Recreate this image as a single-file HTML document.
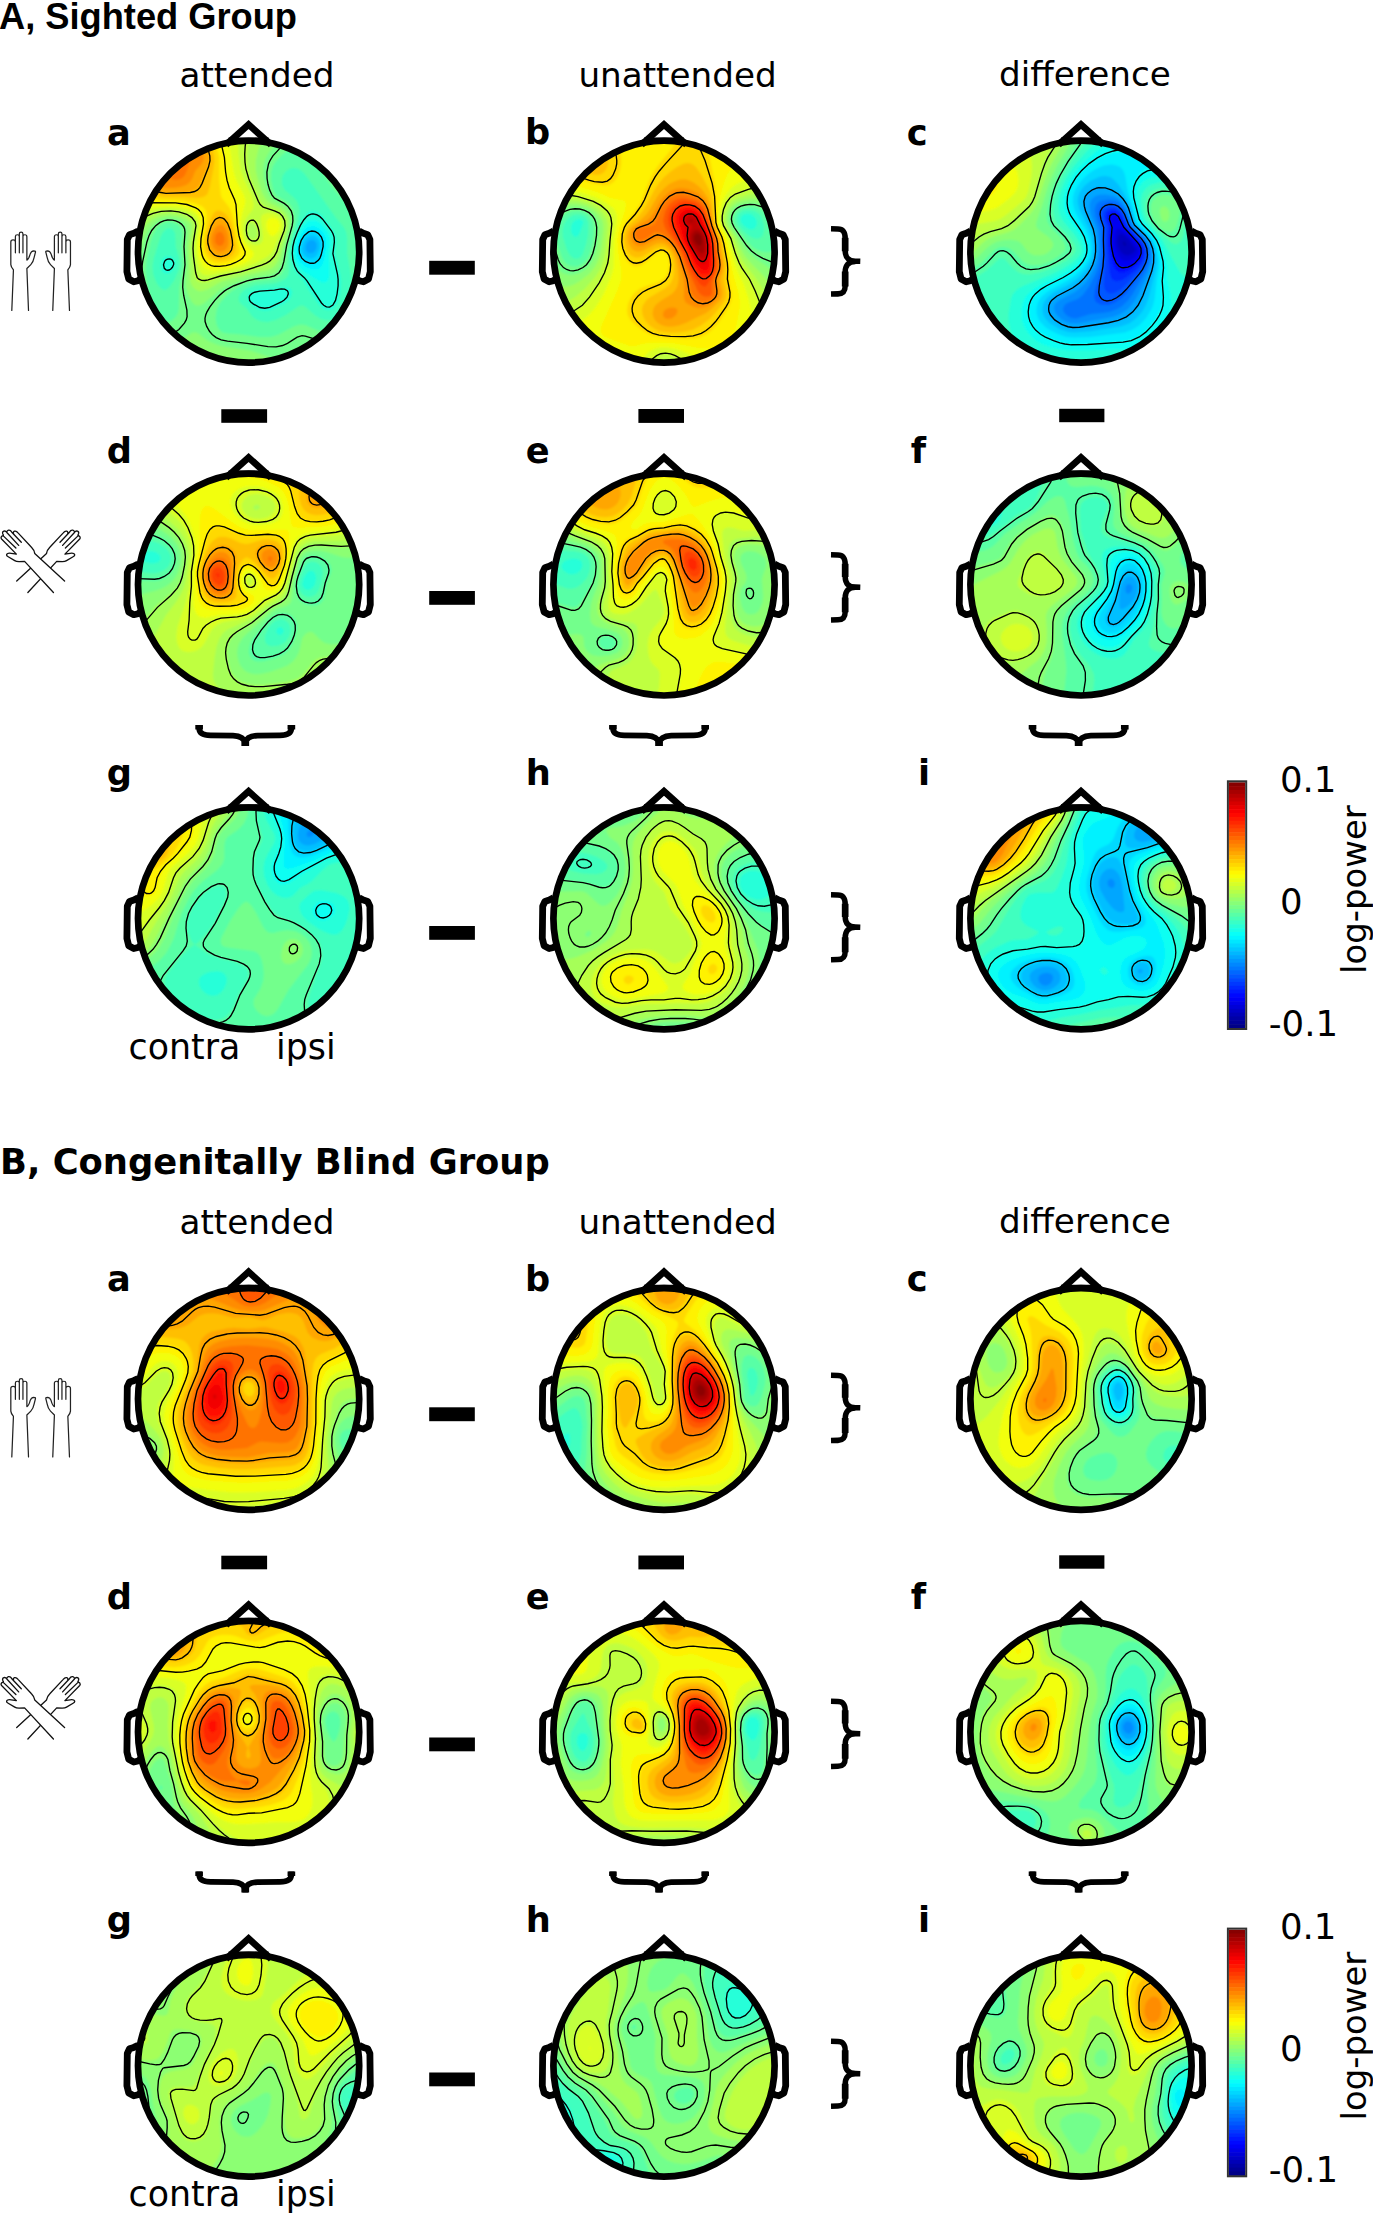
<!DOCTYPE html><html><head><meta charset="utf-8"><title>Topographic maps</title><style>html,body{margin:0;padding:0;background:#fff;overflow:hidden}svg{display:block}</style></head><body><svg width="1373" height="2213" viewBox="0 0 1373 2213"><defs><g id="hd" fill="none" stroke="#000" stroke-width="6.7" stroke-linejoin="round"><ellipse cx="0" cy="0" rx="110.6" ry="110.9"/><polyline points="-22.5,-106.8 0,-127.1 22.5,-106.8" stroke-linejoin="miter" stroke-miterlimit="10"/><path d="M-20,-111.2 H20" stroke-width="6"/><polyline points="-110.5,-20.5 -114.8,-18.3 -119.1,-16.9 -121.3,-12.2 -121.5,3.8 -121.7,20.0 -119.9,27.3 -114.8,30.1 -110.5,29.1 -107.6,26.9" stroke-width="6.8"/><polyline points="110.5,-20.5 114.8,-18.3 119.1,-16.9 121.3,-12.2 121.5,3.8 121.7,20.0 119.9,27.3 114.8,30.1 110.5,29.1 107.6,26.9" stroke-width="6.8"/></g><clipPath id="disc"><circle cx="0" cy="0" r="110.6"/></clipPath><filter id="sm" x="-10%" y="-10%" width="120%" height="120%"><feGaussianBlur stdDeviation="1.2"/></filter></defs><text x="-1" y="28.5" font-family="Liberation Sans, sans-serif" font-size="37.4" font-weight="bold" id="tA" textLength="298" lengthAdjust="spacingAndGlyphs">A, Sighted Group</text><text x="179.5" y="87.0" font-family="DejaVu Sans, sans-serif" font-size="34.2" font-weight="normal" >attended</text><text x="578.4" y="87.2" font-family="DejaVu Sans, sans-serif" font-size="34.2" font-weight="normal" >unattended</text><text x="999.1" y="86.0" font-family="DejaVu Sans, sans-serif" font-size="34.2" font-weight="normal" >difference</text><text x="107.10000000000001" y="144.7" font-family="DejaVu Sans, sans-serif" font-size="35.2" font-weight="bold" >a</text><text x="525.0" y="144.39999999999998" font-family="DejaVu Sans, sans-serif" font-size="35.2" font-weight="bold" >b</text><text x="906.7" y="144.7" font-family="DejaVu Sans, sans-serif" font-size="35.2" font-weight="bold" >c</text><text x="106.7" y="462.7" font-family="DejaVu Sans, sans-serif" font-size="35.2" font-weight="bold" >d</text><text x="525.7" y="462.5" font-family="DejaVu Sans, sans-serif" font-size="35.2" font-weight="bold" >e</text><text x="910.7" y="462.5" font-family="DejaVu Sans, sans-serif" font-size="35.2" font-weight="bold" >f</text><text x="106.7" y="785.1" font-family="DejaVu Sans, sans-serif" font-size="35.2" font-weight="bold" >g</text><text x="525.7" y="785.1" font-family="DejaVu Sans, sans-serif" font-size="35.2" font-weight="bold" >h</text><text x="917.9000000000001" y="785.0" font-family="DejaVu Sans, sans-serif" font-size="35.2" font-weight="bold" >i</text><g transform="translate(248.6,251.65)"><g transform="scale(1,1.0027)"><g clip-path="url(#disc)"><g filter="url(#sm)"><rect x="-112" y="-112" width="224" height="224" fill="#00a6ff"/><path fill="#00bfff" d="M-111.8 -113.4l225.2 0 0 226.8 -226.8 0 0 -226.8zM61.2 -11.3l-2.2 1.6 -1.1 1.6 -1 3.2 .3 3.3 1.1 1.8 1.7 1.2 3.2 .3 1.6 -.8 1.6 -1.5 1.4 -2.6 .4 -3.3 -.3 -1.6 -1.5 -2.3 -1.6 -1.1 -3.2 0z"/><path fill="#00d9ff" d="M-111.8 -113.4l225.2 0 0 226.8 -226.8 0 0 -226.8zM62.3 -16.2l-4 1.8 -2.5 3.1 -2.1 4.8 -.4 4.9 .8 3.2 2.6 3.3 3.3 1.8 3.2 .2 3.2 -1.4 2.2 -2.3 2.3 -4.8 .7 -4.9 -.4 -3.2 -1.6 -3.3 -3.2 -2.6 -3.2 -.7z"/><path fill="#00f2ff" d="M-111.8 -113.4l225.2 0 0 226.8 -226.8 0 0 -226.8zM59.2 -19.4l-4.1 3.7 -3.2 6 -1.5 6.5 .4 4.8 2.7 5.5 4.8 3.8 4.9 1 3.2 -.6 1.7 -.9 3.2 -3.7 2 -5.1 1.4 -8.1 -.4 -4.8 -2.5 -4.9 -3.7 -3.3 -4.9 -1.2 -3.2 .8z"/><path fill="#0dfff2" d="M-111.8 -113.4l225.2 0 0 226.8 -226.8 0 0 -226.8zM59.3 -24.3l-2.6 1.8 -2.6 3.1 -4.2 8.1 -1.9 8.1 .6 7.5 1.5 3.8 1.7 2.7 4.9 4.2 6.5 2.6 3.2 .2 3.3 -.7 3.2 -2.7 2.6 -6.3 2.4 -14.6 -.4 -6.5 -3 -6.1 -4.8 -4.6 -4.9 -1.8 -4.8 .8z"/><path fill="#26ffd9" d="M-111.8 -113.4l225.2 0 0 226.8 -226.8 0 0 -226.8zM60.8 -30.8l-2.5 1.3 -3.5 3.6 -3 4.5 -3.8 8.4 -1.9 6.5 -.6 4.9 .2 4.8 .9 4.9 3.6 7.1 4.9 4.5 16.2 10 3.2 1.1 3.3 -.6 2.1 -2.7 .9 -4.8 -.6 -21.1 1.7 -9.7 -.5 -6.5 -3.2 -6.5 -6.9 -7.6 -4.9 -2.5 -4.8 .1z"/><path fill="#40ffbf" d="M-111.8 -113.4l225.2 0 0 226.8 -226.8 0 0 -226.8zM62.7 -40.5l-2.7 1.1 -1.7 1.3 -3.2 4.2 -3.3 5.8 -4.8 11.4 -2.3 7 -1.3 6.5 -.3 6.4 .7 6.5 1.6 6 2.6 5.4 6.1 6.4 5.5 9.8 9.9 14.5 5 5 3.3 1.4 3.2 .1 3.3 -1.2 1.6 -1.3 2.8 -4 2.2 -6.4 1.2 -8.1 .3 -6.5 -.6 -6.5 -5.6 -22.7 1.3 -11.3 -.3 -4.9 -2.6 -6.5 -10.1 -13.6 -3.2 -3 -3.2 -2 -4.9 -.9zM-82.6 4.9l-1.7 .8 -2.1 2.4 -1.3 3.2 -.2 3.3 .7 3.2 1.3 2.3 1.6 1.4 3.3 .5 3.2 -1.5 1.6 -1.6 2.4 -4.3 .5 -3.3 -.9 -3.2 -2 -2.3 -1.6 -.9 -3.2 -.4zM30.9 35.6l-5 1 -12.9 1 -6.5 1.1 -4.2 1.8 -3.1 3.2 -.5 1.7 .7 3.2 2.2 2.7 4.9 4.1 3.2 2 3.3 1.1 3.2 .5 3.2 -.3 4.9 -1.6 11.2 -5.3 4.1 -3.2 2.5 -3.2 1.5 -4.9 -1.4 -3.2 -3.3 -1.9 -6.5 0z"/><path fill="#59ffa6" d="M-111.8 -113.4l225.2 0 0 226.8 -226.8 0 0 -226.8zM41.2 -82.6l-3.9 2.4 -3 4 -1.1 4.9 .4 4.9 2.6 4.8 9.2 7.9 2.8 3.5 2.1 4.8 .6 4.9 -1.7 9.7 -6.3 19.5 -1.6 6.4 -.8 8.1 .2 14.6 -.6 4.9 -2 3.2 -1.9 1.6 -7 3.2 -4.9 1.1 -17.8 1.8 -8.1 2.8 -3.8 2.5 -2.9 3.2 -1.4 3.3 -.1 3.2 1.8 3.2 6.2 4.9 4.3 6.5 2.4 2.5 3.2 2.3 4.9 1.7 6.4 .4 8.1 -2.1 9.8 -4.8 12.9 -8.7 3.3 -1 3.2 1.4 9.2 8.3 7 4.1 6.5 1.3 6.5 -1.2 4.8 -2.9 2.8 -2.9 2.1 -3.4 3.7 -9.6 2.6 -11.3 .6 -6.5 -.2 -8.1 -3.7 -21.1 0 -14.6 -.9 -6.4 -2.5 -4.9 -7.7 -9.3 -31.5 -44.2 -2.5 -2.5 -3.9 -2.3 -4.2 -.9 -3.3 .5zM-82.3 -22.7l-3.4 3.3 -2.4 4.8 -6.7 21.1 -1.3 8.1 .8 8.1 2.9 7.9 1.7 2.7 3.2 3.5 3.2 1.4 1.7 -.2 3.2 -2.4 4.9 -6.9 4.2 -9.3 1.4 -6.4 -.6 -6.5 -3.3 -11.4 -.6 -12.9 -1.1 -2.7 -1.7 -1.7 -1.6 -.9 -3.2 -.2z"/><path fill="#73ff8c" d="M-111.8 -113.4l225.2 0 0 74.8 -16.5 -11.6 -6.2 -6 -6.4 -7.5 -8.9 -12.5 -7.3 -17.7 -2.7 -4.9 -2.5 -3.3 -3.9 -3.2 -5.5 -1.7 -3.3 .4 -4.8 1.8 -9.8 6.3 -7.9 7.8 -3.4 5.4 -1.7 5.9 -.1 8.1 1.8 8.9 1.8 4.1 2.7 3.2 8.5 4.8 4.8 4.2 2.5 4 1.5 6.5 -1.1 9.7 -6 21 -2.3 17.9 -1.2 4.8 -2.9 4.9 -5.1 3.7 -4.8 1.2 -14.6 1.5 -7.7 1.7 -8.4 3.2 -8.5 4.9 -7.4 6.5 -5.1 6.4 -2.9 6.5 -1.2 8.1 1.1 6.5 2.6 4.9 3.5 2.8 4.8 1.1 11.4 .7 21 2.7 9.8 -.1 4.8 -.9 4.9 -1.7 14.6 -8 6.4 -1.8 4.9 .6 11.4 4.9 4.8 1.5 4.9 .7 6.5 -.5 4.8 -1.4 4.9 -2.7 3.3 -2.8 3.9 -4.8 3.8 -8.1 6.3 -17.9 2.1 -7.9 0 79.2 -226.8 0 0 -226.8zM-82.9 -29.2l-3.7 1.7 -4.1 3.2 -2.6 3.2 -2.6 4.9 -2.2 6.5 -4 17.8 -1 11.3 1 9.5 1.6 8.5 4.2 14.4 3.1 8.2 2.5 4.2 3.2 3.5 3.2 1.9 4.9 .4 3.2 -1.6 3.3 -3.2 2 -3.6 1.2 -4.9 .4 -21.1 3.2 -16.2 .8 -6.4 -1.6 -17.9 .7 -12.9 -1 -4.9 -2.3 -3.2 -1.8 -1.4 -4.9 -2 -3.2 -.4 -3.2 .5z"/><path fill="#8cff73" d="M-111.8 -113.4l143.4 0 -10.2 12.9 -3.8 6.5 -1.8 4.9 -.9 4.8 .1 9.8 2.6 11.3 3.7 8.1 3 3.3 9.7 5.3 4.9 4 3 5.2 .9 4.9 -.7 8.1 -5.2 17.8 -3.4 16.2 -2.7 6.5 -2.5 3.2 -2.4 1.9 -3.2 1.4 -22.7 4.1 -21.8 7.2 -7.8 4.9 -14.1 12 -3.3 2 -3.2 1.1 -3.3 -.5 -3.2 -3.2 -3.6 -6.6 -2.5 -8.1 -.4 -8.1 1.3 -14.5 -.9 -17.9 1.5 -16.2 -1.2 -4.8 -2.3 -2.7 -3.3 -2.2 -4.8 -1.8 -4.9 -.8 -4.8 .2 -3.3 .8 -4.8 2.1 -3.9 2.8 -5.6 6.4 -3.8 8.1 -5.4 22.7 -1.1 11.4 .9 17.8 4.6 27.5 1.9 6.5 2.1 4.9 5.4 7.3 3.2 2.7 4.9 2.5 4.9 1.1 4.8 0 8.1 -2.3 13 -8.1 3.2 -.7 3.3 1.4 9.9 7.4 9.5 4.1 8.1 1.7 25.1 3.9 25.1 8.4 8.1 .8 11.4 -.3 6.5 -.7 11.3 -3.8 16.2 -4.2 11.4 -4.4 6.4 -4.1 5.4 -4.6 5.3 -6.5 3.9 -6.8 0 40.8 -226.8 0 0 -226.8zM87.5 -113.4l25.9 0 0 45.1 -11.6 -9.5 -6.2 -7.8 -2.8 -6.8 -3.2 -12.9 -2.8 -8.1z"/><path fill="#a6ff59" d="M-111.8 -113.4l126.6 0 -5.1 11.7 -2.5 11 0 9.7 2.5 11.3 4.1 11.4 3.8 6.5 3.6 3.2 9.7 4.9 4.5 3.2 3.3 4.9 1.2 4.8 -.1 4.9 -.9 4.8 -4.2 13 -3.9 14.6 -3.6 6.5 -2.9 2.9 -3.2 1.9 -4.9 1.6 -14.6 3 -26.5 6.8 -4.3 1.8 -11.3 6.6 -6.5 2 -3.2 -.3 -3.3 -1.7 -3.2 -3.9 -1.7 -4.5 -1.1 -34.1 2.4 -19.4 -.8 -3.2 -1.1 -1.7 -3.6 -3.2 -7.9 -3.2 -8.9 -1.1 -8.2 1.1 -8 3.2 -6.2 4.9 -5.2 6.4 -3.4 6.5 -3 9.5 0 -108.3zM-113 87.5l4.9 8.1 6 6.2 6.5 4.3 8.1 2.9 6.5 1.1 6.5 0 24.3 -3.5 19.4 .1 11.4 1.9 17.2 4.8 -111.2 0 0 -26.9zM113.4 104.9l0 8.5 -9.3 0 8.9 -8.1z"/><path fill="#bfff40" d="M-111.8 -113.4l113 0 -2.1 12.9 -.4 9.8 1.1 9.7 3 9.7 7.4 17.8 2.8 4.9 3.9 3.2 13.9 5.8 4.1 4 1.6 3.2 .7 3.2 -.1 4.9 -1.2 4.9 -7.8 22.6 -3.2 4.9 -3.8 3.5 -4.9 2.5 -6.7 2.1 -22.5 6.2 -14.5 2.9 -13 4.9 -4.9 .9 -4.8 -1 -1.6 -1.1 -1.9 -3.1 -2.8 -29.1 .4 -6.5 2.7 -16.2 -1.7 -4.7 -3.2 -3.4 -6.1 -3.3 -6.9 -1.8 -8.1 -.7 -9.7 1 -6.5 1.9 -6.5 3.2 -5.8 4.5 -5.5 6.5 0 -90.7zM.8 -27.5l-1.1 1.6 -.6 3.2 .1 4.9 .8 2.6 1.6 2.2 1.6 .8 1.7 .1 2.2 -.9 1.8 -3.2 0 -3.2 -.8 -3.5 -1.6 -3.3 -1.6 -1.7 -1.7 -.6 -1.6 .3z"/><path fill="#d9ff26" d="M-111.8 -113.4l101.5 0 .3 16.2 2.3 16.2 3.4 9.7 7.5 15.4 1.7 7.3 0 3.2 -.7 3.3 -6.2 8.1 -2.6 6.5 -.1 8.1 2 6.4 2.7 3.5 4.9 2.6 4.8 .1 3.3 -2.4 1 -2.1 .4 -3.3 -2.3 -17.8 .8 -3.2 1.7 -1.8 4.8 -1.3 6.5 .8 4.3 2.3 2.9 3.2 1.2 3.2 .3 3.3 -1.6 6.5 -5.8 11.3 -2.9 7.4 -1.7 2.3 -3.6 3.3 -11.2 6.4 -15.9 6.1 -9.7 2.5 -22.7 4 -3.2 -.3 -3.3 -1.5 -2 -2.7 -2.2 -6.4 -1.9 -9.8 -.5 -8.1 .5 -6.4 2.4 -13 0 -3.2 -1.5 -4.9 -4.5 -4.8 -6.5 -3.1 -6.5 -1.6 -8.1 -.8 -8.1 .2 -8.1 1.1 -8.1 2.4 -6.5 3.2 -4.8 3.6 0 -81.2z"/><path fill="#f2ff0d" d="M-111.8 -113.4l91.9 0 .7 8.1 4.7 27.5 2.8 8.1 6.9 13 1.6 4.9 -.5 4.8 -2.8 9.6 -1.3 6.6 -.2 6.5 .8 6.5 1.3 4.8 1.6 3.3 2.7 3.5 6.1 6.2 .7 3.2 -1.8 3.3 -1.8 1.6 -5.3 3.2 -6 2.6 -11.4 3.2 -14.5 1.7 -4.9 -.7 -3.2 -1.6 -2.9 -3.5 -2.2 -4.9 -1.6 -6.5 -.5 -8.1 .6 -6.5 2.1 -11.3 .2 -4.9 -.7 -3.2 -1.5 -3.2 -3.3 -3.6 -4.8 -2.8 -6.5 -2.1 -6.5 -1.1 -8.1 -.4 -11.3 .3 -9.8 1.1 -6.4 1.7 -6.5 2.8 0 -73.7zM21.1 -33.2l3.2 -.6 3.2 .9 1.7 1.2 1.7 2.5 .6 3.3 -.7 3.4 -1.6 3 -3.3 3.1 -1.6 .7 -1.6 0 -1.6 -1 -2.5 -4.4 -.9 -3.2 -.1 -3.2 .9 -3.3 1.4 -1.6z"/><path fill="#fff200" d="M-111.8 -113.4l84.3 0 .8 6.5 2.9 12.9 1.3 14.6 1.4 7.9 2 6.7 5.2 11.3 1.6 4.9 .6 4.9 .7 17.8 1.5 9.7 1.9 6.5 4 8.1 .8 3.2 -1.3 3.3 -1.4 1.6 -7.5 4.6 -8.1 2.7 -9.7 1.2 -5 -.4 -4.7 -1.9 -3.2 -3.1 -3.1 -6.4 -1.1 -4.8 -.3 -6.5 2.7 -17.8 .1 -6.4 -1.6 -5.5 -3.7 -4.3 -4.4 -2.5 -4.9 -1.7 -11.3 -1.9 -29.2 -.4 -6.4 .6 -6.5 1.5 0 -66.9zM25.9 -27.2l.5 1.3 -.5 .7 -1.5 -.7z"/><path fill="#ffd900" d="M-111.8 -113.4l77.8 0 4.7 19.4 0 22.7 1.4 14.6 1.2 3.2 7.3 9.2 2.5 5.4 1.8 6.5 6.3 30.8 -.4 3.2 -.8 1.6 -4.6 4.3 -6.5 2.8 -8.1 1.2 -4.8 -.5 -4.9 -2.3 -3.2 -3.5 -2.4 -5.2 -1 -4.9 -.1 -6.4 3.3 -17.9 .5 -6.4 -.4 -3.3 -1.1 -3.2 -3.1 -3.3 -7.9 -3.2 -12.1 -2.5 -19.5 -.7 -19.4 -1.7 -8.1 .6 0 -60.5z"/><path fill="#ffbf00" d="M-111.8 -113.4l71.4 0 4.2 11.3 1.6 6.5 .3 6.5 -.9 6.5 -3.7 18.7 -2 5.6 -1.2 1.7 -3.3 2.1 -6.4 1 -13 -1.3 -19.6 -.3 -20.9 -3.9 -8.1 -.6 0 -53.8zM-32.4 -40.7l3.2 -.4 4.9 2.2 3.2 3.3 3.3 6.7 3.1 12.7 1.7 11.3 -.8 4.9 -2.1 3.2 -2 1.7 -6.4 2.7 -4.9 .4 -3.2 -.5 -3.2 -1.3 -3.3 -2.7 -1.6 -2.3 -1.6 -3.8 -1 -7.1 1.4 -9.7 4.4 -14.7 1.7 -3.4 2.9 -3z"/><path fill="#ffa600" d="M-111.8 -113.4l63.8 0 7.1 12.9 1.4 4.9 .2 3.2 -1.2 6.7 -8.5 19.3 -2.8 3.5 -4.9 2.4 -6.5 1 -16.2 .9 -4.9 -.3 -4.8 -.9 -16.2 -5.8 -8.1 -1.7 0 -46.1zM-30.8 -32.7l1.6 -.4 3.3 .5 3.2 2.7 3 5.6 1.9 6.5 1.2 8.1 -.2 4.8 -2 4.9 -3.9 3.1 -3.2 1 -3.3 .1 -4.8 -1.5 -4.2 -4.3 -1.8 -4.9 -.4 -6.5 1.5 -7.1 3.3 -7.6 1.6 -2.4 2.7 -2.3z"/><path fill="#ff8c00" d="M-111.8 -113.4l53.4 0 11.4 14 1.8 3.8 .4 1.6 -.5 3.3 -1.8 3.2 -6.4 7.3 -2.8 7.3 -2.1 3.2 -3.2 2.8 -4.8 2 -6.5 1.1 -8.1 .4 -3.3 -.3 -3.2 -1.1 -14.6 -8.8 -4.8 -2 -6.5 -1.9 0 -35.9zM-30.8 -26.2l3.3 -.7 1.6 .6 2.9 3.6 1.9 4.7 1 5 0 4.9 -1 3.5 -2.3 3 -4.1 1.7 -3.3 -.5 -3.9 -2.8 -2.5 -4.9 -.4 -4.9 1.1 -4.8 2.5 -5.1 2.8 -3z"/><path fill="#ff7300" d="M-111.8 -113.4l34.9 0 16.5 14.6 2.3 3.2 .6 3.2 -5.4 14.6 -1.9 2.9 -2.5 2 -2.4 1 -3.2 .4 -3.3 -.6 -1.6 -1 -1.9 -3.1 -1.3 -5.3 -3.3 -3.2 -3.2 -2 -6.5 -3 -6.5 -2.3 -12.9 -2.7 0 -18.7zM-29.2 -19.8l1.7 .2 1.6 1.4 1.1 2 .8 3.2 -.3 3.3 -.7 1.6 -.9 1.3 -1.6 1 -1.7 .1 -2 -.8 -1.6 -1.6 -1.2 -3.2 .8 -4.9 1 -1.6 2 -1.6z"/></g><path fill="none" stroke="#000" stroke-width="1.35" d="M60 -19.7l-4.3 3.5 -3.1 4.9 -1.9 6.4 -.2 3.3 .4 3.2 2.3 4.9 3.5 3.3 4.9 1.8 3.2 0 1.6 -.5 3.3 -2.4 1.6 -2.3 1.3 -3.2 1.9 -8.1 0 -4.8 -1.7 -4.9 -3.1 -3.6 -3.3 -1.9 -3.2 -.5 -1.6 .3zM63.2 -37.6l-3.2 1.2 -1.7 1.2 -3.2 3.6 -3.3 5.4 -3.2 7.1 -2.9 7.8 -1.5 6.4 -.5 6.5 .6 6.5 1.9 6.5 2.4 4.5 1.6 2 5.5 4.8 2.7 3.3 14.5 22 2.2 2.3 2.7 1.6 3.2 .2 3.3 -2 2.6 -4.7 1.6 -6.5 1 -8.1 0 -6.5 -.6 -4.8 -4.6 -20.6 1.5 -11.8 -.3 -4.9 -1.1 -3.2 -1.7 -3.3 -8.7 -11.3 -2.7 -2.5 -3.2 -1.9 -3.3 -.8 -1.6 0M-81 7.4l-1.6 .8 -1.4 1.5 -1.1 3.3 .8 3.6 1.7 1.5 1.6 .4 1.6 -.2 1.6 -1 1.6 -1.7 1.2 -2.6 .1 -1.7 -1.3 -2.7 -1.6 -1.1 -1.6 -.3zM32.4 37.1l-6.5 1.2 -14.6 1 -5.3 1.2 -2.8 1.4 -1.9 1.8 -.7 1.7 .4 3.2 1.2 1.6 2.7 2.1 6.4 3.4 4.9 .7 4.9 -.9 11.6 -5.3 2.9 -1.9 2.8 -2.9 1.3 -3.3 -.2 -1.6 -.8 -1.6 -2.7 -1.6 -3.6 -.2M42.2 -113.4l-6.6 5.7 -11.3 12.1 -3 4.9 -1.4 3.2 -1.6 8.1 .2 6.5 .9 5.7 1.6 5.6 2.3 4.9 2.6 3.3 9.7 5.3 3.5 2.7 3.6 4.9 1.4 4.9 .2 4.8 -.7 4.9 -5.5 19.4 -2.8 16.2 -1.9 6.5 -3.1 4.9 -4.4 3.1 -4.8 1.2 -14.6 1.9 -8.1 1.9 -13 4.8 -6.5 3.3 -3.2 2.1 -5 4.3 -4.5 4.9 -4.9 6.5 -2.9 4.9 -1.3 3.2 -.7 3.2 .1 3.3 1.6 4.8 2.8 4.9 2.7 3.2 4 3.1 4.9 2.2 6.4 1.4 19.5 2.1 21 3.3 8.1 .2 6.5 -1.3 4.9 -2.2 9.7 -6.1 4.9 -1.6 3.2 .5 13 4.1 4.8 .5 6.5 -.2 6.5 -1.5 4.9 -2 4.8 -3.1 4.6 -4.2 3.5 -4.6 2.8 -5.1 5.3 -14.5M113.4 -52.6l-8.5 -5.7 -7.7 -6.2 -8.1 -7.9 -4.8 -5.8 -1.8 -2.8 -1.2 -3.3 -3.1 -12.9 -2.1 -6.5 -2.3 -4.9 -3.9 -4.8M-84.3 -31l-4.2 1.8 -4.4 3.3 -4 4.8 -2.6 4.9 -2.2 6.5 -4.2 19.4 -.7 4.9 -.2 6.5 .9 11.3 1.2 8.1 4.4 19.5 2.6 8.1 3.6 6.4 3.4 3.8 4.8 3.2 4.9 1.1 3.2 -.3 3.3 -1.3 4.8 -3.4 5.5 -6.3 1.8 -3.2 .9 -3.3 -.2 -6.5 -3.2 -14.6 -1 -8.1 .3 -6.4 2 -16.2 -1 -17.9 1 -14.5 -.4 -3.3 -.8 -2 -2.3 -2.8 -2.4 -1.7 -3.4 -1.5 -3.3 -.8 -4.8 -.1 -3.3 .6M-2.3 -113.4l-1.1 8.1 -.5 8.1 .3 8.1 .9 6.5 2.8 9.7 9.6 22.6 1.9 3.3 3 2.7 11.3 3.6 4.9 2.3 3.2 3.2 2.1 4.4 .4 4.9 -.9 4.7 -5 13.1 -2.4 8.1 -2.7 4.9 -4.4 4.6 -3.3 2 -4.8 2 -21.1 6.6 -20 4.2 -12.4 3.9 -3.2 .6 -3.3 -.1 -2.8 -1.2 -1.6 -1.6 -1.5 -4.8 -2.2 -16.2 -.5 -8.1 .4 -6.5 2.6 -16.2 -.9 -3.9 -3.2 -4.2 -5.1 -3.3 -7.9 -2.4 -8.1 -.9 -9.7 .5 -8.1 1.9 -6 2.6 -5.3 3.5 -6.5 6.2M1.6 -31l-2.1 1.8 -1.5 3.3 -.3 4.8 .7 4.9 1.6 3.2 1.6 1.4 1.6 .8 3.3 .2 1.6 -.7 1.6 -1.8 .9 -3.1 -.1 -3.2 -.8 -3.9 -1.6 -4.5 -1.6 -2.4 -1.6 -1.1 -1.7 -.2zM-28 -113.4l.8 6.5 3 12.9 1.2 14.6 1.4 8.1 2.2 7.5 5.4 12 1.4 4.8 1.4 21.1 1.5 9.7 1.9 6.5 4.4 9.7 -.3 3.2 -2.4 3.3 -2 1.6 -4.9 2.7 -4.8 1.9 -4.9 1.2 -6.5 .8 -4.8 -.1 -3.3 -.7 -3.2 -1.6 -2.8 -2.6 -2 -3.2 -1.3 -3.3 -1.4 -8.1 .4 -8.1 2.5 -14.5 -.3 -6.5 -1.9 -4.9 -2.9 -3.2 -2.6 -1.6 -8.8 -3.3 -11.3 -1.6 -27.6 -.3 -6.4 .5 -6.5 1.5M-46.7 -113.4l6.6 12.9 1.3 4.9 .2 4.9 -1.5 6.4 -6.4 16.2 -2.1 4 -2.4 2.5 -3 1.6 -4.3 1 -24.3 .9 -6.5 -1.1 -16.2 -5.2 -8.1 -1.6M-29.2 -34.1l3.3 .6 1.6 1 3.2 3.9 2.9 7.5 1.9 9.8 .3 4.8 -1.1 4.9 -2.3 3.3 -2.3 1.5 -2.6 1.1 -3.2 .6 -3.3 -.3 -3.2 -1.2 -1.6 -1.2 -3.3 -4 -1.8 -6.3 -.2 -3.2 .6 -4.9 3 -9.5 3.3 -5.6 1.6 -1.5 2.7 -1.2z"/></g></g><use href="#hd"/></g><g transform="translate(664.0,251.65)"><g transform="scale(1,1.0027)"><g clip-path="url(#disc)"><g filter="url(#sm)"><rect x="-112" y="-112" width="224" height="224" fill="#26ffd9"/><path fill="#40ffbf" d="M-111.8 -113.4l225.2 0 0 226.8 -226.8 0 0 -226.8zM80.3 -37.3l-2.4 1.7 -1 1.6 -.3 3.2 1.2 2.7 3.2 3.3 3.3 1.9 3.2 .7 1.6 -.2 1.6 -.9 1.8 -2.6 .4 -3.3 -.8 -3.2 -2.5 -3.2 -2.1 -1.4 -3.2 -.9 -3.3 .3zM-89.5 -30.8l-1.6 1.6 -1.6 3.3 -.3 4.8 .6 2.4 1.7 2.8 1.6 1.2 1.6 -.1 1.6 -1.3 1.6 -2.6 3.8 -10.5 -.6 -1.6 -3.2 -1.6 -1.6 .1 -3.2 1.3z"/><path fill="#59ffa6" d="M-111.8 -113.4l225.2 0 0 226.8 -226.8 0 0 -226.8zM78.3 -40.5l-3.8 2.8 -1.7 3.7 .1 4.2 1.8 3.9 4.7 5.5 6.5 5.3 4.8 2.1 3.3 .1 1.6 -.4 3.1 -2.9 1.4 -4.9 -.2 -6.4 -2.1 -6.5 -2.3 -3.3 -4.8 -3.2 -6.4 -1.3 -4.9 .8zM-92.4 -35.6l-4.4 3.2 -3.2 4.9 -1.5 6.4 .3 6.5 4 12.4 3.2 6 1.6 1.6 3.3 1.6 3.2 -.1 1.6 -.7 1.7 -1.3 1.6 -2.8 3.3 -10.2 1.8 -9.7 .2 -11.4 -2.1 -4.5 -3.2 -2.4 -4.9 -1 -3.2 .4 -3.3 1z"/><path fill="#73ff8c" d="M-111.8 -113.4l225.2 0 0 226.8 -226.8 0 0 -226.8zM77.4 -43.7l-5 3.2 -2.8 4.9 -.4 4.8 1 3.3 1.8 3.2 10.6 13.8 6.5 6.3 4.9 2.7 4.8 1.6 4.9 .4 3.3 -.5 2.9 -1.6 1.4 -1.6 1.1 -3.3 .1 -3.2 -1.9 -8.1 -7 -17.8 -4.8 -5.4 -6.4 -3.4 -6.5 -.9 -8.1 1.4zM-91.3 -40.5l-4.3 1.3 -3.2 1.7 -5.3 5.1 -1.9 3.2 -1.8 4.9 -.9 8.1 1.7 8.1 4.9 13.5 2.4 4.3 2.5 2.6 3.2 1.8 3.3 .7 3.2 -.1 3.2 -1 3.9 -2.4 2.6 -2.7 2.3 -3.7 2.4 -6.5 1.8 -7.4 1.2 -8.8 .1 -6.5 -.8 -4.9 -1.2 -3.2 -4 -4.9 -3.4 -2 -3.2 -1 -3.3 -.5 -4.8 .2z"/><path fill="#8cff73" d="M-111.8 -113.4l225.2 0 0 79.4 -5.4 -6.5 -6.4 -4.9 -6 -2.5 -8.1 -.9 -9.7 1.5 -3.3 1.2 -3.2 2.1 -3.9 5.1 -1.1 3.3 -.3 3.2 .4 3.2 1.7 4 6.1 9 6.8 11.9 3.3 4.6 8.1 7.2 21 14.1 0 91.8 -226.8 0 0 -114.5 4.6 14.1 1.9 3.2 3.2 3.4 3.2 2.1 4.9 1.4 4.9 -.1 4.8 -1.3 4.9 -2.5 4 -3 2.9 -3.2 3 -4.9 2.5 -6.5 1.6 -6.5 2 -16.2 -.9 -8.1 -1.3 -3.2 -2.5 -3.8 -2.6 -2.7 -3.9 -2.5 -8.1 -2.6 -8.1 -.3 -8.1 2.3 -7 4.7 -2.9 3.3 -3 4.8 0 -84.2z"/><path fill="#a6ff59" d="M-111.8 -113.4l225.2 0 0 67.7 -9.7 -4.9 -8.1 -2.2 -8.1 .1 -9.7 2 -6.5 2.5 -4.7 4.5 -2.5 4.8 -1.1 6.5 .5 3.2 1.1 3.3 7.3 11.3 5.9 13.6 3.2 5.6 4.9 5.8 13.7 13.9 13.8 16.8 0 72.3 -226.8 0 0 -83 3.2 2.3 4.9 1.9 4.8 .5 4.9 -.6 4.9 -1.5 4.8 -2.4 11.4 -8.5 5.9 -7.5 3.8 -8.5 2.4 -11 1.9 -17.8 -.3 -4.8 -.8 -3.3 -3.2 -5.8 -5.8 -5.5 -7.2 -3.6 -9.7 -2.2 -4.9 -.2 -4.8 .4 -8.1 2.5 -8.1 5.1 0 -73.3z"/><path fill="#bfff40" d="M-111.8 -113.4l225.2 0 0 58.6 -11.3 -2.9 -8.1 -.5 -6.5 .8 -14.6 4.1 -4.8 2.9 -4.3 5 -2.6 6.5 -.9 6.5 1.5 6.5 7.1 11.3 5.6 15.8 2.5 5.3 4 6.3 9.3 11.5 5.4 8.1 5.6 9.7 12.1 23.8 0 47.5 -99.7 0 -7.2 -4.8 -4.9 -1.6 -1.6 0 -3.2 1.5 -4.6 4.9 -105.6 0 0 -59.5 4.8 -.2 4.9 -1.1 8.1 -3.4 6.5 -3.6 9.7 -8.3 11.3 -12.9 4.9 -8.2 3.3 -9.7 1.6 -9.2 2.2 -23.2 -1.2 -6.5 -3.8 -6.5 -5.3 -4.9 -8.1 -4.3 -11.4 -3.1 -9.7 -.9 -8.1 1.1 -9.7 3.5 0 -65.9z"/><path fill="#d9ff26" d="M-111.8 -113.4l225.2 0 0 48.4 -11.3 -.6 -8.1 .5 -9.7 2.3 -13 4.8 -4.9 3.4 -4.5 6 -2.6 6.5 -1.3 6.5 0 4.8 1.3 4.9 7.3 12.9 4.7 15.6 3.2 8.2 3.3 6.1 7.2 10.6 5.4 11.4 5.7 14.6 6.3 19.4 1.9 11.4 -.5 11.3 -3 9.7 -5.1 8.1 -68.1 0 -15.2 -9.7 -5.9 -2.2 -4.9 -.7 -4.8 .5 -4.9 2.2 -4 3.4 -5.2 6.5 -96.1 0 0 -38.6 24.3 -14.9 8.1 -5.7 6.5 -7.5 9.7 -14.4 5.9 -11.2 3.1 -9.8 1.2 -8.1 .9 -14.5 1.9 -16.2 -.8 -6.5 -1.3 -3.3 -2.3 -3.2 -5.4 -4.9 -8.1 -4.7 -16.2 -5 -8.1 -1.5 -9.7 .2 -9.7 2.1 0 -59.1z"/><path fill="#f2ff0d" d="M-111.8 -113.4l225.2 0 0 35.2 -12.9 1.6 -9.8 2.1 -11.3 4 -8.1 4.1 -4.9 3.8 -4.8 6.4 -3.3 7.3 -2 8.4 -.6 8.1 .7 4.9 8 16.2 6.9 24.7 2.9 7.7 6.2 12.9 3.7 11.4 2.5 9.7 2.9 17.8 .4 8.1 -.5 4.9 -1.3 4.8 -3.8 7.8 -4.9 5.6 -6.5 4.7 -8.1 3.3 -8.1 .9 -6.5 -.8 -6.5 -1.9 -24.3 -10.4 -7.7 -2.7 -8.5 -1.5 -6.4 0 -4.9 1 -4.9 2 -4.3 3.4 -5.7 6.5 -2.9 2.4 -3.3 1.5 -4.8 .9 -3.3 -.2 -4.8 -1.1 -9.7 -4.5 -3.3 -.9 -19.4 .1 -8.1 -1.2 -4.8 -1.9 -2.6 -1.6 -3.1 -3.3 -1.8 -3.2 -.7 -3.2 .2 -4.9 .9 -3.2 2.5 -4.9 5.4 -6.5 11.5 -9.7 5.8 -6.5 4.5 -6.7 5.3 -9.5 6.3 -14.6 2 -6.5 .8 -4.8 .3 -25.9 2.7 -17.9 .2 -6.4 -1.5 -4.9 -2.5 -3.2 -8.8 -6.3 -8.1 -4.2 -17.8 -5.5 -8.1 -1.9 -9.7 -.6 -9.7 .9 0 -52.1z"/><path fill="#fff200" d="M-111.8 -113.4l225.2 0 0 13.5 -24.3 5.3 -8.1 2.7 -6.5 3.1 -4.8 3.6 -3.3 3.5 -3.2 5.1 -3.2 8 -3.3 11.3 -2 10.3 -.9 9.7 .3 8.1 .8 3.3 5.7 11.3 1.7 4.9 7.4 34.3 5.1 17.5 1 8.1 -.2 6.5 -3.3 17.8 -1.8 4.9 -3 4.9 -4.5 4.8 -6.3 4.5 -6.5 2.3 -6.5 .7 -9.7 -.7 -22.7 -4.2 -12.9 -1.2 -13 .4 -6.5 1 -8.1 2.1 -4.8 0 -21.1 -7.3 -4.9 -2.4 -1.9 -1.7 -1.6 -3.2 .8 -4.9 16.7 -37.2 3.3 -9.8 .2 -8.1 -3.7 -21 -.4 -11.4 1.6 -9.7 6.4 -19.4 .4 -6.5 -1 -1.6 -1.3 -.9 -13 -2.4 -12.9 -5.8 -22.7 -7 -11.4 -2.3 -12.9 -.4 0 -44.4z"/><path fill="#ffd900" d="M-111.8 -113.4l65.3 0 .3 4.8 2.8 11.4 .6 4.8 -.1 4.9 -1.2 6.5 -2.5 6.5 -3.6 5.1 -4.8 3 -5 .5 -12.5 -2.2 -24.7 -7.8 -8.1 -1.5 -8.1 -.7 0 -35.3zM14.6 -113.4l26 0 5 19.4 5.4 27.6 .9 9.7 -.1 19.4 .6 8.1 1.1 4.1 5.6 12.1 1.3 4.9 3.8 19.4 .6 16.2 3 14.6 -.5 6.5 -2.5 6.5 -9.3 14.6 -6.9 7.9 -4.9 4 -6.4 3.2 -6.5 1.6 -8.1 .4 -22.7 -1.3 -13 -2.4 -4.8 -2.1 -3.3 -2.1 -7.7 -6 -4.8 -4.8 -2.6 -4.9 -.7 -4.9 1 -6.5 3.1 -6.4 3.6 -4.5 4.9 -3.8 4.9 -2.3 12.9 -4.1 3.3 -1.6 3.2 -2.4 3 -4 1.3 -3.3 .9 -4.8 0 -4.9 -1.1 -4.8 -1.9 -3.3 -2.2 -1.6 -3.2 -.3 -4.9 2.1 -9.7 8.6 -4.9 3.3 -4.8 1.2 -3.3 -.5 -4.8 -3.4 -3.3 -4.5 -3.1 -8.1 -1.3 -8.1 .6 -8.1 2.7 -8.1 2.7 -4.3 9.7 -11.9 4.9 -7.8 7.4 -19.8 5 -9.7 5.4 -7.7 12.2 -15 6.8 -11.3z"/><path fill="#ffbf00" d="M-111.8 -113.4l47.9 0 1.9 6.5 5.6 12.9 .6 6.5 -1.6 4.9 -2.6 3.4 -3.2 2 -4.9 .7 -6.4 -1.4 -22.7 -8.7 -8.1 -2.1 -8.1 -1.2 0 -23.5zM19.4 -87.7l3.3 -.7 3.2 .3 3.3 1.5 2.7 2.3 5.4 7.7 8.1 15 1.8 4.9 1.4 6.2 2.6 23 6.4 16.2 4.2 24.3 -.1 4.8 -1.5 9.7 2.4 14.6 -.5 3.3 -1.1 3.2 -2.1 3.2 -8.7 10.7 -4.8 4.9 -8.1 6.1 -8.1 4.2 -6.5 1.8 -8.1 1.1 -8.1 .2 -6.5 -.6 -4.9 -1.1 -4.8 -2.1 -4.9 -3.5 -3.4 -3.8 -2.1 -3.3 -1.7 -4.8 -.2 -4.9 .9 -3.2 3.2 -4.9 3.3 -2.9 16.2 -9.4 3.3 -2.7 2.1 -2.8 2.1 -4.9 .7 -4.8 -.1 -8.1 -1.3 -6.5 -2 -4.9 -2.5 -3.2 -3.9 -2.5 -3.2 -.4 -5 1.3 -11.2 7.1 -3.3 1.5 -4.8 .7 -3.3 -.9 -3.2 -2.2 -3.3 -4.5 -1.8 -5 -.8 -4.8 .5 -6.5 2.6 -6.5 2.8 -3.3 6.5 -5.4 6.1 -7.5 4.1 -6.5 7.6 -14.5 4.8 -7.2 4.9 -5.4 6.5 -5.8 6.5 -4.6 5.9 -3z"/><path fill="#ffa600" d="M-111.8 -113.4l19.1 0 -2.9 2.2 -3.2 1 -14.6 1.1 0 -4.3zM14.6 -71.6l4.8 -.7 3.3 .3 6.5 2.8 4.8 3.6 4.9 4.6 4.8 6.9 3.1 8.7 2.9 17.9 6.1 16.2 1.4 11.3 2 9.7 .2 4.9 -.6 4.8 -2.4 8.1 .2 3.3 1.8 8.1 .1 3.2 -.7 3.3 -1.8 3.2 -7.4 7.7 -6.5 4.8 -21.1 10.2 -6.4 2.4 -4.9 1 -4.8 .3 -4.9 -.8 -3.2 -1.2 -3.3 -2.1 -2.6 -2.8 -1.7 -3.3 -.6 -3.2 .8 -4.9 2.5 -3.8 4.9 -3.9 11.3 -6.9 3.2 -3.6 2.2 -4.5 1.2 -6.5 -.8 -9.7 -2.3 -11.3 -2.9 -6.5 -2.3 -3.2 -3.2 -2.9 -3.2 -1.7 -3.2 -.6 -3.3 .3 -3.2 1.2 -11.4 6 -3.2 .8 -3.2 0 -3.3 -1.5 -3.2 -3.6 -1.9 -4.5 -.6 -4.9 .8 -4.8 1.7 -3.3 3.2 -3.2 5.2 -3.3 8 -8.1 3.4 -4.8 7.7 -13.1 4.9 -6.3 6.5 -5.6 4.8 -2.7 4 -1.5z"/><path fill="#ff8c00" d="M16.2 -63.3l6.5 .5 6.5 2.3 6.4 3.5 4.9 4.6 2.4 3.8 1.9 4.9 3.5 16.2 5 12.9 1.2 4.9 .8 9.7 2 13 -.8 6.4 -3.1 8.1 .1 3.3 1.6 8.1 -.4 4.8 -2.9 4.8 -4.8 4.1 -4.9 2.4 -4.8 1 -3.3 0 -3.8 -.9 -7.1 -3.3 -2 -1.9 -1.2 -4.5 .4 -13 -1.1 -8.1 -3.8 -14.6 -2.2 -6.5 -3.5 -6.4 -3.2 -4 -3.3 -2.8 -3.2 -1.8 -4.9 -1 -4.8 1.2 -11.4 5.6 -4.8 .4 -2.2 -.9 -2.1 -1.6 -2.5 -4.9 -.1 -4.8 2 -4.3 2.5 -2.2 11.1 -6.5 3.6 -3.2 3.4 -4.9 6.5 -11.3 3.7 -4.8 6.5 -5.3 4.8 -2.1 3.6 -.8zM4.9 56.2l3.2 -.5 3.2 .5 1 .5 1.1 1.6 0 1.7 -1.4 3.2 -4 3.2 -4.8 .7 -2 -.7 -1.7 -1.6 -.6 -1.6 .6 -3.2 1.4 -1.7 2.6 -1.6z"/><path fill="#ff7300" d="M13 -57l6.4 -.6 8.1 1.9 6.5 2.4 4.9 3.9 2.7 4 1.5 3.3 4.3 16.2 4.8 12.9 3.1 26 -.9 6.4 -2.8 6.5 -.7 3.3 .9 12.9 -1.4 3.3 -1.5 1.6 -5.2 2.8 -4.8 .4 -3.3 -.8 -3.9 -2.4 -2.8 -3.3 -2 -4.8 -2.4 -11.4 -3.8 -9.7 -4.9 -14.6 -4.5 -8.3 -6.4 -7.8 -6.5 -4.9 -4.9 -1.8 -3.2 .6 -7.7 6 -5.3 2 -3.2 -.7 -1.6 -1.2 -1.5 -3.3 .3 -3.2 .7 -1.7 2.1 -1.8 4.8 -1.5 8.1 -1.2 3.3 -2.1 1.6 -2.5 6 -13.5 3 -4.9 5.6 -5.4 5.4 -2.7z"/><path fill="#ff5900" d="M13 -52.3l3.2 -.8 4.9 -.1 11.3 2.7 3.2 2 3.3 3.3 1.9 3.1 1.9 4.8 2.8 9.8 5.7 16.2 2.2 22.6 -.5 6.5 -4.8 13 -.1 11.3 -1 1.6 -1.6 .9 -3.3 .5 -3.2 -.8 -3.2 -2.2 -1.7 -2 -10.3 -22.3 -6.8 -17.8 -5.6 -9.3 -8.8 -11.8 -1.7 -3.2 -1.4 -4.9 -.1 -3.2 1.9 -8.1 4.1 -6.5 2.8 -2.6 3.7 -2.2z"/><path fill="#ff4000" d="M14.6 -48.8l4.8 -1.1 6.5 .4 4.9 1.3 4.8 3 2.7 3.1 2.2 4 8.4 23.5 1.5 8.1 1.2 16.2 -.3 6.5 -.7 3.2 -2 4.4 -4.9 8.3 -1.6 2.1 -1.6 .7 -1.6 -.3 -3.3 -2.6 -7.1 -10.9 -3.3 -6.5 -5 -13 -13 -22.7 -2.2 -4.8 -1.1 -6.5 1.2 -6.5 1.6 -3.2 2.6 -3.3 4.9 -3.2z"/><path fill="#ff2600" d="M22.7 -47l4.8 .5 3.3 1 3.2 2 2.9 3 3.4 6.5 7.6 21 1.1 8.1 .7 14.6 -.3 6.5 -.7 3.2 -1.7 3.3 -3.3 3.4 -3.2 1.5 -3.2 -.7 -1.7 -1.3 -3.2 -3.7 -3.2 -4.9 -6.5 -15.4 -11.8 -22.7 -2.5 -6.4 -.5 -6.5 .7 -3.3 1.5 -3.2 2.9 -3.2 2.5 -1.7 2.3 -.9 4.2 -.7z"/><path fill="#ff0d00" d="M21.1 -44.1l4.8 -.1 3.3 .7 3.2 1.6 3.2 3 2.8 4.9 7.7 19.4 1.5 9.7 -.1 19.5 -.6 3.2 -1.5 3.2 -3.3 2 -3.2 -.1 -1.6 -.8 -3.3 -3 -3.2 -4.6 -5.7 -12.9 -6.2 -11.3 -6.5 -16.2 -1.1 -6.5 1.1 -4.9 2.1 -3.2 1.7 -1.5 3.7 -1.7z"/><path fill="#f20000" d="M21.1 -41.1l3.2 -.6 3.2 .3 3.3 1.2 3.2 2.7 2.3 3.5 7.8 17.8 1.8 8.1 .3 11.3 -1.6 11.4 -.9 2.3 -1.6 1.5 -1.6 .2 -3.2 -1.3 -4.9 -5.4 -11.8 -23.2 -5.9 -19.5 .2 -3.2 1.3 -3.2 3.6 -3.3z"/><path fill="#d90000" d="M24.3 -39l4.9 .7 3.5 2.7 8.5 16.2 1.9 4.8 1.3 6.5 .2 9.7 -1.4 6.5 -1.1 2.5 -1.6 1.6 -1.6 .2 -1.6 -.5 -3.3 -2.8 -9 -15.6 -2.1 -4.8 -1 -4.9 -.3 -6.5 -3.2 -6.5 -.4 -3.2 1.4 -3.7 1.7 -1.6 2.9 -1.2z"/><path fill="#bf0000" d="M24.3 -35.8l3.2 -.2 3.4 2 1.5 2.3 2.2 5.8 4.3 5.6 2.6 5.7 1.2 6.5 .1 8.1 -1.5 4.9 -.8 1.1 -1.6 .9 -1.6 -.1 -3.3 -2.6 -6.6 -10.7 -2.3 -4.8 -.5 -3.3 .2 -3.2 3.1 -6.5 -.1 -1.6 -4.1 -1.6 -1.6 -1.7 -.6 -1.6 .7 -3.2 1.9 -1.6z"/><path fill="#a60000" d="M25.9 -31.7l1.6 -.3 1.3 1.2 -.5 1.6 -1.8 0 -1 -1.6zM30.8 -21.2l1.6 -.6 3.2 1.1 2.6 2.9 1.5 3.2 .9 4.9 0 6.5 -.4 3.2 -1.3 1.9 -1.6 0 -3.3 -2.8 -4.8 -6.8 -1.7 -3.4 -.2 -5.1 1.6 -3.2 1.7 -1.7z"/><path fill="#8c0000" d="M32.4 -18.1l1.6 0 1.6 .8 1.8 2.7 .6 3.3 -.4 3.2 -.3 1 -1.7 1.2 -3.2 -2 -2.2 -3.4 -.4 -3.3 .5 -1.6 1.7 -1.6z"/></g><path fill="none" stroke="#000" stroke-width="1.35" d="M113.4 -25.4l-5.7 -10.2 -3.9 -4.9 -3.3 -2.7 -3.3 -1.8 -6.5 -1.9 -4.8 -.2 -4.9 .6 -4.2 1.1 -3.2 1.7 -2.3 1.8 -2.2 3 -1.3 3.3 -.4 3.2 .7 3.8 2 4.3 12.5 18.2 4.9 5.5 4.9 3.7 6.4 3.5 8.1 3.4 6.5 1.9M-94 -42.1l-4.6 1.6 -2.9 1.6 -3.9 3.3 -2.6 3.2 -1.8 3.2 -1.9 4.9 -.8 3.2 -.3 4.9 1.4 8.1 3.2 8.1 2.4 8.1 2.1 4.2 3.2 3.6 3.1 1.9 3.4 1.1 3.3 .2 4.8 -1 4.9 -2.3 3.5 -2.8 3.6 -4.9 2.8 -6.5 2.1 -8.1 1.5 -9.7 .2 -8.1 -.9 -4.9 -1.2 -3.2 -2.1 -3.2 -3.5 -3.3 -4.4 -2.3 -4.9 -1.3 -4.8 -.3 -4.9 .7M113.4 -64l-11.3 -.9 -9.7 .7 -8.1 2 -13 4.7 -4.9 3.4 -4.2 5.5 -2.7 6.5 -1.3 6.5 0 4.8 1.3 4.9 7.4 12.9 4.4 14.7 3.9 9.6 2.6 4.8 7.8 11.4 5.5 11.4 5.8 14.6 6.6 19.4 2 11.4 .2 6.4 -.5 4.9 -1.1 4.9 -1.7 4.8 -4.8 8.1M-113.4 72.7l17.8 -10 14 -9.2 7.1 -8.2 9.7 -14.2 5.3 -10 3.3 -9.8 1.2 -8.1 1 -14.5 1.8 -16.2 -.9 -6.5 -1.3 -3.3 -2.3 -3.2 -6.5 -5.6 -7.5 -4.1 -15.2 -4.6 -8.1 -1.4 -9.7 .3 -9.7 2.1M26.3 113.4l-9.3 -6.5 -5.7 -3.1 -4.8 -1.8 -4.9 -.8 -4.8 .6 -4.2 1.9 -3.9 3.2 -5.3 6.5M-52.5 -113.4l.7 6.5 4 11.3 .6 4.9 -.1 3.2 -1 4.9 -2.7 6.4 -2.5 3.4 -3.2 2.4 -4.9 1.2 -8.1 -.6 -5.5 -1.5 -22 -7.3 -8.1 -1.7 -8.1 -.9M24.3 -110.4l3.2 -.4 3.3 1.3 2.6 2.6 2.2 3.6 5.5 12.6 7.1 22.6 2.4 13 1.3 25.9 1.4 4.9 4.6 9.7 1.9 6.5 3.6 19.4 .4 6.5 -.4 9.7 2.6 13 -.1 4.9 -1.2 4.8 -2.7 4.9 -6.9 9.9 -3.5 4.7 -4.6 4.9 -4.9 4 -4.8 2.9 -8.1 2.5 -8.1 .8 -14.6 -.3 -11.4 -1.3 -6.4 -1.7 -4.9 -2.4 -5.9 -4.6 -4.8 -4.8 -3.3 -4.9 -1.5 -4.8 -.2 -3.3 .5 -3.2 2 -4.9 3.5 -4.5 4.4 -3.6 5.3 -2.8 12.8 -5.3 5 -3.6 3.1 -4.5 1.5 -4.9 .5 -6.4 -.5 -4.9 -1.3 -4.4 -1.7 -2.6 -3.2 -2.4 -3.2 -.4 -4.9 1.8 -9.7 7.6 -4.9 2.9 -4.8 1 -3.3 -.5 -3.2 -1.9 -1.6 -1.5 -3.1 -4.5 -2.5 -6.4 -1 -6.5 .5 -8.1 2.1 -6.5 2.3 -3.8 8.5 -9.2 6.1 -8.7 3.2 -5.8 6.1 -14.6 4.5 -8.1 4 -5.7 6.5 -7.6 17.8 -19.3 4.4 -3.1zM13 -58.7l6.4 -.5 6.5 1.5 8.1 3 4.9 3.9 2.7 3.8 2.1 4.8 4.2 16.3 4.8 12.9 1 4.9 .4 8.1 1.5 8.1 .4 4.9 -.5 4.8 -3.2 8.1 -.7 3.3 1.3 9.7 -.1 3.2 -1 2.8 -1.6 2.2 -3.2 2.6 -3.3 1.5 -4.8 .8 -4.9 -1 -3.8 -2.4 -3 -3.2 -2 -4.9 -2.1 -13 -7.4 -22.6 -4.4 -8.6 -3.2 -4.4 -3.2 -3.4 -3.3 -2.5 -3.2 -1.8 -4.9 -1 -3.2 1 -9.7 5.8 -4.9 .8 -3.2 -1.3 -1.7 -1.8 -.9 -2.3 -.2 -3.2 .4 -1.6 2.2 -3.3 3.4 -1.8 8.8 -3 4.2 -2.7 2.7 -3.8 5.7 -11.4 3.2 -4.8 5 -4.9 6.3 -3.2zM16.2 -45.5l4.9 -1.3 4.8 .2 4.9 1.3 4.5 3.2 3.6 5.1 7.4 19.2 1.5 4.8 .9 4.9 .9 16.2 -.1 6.5 -1 4.8 -1.5 3.1 -1.6 1.9 -3.3 2.5 -3.2 .3 -1.6 -.7 -3.3 -2.8 -3.2 -4.4 -3.5 -6.3 -4.5 -11.4 -6.2 -11.3 -6.9 -14.6 -1.6 -6.5 0 -3.2 .7 -3.3 2.8 -4.8 4.3 -3.3zM24.3 -37.6l3.2 0 1.7 .5 3.2 2.7 4.1 8.5 4 6.6 1.9 4.7 1.3 7.6 0 8.8 -1.6 5.4 -1.6 2.1 -1.6 .6 -1.6 -.3 -1.7 -1.1 -1.9 -2 -7.8 -13.2 -2 -4.6 -.8 -4.9 .9 -8.1 -2.9 -3 -1.5 -3.5 .4 -3.2 1.1 -1.8 2.2 -1.5z"/></g></g><use href="#hd"/></g><g transform="translate(1081.0,251.65)"><g transform="scale(1,1.0027)"><g clip-path="url(#disc)"><g filter="url(#sm)"><rect x="-112" y="-112" width="224" height="224" fill="#0000a6"/><path fill="#0000bf" d="M-111.8 -113.4l225.2 0 0 226.8 -226.8 0 0 -226.8zM41.7 -9.7l.2 1.6 1 1.6 .8 .9 1.7 -.2 0 -1.3 -1.4 -2.6 -1.9 -1z"/><path fill="#0000d9" d="M-111.8 -113.4l225.2 0 0 226.8 -226.8 0 0 -226.8zM37.5 -16.2l-1.1 3.2 0 4.9 1.4 4.9 2.7 4.3 3.2 2.3 3.3 .4 3.2 -1.2 3.3 -2.6 1.3 -1.6 -.6 -1.6 -7.1 -9.8 -3.2 -3.2 -1.8 -1.1 -1.6 -.4 -1.6 .3z"/><path fill="#0000f2" d="M-111.8 -113.4l225.2 0 0 226.8 -226.8 0 0 -226.8zM32.3 -32.4l1.7 2.2 .4 -.6 -.4 -1.6 -1.6 -.2zM36.4 -22.7l-.8 .7 -1.6 4.6 -.8 7.7 1.1 6.5 3 7.4 3.2 3.7 3.2 1.4 4.9 -.4 4.9 -2.8 3.2 -3.6 .9 -2.5 .1 -1.6 -1.1 -3.3 -3.7 -4.8 -7.5 -8.2 -4.9 -3.9 -3.2 -1.6z"/><path fill="#000dff" d="M-111.8 -113.4l225.2 0 0 226.8 -226.8 0 0 -226.8zM29.9 -35.6l-.8 1.6 -.1 1.6 2.5 6.5 .4 3.2 -1.2 9.7 .2 6.5 2 9.7 2.7 6.6 3.3 3.6 1.6 .8 3.2 .5 3.3 -.5 3.2 -1.3 4.9 -3.6 3.2 -4.2 1.3 -3.5 .2 -3.2 -1.5 -4.2 -3.2 -4.4 -13 -14.1 -4.8 -9.8 -3.3 -2.6 -1.6 -.2 -1.6 .5z"/><path fill="#0026ff" d="M-111.8 -113.4l225.2 0 0 226.8 -226.8 0 0 -226.8zM28.8 -38.9l-1.5 1.6 -.8 3.3 2.8 9.7 -.9 11.3 .1 6.5 1.9 13 2 7.3 1.6 3.3 1.6 2 3.3 1.6 3.2 0 3.3 -.9 6.4 -3.4 4.9 -4.3 3.7 -5.6 1.1 -3.3 .3 -3.2 -1 -4.9 -3 -4.8 -13.2 -14.6 -4.7 -9.7 -2.2 -3.3 -3.7 -2.3 -3.2 -.2 -1.6 .7z"/><path fill="#0040ff" d="M-111.8 -113.4l225.2 0 0 226.8 -226.8 0 0 -226.8zM28.4 -42.1l-2.5 1.5 -1.2 1.7 -.8 3.3 .4 3.2 2.6 6.5 -.8 17.8 2.7 29.2 1.3 4.8 2.3 2.7 3.2 .9 3.3 -.6 4.8 -2.2 4.9 -3.3 6.5 -5.2 3.2 -3.6 3.2 -4.9 1.3 -3.2 .8 -4.9 -.2 -3.2 -1.5 -4.9 -2 -3.2 -13.3 -14.6 -5.4 -11.3 -2.1 -3.3 -1.8 -1.7 -3.3 -1.7 -4.8 -.1z"/><path fill="#0059ff" d="M-111.8 -113.4l225.2 0 0 226.8 -226.8 0 0 -226.8zM28.6 -45.4l-2.7 .8 -3.1 2.5 -1 1.6 -.8 3.2 .6 4.9 2.8 8.1 -.7 13 .6 21 -1.5 22.7 .9 4.9 2.2 3.2 3.3 1.3 3.2 -.3 4.9 -2.2 4.8 -3.5 16.2 -16.5 5 -8 1.6 -4.8 .6 -4.9 -.7 -4.8 -2 -4.9 -3.6 -4.9 -10.8 -11.3 -1.9 -3.2 -4 -9.8 -2 -3 -4.9 -4.1 -3.2 -1 -3.2 -.1z"/><path fill="#0073ff" d="M-111.8 -113.4l225.2 0 0 226.8 -226.8 0 0 -226.8zM22.6 -47l-3.5 3.3 -1.5 4.8 .5 4.9 2.9 8.1 .6 3.2 .1 24.3 -.4 8.1 -1.9 10.1 -5.5 19.1 -.7 6.5 .8 3.2 1.2 1.6 2.1 1.6 3.8 1.4 6.4 .1 6.5 -2.5 6.5 -4.5 4.9 -4.9 16.2 -21.4 2.9 -5.4 1.8 -4.9 .9 -4.8 -.1 -4.9 -1 -4.9 -2.4 -4.8 -3.7 -4.7 -9.9 -9.9 -2 -3.2 -4.4 -11.2 -3.2 -4.8 -3.2 -2.8 -4.9 -2 -4.9 -.1 -4.8 1.4z"/><path fill="#008cff" d="M-111.8 -113.4l225.2 0 0 226.8 -226.8 0 0 -226.8zM26 -51.8l-4.9 .7 -3.3 1.5 -2.6 2.6 -1.6 4.9 .6 6.5 4.3 12.9 .8 19.5 -1 12.9 -1.5 6.5 -2.2 6.1 -6.5 12.5 -6.5 8.8 -4.8 3.5 -8.1 3 -3.2 1.7 -2 1.7 -1.6 3.2 .7 3.3 2.8 3.4 4.9 2.7 4.8 .5 14.6 -4.4 13 -1.2 6.5 -1.1 6.4 -2.4 4.9 -2.9 6.5 -6 4.8 -6.5 12.5 -21 3.8 -9.3 .9 -5.3 -.1 -6.5 -1.1 -4.9 -2.3 -4.8 -3.7 -4.9 -8.3 -7.8 -2.9 -3.5 -5.7 -14.6 -4.4 -6.3 -3.2 -2.7 -3.3 -1.6 -6.5 -.8z"/><path fill="#00a6ff" d="M-111.8 -113.4l225.2 0 0 226.8 -226.8 0 0 -226.8zM18.6 -56.7l-4 1.3 -3.3 2.4 -1.8 2.8 -1 4.8 1.2 8.1 5.5 14.6 1.2 8.1 .5 9.7 -.4 8.1 -1.1 6.5 -2.1 6.5 -5.2 9.8 -3.2 4.4 -4.9 5.2 -6.5 4.8 -15.8 8.2 -3.5 3.2 -1.3 3.3 .3 3.2 1.5 3.3 2.6 3.2 4.2 3.3 3.9 1.9 4.9 1.4 4.8 .2 4.9 -.5 32.4 -6.2 8.1 -3.2 6.5 -4.6 6 -6.9 4.8 -8.1 10.3 -22.3 2.7 -10.1 -.1 -9.7 -2.4 -8.1 -4.4 -6.5 -11.6 -11.3 -1.6 -3.3 -4.5 -12.9 -4.1 -6.6 -4.8 -4.5 -4.9 -2.4 -8.1 -1.3 -4.9 .1z"/><path fill="#00bfff" d="M-111.8 -113.4l225.2 0 0 226.8 -226.8 0 0 -226.8zM17.6 -64.8l-6.3 2 -4.8 3.6 -3.1 4.1 -1.2 4.9 1.3 8.1 7.8 18.2 2.3 9.3 .8 8.1 -.1 6.5 -.9 6.5 -2.1 6.5 -4.8 8.6 -8.1 9 -6.5 4.8 -16 8.3 -5.1 4 -2 2.5 -1.2 2.5 -.6 5.6 1.7 4.9 4.1 4.9 7.5 4.8 6.7 2.5 4.9 .7 6.5 -.2 30.8 -4.7 9.7 -2.4 6.5 -3 6.4 -4.9 6.1 -7.4 4.8 -9.8 8.4 -24.3 1.8 -8.1 .1 -8.1 -1.1 -6.4 -2.5 -6.5 -4.8 -6.5 -11.1 -10.7 -5.8 -16.8 -5.6 -9.3 -4.8 -5.1 -6.5 -4.2 -6.5 -2.3 -6.5 -.2z"/><path fill="#00d9ff" d="M-111.8 -113.4l225.2 0 0 226.8 -226.8 0 0 -226.8zM18 -74.5l-8.3 3.8 -6.5 5.3 -4.1 5.4 -2.4 6.5 0 4.9 1.6 6.5 9.8 19.3 2.6 8.2 1 6.5 .2 6.5 -.9 6.5 -1.5 4.8 -4.6 8.3 -8.1 8.5 -8.1 5.7 -16.2 8.6 -5.9 4.6 -2.6 3.2 -1.7 3.2 -.8 3.3 .1 4.9 .8 3.2 1.7 3.2 4.4 4.9 10.4 6.1 8.1 2.7 6.5 .6 16.2 -1.2 30.8 -5 8.1 -3.2 6.5 -4.6 6 -6.7 3.8 -6.5 3.2 -8.8 6.5 -26.9 .9 -6.5 -.4 -8.1 -1.7 -8.1 -2.9 -6.4 -5.2 -6.5 -10.2 -9.8 -1.6 -3.7 -3 -10.8 -2.6 -6.5 -5.8 -10.9 -4.8 -7.4 -4.9 -5.4 -3.2 -2.1 -4.9 -1.1 -4.9 .6z"/><path fill="#00f2ff" d="M-111.8 -113.4l225.2 0 0 226.8 -226.8 0 0 -226.8zM23 -85.9l-5.2 2 -4.8 2.5 -4.9 3.3 -4.9 4.2 -3.8 4.2 -3.4 4.9 -2.5 4.8 -1.4 4.9 -.3 6.5 1.5 6.5 3 6.5 8.8 14.5 3.3 9.8 .9 6.4 -.1 4.9 -.9 4.9 -1.8 4.5 -4.9 7.3 -8.1 7.4 -8.1 5.3 -17.8 9.5 -6 4.8 -2.7 3.3 -2.4 4.8 -1 4.9 .2 4.9 1.5 4.8 1.7 3.3 5.5 5.6 4.8 3 8.1 4 8.1 2.7 8.1 .7 16.2 -.7 34 -4.4 8.1 -3 6.5 -4.3 6.6 -6.9 5.2 -8.1 2 -4.8 1.6 -6.5 1.9 -17.8 2.4 -13 .1 -8.1 -2.6 -13 -2.8 -6.4 -5 -6.5 -10 -9.7 -1.9 -3.3 -3.5 -12.9 -5.5 -16.3 -2.7 -16.2 -1.8 -4.8 -3.2 -3.3 -3.5 -1.6 -4.8 -.9 -6.5 .6z"/><path fill="#0dfff2" d="M-111.8 -113.4l188.4 0 -10.2 8.9 -6.4 3.7 -6.5 1.4 -13 .3 -8.1 .9 -8.1 2.4 -8.1 4 -8.1 5.6 -8.1 7.5 -5.6 7.4 -4.5 8.1 -1.7 4.9 -1 4.8 -.1 4.9 .7 4.9 3.2 8.1 9.9 14.5 3.9 8.1 1.3 4.9 .5 4.9 -.4 4.8 -.9 3.3 -2.1 4.2 -2.8 3.9 -6.9 6.4 -11.3 7.3 -19.5 10 -6.8 5.4 -2.7 3.3 -2.7 4.8 -1.4 4.9 -.4 4.9 .9 6.4 2 4.9 3.4 4.9 4.5 4.2 6.5 3.8 9.7 4.2 6.5 2 6.5 1 8.1 .2 14.5 -.6 29.2 -2.2 8.1 -1.5 6.5 -2.4 6.5 -4.1 6.6 -6.3 6.3 -8.1 4.3 -8.1 1.7 -6.5 .3 -6.4 -.6 -16.2 1.5 -14.6 -.6 -6.5 -3.2 -13 -2.8 -6.4 -4.8 -6.5 -9.7 -9.7 -3 -4.9 -5.8 -22.7 -.4 -6.5 .6 -4.8 1.7 -4.9 3 -4.7 3.3 -3.6 4.8 -3.5 4.9 -1.5 11.3 -1.4 13 -5.9 8.1 -2.7 4.8 -.8 6.5 -.2 0 209 -226.8 0 0 -226.8z"/><path fill="#26ffd9" d="M-111.8 -113.4l152.8 0 -10.2 4.4 -8.1 4.3 -8.1 5.3 -8.1 6.7 -8.1 8.1 -4.9 6.2 -5.4 8.7 -3.5 8.1 -2.2 9.8 0 4.8 .6 4.9 3.2 8.1 11 14.6 4.5 8.1 1.5 4.8 .4 4.9 -.4 3.2 -2.2 4.9 -5.9 6.7 -8.1 5.8 -12.1 6.9 -15.4 7 -7.1 4.4 -6.7 6.4 -2.1 3.3 -1.9 4.8 -1.4 8.2 .6 8.1 3 8.1 4.3 6.1 5.4 5.2 7.5 4.5 9.7 3.6 9.8 2.2 12.9 .9 45.4 -1.1 6.5 -.4 6.4 -1.2 8.2 -3.2 6.4 -4.3 6.5 -6 9.3 -11.2 5.6 -9.7 1.6 -4.9 .7 -4.9 -.5 -8.1 -2.8 -14.5 -.3 -13 -.7 -4.9 -5 -16.2 -3 -6.4 -4.7 -6.5 -10.6 -11.4 -2.5 -4.4 -4 -18.2 -.3 -3.3 .6 -4.9 2 -5 3.3 -4.1 3.2 -2.5 4.9 -2.2 29.1 -5.2 8.1 .1 6.5 1.3 0 191 -226.8 0 0 -226.8z"/><path fill="#40ffbf" d="M-111.8 -113.4l131.7 0 -15 13.9 -13 15.4 -4.9 7.4 -3.7 7 -3.3 8.1 -1.7 6.5 -.9 9.7 .5 4.9 1.3 4.9 3.7 6.4 10.6 12.3 4.5 7.2 1.7 4.8 .4 3.3 -.1 1.6 -1.3 3.2 -2.5 3.3 -4.3 4 -11.6 7.3 -9.5 4.8 -28.2 11.4 -5.9 3.3 -4.7 4.8 -2 4.9 -2.3 14.6 -.1 8.1 1.6 8.1 2.9 6.5 6 8.1 6.8 5.8 8.1 4.2 9.7 2.9 9.8 1.6 9.7 .6 35.6 -.7 25.9 1 9.8 -.8 9.5 -3.3 8.3 -5 7.6 -6.3 12.4 -13 8.8 -11.3 5.8 -11.4 2 -6.5 1.1 -6.5 .7 -8.1 -.4 -4.8 -1.5 -3.3 -5.7 -3.7 -3.3 -3.4 -17.4 -31.7 -3.7 -4.9 -11.7 -13 -2.2 -3.2 -2.6 -8.1 -1.1 -8.1 .1 -4.9 1.4 -5 3.3 -4.7 4.8 -3.3 8.1 -2.4 11.3 -1.2 9.7 .4 8.1 2.3 6.5 4.2 0 176.6 -226.8 0 0 -226.8z"/><path fill="#59ffa6" d="M-111.8 -113.4l120.3 0 -15 18.9 -10 15.1 -7 14.6 -2.5 8.1 -1.3 6.5 -.6 9.7 1.5 8.1 2.6 4.9 12.3 12.9 4.5 6.5 1.2 3.2 .3 3.3 -1 2.8 -1.4 2 -3.6 3.3 -4.7 3.1 -13 6.9 -11.3 4 -11.3 2.2 -6.5 -.4 -4.9 -2 -4.9 -4 -8.1 -8.9 -1.8 -.9 -3 .1 -3.3 2.4 -9.7 9.3 -12.9 8.5 -6.5 6.3 0 -146.5zM79.4 -63.2l9.7 -.3 4.9 .9 4.8 1.8 5.9 4.1 2.3 3.2 1.2 3.3 .5 3.2 -.3 4.9 -4.5 14.6 -2.1 12.9 -1.3 3.3 -1.7 2.2 -3.2 1.7 -3.2 -.5 -3.3 -2.1 -12.9 -12 -7.5 -8.8 -3.1 -6.5 -1 -4.8 -.2 -4.9 .7 -4.8 1.3 -3.3 2.4 -3.2 2.5 -2 3.2 -1.6 4.8 -1.3zM-113.2 82.6l6.3 5 25.9 17.7 14.5 8.1 -46.9 0 0 -30.9zM113.4 85.1l0 28.3 -40.4 0 13.5 -8.1 25.9 -19.4z"/><path fill="#73ff8c" d="M-111.8 -113.4l111.5 0 -16.8 25.9 -7.8 14.6 -5.4 14.6 -3.5 16.2 -.4 8.1 1 4.8 2.8 4.9 9.7 9.7 3.6 4.9 1.6 4.8 -.6 3.3 -1.1 1.6 -5.7 4.9 -9.5 5.7 -8.1 2.6 -8.1 .4 -4.9 -1.1 -4.7 -2.8 -9 -9.7 -4.1 -3.1 -4.9 -1.6 -4.8 .2 -3.3 1.3 -3.2 2.2 -13 12.9 -12.9 8.1 0 -133.4zM81 -56.9l6.5 .5 4.9 2.1 4.4 4.1 2 4.8 .4 3.3 -.4 4.8 -3 11.4 -3.1 4.8 -3.6 1.5 -4.8 -1.1 -3.3 -1.8 -3.2 -2.7 -5.3 -7.2 -2.5 -6.5 -.3 -6.5 1.6 -5.1 3.2 -3.8 5.6 -2.4z"/><path fill="#8cff73" d="M-111.8 -113.4l103.6 0 -5.1 9.7 -10.6 17.8 -5.5 11.4 -3.8 9.7 -5.7 19.1 -5.7 16.5 -.3 3.3 1.5 3.2 11.1 8.1 4 4.9 .6 3.2 -.4 1.6 -2.1 3.3 -3.8 3.2 -3.3 1.5 -4.8 .8 -4.9 -.4 -3.2 -1.3 -3.3 -2.2 -6 -8.1 -3.7 -2.4 -6.5 -1.3 -8.1 .4 -6.5 1.5 -4.8 2.4 -4.9 3.8 -9.7 9.6 -9.7 5.5 0 -124.8zM81 -44.7l1.6 -.6 1.7 .3 1.6 1 1.6 2 .9 3.1 .1 3.3 -.8 3.2 -1.2 1.6 -2.2 1.1 -1.7 -.4 -2.1 -2.3 -1.8 -6.5 .3 -3.2 .9 -1.6z"/><path fill="#a6ff59" d="M-111.8 -113.4l95.9 0 -4.2 9.7 -7.7 13 -4.1 8.1 -4.5 11.3 -6.7 21.1 -3.2 6.5 -3.9 5.5 -12 12.3 -4.2 3.5 -6.2 3 -13.3 3.7 -6.5 2.7 -6.4 4.7 -8.1 8.2 -6.5 3.3 0 -116.6z"/><path fill="#bfff40" d="M-111.8 -113.4l87 0 -2 6.5 -6.3 9.7 -4 8.1 -3.3 9.7 -6.6 23.8 -2.4 5.4 -2.4 3.5 -4.9 5.1 -11.4 10.1 -6.4 5 -4.9 2.4 -13 3.4 -6.4 2.5 -4.9 2.8 -9.7 7.4 0 -105.4z"/><path fill="#d9ff26" d="M-111.8 -113.4l61.4 0 -2.1 3.2 -1 3.3 3.7 11.3 1 11.3 -.9 9.8 -3 14.5 -2.4 5.9 -3.2 3.9 -16.2 13.4 -6.5 4.4 -6.5 2.1 -17.8 3.1 -8.1 3.6 0 -89.8z"/><path fill="#f2ff0d" d="M-111.8 -113.4l37.1 0 .3 8.1 1.4 6.5 2.6 6.4 6.7 13 1.3 8.1 -.8 6.5 -1.2 3.2 -2 3.3 -4.8 4.8 -10.6 8.1 -4.1 2.4 -4.8 1.8 -22.7 3.8 0 -76z"/><path fill="#fff200" d="M-111.8 -113.4l15.8 0 .9 11.3 2 9.7 3.2 9.8 5.7 11.3 1.1 4.9 -.6 3.2 -1.9 3.2 -1.9 1.9 -3.2 2 -6.5 1.8 -16.2 1.4 0 -60.5z"/></g><path fill="none" stroke="#000" stroke-width="1.35" d="M30.8 -37.4l-1.9 1.8 -.5 3.2 2.7 8.1 -1 11.3 0 4.9 .7 5.2 1.7 7.8 2.7 6.4 2.8 3.3 2.5 1.3 1.6 .2 4.9 -.6 3.2 -1.5 3.3 -2.1 4.8 -5.4 1.9 -4.9 -.2 -4.8 -1.5 -3.3 -1.8 -2.5 -13.9 -15.3 -5.5 -10.8 -3.3 -2.4 -3.2 .1M27.5 -47l-3.2 1 -3 2.3 -1.8 3.2 -.4 3.2 .8 4.9 2.8 8.1 -.3 13 .4 14.5 -.8 11.4 -3.7 19.4 -.5 6.5 .6 3.2 2.1 3.3 2.2 1.4 3.2 .8 4.9 -.9 4.8 -2.3 4.9 -3.6 4.9 -4.8 12.9 -15.4 3.3 -4.5 3.2 -6.5 1.3 -4.7 .4 -3.3 -.7 -6.4 -1.9 -4.9 -3.5 -4.9 -11.1 -11.3 -1.9 -3.2 -3.8 -9.8 -3.1 -4.8 -3.2 -3 -3.3 -1.6 -3.2 -.5 -3.3 .2M16.2 -63.5l-4.9 1.8 -4.5 3.4 -2.5 3.2 -1.4 4.9 .4 4.8 1.3 4.9 7.6 17.8 1.8 8.1 .6 8.1 0 6.6 -.9 6.4 -2 6.5 -2.3 4.8 -2.9 4.5 -3.3 4.1 -4.8 4.8 -6.5 4.8 -16.2 8.5 -4.9 3.9 -1.6 2.2 -1.2 2.9 -.4 3.8 .4 2.7 1.5 3.2 4.2 4.9 6.9 4.4 6.4 2.4 4.9 .7 6.5 -.2 29.1 -4.5 9.8 -2.3 8.1 -3.6 6.4 -5 5.3 -6.5 4.9 -9.8 8.8 -24.3 1.8 -8.1 .2 -8.1 -1.1 -6.4 -2.6 -6.5 -4.8 -6.5 -10.8 -10.4 -1.7 -3.4 -4.4 -13.7 -2 -4 -3.3 -4.8 -4.8 -5 -6.5 -3.9 -6.5 -2.2 -6.5 -.2zM69.1 -113.4l-7.5 6.4 -4.9 2.7 -4.9 1.4 -12.9 1.2 -6.5 1.3 -8.1 2.7 -8.1 4.2 -8.1 5.7 -7.4 6.8 -5.6 6.8 -4.7 7.8 -2.7 6.4 -1.2 4.9 -.4 6.5 .6 4.9 1.6 4.8 1.6 3.3 10.1 14.6 3.4 6.4 2.3 8.1 .3 4.9 -.4 3.2 -1 3.3 -2.6 4.8 -3.6 4.4 -3.3 3 -5.2 4 -7.7 4.7 -16.6 8.2 -5.5 3.3 -5.8 4.8 -2.7 3.3 -1.8 3.2 -1.8 4.9 -.8 6.5 .4 4.8 1.4 4.9 2.7 4.8 2.9 3.7 4.9 4.2 4.9 2.8 8.1 3.6 6.4 2.2 4.9 1.1 6.5 .8 16.2 -.3 35.6 -2.3 8.1 -1.6 8.1 -3.6 6.5 -4.8 6.5 -6.8 4.2 -5.4 3 -4.9 2.2 -4.9 1.3 -4.8 .4 -8.1 -1.2 -16.2 1.3 -13 -.4 -6.5 -3.6 -14.6 -2.9 -6.4 -4.8 -6.5 -9.5 -9.7 -3.1 -4.9 -5.4 -21.1 -.5 -6.5 .6 -4.8 2.2 -5.6 3.2 -4.5 3.3 -2.9 4.8 -2.7 4.9 -1.2 9.7 -1 13 -5.2 6.5 -2 6.4 -1 6.5 0M3.8 -113.4l-16.8 23.7 -7.9 13.5 -3.8 8.1 -2.3 6.5 -1.9 6.5 -1.5 8.1 -.6 9.7 1.2 6.5 2.6 4.9 11.3 11.3 4.6 6.5 1.4 4.9 -.9 3.2 -1.1 1.6 -6 4.9 -8.3 4.8 -6.2 3 -9.7 2.9 -8.1 .7 -4.9 -.8 -5.1 -2.5 -3.6 -3.3 -6.8 -8.1 -3.9 -3.1 -3.3 -1.1 -3.2 .2 -1.9 .8 -3 2.4 -8.1 8.8 -3.7 3.4 -15.7 10.5M-113.4 103.2l8.1 5 9.9 5.2M90.9 113.4l22.5 -12.9M81 -60.2l3.3 -.1 4.8 .5 6.5 2.4 4.9 3.9 2.5 4.9 .5 3.2 -.2 4.9 -4.5 17.8 -1.6 4 -1.6 2.3 -1.6 1.1 -1.6 .6 -3.3 -.4 -3.2 -1.5 -8.1 -6.1 -6.8 -8.1 -3.1 -6.5 -.7 -3.2 -.3 -4.9 .4 -3.2 1 -3.2 2.1 -3.3 2.5 -2.2 3.3 -1.7 3.3 -1zM-23.1 -113.4l-2.8 8 -7.3 11.4 -3 6.5 -3.4 9.7 -6.6 22.7 -2.4 5.5 -3.2 4.6 -14.6 13.8 -6.7 5.3 -6.3 3 -11.3 3 -6.5 2.5 -4.8 2.8 -8.2 6.8 -3.2 2.1"/></g></g><use href="#hd"/></g><g transform="translate(248.6,584.6)"><g transform="scale(1,1.0027)"><g clip-path="url(#disc)"><g filter="url(#sm)"><rect x="-112" y="-112" width="224" height="224" fill="#26ffd9"/><path fill="#40ffbf" d="M-111.8 -113.4l225.2 0 0 226.8 -226.8 0 0 -226.8zM-103.8 -32.4l-2.2 1.6 -1 1.6 .1 2.3 1.7 2.6 3.1 1.9 4.9 1.3 3.2 -.1 3.3 -1.2 2.1 -1.9 .7 -1.6 -.9 -3.3 -1.6 -1.6 -2.8 -1.6 -4 -1 -3.3 .1 -3.2 .9zM60.1 -13l-3.1 3.3 -1.9 3.2 -1.6 6.5 1.6 3.2 1.6 1.4 1.6 .5 3.3 -.2 2.4 -1.7 2.3 -3.2 1.4 -6.5 -1.3 -5.1 -1.6 -1.6 -1.6 -.6 -1.6 .1zM28.7 43.7l-1.2 2.5 .6 2.4 2.7 1.6 1.6 -.2 1.6 -1.1 1 -1.9 0 -1.6 -1 -1.9 -1.6 -.9 -1.6 -.1 -1.6 .8z"/><path fill="#59ffa6" d="M-111.8 -113.4l225.2 0 0 226.8 -226.8 0 0 -127.2 14.6 2.5 4.8 0 4.9 -.9 4.8 -2.3 3.3 -2.9 2.3 -3.7 1.2 -4.8 -.5 -3.3 -2.5 -4.8 -3.8 -3.8 -4.8 -3.1 -4.9 -1.9 -6.5 -1.4 -6.4 -.4 -6.5 .4 0 -69.2zM61.6 -22.7l-3.3 1.9 -3.2 4.8 -4 9.5 -1.2 6.5 .7 4.9 2.9 4.7 3.2 2.1 4.9 .7 4.8 -1.9 3.3 -4 2.9 -8.1 1.7 -9.7 -.7 -4.9 -2.3 -3.6 -3.2 -2.2 -4.9 -1zM27.3 35.6l-4.6 3.6 -4.2 6.2 -2.2 6.4 .1 4.9 2.3 3.3 4 1.5 6.5 -.4 4.8 -1.9 3.3 -2.6 3.2 -4.8 1.4 -4.8 -.2 -4.9 -1.2 -2.8 -1.5 -2 -3.4 -2.2 -3.2 -.7 -4.9 1.1z"/><path fill="#73ff8c" d="M-111.8 -113.4l225.2 0 0 226.8 -226.8 0 0 -116.8 6.5 -.4 12.9 .5 4.9 -.9 4.8 -1.9 4.9 -3.4 3.2 -3.7 3 -6.2 1 -6.5 -1.1 -6.5 -2.5 -4.9 -3.6 -4.2 -4.8 -3.9 -4.9 -2.7 -6.5 -2.7 -17.8 -3.9 0 -58.7zM64.1 -29.2l-5.8 1.5 -3.6 3.4 -2.9 6.8 -3.2 9.7 -1.4 6.2 -.2 4.8 1.4 8.1 1.6 3.3 1.8 2.1 3.3 2.2 3.2 1.2 6.5 .9 3.3 -.4 2.6 -1.2 2.2 -1.7 1.6 -2.3 1.8 -5.7 1.5 -10.5 3.9 -8.9 1.3 -4.9 -1 -4.8 -3.9 -4.9 -6.8 -3.8 -6.5 -1.1zM28.4 29.2l-4.1 2.2 -5 4.2 -12.5 14.6 -3.5 4.9 -1.6 3.2 -1.5 6.5 .2 3.3 1.2 3.9 1.9 2.5 3 1.7 3.2 .6 4.9 -.3 12.9 -3.4 8.1 -4 3.3 -2.7 3.2 -4 2.2 -4.1 2.4 -6.5 1.3 -4.8 .6 -4.9 -.3 -3.2 -1.3 -3.3 -2.3 -3.2 -2.6 -2.1 -3.2 -1.5 -3.3 -.6 -6.4 .7z"/><path fill="#8cff73" d="M-111.8 -113.4l225.2 0 0 87.6 -6.5 -.9 -8.1 -.1 -4.8 -.6 -16.2 -5 -8.1 -1.7 -8.1 .5 -3.3 1.1 -3.2 2 -3.5 4.6 -5.4 17.8 -1.7 8.1 -1.4 14.6 -1 3.2 -1.2 1.6 -2.5 1.7 -10.9 3.6 -4.8 2.7 -25.8 22.8 -3 3.3 -3.1 4.8 -1.7 4.9 -.5 4.9 .5 4.8 1.3 4.9 1.5 3.2 3.2 4 3.3 2.2 4.8 1.6 4.9 .5 4.9 -.4 8.1 -1.8 12.9 -4.3 4.9 -2.2 4.8 -3.5 3.6 -4.2 2.6 -4.8 1.6 -4.9 2 -9.7 3.2 -4.2 3.3 -2.1 2.4 -.2 2.4 .9 6.8 7.2 4.6 3.2 6.4 1.5 4.9 -.3 5.7 -1.2 20.2 -6.7 0 61.8 -226.8 0 0 -99.9 8.1 -4.4 11.3 -2.6 6.5 -2.3 4.9 -2.6 4.8 -3.5 4.2 -4.6 2.6 -4.8 2.5 -8.1 .7 -6.5 -.7 -6.5 -2.6 -6.5 -3.4 -5 -4.8 -4.7 -6.6 -4.6 -6.5 -3.4 -21 -8.1 0 -48.7z"/><path fill="#a6ff59" d="M-111.8 -113.4l225.2 0 0 75.6 -21 .8 -24.3 -1.9 -6.5 .9 -6.5 3 -4 4.2 -2.4 4.9 -5.3 19.4 -3.2 14.6 -2.9 6.2 -4.2 3.5 -12 6.4 -16.2 13.5 -14.8 9.3 -4.2 3.2 -3 3.3 -2.7 4.8 -1.3 4.9 -.3 4.9 .6 6.4 1.9 8.1 1.9 4.9 3.3 4.9 4 3.3 4.8 2.3 6.5 1.6 6.5 .6 8.1 -.3 21.1 -2.8 9.7 -2.5 3.9 -2.2 4.2 -3.6 10.4 -12.6 2.6 -1.9 3.2 -1.4 9.7 -1.1 32.4 1 0 40.6 -226.8 0 0 -71.3 9.7 -8.6 11.2 -12.4 16.3 -13.6 4.9 -5.8 2.6 -4.9 2.3 -6.9 1.9 -9.3 .7 -8.1 -.7 -6.5 -2.3 -6.5 -2.9 -5.1 -4.8 -5.8 -4.9 -4.3 -6.5 -4.5 -27.5 -15.4 0 -37.8z"/><path fill="#bfff40" d="M-111.8 -113.4l225.2 0 0 66.6 -22.7 3.1 -24.3 .5 -6.4 1.3 -4.9 2.2 -4.4 4.1 -2.8 4.8 -9.3 34 -1.9 4.9 -2.7 3.8 -3.2 2.7 -11.5 6.5 -11.2 9.3 -6.5 4.5 -23.4 10.5 -3.9 3.2 -3.4 4.9 -2.9 8.1 -2 11.3 -1.6 16.2 .4 4.9 .9 3.2 4 6.5 2.8 2.7 3.2 2.1 8.1 3.1 11.3 1.8 -108.5 0 0 -28 9.4 -17.3 11.6 -19.6 9.5 -17.7 11.6 -15.3 4.9 -8.5 2 -5.4 1.1 -4.8 3.3 -26 -.7 -6.4 -2.5 -7.9 -3.2 -6.1 -4.9 -6.4 -8.1 -7.3 -17.9 -12.9 -16.1 -12.8 0 -24.4zM6.7 -79.4l-1.8 1.4 -.4 1.8 2 1.6 1.6 .1 3.1 -1.7 .3 -1.6 -1.7 -1.6 -1.7 -.2zM85.9 90.5l8.1 .6 19.4 4.4 0 17.9 -52.4 0 7.1 -5.8 11.3 -14 3.2 -2.2 2.1 -.7z"/><path fill="#d9ff26" d="M-111.8 -113.4l225.2 0 0 58.6 -25.9 5.6 -24.3 2 -4.9 1.2 -4.8 2.3 -4.8 4.8 -2.5 4.9 -9.2 34 -3 6.5 -2.8 3.2 -3.7 2.7 -9.7 5.1 -11.3 9.5 -6.5 4.2 -9.7 3.4 -15.5 2.7 -5.6 2.4 -3.3 2.4 -3 3.3 -6.6 12.4 -3.3 4.4 -3.2 2.6 -3.3 1.5 -6.5 1.1 -5.2 -1 -2.7 -1.6 -1.5 -1.6 -2.1 -4.9 -.8 -6.5 1.2 -9.7 7.9 -23.3 3.6 -15.6 .9 -16.2 2.2 -16.2 -.3 -6.4 -1.5 -7.7 -4.2 -10.2 -5.4 -8.1 -5 -5.3 -13 -10.9 -7.7 -8.1 -19.8 -22.6 0 -4.9zM.4 -89.1l-4.5 3.2 -2.6 4.9 0 4.8 2.4 4.9 4.3 3.7 4.9 1.8 6.4 .4 6.5 -1.3 4.9 -2.5 3.1 -3.7 1.2 -4.9 -.6 -3.2 -.9 -1.6 -4.4 -4.1 -6.5 -2.9 -6.5 -1 -6.5 1zM-1.6 -6.5l-.2 3.3 1.8 3.2 2.1 0 1.6 -1.6 0 -3.3 -.9 -1.6 -1.2 -1 -1.6 -.4 -1.6 1.4z"/><path fill="#f2ff0d" d="M-92.4 -113.4l205.8 0 0 50.8 -25.9 7.8 -8.1 1.4 -17.8 1.7 -4.9 1.1 -5 2 -3.9 3.2 -2.4 4.2 -2.2 7.2 -3.4 16.2 -4.2 14.2 -3 6.8 -3.4 3.9 -3.3 2 -11.3 4.6 -9.7 9.8 -3.4 2.4 -4.7 2.2 -9.8 2 -14.5 .1 -16.2 3.1 -4.9 -.9 -3.2 -2.7 -2 -3.8 -1.5 -6.5 -.7 -30.7 2.6 -16.2 .4 -8.1 -1 -9.8 -3.2 -11.3 -2.8 -6.7 -3.6 -6.3 -14.2 -16.6 -8.9 -17.4 -6 -9.7zM-4.8 -97.2l-4.9 1.8 -4.3 3 -2.5 3.3 -1.2 3.2 -.4 3.3 .7 4.8 2 4.9 2.2 3.2 3.1 3.3 3.6 2.7 4.1 2.1 4 1.3 9.7 .8 11.4 -1.4 6.5 -2.7 2.6 -2.8 1.6 -3.3 .8 -4.8 -.3 -4.9 -1.5 -4.9 -1.6 -2.8 -3.3 -3.4 -2.4 -1.9 -8.9 -4 -9.7 -1.9 -9.7 .7zM-2.6 -11.3l-2.3 3.1 -.5 3.3 .3 3.3 1.4 3.2 2.1 2 3.2 1.2 3.3 .1 1.6 -.6 1.6 -1.4 .9 -2.9 -.2 -3.2 -1.1 -3.3 -2.2 -3.2 -2.3 -1.8 -3.2 -.8 -1.6 .3z"/><path fill="#fff200" d="M-38.9 -113.4l152.3 0 0 42.7 -19.4 7.8 -11.4 3.5 -9.7 1.5 -21.1 1.3 -6.4 -.6 -1.9 -1.1 -1.1 -3.3 -2.1 -16.2 -2 -8.1 -3.4 -6.5 -2.5 -2.7 -3.2 -2.4 -11.4 -5.5 -8.1 -2.6 -6.5 -1.1 -11.3 -.9 -17.8 .6 -3.3 -.3 -4.8 -1.7 -6.1 -4.4zM-43.7 -78l3.2 -.5 4.9 1.8 19.8 15.1 5.4 3.3 5.5 2.4 4.9 1.2 4.9 .5 30.7 -.7 3.3 .7 1.6 2.4 .4 4.8 -.4 9.7 -2.1 16.2 -5.7 17.9 -1.9 3.9 -2.2 2.5 -2.7 1.7 -3.2 .9 -3.3 -.1 -2.1 -.8 -2.6 -3.3 -2.5 -6.5 -2.8 -4.8 -2.9 -3.4 -3.3 -2.2 -3.2 -.8 -1.6 .2 -3.3 2 -1.6 2.4 -1.1 3.4 -.4 3.2 .2 3.3 1.3 4.3 3.1 3.8 6.6 3.5 1.7 1.3 .8 1.7 0 1.6 -1.4 3.2 -4.3 4 -4.9 2.1 -6.4 1.3 -26 .2 -4.8 -1.1 -3.3 -1.8 -2.8 -3.1 -1.7 -3.2 -1.9 -8.1 -1.4 -14.6 -.1 -6.5 4.2 -24.3 .2 -22.7 .7 -9.7 1.3 -4.8 2.7 -3.3z"/><path fill="#ffd900" d="M16.2 -113.4l97.2 0 0 33.5 -16.7 8.6 -11.2 4.9 -9.3 2.5 -9.8 .9 -4.8 -.3 -4.9 -1 -3.2 -1.6 -3.3 -3.3 -3.2 -7 -4.9 -19.1 -3.2 -5.4 -4 -3 -7.9 -3.2 -12.4 -6.5zM-34 -57.2l3.2 -.6 4.9 .5 16.2 6.6 6.5 1.8 6.4 .3 14.6 -1.2 8.1 .6 3.3 .9 3.2 1.6 1.6 1.6 1.8 3 1.2 4.8 .4 4.9 -1.3 11.3 -2.1 7 -3.2 7.9 -2.6 4.6 -2.3 2 -3.2 .3 -3.3 -1.8 -9.7 -12.8 -3.2 -3.2 -3.3 -2.2 -3.2 -1.1 -1.6 0 -3.3 1.5 -1.6 1.7 -2.8 5.9 -.9 8.1 .5 4.8 1.6 4.9 1.6 2.7 3.7 3.8 .7 1.6 -.9 1.6 -2.3 1.6 -6 2.1 -6.5 1.1 -11.4 .3 -6.4 -.5 -3.3 -.9 -3.6 -2.1 -2.9 -3.1 -1.8 -3.4 -1.5 -4.8 -1.9 -11.4 -.4 -6.4 .5 -4.9 8.4 -31 3.2 -6.2 3.9 -3.3z"/><path fill="#ffbf00" d="M51.8 -113.4l61.6 0 0 21.9 -17.9 12.1 -9.6 5.5 -9.7 3.7 -8.1 1 -4.9 -.6 -4.9 -2 -3.2 -3 -2.6 -4.6 -1.6 -6.5 -.2 -6.5 .5 -4.8 2.3 -9.7 -.8 -3.3 -2.4 -3.2zM-30.8 -47l3.3 -.8 4.8 .4 4.9 1.5 9.7 4.3 4.9 1.1 3.2 -.3 14.6 -4.1 4.8 -.3 4.9 .6 3.2 1.1 3.3 2.4 1.6 2.2 1.8 4.9 .4 8.1 -1.9 8.1 -3.5 7.2 -3.3 3.8 -1.6 .7 -1.6 0 -3.3 -1.8 -12.9 -13.7 -4.9 -4.3 -3.2 -1.3 -1.6 .3 -3.3 2.4 -3.2 5.8 -2 7.4 -.7 8.1 .4 14.5 -1 2 -3.2 2.5 -4.9 1.5 -6.4 .6 -4.9 -.4 -4.9 -1.4 -3.2 -2 -3.2 -3.7 -1.9 -3.9 -1.5 -4.9 -1.2 -6.5 -.4 -6.4 .6 -4.9 1.7 -6.5 4.3 -11 3.2 -6 3.3 -4.1 4.7 -3.2z"/><path fill="#ffa600" d="M68.1 -113.4l45.3 0 0 4.2 -8.1 6.9 -19.3 18 -4.5 3.3 -5.3 2.8 -4.9 1.5 -3.2 .2 -4.9 -1.2 -2.4 -1.7 -2.2 -3.2 -.8 -4.9 1.4 -6.5 6.4 -12.9 1.3 -6.5zM19.4 -40.6l4.9 .8 3.2 1.8 3.2 4 1.3 4.8 -.5 6.5 -2.3 5.7 -3.3 3.8 -3.2 1 -1.6 -.3 -3.3 -1.8 -4.8 -4.8 -4.6 -6.8 -1.5 -4.9 .4 -3.2 2.5 -3.3 3.2 -1.9 5.3 -1.3zM-29.2 -39.2l4.9 -.3 6 2.2 3.7 3.4 2 4.7 .1 4.9 -2.8 30.8 -.9 2.4 -1.6 2.3 -4.9 2.6 -4.8 .7 -4.9 -.4 -3.2 -1.1 -3.3 -2.1 -2.5 -2.8 -1.9 -3.2 -2.8 -9.8 -.4 -4.8 .4 -4.9 3.1 -9.7 2.5 -4.8 3.2 -4.6 3.3 -3.1 4 -2.1z"/><path fill="#ff8c00" d="M16.2 -34.3l3.2 -1.2 3.3 .2 3.2 1.7 2.2 2.8 .9 3.3 -.2 3.2 -1.3 3.3 -3 3.2 -1.8 .6 -3.3 -.7 -2.1 -1.5 -2.7 -3.3 -1.4 -3.2 -.3 -3.3 1.2 -3.2 1.6 -1.6zM-29.2 -32.5l4.9 .3 3.2 1.8 3.3 4.5 1.2 4.8 .1 13 -1.2 11.3 -2.5 4.9 -4.1 2.5 -3.2 .6 -3.3 -.1 -3.2 -1 -3.3 -2 -2.9 -3.2 -1.7 -3.3 -2.2 -8.1 .3 -8.1 1.5 -4.8 1.8 -3.8 4.9 -6 3.2 -2.2 2.8 -1z"/><path fill="#ff7300" d="M21.1 -28.3l1.6 .3 1.2 2.1 -1.2 2.3 -1.6 .3 -1.5 -1 -.4 -1.6 .7 -1.6zM-32.4 -26.2l4.9 -.7 3.2 1.2 2.9 3 1.9 4.9 .8 8.1 -.7 9 -1.7 4.4 -3.2 3.2 -4.9 1.1 -4.8 -1.4 -3.8 -3.4 -3.2 -6.4 -1 -6.5 1.1 -6.5 3.6 -6.4 4.3 -3.3z"/><path fill="#ff5900" d="M-32.4 -21.7l3.2 -.5 3.3 1.2 2.7 3.2 1.2 3.2 .8 4.9 -.4 6.5 -1.8 4.8 -2.5 2.3 -3.3 .7 -3.2 -.9 -1.6 -.9 -3.3 -3.8 -1.6 -3.9 -.7 -4.8 .9 -4.9 1.6 -3.2 3.5 -3.3z"/><path fill="#ff4000" d="M-32.4 -17.2l3.2 -.2 1.7 .8 2.5 3.6 .8 3.3 -.2 4.8 -1.1 3.3 -1.4 1.6 -2.3 .6 -2.2 -.6 -2.6 -2 -1.8 -2.9 -.9 -3.2 .1 -3.2 1 -2.9 1.6 -2z"/><path fill="#ff2600" d="M-30.8 -11.6l1.7 1.9 -.1 1.6 -1.6 .9 -1.7 -2.5 .9 -1.6z"/></g><path fill="none" stroke="#000" stroke-width="1.35" d="M-113.4 -6l19.4 .7 4.9 -.8 4.8 -2 4.9 -3.5 3.2 -4.3 2.1 -5.2 .7 -4.8 -.7 -4.9 -2.2 -4.8 -3.1 -4 -4.9 -4.1 -4.8 -2.7 -6.5 -2.6 -6.5 -1.6 -11.3 -1.7M63.2 -27.8l-4.9 1.5 -1.6 1.3 -1.7 2.3 -5.6 14.6 -1.3 4.9 -.4 4.8 .9 6.9 1.6 3.7 1.6 2.1 1.7 1.4 3.2 1.7 3.3 .9 3.2 .2 3.2 -.5 3.3 -1.6 3.2 -3.7 1.7 -4.6 2 -9.7 3.4 -9.7 .4 -3.3 -1.1 -4.8 -3.1 -4 -4.9 -3 -3.2 -1.1 -3.3 -.3zM29.2 30.2l-4.9 2.6 -5 4.5 -6.7 8.1 -6.4 9.7 -1.9 4.9 -.4 4.8 1 3.6 1.6 2.3 1.6 1.1 3.2 1 4.9 .1 8.1 -1.6 6.5 -2.3 4.8 -2.8 3.3 -2.9 4.3 -6.6 2.5 -6.5 1 -4.8 -.1 -4.9 -1.2 -3.6 -3.3 -4.2 -3.2 -2 -4.9 -1 -4.8 .5M113.4 -39.2l-21 1.1 -19.5 -1.4 -6.5 .1 -6.4 1.2 -4.9 2.5 -3.4 3.3 -3.1 5.7 -5.1 18.6 -3.3 14.6 -1.3 3.8 -1.6 3 -1.7 1.8 -3.2 2.4 -8.1 4 -4.3 2.8 -16.8 13.8 -14.9 8.9 -4.2 3.2 -2.9 3.3 -2.6 4.8 -1.2 4.9 -.4 4.9 .7 6.4 2.2 9.8 2.3 5.7 2.9 4 3.6 3 4.8 2.4 6.5 1.7 6.5 .7 8.1 0 24.3 -2.4 4.8 -.7 4.9 -1.5 3.2 -1.8 3.7 -3 9.3 -11.6 3 -3 3.5 -2.3 3.2 -1.1 4.9 -.7 4.9 -.1 29.1 2.1M-113.4 46.1l11.3 -10.7 10.9 -12.7 13.4 -11.8 6.5 -7.4 2.8 -5.1 2.1 -5.9 2.4 -11.9 .8 -8.1 -.7 -6.5 -2.2 -6.5 -3.6 -6.3 -4.8 -5.7 -4.9 -4.3 -6.5 -4.5 -27.5 -16M113.4 -59l-25.9 6.8 -25.9 2.8 -4.9 1.3 -4.9 2.4 -3.2 3.1 -2.9 5.3 -9.5 35.7 -2.2 5.1 -3.2 4.2 -3.3 2.5 -11.3 5.5 -11.3 10.1 -6.5 3.8 -4.9 1.6 -4.8 1 -16.2 1.2 -4.9 1.5 -5.2 2.4 -5 3.2 -3.1 3.2 -4.3 8.1 -1.8 2.6 -1.7 1 -3.2 0 -1.6 -.9 -1.7 -2 -.7 -2.3 -.2 -3.2 1.4 -11.4 .7 -17.8 1.6 -16.2 0 -14.6 2.5 -16.2 -.3 -9.7 -1.7 -7.8 -3.9 -10 -4.2 -7.3 -4.9 -5.9 -10.7 -9.5 -2.9 -3.2 -13.9 -20.5 -7.9 -10.3M0 -94.1l-4.7 1.7 -2.6 1.7 -2.4 2.3 -1.7 2.5 -1 3.3 -.1 3.2 .6 3.2 1.3 3.3 2.2 3.2 3.4 3.3 6.4 3.2 3.5 .8 4.8 .4 8.1 -.9 6.5 -2.2 3.2 -2.4 1.7 -2.2 1.4 -3.2 .5 -3.3 -.2 -3.2 -1 -3.2 -2 -3.3 -2 -2 -3.2 -2.3 -4.3 -2.2 -8.7 -2.2 -8.1 .2zM-1.6 -10l-1.6 1.7 -.7 1.8 .3 4.9 2 3.2 1.6 .9 3.2 .3 2.3 -1.2 1 -1.6 .4 -1.6 -.4 -3.3 -1.6 -3 -1.7 -1.6 -1.6 -.8 -1.6 -.2zM113.4 -79.1l-21 10.4 -11.4 4.2 -6.5 1.3 -6.4 .6 -6.5 -.2 -4.9 -.9 -4.9 -2.7 -3.2 -4.3 -2.6 -7.1 -3.9 -15.6 -1.6 -3.8 -1.6 -2.3 -4.9 -3.8 -8.1 -3.4 -13.3 -6.7M-32.4 -58.6l3.2 0 4.9 1.1 14.6 6.3 6.5 1.8 6.4 .3 16.2 -1.1 8.1 .9 3.3 1.1 3.2 2.4 1.6 2.4 1.1 2.9 .8 4.9 .1 4.8 -.4 4.9 -1.3 6.5 -5.1 13.7 -2.2 4.1 -1.1 1.3 -1.6 1.1 -3.2 .3 -3.3 -1.6 -9.1 -12.5 -3.8 -3.8 -3.3 -2.2 -3.2 -1.1 -1.6 .1 -3.3 1.5 -1.6 1.7 -1.6 2.8 -1.4 4.3 -.6 4.8 .4 5.2 1.2 4.6 1.7 3.2 1.9 2.3 3.3 2.6 .5 1.6 -.8 1.6 -2.2 1.6 -7.2 2.6 -6.5 .9 -11.4 .3 -4.8 -.2 -4.9 -1.1 -3.2 -1.8 -3.3 -3.2 -1.6 -2.7 -1.6 -4.5 -2.5 -16.2 0 -4.9 1.1 -6.4 6.3 -24.2 2.2 -6.6 2.9 -4.9 3 -2.4 2.1 -.8zM108.4 -113.4l-9.6 8.8 -11.8 13.9 -4.9 4.8 -7 4.9 -3.8 1.3 -3.2 .4 -3.3 -.7 -1.6 -.9 -1.6 -1.7 -.8 -1.7 -.4 -3.2 .7 -3.2 1.5 -3.3 8.1 -12.9 2.1 -6.5M17.8 -38.9l4.9 .1 3.2 1.3 3.3 3.2 1.5 3.5 .5 4.9 -1.1 4.8 -2.6 4.6 -3.2 2.4 -3.2 .1 -4.9 -3.1 -4.6 -5.6 -2.2 -4.8 -.5 -3.3 1 -3.2 3.1 -3.1 4.7 -1.8zM-30.8 -36.4l4.9 -.8 3.2 .5 2.4 1.1 3.8 3.2 2.1 4.9 .4 6.4 -1.7 24.3 -1.4 4.9 -1.1 1.6 -2.9 2.2 -3.2 1.2 -3.2 .4 -4.9 -.5 -3.2 -1.2 -3.3 -2.2 -2.5 -3.1 -1.7 -3.3 -1.6 -4.8 -.9 -4.9 -.1 -4.8 .6 -4.9 1.4 -4.4 1.6 -3.7 3.2 -5.3 3.3 -3.7 3.2 -2.3zM-32.4 -23l3.2 -.6 3.3 1 3.1 3.2 1.7 4.6 .7 6.7 -.7 6.5 -1.6 3.9 -1.6 1.7 -1.6 1 -1.6 .5 -3.3 -.1 -3.2 -1.5 -3.3 -3.3 -2.4 -5.5 -.5 -6.4 1.2 -4.9 3.4 -4.7 2.6 -1.8z"/></g></g><use href="#hd"/></g><g transform="translate(664.0,584.6)"><g transform="scale(1,1.0027)"><g clip-path="url(#disc)"><g filter="url(#sm)"><rect x="-112" y="-112" width="224" height="224" fill="#26ffd9"/><path fill="#40ffbf" d="M-111.8 -113.4l225.2 0 0 226.8 -226.8 0 0 -226.8zM-97.8 -24.3l-2.7 1.6 -2 3.3 .4 2.8 1.2 2 3.7 3 3.2 1.2 3.3 .2 3.2 -.9 3.2 -2.3 1.9 -2.8 .8 -3.2 -1 -4.1 -3.3 -1.9 -3.2 -.5 -3.3 .2 -4.8 1.2z"/><path fill="#59ffa6" d="M-111.8 -113.4l225.2 0 0 226.8 -226.8 0 0 -115.7 16.2 6.2 4.8 .3 4.9 -1.3 4.9 -3.3 5.4 -6.1 2.8 -6.5 .7 -6.4 -.9 -4.9 -1.8 -3.2 -3 -2.7 -3.2 -1.5 -6.5 -1.5 -9.7 -.8 -8.1 .4 -6.5 1.4 0 -81.2z"/><path fill="#73ff8c" d="M-111.8 -113.4l225.2 0 0 226.8 -226.8 0 0 -96.1 6.5 1.1 14.5 4.3 3.3 -.1 3.2 -1.5 3.3 -3.9 10.9 -18.8 2.5 -8.1 .7 -8.1 -.5 -4.9 -1.7 -4.8 -2.3 -3.3 -4.8 -3.6 -6.5 -2.5 -8.1 -1.9 -11.3 -2 -9.7 -.8 0 -71.8zM85.7 6.5l-1.5 1.6 1.7 1.7 .7 -1.7 -.7 -1.6zM-60.8 51.8l-2.4 1.4 -1.5 1.9 -.6 3.2 .5 1.8 1.6 2.3 3.2 1.8 3.3 .6 3.2 -.5 3.3 -1.7 1.6 -2.2 .5 -2.1 -.8 -3.2 -1.6 -1.6 -3 -1.5 -3.2 -.6 -3.3 .2z"/><path fill="#8cff73" d="M-111.8 -113.4l225.2 0 0 226.8 -226.8 0 0 -57.1 9.7 -4.2 6.5 -1.9 8.1 -1 4.8 .4 1.7 .7 1.6 1.5 .6 1.7 .6 8.1 2.5 4.8 4.5 3.3 3.1 1 4.9 .7 9.7 -.7 7.6 -2.6 2.2 -1.7 2.5 -3.2 1.4 -4.9 -.9 -4.8 -1.4 -2.4 -2.8 -2.5 -5.3 -2.6 -14.6 -3.8 -3.3 -1.3 -2.4 -2 -1.4 -3.3 -.5 -6.4 1 -9.8 1.9 -6.4 5 -13 1.4 -8.1 .4 -8.1 -.4 -6.5 -1.2 -4.8 -1.7 -3.3 -4.8 -4.8 -7 -3.7 -22.7 -6.9 -11.3 -2.7 0 -64.5zM80.8 -32.4l-2.4 1.6 -1.3 1.6 -.6 1.7 -.1 3.2 1.4 4.8 4 8.2 1 4.8 -1.4 4.9 -2.9 3.2 -1.7 3.3 -.8 4.8 .5 6.5 1.6 6.5 2.9 4.9 1.6 1.1 3.3 1.2 4.8 -.7 2.6 -1.7 2.3 -2.6 2.9 -7.1 .7 -6.5 -1.3 -16.2 .6 -3.2 3.4 -9.7 .4 -4.9 -1.1 -3.2 -1.2 -1.6 -4.4 -3.3 -4 -1.6 -4.1 -.8 -3.2 0 -3.3 .7z"/><path fill="#a6ff59" d="M-111.8 -113.4l225.2 0 0 84.9 -3.2 -4.5 -6.5 -4.3 -8.1 -2.5 -9.7 -.7 -6.5 .7 -5.5 2.5 -2.7 3.3 -1 3.2 -.3 3.3 .6 4.8 3.5 11.4 .9 4.8 -.1 3.3 -2.4 8.1 -.8 4.8 -.2 8.1 .9 8.1 1.3 4.9 2.6 4.6 3.2 3.1 4.9 2.4 6.4 1 6.5 -1 4.9 -3.2 2.5 -3.7 3 -9.7 1 -6.5 -.2 -6.5 -1.4 -11.3 1.6 -4.7 4.8 -10 0 128.1 -208.9 0 2.8 -6.5 3.8 -6.4 5.3 -6.5 5.3 -4.9 6.7 -4.8 5.7 -3.3 7.6 -3.4 12.9 -3.9 3.3 -1.8 2.6 -2.2 2.5 -3.3 1.4 -3.2 .8 -3.2 0 -4.9 -1.2 -4.9 -1.3 -2.3 -2.4 -2.5 -4 -2.4 -11.8 -4.1 -4.5 -2.2 -3.2 -2.7 -2.8 -4.8 -.8 -4.9 .3 -4.9 4.9 -17.1 .9 -7.2 -.3 -19.4 -1.2 -4.9 -2.6 -4.8 -4.9 -4.5 -4.8 -2.8 -38.9 -14.3 0 -57.8z"/><path fill="#bfff40" d="M-111.8 -113.4l225.2 0 0 71.4 -8.1 -3.3 -8.1 -1.5 -8.1 -.3 -16.2 1.4 -3.2 1.1 -3.3 3.3 -1.5 4 -.5 4.9 .6 6.5 3.9 14.6 .7 4.8 -.1 4.9 -2.1 14.6 -.4 11.3 1 11.3 2.3 6.5 2.6 3.3 4.9 3.1 6.5 2.4 8.1 2.1 6.4 .9 6.5 -.1 4.9 -1.6 3.2 -2.3 0 63.5 -165.7 0 -1.2 -6.3 -3.2 -8.6 -.2 -4.5 .7 -3.3 3.2 -4.8 2.6 -1.6 6.7 -2.1 4.8 -2.3 4.9 -3.8 3.7 -4.8 2.1 -4.9 1.1 -4.8 .6 -14.6 -.5 -4.9 -.7 -1.6 -3.1 -2.1 -16.2 -2.7 -6.5 -1.9 -4.4 -3 -2.1 -3.3 -.9 -3.2 -.1 -4.9 4.1 -19.4 -.5 -24.3 -1.1 -6.5 -3.6 -6.5 -3.4 -3.2 -5.5 -3.2 -17 -6.5 -25.4 -11.9 0 -51.3z"/><path fill="#d9ff26" d="M-111.8 -113.4l225.2 0 0 61.4 -9.7 -2.1 -6.5 -.7 -17.8 1.2 -9.7 -2.8 -4.9 -.7 -3.2 .6 -1.6 1 -1.4 2 -.4 3.3 1.8 21 4.4 16.2 1.2 8.1 -4.3 43.8 -.2 6.5 .5 3.5 1.5 2.9 1.7 1.7 3.3 2 6.4 2.3 24.3 6.8 8.1 1 6.5 -.5 0 48.3 -121.4 0 3.1 -10.7 .8 -13.6 -.8 -3.2 -.9 -1.6 -5.5 -5.2 -2.9 -4.6 -1.6 -6.4 -.6 -8.1 .8 -6.5 1.8 -4.9 3.1 -4.9 7.5 -9 2.1 -3.9 1 -3.3 -.2 -3.2 -1.3 -4.9 -4.9 -12.3 -1.6 -2.1 -1.6 .3 -1.6 1.2 -13 14.3 -6.5 4.9 -4.8 2.5 -4.9 1.3 -4.9 .1 -4.8 -.9 -3.3 -2 -1.3 -2.4 -.7 -4.9 2 -19.4 -1.2 -13 .5 -14.5 -1.8 -8.1 -3 -4.9 -5.8 -4.7 -21 -8.3 -27.6 -15.4 0 -44.5z"/><path fill="#f2ff0d" d="M-111.8 -113.4l225.2 0 0 50 -11.3 -2 -16.2 -1.8 -16.2 -5.2 -8.1 -.8 -6.5 1.4 -3.7 2.1 -2.8 3.4 -1.1 4.7 1 6.5 4.9 13 3.1 14.6 4 12.9 1.2 6.5 .3 4.9 -1 11.3 -3.6 21.1 -2.8 9.7 -5.6 12.9 -.7 3.3 .5 3.2 2.4 3.3 5.5 2.6 24.3 5.3 22.7 7.2 9.7 1.6 0 35.1 -100.5 0 4.5 -24.3 .2 -4.8 -.7 -4.9 -1.5 -3.2 -2.8 -3.3 -13.9 -9.7 -2.3 -3.2 -1.1 -3.3 .4 -4.9 6.9 -12.9 1.5 -4.9 .8 -4.3 -.4 -7 -2.7 -14.6 -.1 -4.9 1.4 -8.1 -1.5 -4.3 -1.6 -1.9 -3.2 -1.4 -1.7 .3 -3.2 1.9 -9.7 12.1 -7.3 11.2 -3 3.2 -4.3 3.1 -4.9 2.2 -3.2 .6 -3.2 -.1 -3.3 -1.5 -2 -2.7 -1.4 -6.5 -.4 -11.3 -1.2 -13 .9 -17.8 -.9 -6.5 -1.5 -4.2 -2.9 -3.9 -3.6 -2.6 -6.4 -2.9 -13 -4.1 -3.7 -1.7 -10.7 -6.5 -19.6 -13.5 0 -36.7zM-1.9 -94l-4.6 3.4 -3.1 4.7 -1.9 6.5 .1 4.9 1.9 3.2 3 1.7 4.9 .6 6.5 -1.6 4 -2.3 2.9 -3.3 1.1 -3.2 -.3 -4.9 -2.4 -4.8 -3.7 -3.6 -4.9 -1.8 -3.2 .4z"/><path fill="#fff200" d="M-111.8 -113.4l225.2 0 0 35.6 -30.8 -8.2 -12.9 -1.4 -8.1 .3 -8.1 1.4 -8.1 2.5 -13 5.3 -3.2 0 -1.7 -1.3 -6.5 -11.5 -6.4 -7.7 -6.5 -5.7 -3.2 -1.8 -3.3 -1 -3.2 .2 -4.9 2.6 -3.2 3.3 -3.6 5.2 -2.9 6.2 -6.2 16.5 -3.3 4.8 -6 6.5 -1.5 3.3 .2 1.6 2.1 1.6 3.4 .1 6.4 -4.8 3.3 -1.4 4.8 -.9 13 -.5 24.3 -7.6 3.2 -.3 1.7 .6 3.2 2.9 6.5 8.2 8.6 13.4 3.4 8.1 6.4 22.7 1.4 9.7 -.6 9.8 -3.9 19.4 -4.2 11.3 -3 5.2 -3.3 4.1 -6.4 5.6 -6.5 2.6 -9.7 .8 -4.9 -.7 -2.8 -1.4 -2.1 -2.1 -1.1 -2.7 -1.2 -21.1 -2.6 -17.8 -.1 -13 -1.4 -5.4 -3.3 -5.4 -1.6 -1.6 -3.2 -1 -1.7 .4 -3.2 1.9 -3.2 3.1 -11.4 13.6 -5.6 9 -4.1 3.7 -3.2 1.5 -3.3 .5 -3.2 -.7 -1.6 -1.1 -1.8 -2.3 -1.5 -3.8 -2.4 -17.2 0 -6.5 2.1 -24.3 -.3 -4.9 -1 -2.7 -2.1 -2.1 -4.4 -2.2 -19.7 -5.9 -7.8 -3.5 -13.6 -9.5 -17.2 -15 0 -27.1zM50.2 77.5l3.3 -.5 4.8 .1 21.1 2.9 4.9 1.9 16.2 8 12.9 4.4 0 19.1 -82.7 0 .3 -4.8 1.1 -4.9 3.5 -9.7 3.1 -6.5 2 -3.2 2.9 -3.3 5.7 -3.2z"/><path fill="#ffd900" d="M-111.8 -113.4l100.9 0 -3.7 4.1 -3.3 5.6 -3.6 8.1 -4.9 14.6 -2.8 4.1 -6.4 6.6 -8.1 6.7 -4.9 2.5 -6.5 1 -9.7 -1.1 -9.7 -2.7 -8.1 -4.2 -8.3 -6.4 -9.5 -9.8 -13 -15.6 0 -13.5zM13 -113.4l100.4 0 0 19.2 -21 -5 -16.2 -1.8 -14.6 .9 -21.1 3.8 -6.5 -.2 -4.8 -1.7 -4.9 -3.1 -12.9 -12.1zM8.1 -60l8.1 -1.3 6.5 .6 8.1 3.7 6.5 4.8 4.8 5.5 4.7 7.8 2.4 6.5 5.1 17.8 1.2 8.1 -.2 8.1 -2.1 11.4 -3.3 11.3 -2.9 6.6 -4.4 6.4 -5.3 4.5 -4.9 2.1 -4.9 .7 -4.8 -.8 -3.3 -1.8 -3.6 -4.7 -1.6 -4.9 -1.2 -6.2 -4.6 -34.3 -3.5 -9.2 -3.3 -4.9 -1.6 -1.4 -1.6 -.5 -3.3 .8 -4.8 3.5 -16.2 18.8 -4.9 7.7 -3.2 2.6 -3.3 .8 -3.2 -.7 -1.6 -1.3 -1.6 -2.3 -1.7 -4.8 -1.6 -12.3 .7 -9.8 3 -14.5 2 -4.9 2.3 -3.2 3.4 -2.5 9.7 -3.8 6.5 -4 4.8 -2.2 4.9 -1.1 9.7 -.6 8 -2.1z"/><path fill="#ffbf00" d="M-105.3 -113.4l80.3 0 -7.7 25.9 -3.2 6.5 -5.8 6.5 -5.3 4 -4.8 2.3 -6.5 1.1 -8.1 -.8 -6.5 -2.1 -6.5 -3.5 -5.2 -4.3 -4.3 -4.8 -4.5 -6.5 -13.2 -24.3zM29.2 -113.4l27 0 -12.5 2.3 -6.4 .6 -4.9 -.7 -4.4 -2.2zM102.1 -113.4l11.3 0 0 2.2 -11.5 -2.2zM13 -56.8l6.4 .5 4.9 1.6 8.1 4.1 6.5 5.5 3.5 4.6 3.4 6.5 4.1 12.9 1.9 8.1 .6 8.1 -.7 8.1 -2.8 11.4 -3.5 9.4 -3.3 5.7 -3.8 4.3 -4.3 2.7 -4.8 1.2 -3.3 -.4 -3.2 -1.6 -2 -1.9 -2 -3.2 -2.4 -8.1 -4.2 -25.9 -1.5 -6.5 -4.3 -11.4 -1.8 -3.2 -2.9 -3.2 -1.6 -.7 -3.2 0 -3.3 1.3 -3.6 2.6 -4.5 4.7 -7.3 9.9 -12.1 14.4 -3.3 .9 -3.2 -1.7 -1.6 -2.6 -1.6 -6.2 -.7 -9.7 1.5 -9.7 3.4 -9.7 2.2 -3.7 2.6 -2.8 4.7 -3.2 15.4 -8.5 6.5 -1.5 8.1 -.5 12 -2.5z"/><path fill="#ffa600" d="M-79.4 -113.4l11.9 0 9.1 8.1 9.8 4.7 3.6 3.4 1.4 3.2 .4 3.3 -.9 4.8 -1.5 3.3 -2.5 3.2 -3.7 2.8 -3.3 1.2 -3.2 .4 -6.5 -.7 -5.3 -2.1 -4.8 -3.2 -4.1 -4.9 -2.7 -6.5 -1.1 -6.4 .5 -8.1 2.1 -6.5zM3.2 -51.9l8.1 -1.2 6.5 .3 4.9 1.5 8.1 4 4.8 3.6 4.3 4.8 2.9 4.9 2.7 6.5 2.3 8.1 1.4 8.1 0 8.1 -1.1 6.4 -3 9.8 -4.6 9.9 -4.9 6 -4.8 2.5 -3.3 0 -1.6 -.5 -2.2 -1.7 -1.9 -3.3 -6.8 -29.1 -4 -13 -4.5 -10.4 -2.1 -2.6 -2.8 -1.8 -3.2 -.7 -3.3 .4 -3.2 1.2 -3.9 2.6 -4.6 4.8 -9.2 13 -9.8 10.5 -1.7 -.1 -.7 -.7 -1.8 -3.2 -1.6 -8.1 .4 -8.1 2.6 -8.1 4.4 -7.2 6.5 -5.8 11.3 -7.4 6.5 -2.1 12.5 -1.8z"/><path fill="#ff8c00" d="M0 -48.7l14.6 -.9 4.8 .9 4.9 1.8 6.5 3.5 4.8 4.1 3.3 3.9 3.2 5.9 2.4 6.8 1.6 8.1 .2 6.5 -.9 6.5 -2.6 8.1 -3.9 7.6 -4.9 6.3 -3.2 2 -1.6 .1 -1.7 -1.2 -1.6 -2.9 -15.9 -44.3 -2.9 -4.9 -3.9 -3.1 -3.2 -1.2 -4.9 -.2 -3.2 .8 -4.5 2.1 -3.6 2.4 -2.4 2.5 -7.8 12.9 -2.8 3.5 -3.2 2.3 -1.6 .6 -1.6 -.4 -1.7 -2.1 -.7 -3.9 .7 -5.5 3.3 -6.7 3.2 -4.1 14.4 -12.8 3.9 -1.7 11.7 -3.2z"/><path fill="#ff7300" d="M9.7 -45.4l8.1 .1 4.9 1.5 4.8 2.4 4.9 3.3 3.2 3.1 4.7 7.5 1.7 4.8 1.1 6.5 .2 4.9 -.6 4.8 -1.5 4.9 -2.3 4.5 -3.3 3.7 -3.2 1.5 -3.2 -.8 -1.7 -1.3 -4.8 -6.8 -4.9 -10.4 -5.3 -16.3 -2.8 -5.7 -3.2 -3.8 -5.8 -3.5 -1.8 -1.6 .4 -1.6 2.3 -1.3 7.5 -.4z"/><path fill="#ff5900" d="M16.2 -39.3l1.6 -.5 3.3 .3 6.4 2.3 6.4 4.8 3.4 4.9 2.4 6.4 .5 8.1 -1.8 6.5 -2.2 3.3 -1.9 1.6 -3.5 .7 -3.3 -1.4 -3.2 -3.3 -3.2 -5.1 -3 -7.1 -2 -8.1 -1.6 -9.7 .1 -1.7 1 -1.6z"/><path fill="#ff4000" d="M22.7 -32.7l3.2 -.2 3.3 1.2 3.2 2.5 3.3 4.9 1.3 4.9 -.2 4.8 -1.2 3.3 -1.6 2.1 -1.6 1 -1.6 .4 -3.3 -.9 -3.2 -3 -2.6 -4.5 -1.5 -4.9 -.5 -4.8 1 -4.9 1.5 -1.6z"/><path fill="#ff2600" d="M25.9 -26.5l1.6 -.2 1.7 .5 1.6 1.2 1.7 2.3 .6 4.9 -.7 1.8 -1.5 1.4 -1.7 .3 -1.7 -.5 -2.7 -3 -.9 -4.9 .4 -1.9 1 -1.3z"/></g><path fill="none" stroke="#000" stroke-width="1.35" d="M-113.4 19.9l7.3 1.2 13.7 4.5 3.3 .1 3.7 -1.4 2.8 -3.3 11.7 -22.6 2.3 -8.1 .7 -8.1 -.5 -4.9 -1.7 -4.8 -2.8 -3.9 -4.9 -3.5 -5.8 -2.4 -8.8 -2.1 -11.3 -2.2 -9.7 -.9M82.6 4.6l-.6 3.5 .6 2.9 1.7 2.4 1.6 .8 1.6 -.4 1.8 -2.5 .3 -3.2 -.5 -2.1 -1.6 -1.9 -1.6 -.5 -1.6 .1 -1.7 .9M-63.2 51.5l-2.4 2 -1.3 3.2 .4 3.3 1.7 2.6 3.2 2.2 3.3 .7 3.2 0 3.3 -.9 2.1 -1.4 2.2 -3.2 .2 -3.3 -1.3 -2.5 -3.1 -2.4 -3.4 -1.1 -3.2 -.3 -3.3 .5zM113.4 -36.8l-6.5 -3.9 -4.8 -1.7 -4.9 -1 -9.7 -.6 -9.7 .9 -4.9 1.5 -3.4 2.7 -2.1 4.9 -.5 4.8 1 6.5 3.2 11.4 .8 4.8 -.1 3.3 -2.3 12.9 -.4 11.4 .9 9.7 1.3 4.4 1.9 3.7 1.3 1.8 3.3 2.7 6.5 2.9 8.1 1.7 8.1 -.2 4.8 -1.6 3.3 -2.6 3 -4.7 1.8 -5.6M-72.3 113.4l1.4 -9.7 1.7 -6.5 2.2 -4.8 3.4 -4.9 5 -4.9 3.5 -2.2 9.7 -2.6 4.9 -2.2 3.5 -2.7 3 -3.7 2.1 -4.4 1 -4.8 .1 -6.5 -.8 -4.9 -1.4 -3.2 -3.5 -3.3 -4 -1.7 -13 -3.8 -4.8 -2.6 -3.1 -3.2 -1.5 -3.3 -.7 -3.2 .1 -4.9 .9 -4.8 3.2 -11.4 .7 -6.4 -.5 -22.7 -1.3 -4.9 -2.7 -4.7 -3.4 -3.4 -6.3 -3.8 -15.8 -5.9 -24.7 -10.4M113.4 -62.7l-11.3 -1.9 -17.8 -1.8 -14.6 -5 -8.1 -.9 -4.9 .9 -4.9 2.5 -1.6 1.7 -1.3 2.4 -.7 4.8 1.2 6.5 4.7 13 2.7 13 3.9 12.9 1.2 6.5 .3 4.9 -.8 9.7 -3.4 21 -2.9 11.2 -5.4 13.1 -.6 3.3 .7 3.2 1.1 1.7 1.9 1.6 5.5 2.3 22.7 5 22.7 7 9.7 1.5M11.9 113.4l4.4 -24.3 .2 -4.8 -1 -4.9 -1.6 -3.2 -3 -3.3 -12.5 -8.8 -2.9 -4.1 -.9 -3.3 .5 -4.9 1.4 -3.2 5.6 -9.7 1.7 -4.9 .8 -4.8 -.3 -6.5 -3 -16.2 .3 -4.9 1.3 -6.5 -1.3 -3.9 -1.6 -1.9 -1.6 -1 -1.6 -.4 -2.8 .8 -2.1 1.4 -9.7 12.3 -6.9 10.6 -3 3.2 -4.7 3.5 -4.9 2.2 -3.2 .7 -3.2 -.1 -3.3 -1.3 -1.6 -1.7 -.8 -1.7 -1.1 -4.8 -.5 -13 -1.2 -13 .9 -17.8 -1 -6.5 -1.9 -4.8 -2.7 -3.3 -4.9 -3.2 -6.3 -2.6 -11.3 -3.5 -7.2 -3.6 -26.8 -17.9M-3.2 -92.5l-3.3 2.8 -2.5 3.8 -1.7 4.9 -.3 4.8 1.1 3.3 1.8 1.8 3.2 1.3 4.9 .1 5.3 -1.6 4.5 -3.2 2 -3.3 .5 -4.8 -1.8 -4.9 -4 -4.4 -1.6 -.9 -3.3 -1 -3.2 .5 -1.6 .8M-16 -113.4l-2.9 4.8 -2.9 6.5 -6.1 17.8 -2.6 4.9 -6.1 6.5 -7.1 6 -4.9 2.7 -6.5 1.6 -8.1 -.5 -8.1 -1.8 -6.5 -2.7 -6.5 -4.1 -6.8 -6.1 -5.7 -6.5 -16.6 -22.4M113.4 -100l-19.4 -4.3 -16.2 -1.6 -14.6 .8 -22.7 4.1 -6.5 -.1 -4.8 -1.4 -3.3 -1.8 -9.2 -9.1M8.1 -58.6l8.1 -1 6.5 1 8.1 3.8 6.5 4.6 4.8 5.6 4.3 7.3 1.8 4.9 4.7 16.2 1.4 8.1 0 8.1 -2 11.3 -3.4 11.4 -2.8 6.5 -4 5.9 -4.8 4.2 -4.9 2.2 -4.9 .6 -4.8 -1.2 -3.3 -2.3 -2.9 -4.6 -2.5 -9.7 -4.6 -32.4 -1.6 -4.9 -2.9 -6.6 -3.2 -4.7 -1.7 -1.2 -1.6 -.3 -3.3 .9 -5.3 3.8 -10.6 13 -5.9 6.5 -4.1 6.5 -3.2 2.7 -3.3 .9 -3.2 -1 -2.3 -2.6 -1.8 -4.9 -1.5 -11.3 .7 -9.8 3.3 -13.5 1.9 -4.3 2.5 -3.2 3.7 -2.8 8.1 -3.7 8.1 -4.7 3.2 -1.4 4.9 -1.2 9.7 -.6 7.2 -1.8zM8.1 -50.3l6.5 -.2 4.8 .9 6.5 2.5 6.5 3.9 4.7 4.3 3.4 4.8 2.4 4.9 2.2 6.5 1.4 6.5 .5 6.5 -.4 6.5 -1.5 6.4 -3 7.7 -4.8 8.7 -4.4 4.7 -3.7 1.5 -1.7 -.4 -1 -1.1 -1.6 -3.2 -8.2 -26 -7 -20 -3.2 -5.4 -3.3 -2.6 -3.2 -1.2 -4.9 -.1 -3.2 .8 -4.9 2.6 -5.2 4.9 -9.3 14.4 -3.3 3.1 -3.2 2 -1.6 .1 -1.7 -1.4 -1.4 -3.6 -.3 -3.3 .2 -3.2 1.4 -4.9 1.8 -3.7 4.8 -6.5 10.4 -9.2 4.2 -2.8 4.9 -1.9 9.7 -2.3 8.5 -1.1zM17.8 -38.3l1.6 -.3 3.3 .4 6.5 2.6 4.8 4.1 3.3 4.8 1.5 4 .7 3.3 .1 6.4 -.7 3.3 -1.4 3.2 -2.8 3.3 -2.3 1 -1.6 .1 -3.3 -1.3 -3.2 -3.2 -3.2 -5.1 -2.6 -6.1 -1.5 -6.5 -1.3 -9.7 .8 -3.3z"/></g></g><use href="#hd"/></g><g transform="translate(1081.0,584.6)"><g transform="scale(1,1.0027)"><g clip-path="url(#disc)"><g filter="url(#sm)"><rect x="-112" y="-112" width="224" height="224" fill="#008cff"/><path fill="#00a6ff" d="M-111.8 -113.4l225.2 0 0 226.8 -226.8 0 0 -226.8zM46.4 0l-1 .9 -1 2.3 .2 3.3 .8 1.8 1.6 .9 1.6 -.5 1.6 -1.6 .9 -2.2 0 -3.3 -1.1 -1.6 -1.4 -.6 -1.6 .2z"/><path fill="#00bfff" d="M-111.8 -113.4l225.2 0 0 226.8 -226.8 0 0 -226.8zM48.1 -8.1l-2.7 1.1 -2.2 2.1 -1.9 3.3 -1.6 4.8 -1 8.1 -.3 9.8 .5 2.8 1.6 .9 4.9 -2.2 4.8 -4.3 3.3 -4.5 2.4 -5.7 .7 -6.5 -1.2 -4.8 -1.9 -2.8 -1.7 -1.3 -3.2 -.9z"/><path fill="#00d9ff" d="M-111.8 -113.4l225.2 0 0 226.8 -226.8 0 0 -226.8zM46.4 -14.6l-2.8 1.6 -3.6 4.9 -1.9 4.9 -5.1 17.8 -7.4 14.6 -1.2 3.2 .2 4.9 2 3.2 4.2 1.9 4.8 -.8 3.3 -1.9 3.2 -2.8 9.7 -11.2 4.9 -8.3 3.1 -9.3 .3 -8.1 -1 -4.9 -1.3 -3.2 -2.2 -3.2 -2.1 -2.1 -3.3 -1.5 -3.2 .1z"/><path fill="#00f2ff" d="M-111.8 -113.4l225.2 0 0 226.8 -226.8 0 0 -226.8zM44.6 -21.1l-4.1 3 -2.4 3.5 -1.8 4.9 -2.6 11.3 -2.2 6.5 -4 7.7 -7.8 11.7 -2.4 6.5 -.2 3.3 .8 3.2 1.8 3.2 3 2.7 3.2 1.6 3.3 .6 3.2 -.1 3.2 -.8 4.4 -2.3 4.1 -3.3 4.8 -4.8 5.2 -6.5 3 -4.9 2.9 -6 1.7 -5.3 1.4 -6.5 .4 -6.5 -.7 -6.5 -1.4 -4.8 -2.4 -4.9 -3.9 -4.7 -2.8 -1.8 -3.7 -.8 -3.2 .5z"/><path fill="#0dfff2" d="M-111.8 -113.4l225.2 0 0 226.8 -226.8 0 0 -226.8zM44.8 -27.5l-5.9 2.4 -3.6 4 -1.9 4.9 -1.9 14.6 -2 6.5 -4.8 8.1 -11.4 14.5 -2.3 4.9 -.7 3.2 .3 4.9 1 3.2 1.8 3.3 2.8 3.2 3.2 2.4 4.9 1.9 4.9 .5 3.2 -.3 4.9 -1.7 4.8 -3.1 6.9 -6.2 6.1 -6.6 3.2 -4.7 3.3 -6.5 2.8 -8.1 1.4 -6.5 .7 -8.1 -.4 -8.1 -1.3 -6.3 -2 -5 -3 -4.9 -4.7 -4.7 -4.9 -1.9 -4.8 0z"/><path fill="#26ffd9" d="M-111.8 -113.4l225.2 0 0 226.8 -226.8 0 0 -226.8zM40.1 -32.4l-6.1 2.3 -3.9 4.2 -1.7 6.5 .1 16.2 -1 5 -5 7.9 -15.9 17.8 -2.5 4.9 -.8 4.9 .3 4.8 1.6 4.9 2.9 5 4.4 4.7 5.3 3.5 4.9 1.8 4.8 .7 4.9 -.5 4.9 -1.7 4.8 -3.4 13.4 -13.4 4.1 -4.8 3.6 -6.2 2.6 -6.8 2.2 -8.1 1.2 -8.1 .3 -11.3 -.7 -8.1 -1.8 -6.5 -3.3 -6.5 -5.4 -6 -4.8 -2.8 -6.5 -1.3 -6.5 .3z"/><path fill="#40ffbf" d="M-68.1 -113.4l181.5 0 0 226.8 -226.8 0 0 -173.6 11.3 2.1 6.5 .6 6.5 -1 3.2 -1.2 2.7 -1.9 2.3 -3.2 1.7 -4.9 .2 -4.8 -1.1 -6.5 .7 -2.4 3.2 -3.8 6.7 -5.2 1.8 -3.2 .3 -6.5 -1.4 -11.3zM30.4 -37.3l-4.4 1.7 -2.2 1.6 -1.3 1.6 -1.2 3.2 .1 6.5 3.1 16.2 -.4 6.5 -1.6 3.2 -4.7 5.9 -14.1 13.6 -4.2 4.8 -2.7 6.5 -.6 6.5 1.1 6.5 2.7 6.5 4.2 6.5 5.5 5.5 6.5 4.3 6.5 2.6 6.5 1.2 6.4 -.2 4.9 -1.8 3.2 -2.7 3.3 -4.4 6.5 -11 8.2 -8.1 4.7 -7.7 2.9 -8.5 2.7 -13 .6 -8.1 .1 -16.2 -1 -6.5 -2.5 -6.5 -4.2 -6.4 -5 -4.9 -6.5 -3.5 -6.5 -1.6 -8.1 -.7 -8.1 .8z"/><path fill="#59ffa6" d="M-35.6 -113.4l149 0 0 176 -9.7 3.7 -11.3 1.8 -11.4 -.5 -8.1 -2.1 -3.2 -2.2 -1.2 -1.7 -.5 -1.6 .1 -3.3 4.3 -14.6 3.4 -24.3 .3 -17.8 .8 -9.7 -.2 -3.3 -1.2 -4.8 -5.2 -9.7 -5.8 -6.5 -7.8 -4.9 -9.7 -3.4 -19.1 -4.7 -3.5 -1.6 -2 -1.6 -1.9 -3.3 -.2 -4.8 1.3 -4.9 4.3 -10.9 .9 -5.3 -1.2 -3.2 -2.9 -2.8 -3.3 -1.4 -3.2 -.6 -6.5 .6 -6.5 3 -1.6 1.4 -1.9 3 -1 6.5 1.3 19.4 6.5 21.1 8.1 13.3 2.8 6.1 1.5 4.9 .4 4.9 -1.6 4.8 -3.5 4.9 -4.7 4.8 -11.3 9.8 -5.3 6.4 -3.3 8.1 -.7 8.1 1.7 9.8 4.1 9.7 3.7 5.6 10.2 12.2 3.5 6.5 .9 3.2 .3 4.9 -1.9 17.8 -124.8 0 0 -158.6 14.6 -1.2 8.1 -2.7 13.1 -9.2 11.2 -9.7 12.9 -7.5 3 -2.3 2.8 -3.2 2.9 -4.9 6.4 -14.6 1.8 -6.4 -.2 -6.5z"/><path fill="#73ff8c" d="M-16.2 -113.4l129.6 0 0 69.2 -6.5 5.4 -4.4 4.8 -2.7 4.8 -.8 4.9 .9 3.2 2.7 3.3 10.8 6.4 0 43.8 -10 8.1 -4.6 2.2 -4.8 1.1 -4.9 -.7 -3.2 -2 -3.3 -4.5 -1.6 -4.7 -.7 -4.4 .6 -12.9 -.6 -14.6 3.1 -9.7 .3 -4.9 -1.8 -4.8 -6.7 -9.8 -4 -4.8 -6.4 -5.3 -6.5 -3.5 -17.3 -7.4 -3.7 -2.4 -2.8 -2.5 -1.8 -3.2 -.6 -3.3 1 -14.6 -.3 -6.4 -2 -5.9 -3.3 -4.4 -4.8 -3.4 -6.5 -1.9 -6.5 -.3 -14.6 1.1 -4.8 -.7 -1.6 -.9 -2.3 -3.1 -2.9 -11.3zM-25.9 -87.7l3.2 -.7 3.3 .6 1.6 1.3 1.6 2.8 4.6 17.3 4.4 24.3 2.7 9.7 3.2 6.5 7.8 8.2 3.2 4.3 1.9 3.7 1 4.8 -.8 4.9 -2.9 4.9 -4.6 4.8 -9.9 8.1 -5 4.9 -4.7 6.5 -2.6 6.4 -.9 6.5 .1 8.1 3.6 27.6 .5 8.1 -2.7 27.5 -96.1 0 0 -144.5 16.2 -3 4.8 -1.7 3.3 -1.8 3.2 -2.7 9.7 -10.4 14.6 -10.6 15.7 -10 13.5 -12.5 6.1 -3.7z"/><path fill="#8cff73" d="M14.6 -113.4l98.8 0 0 50.1 -6.4 9.8 -13 14 -4.9 4.3 -3.2 1.4 -1.6 .1 -3.3 -1.1 -14.6 -9.3 -16.6 -7.7 -6.4 -4.9 -2.3 -3.3 -1.9 -4.8 -1.5 -22.7 -1.2 -6.5 -1.8 -4.8 -2.3 -3.6 -3.2 -3 -8.1 -5 -7.3 -3zM-34 -68.3l3.2 -.9 3.3 .1 3.2 1.6 3.2 3.7 2.1 3.8 1.6 4.9 2.8 16.2 2.4 8.1 4.7 8.1 10.7 12.7 1.7 3.5 .4 3.3 -1.3 4.8 -2.3 3.3 -19.2 16.2 -4.5 4.8 -2.7 4.9 -1.7 8.1 -.4 19.4 -.9 8.1 -1.8 6.5 -5.7 13 -2.1 6.5 -3.2 21 -72.9 0 0 -129.3 24.3 -6.6 7.8 -3.4 3 -3.3 7.5 -12.9 5.8 -6.5 10.3 -8.1 20 -11.4zM97.2 -3.4l4.9 .6 4.8 2.7 1.8 3.3 .3 3.3 -1.4 4.8 -2.4 3.3 -4.7 3.7 -4.9 1.7 -1.6 -.3 -1.6 -1 -1.7 -2.3 -1.5 -5.1 -.6 -4.8 .3 -3.3 1.6 -3.2 1.9 -1.8 3.4 -1.4z"/><path fill="#a6ff59" d="M58.3 -111.8l1.8 -1.6 28.9 0 3.4 3.6 3.2 5 2.6 6 2 8.1 .8 8.1 -.2 8.1 -1.1 6.4 -2.1 6.5 -2.6 4.9 -4.3 5.4 -3.2 2.8 -3.2 1.5 -3.3 .6 -4.8 -.8 -21.1 -8.3 -4.9 -3.7 -3.2 -4.1 -2.5 -6.4 -1 -6.5 0 -8.1 1.1 -8.1 1.4 -4.8 2.6 -4.9 9.7 -9.7zM-37.3 -55.3l3.3 -.7 3.2 .1 2.2 .8 1.8 1.6 1.3 3.3 2.1 12.9 2 6.5 4.7 8.1 11.4 14.6 1.4 3.2 .1 3.3 -1.5 3.2 -2.9 3.3 -21.1 16.2 -4.1 4.8 -1.3 3.3 -.4 3.2 1.1 16.2 -.5 9.7 -1.7 6.5 -3.5 6.5 -4 4.7 -8.7 6.6 -9.2 8.6 -4.8 3.5 -3.3 1.4 -4.8 1 -4.9 .1 -13 -2.3 -11.3 -4.4 -4.9 -3 -4.8 -3.8 0 -78.8 6.4 -4.9 5.4 -3.2 20.6 -10.2 4.8 -3 3.3 -2.8 2.8 -3.5 7.5 -12.9 5.9 -7.4 8.1 -6.6 10.8 -5.5z"/><path fill="#bfff40" d="M63.2 -95.7l4.9 .2 4.8 2 3.3 3.1 2.4 4.5 3.6 11.4 .5 6.4 -1.7 5.4 -1.6 1.9 -3.2 1.7 -3.3 .4 -4.8 -.5 -8.1 -2.5 -3.3 -2.1 -2.8 -2.6 -3.7 -6.3 -1.1 -5.1 -.1 -3.2 .7 -3.3 1.3 -3.2 4.2 -4.9 3.1 -1.9 4.6 -1.3zM-45.4 -32.8l4.9 -.2 3.2 1.8 16.2 17.5 2.9 4 1.5 3.2 .2 4.9 -1.5 3.2 -4.7 4.6 -6.5 3.4 -4.8 1.5 -4.9 .8 -8.1 -.7 -4.8 -1.7 -5.8 -3 -4 -3.1 -1.3 -1.8 -.5 -3.2 .5 -3.3 6.2 -16.2 2.7 -4.8 2.2 -2.7 5.4 -3.8zM-66.4 25.8l3.2 .4 4.9 1.8 8.1 4.3 3.2 2.8 2.7 3.8 1.5 3.2 1.4 4.9 .4 4.8 -.4 4.9 -1.6 4.9 -1.9 3.2 -2.8 3.3 -4.1 3.1 -4.9 2.5 -4.9 1.8 -4.8 1.1 -4.9 0 -6.5 -1.5 -6.5 -2.7 -4.8 -3.2 -3.3 -3.4 -2.6 -4.2 -1.8 -4.9 -.8 -6.5 .5 -4.8 1 -3.3 3.7 -5.1 4.9 -3.1 16.2 -7.1 3.8 -.9z"/><path fill="#d9ff26" d="M-69.7 40.1l4.9 -1.1 6.5 .8 4.8 2.5 3.9 4.7 1.3 4.8 -.6 4.9 -2.9 4.8 -4.9 3.5 -6.5 1.7 -5.1 -.3 -3 -.9 -3.2 -1.8 -3.7 -3.7 -1.9 -4.9 -.1 -3.3 1 -3.2 3.6 -4.9 5 -3.2z"/></g><path fill="none" stroke="#000" stroke-width="1.35" d="M45.4 -11.6l-3.3 3.1 -2.7 5.3 -5.1 19.4 -7 16.2 0 3.2 .6 1.7 1.3 1.6 3.2 1 3.2 -.9 2.6 -1.7 3.9 -3.7 9.7 -11.2 4.5 -7.8 2.2 -6.5 .5 -4.9 -.1 -3.2 -.7 -3.2 -1.5 -3.7 -2.1 -2.8 -2.8 -2.1 -1.6 -.6 -3.2 .1zM43.7 -24.4l-3.1 1.7 -1.7 1.5 -2.3 3.4 -1.7 4.8 -2.4 13 -2.1 6.5 -4.5 7.9 -9.6 13.1 -1.6 3.3 -1 3.2 -.2 3.3 .4 3.2 2.4 4.9 1.5 1.8 3.3 2.5 4.8 1.9 4.9 .3 4.8 -1.1 4.9 -2.6 7.1 -6.1 5.9 -6.5 4.4 -6.4 3.7 -8 2 -6.6 1.3 -8.1 .1 -8.1 -1.1 -6.5 -2.3 -6.5 -3.3 -5 -4.8 -4.4 -4.9 -1.2 -4.9 .8M-113.4 -73.6l17.8 6.9 3.8 .3 1.1 -.4 1 -1.3 -.2 -3.2 -4.3 -9.7 -1.4 -6.5 -.3 -6.5 .8 -19.4M35.6 -34.1l-3.2 1.2 -3.2 2.1 -1.7 2 -1.2 2.9 -.5 6.5 1.2 16.2 -1.1 5 -2.9 4.7 -3.6 4.3 -11.7 11.9 -4.2 4.8 -2.3 4.9 -.9 4.9 .2 4.8 1.3 4.9 2.4 4.8 3.5 4.9 3.6 3.5 4.9 3.3 4.9 2 4.8 1 4.9 .1 3.2 -.6 3.3 -1.3 3.2 -2 3.2 -3 6.7 -7.9 9.5 -9.7 3.3 -4.9 3.2 -7.5 2.8 -10.3 1.3 -8.1 .3 -14.5 -.7 -8.1 -2.7 -8.1 -4 -6.5 -5.1 -4.9 -6.5 -3.1 -8.1 -1.2 -8.1 1M-113.4 -40.7l12.9 -1.5 8.1 -2.7 4.9 -3 6.5 -5.6 16.2 -12.2 12.2 -7.2 4 -3 5.7 -6.7 12.6 -19.5 1.7 -4.8 -.5 -6.5M113.4 -32.1l-3.2 2.8 -1 1.8 .1 1.6 .9 1.1 3.2 2.2M113.4 52.6l-11.3 5.1 -8.1 1.8 -4.9 .1 -4.8 -.9 -3.3 -1.5 -2.5 -2.1 -1.2 -1.6 -1.2 -3.3 -.5 -8.1 .3 -12.9 1.5 -14.6 -.1 -14.6 1.3 -11.3 -.7 -4.9 -2.9 -6.5 -3 -4.8 -3.8 -4.9 -6.6 -5.4 -8.1 -3.9 -21.1 -6.9 -3.4 -1.6 -3.1 -2.7 -1 -2.2 0 -4.9 3.8 -14.5 .5 -4.9 -1.5 -4.9 -2.8 -3.2 -3.8 -2.4 -6.5 -1.3 -6.5 .7 -6.5 2.2 -3.2 2.2 -1.6 1.8 -1.9 4.9 -.2 8.1 2.1 19.5 3.2 12.4 2.3 7 1.6 3.2 6.5 8.1 3.2 4.9 2.8 6.5 .9 4.8 -.9 4.9 -1.7 3.2 -2.5 3.3 -4.9 4.8 -11.3 9.8 -4.2 4.8 -3.5 6.5 -1.6 6.5 -.2 4.8 .3 4.9 2.7 11.4 4 8.8 8.6 12.2 2.2 6.5 .1 8.1 -2.8 17.8M113.4 -71l-3.4 7.8 -3.7 6.5 -5.1 6.5 -7.2 7.6 -4.9 4.1 -3.2 1.4 -3.3 .1 -3.2 -1.2 -12.9 -7.2 -14.7 -6.6 -4.6 -3.1 -3.5 -3.5 -2.5 -4.6 -1.2 -4.9 -1.3 -22.6 -2 -9.8 -1.4 -3.2 -2.9 -3.8 -7.2 -5.9M-113.4 -12.3l8.1 -2.9 17.8 -5.2 6.5 -2.9 1.6 -1.1 2.8 -3.1 7.3 -13 5.4 -6.5 9.9 -8.1 13.5 -7.9 6.5 -2.8 4.8 -.5 3.3 1.1 1.6 1.2 3.2 4.3 2.4 6.2 2.7 16.2 2.1 6.5 4.6 8.1 10.8 13 2 4.8 .1 3.3 -1.2 3.2 -2.5 3.3 -19.5 16.2 -4.5 4.8 -2 3.3 -1.1 3.2 -.9 4.9 -.4 21 -1.2 8.1 -2.7 7.5 -7.3 13.6 -1.9 4.9 -3.8 21M95.6 2.4l1.6 -.6 3.3 .4 1.7 1 .9 1.7 -.2 3.2 -.8 1.6 -1.6 1.7 -3.3 1.4 -1.6 -.4 -1.6 -1.6 -1 -4.3 .4 -1.6 1 -1.7zM63.2 -94.1l4.9 .4 3 1.3 2.1 1.7 3.4 4.8 3.2 9.7 1 6.5 -1.1 4.9 -2.8 3.2 -4 1.3 -3.2 0 -4.9 -.8 -6.5 -2.7 -4.8 -4.6 -3.1 -6.1 -.7 -3.3 0 -3.2 .7 -3.3 1.4 -2.9 1.7 -2.2 3.2 -2.6 5.4 -2zM-47 -29.6l3.3 -.9 1.6 0 1.6 .4 3.2 1.8 13 12.6 4.7 6 1.9 4.8 -.2 3.3 -1.5 3.2 -1.4 1.6 -5.1 3.8 -4.9 2 -4.8 1 -4.9 .2 -3.2 -.5 -3.3 -1 -4.1 -2.2 -3.8 -3.3 -2.7 -3.2 -1.3 -3.2 -.2 -3.3 1.8 -8.1 2.2 -5.7 2.2 -4 2.7 -3.1 2.5 -1.8zM-71.3 28.9l3.2 -.8 4.9 .1 4.9 1.5 6.5 3.1 3.2 2.4 2 2.1 2.1 3.2 1.9 4.9 .8 4.8 -.1 4.9 -1.2 4.9 -1.6 3.2 -2.5 3.2 -3 2.7 -3.3 2.1 -4.8 2.2 -4.9 1.5 -4.9 .6 -4.8 -.4 -6.5 -1.9 -4.9 -2.5 -4.8 -3.9 -2.9 -3.6 -2.2 -4.9 -1 -4.8 0 -4.9 1.3 -4.9 1.9 -3.2 2.9 -2.9 2.9 -2 14.3 -6.4z"/></g></g><use href="#hd"/></g><g transform="translate(248.6,918.4)"><g transform="scale(1,1.0027)"><g clip-path="url(#disc)"><g filter="url(#sm)"><rect x="-112" y="-112" width="224" height="224" fill="#008cff"/><path fill="#00a6ff" d="M-111.8 -113.4l225.2 0 0 226.8 -226.8 0 0 -226.8zM60.1 -87.5l-1.8 2.2 -.3 2.7 2 1.6 3.2 -1.1 2.1 -2.2 .7 -1.6 -.2 -1.6 -1 -1 -1.6 -.2 -1.6 .4z"/><path fill="#00bfff" d="M-111.8 -113.4l225.2 0 0 226.8 -226.8 0 0 -226.8zM70 -106.9l-6.8 3.7 -8.1 6.4 -4.1 6.1 -1.6 6.4 .1 3.3 .7 2.7 1.3 2.1 2 2 3.2 1.3 3.3 .2 6.4 -1.7 6.1 -3.4 5.9 -4.8 4.5 -6.5 2.1 -6.5 .3 -3.2 -.4 -3.3 -2.3 -4 -1.6 -1.2 -3.2 -1 -3.3 0 -3.2 .9z"/><path fill="#00d9ff" d="M-111.8 -113.4l169.9 0 -8.9 11.3 -2 3.3 -1.8 5.2 -1 7.7 .7 8.1 1.9 5.3 1.6 2.2 3 2.2 5.1 1.2 4.9 -.4 7.1 -2.4 9.4 -4.8 7 -4.9 8.1 -8.1 6 -8.1 5.5 -9.7 3.1 -8.1 5.6 0 0 226.8 -226.8 0 0 -226.8z"/><path fill="#00f2ff" d="M-111.8 -113.4l155.1 0 -2.7 6.5 -1 6.4 .2 13 1.4 14.6 1.9 6.5 2.3 3.1 3.2 1.9 3.2 .6 4.9 -.2 6.5 -1.5 8.1 -3.2 11.3 -5.6 13.1 -8.1 17.7 -14.3 0 207.1 -226.8 0 0 -226.8z"/><path fill="#0dfff2" d="M-111.8 -113.4l142.8 0 -.7 4.8 .2 3.3 4 14.6 1.5 9.7 .1 8.1 -1.1 19.4 .6 2.1 1.1 1.2 2.2 .7 4.8 -.8 19.5 -6.6 31.5 -14.4 18.7 -9.4 0 194.1 -226.8 0 0 -226.8z"/><path fill="#26ffd9" d="M-111.8 -113.4l134.3 0 -.2 4.8 .9 4.9 7.1 16.2 1.5 8.1 -.5 4.9 -1.3 4.8 -6.3 14.6 -.7 3.3 .1 4.8 1.2 4.8 1.7 3.3 3.2 3.4 3.2 1.5 3.2 .3 4.9 -1.6 15 -10.1 18.6 -11.3 5.3 -2.7 34 -10.8 0 183.6 -226.8 0 0 -226.8zM69.6 -16.2l-3.8 3.2 -1.6 3.3 -.2 3.2 1.1 3.3 2.9 3.2 3.3 1.7 4.9 .3 3.2 -1.4 3.5 -2.2 2.8 -3.3 .6 -1.6 .2 -3.2 -1.3 -3.3 -2.6 -2.5 -4.8 -1.9 -4.9 0 -3.2 1.1z"/><path fill="#40ffbf" d="M-111.8 -113.4l127.2 0 .1 6.5 1.4 6.4 2.2 4.9 6.5 11.3 1.1 4.9 -1.5 4.9 -6.6 11.3 -2.7 6.5 -1 6.5 .7 8.1 3 8.1 4.1 6.2 4.8 4.5 6.5 2.7 4.9 .3 4.8 -1.9 8.1 -8.3 8.2 -4.3 3.2 -2.3 11 -11.5 6.1 -4.9 5.6 -1.7 16.2 -2.8 11.3 -1.1 0 172.5 -226.8 0 0 -226.8zM66.1 -27.5l-4.5 2.6 -9.4 8.7 -.8 1.6 -.6 3.3 .5 3.2 1.3 3.2 2.1 3.3 4.7 4.8 10.3 7.2 6.5 3.1 6.4 2.4 3.3 .3 3.2 -.7 3.3 -2.5 1.6 -2 2.5 -4.5 2.5 -6.5 2 -9.7 -.5 -4.9 -1.3 -3.2 -2 -2.5 -3.2 -2.4 -6.5 -2.6 -14.6 -2.8 -6.5 .4zM-38.8 53.5l-5 1.6 -4.3 3.2 -1.5 3.3 .2 4.8 2.6 4.9 4.7 4 4.8 1.8 4.9 -.1 4.4 -2.5 3.7 -4.8 2 -4.9 .5 -4.8 -1.3 -3.3 -1.3 -1.6 -2.6 -1.6 -3.8 -.7 -6.5 .4z"/><path fill="#59ffa6" d="M-111.8 -113.4l120.1 0 -.1 8.1 .7 8.1 5 16.2 -.9 4.5 -5.2 10.1 -1.7 8.1 -.6 9.7 .3 4.9 1 4.8 2.5 6.5 7.5 14.6 5.9 8.8 3.2 3.9 4.9 3.2 9.7 3.2 6.5 2.9 13 8.4 4.1 3.6 4.4 4.9 2.8 4.8 1.5 4.9 .7 6.5 -1.1 6.4 -11.2 30.8 -2 8.1 .6 9.8 4.2 21 -177.4 0 0 -226.8zM-31.5 -32.4l-7.4 3.3 -8.1 6.4 -8.1 10.3 -4.7 9.2 -1.6 8.1 .6 8.1 2.5 7.2 3.2 5 1.6 .6 1.7 -.8 4.8 -4.5 9.7 -11.8 4.1 -7.1 9.5 -19.4 1.6 -6.5 -.9 -4.9 -1.3 -1.7 -1.6 -1.1 -4.9 -.6zM-56 27.5l-4 3 -6.4 6.4 -13.8 16.6 -2.8 4.8 -1 3.3 -.1 3.2 1.1 3.3 13.3 15.8 4.9 4.8 7.5 5.3 8.7 4.2 8.1 2.7 8.1 .8 6.5 -1.6 3.2 -1.9 3.3 -3.1 3.2 -5 6.2 -13.9 8.9 -16.2 1.2 -4.9 -.8 -3.3 -2.7 -3.2 -4.7 -2.9 -6.5 -2.4 -14.6 -3.6 -7.1 -2.4 -6.4 -3.3 -10.8 -7.8 -1.6 .3z"/><path fill="#73ff8c" d="M-111.8 -113.4l112.6 0 -2 11.3 -3.7 7.8 -4.8 5.1 -11.4 8 -2.3 3.4 -.8 4.9 -.2 12.9 -.8 3.3 -1.5 3.2 -4.4 4.9 -14.3 11.4 -5.2 4.8 -4.5 5.3 -4.9 7.8 -7.1 14.4 -8.2 26 -5.9 11.3 -3.5 4.9 -4.5 4.8 -6.4 4.9 -11.4 6.5 -3.2 3.2 -3.2 4.7 0 -174.8zM-3.2 -16.5l1.6 0 1.6 .8 3.2 3.4 4.7 7.4 6.7 13.4 2 2.8 2.8 2.5 1.7 .6 3.2 .1 9.7 -2.3 4.9 -.5 8.1 1.2 4.8 2.2 5.6 4.3 3.6 4.9 1.8 4.9 .5 3.2 -.3 4.9 -1.4 4.6 -1.8 3.5 -20 25.9 -10.6 19.3 -3.3 3.7 -3.2 2.2 -4.9 1 -4.8 -1.4 -4.9 -4 -2 -3 -1.2 -3.2 .2 -4.9 7 -11.3 2.6 -8.1 .4 -6.5 -.5 -6.5 -1.4 -6.5 -1.9 -4.8 -3 -3.3 -3.7 -1.6 -24 -3.1 -4.9 -1.1 -1.6 -.8 -1.4 -1.5 -.5 -1.6 .1 -3.2 1.1 -3.3 8.8 -16.5 8.1 -12 3.2 -3.7 2.6 -1.8zM-112.7 105.3l6.2 8.1 -6.9 0 0 -9.3z"/><path fill="#8cff73" d="M-111.8 -113.4l104.5 0 -2.1 6.5 -3.6 6.2 -3.2 3.7 -9.7 9.2 -3.7 5.2 -1.7 4.8 -3.1 14.6 -3.1 6.5 -5 6.5 -13.2 12.9 -5.9 8.2 -12.3 24.2 -9.5 22.7 -5.7 10.7 -4.4 5.5 -3.7 3.5 -4.9 3.3 -11.3 6.3 0 -160.5zM42.1 20.7l4.9 .2 3.4 1.8 2.7 3.2 1.4 4.9 -.8 4.8 -1.9 3.3 -4.8 4.4 -4.9 2.1 -3.2 .4 -3.3 -1.1 -2.1 -2.6 -1 -4.8 .9 -6.5 1.9 -4.9 2.7 -3.2 2.9 -1.6z"/><path fill="#a6ff59" d="M-111.8 -113.4l96.1 0 -1.9 4.8 -2.8 4.9 -8.8 10.7 -3.6 5.5 -2.8 6.5 -3.8 12.9 -4.1 8.1 -5.1 6.5 -11.4 11.4 -4.8 6.6 -9.3 19.3 -21.2 40.5 -3.5 4.8 -3.6 3.3 -4.5 3 -6.5 3.1 0 -151.9z"/><path fill="#bfff40" d="M-111.8 -113.4l87.7 0 -2.7 6.5 -7.2 10.9 -2.8 5.3 -6.2 17.8 -4 8 -5 6.6 -12 11.3 -4 4.9 -2.7 4.8 -8.2 19.5 -13.2 21 -10 17.6 -4.8 5.9 -6.5 3.3 0 -143.4z"/><path fill="#d9ff26" d="M-111.8 -113.4l78.8 0 -7.7 17.8 -6 19.4 -3.3 6.5 -6.7 8.3 -15.7 14.4 -3.4 6.5 -4.8 14.6 -4.2 8.1 -23.8 30.5 -4.8 5 0 -131.1z"/><path fill="#f2ff0d" d="M-111.8 -113.4l69.2 0 -3.8 14.6 -3.5 17.8 -3 6.5 -3.8 5.1 -4.9 5.2 -16.2 14 -3.3 6.5 -4.6 16.2 -2.5 4.8 -2.5 3.6 -6.5 6 -16.2 11.5 0 -111.8z"/><path fill="#fff200" d="M-111.8 -113.4l59.2 0 -2.4 27.5 -2 6.5 -3.3 4.9 -8.4 9.7 -4.8 4.8 -7.8 6.5 -3.7 4.9 -3.4 6.5 -2.7 11.3 -2.9 5.6 -3.2 2.6 -4.9 1.3 -3.2 -.5 -8.1 -2.6 0 -89z"/><path fill="#ffd900" d="M-111.8 -113.4l48 0 -.3 19.4 -.6 6.5 -2 6.5 -3.9 8.1 -4.7 8.1 -5.8 6.5 -9.6 7.6 -3.3 1.8 -3.2 .9 -1.6 -.1 -3.3 -1.3 -4.9 -4.1 -6.4 -1.6 0 -58.3z"/><path fill="#ffbf00" d="M-111.8 -113.4l34 0 -.5 14.6 -2 16.2 1.2 9.7 -.6 4.8 -2.1 4.9 -2.7 3.2 -3 2 -4.9 1.3 -3.2 -.3 -3.2 -1.3 -8.1 -5.6 -6.5 -3.5 0 -46z"/><path fill="#ffa600" d="M-111.8 -113.4l12.5 0 -2.8 23.9 -1.2 2 -2 .4 -8.1 -2.3 0 -24zM-97.2 -77.1l1.6 0 1.6 .8 3.3 3 2 3.6 .2 3.3 -.6 1 -1.6 .4 -3.3 -1.9 -2.7 -4.4 -.9 -4.9z"/></g><path fill="none" stroke="#000" stroke-width="1.35" d="M53.6 -113.4l-6.6 9.6 -2.3 5 -1.4 6.4 -.3 8.1 .9 8.1 1 3.3 1.7 3.2 3.6 3.3 4.9 1.3 6.5 -.6 6.5 -2.1 10.4 -5.1 7.6 -4.9 7.5 -6.5 7.6 -8.1 6.2 -8.1 6 -9.2M24.7 -113.4l-.4 4.8 .5 3.3 6.5 16.2 1.3 4.8 .5 4.9 -.9 8.1 -2 6.5 -4 9.7 -.6 3.3 0 3.2 .6 3.2 1.3 3.4 2.5 3.1 2.4 1.5 3.2 .4 4.9 -1.7 12.8 -8.3 24.5 -13.2 35.6 -13M74.5 -14.8l-3.2 1 -1.6 1.1 -1.6 2 -1 2.6 .5 3.2 1 1.7 2.7 2.1 3.2 .7 3.3 -.8 3 -2 1.4 -1.7 1 -3.2 -.9 -3.2 -1.4 -1.7 -3.1 -1.5 -3.3 -.3M7.6 -113.4l-.2 8.1 .4 8.1 3.6 16.2 -.6 3.2 -5 11.4 -1.1 6.4 -.4 11.4 .2 4.9 1.1 4.8 1.8 4.9 8.8 17.5 4.9 7.8 4.3 5.5 3.8 2.5 11.3 3.2 4.9 1.9 6.4 3.5 5.3 3.4 5.9 4.9 4.4 4.9 2.8 4.8 1.5 4.9 .5 6.5 -1.6 8.1 -12.9 30.8 -1.6 4.8 -.5 4.9 .3 4.8 2.6 22.7M-30.8 -34.4l-6.5 2.7 -8.1 5.8 -4.8 5.1 -6.5 9.3 -3.4 6.6 -2.2 8.1 -.3 6.5 1.3 13 -1.1 4.8 -3.2 4.9 -19.7 24.3 -2.6 4.9 -.6 3.2 .6 3.3 2.2 3.2 7.9 7.3 8.1 9.2 6.5 5.4 8.1 4.7 11.4 4.7 6.4 1.7 6.5 .2 4.9 -1.2 3.2 -1.5 3.3 -2.7 1.6 -2 3.2 -5.9 6 -15 8.5 -14.6 1.3 -3.3 .6 -3.2 -.5 -3.3 -1.3 -2.2 -1.6 -1.8 -3.3 -2.2 -6.4 -2.7 -16.4 -4 -6.3 -2.2 -7.4 -4.3 -3 -3.2 -.8 -1.7 -.2 -3.2 1.3 -3.2 10.7 -16.2 9.2 -17.9 3.3 -8.1 .6 -4.8 -1.2 -4.9 -2.8 -2.9 -1.6 -.6 -3.3 -.3zM-11.5 -113.4l-1.7 4.8 -2.7 4.9 -3.8 4.9 -7.8 8.4 -4.2 6.1 -1.9 4.9 -3.3 13 -3.8 8.1 -5 6.5 -12.6 12.6 -4.9 6.9 -16.4 32.3 -8.7 19.4 -3.7 6.5 -3.6 4.9 -4.9 4.6 -4.8 3.1 -8.1 4.2M43.7 25.9l1.7 -.3 1.6 .4 1.5 1.5 .5 1.7 -.5 3.2 -1.5 1.8 -1.6 .9 -1.7 .2 -1.6 -.6 -1.4 -2.3 .1 -3.2 .9 -1.7 2 -1.6zM-32.1 -113.4l-7.9 17.8 -5.5 17.8 -3.9 8.1 -6.4 8.1 -12.7 11.4 -4.2 4.8 -2.4 4.9 -4.9 14.6 -4.3 8.2 -4.8 6.8 -10.1 12.5 -9.4 13.1 -4.8 4.7M-55.7 -113.4l-1.5 25.9 -1.6 6.5 -3 4.8 -9 11.4 -4.6 4.8 -7.4 6.5 -5.3 6.5 -3.4 6.5 -2 9.7 -1.5 3.3 -2.2 2.1 -1.6 .7 -3.3 -.1 -11.3 -8"/></g></g><use href="#hd"/></g><g transform="translate(664.0,918.4)"><g transform="scale(1,1.0027)"><g clip-path="url(#disc)"><g filter="url(#sm)"><rect x="-112" y="-112" width="224" height="224" fill="#26ffd9"/><path fill="#40ffbf" d="M-111.8 -113.4l225.2 0 0 208.9 -16.3 17.9 -210.5 0 0 -226.8zM84.4 -47l-5 2.5 -3.1 4 -.8 4.9 .5 3.2 1.3 3.2 3.7 5 4.9 3.4 6.5 2.2 4.8 -.1 4.9 -2 3.6 -3.6 1.6 -3.2 .7 -3.3 -.6 -4.8 -2.9 -4.9 -6.2 -4.9 -5.9 -2 -6.5 0z"/><path fill="#59ffa6" d="M-111.8 -113.4l225.2 0 0 62.2 -14.6 -4.7 -6.4 -.5 -6.5 .9 -6.5 2.4 -4.9 3 -3.7 4.7 -1.4 4.9 .4 6.5 3.5 8.1 4.5 6 8.1 7.5 6.5 4 4.8 1.6 6.5 .6 9.7 -.4 0 77.9 -24.2 32.4 -9.2 9.7 -193.4 0 0 -226.8zM-107 -64.8l-2.4 1.6 -.8 1.2 -.3 3.7 1.9 3.4 1.7 1.4 3.3 1.7 13.1 4.8 9.5 2.3 12.9 .7 6.5 -1.3 3.8 -3.3 1.1 -2.9 -.2 -2 -3.1 -3.8 -7.3 -4.3 -8.9 -2.8 -8.1 -1.2 -14.5 -.5 -4.9 .4 -3.2 .9z"/><path fill="#73ff8c" d="M-108.6 -113.3l66.8 -.1 4.5 .7 5 -.7 145.7 0 0 46.2 -12.9 .4 -8.1 1 -8.1 2 -8.1 3.4 -5.8 3.7 -4 4.3 -2.4 5.4 -.7 4.9 .8 6.5 3.3 8.1 5.5 8.3 11.4 14.3 4.8 5.3 4.9 4.3 14.6 9.3 4.8 4.7 0 21.3 -13.8 28.1 -19.1 29.1 -3.7 4.9 -4.7 4.8 -4.1 3.3 -5.9 3.2 -22.9 0 -13.3 -3.6 -11.3 -.5 -14.6 .7 -11.9 3.4 -101.5 0 0 -153 32.4 3.6 16.2 4.5 6.5 .3 4.8 -2.5 3.3 -3.7 3.1 -6.3 1.2 -6.5 -.4 -4.9 -1.7 -4.9 -2.2 -3.2 -3.6 -3.2 -4.5 -2.7 -6.5 -2.8 -19.5 -4.8 -7.4 -4.3 -5.7 -4.9 -5.5 -6.5 -3.7 -6.4 -2 -6.5 -.2 -6.5z"/><path fill="#8cff73" d="M-13 -113.1l126.4 -.3 0 26.5 -34 15 -8.1 4.1 -4.9 3.4 -4.5 4.4 -2.2 3.3 -1.9 4.9 -.6 8.1 .8 4.8 1.4 4.9 4.3 8.1 13.1 19.4 6.8 13 9.9 24.3 1.8 8.1 .1 4.8 -.8 6.5 -1.6 6.5 -2.4 6.5 -5.3 9.7 -10.8 16.7 -4.8 6.5 -4.3 4.4 -4.2 3.2 -4.5 2.3 -4.9 1.2 -8.1 -.6 -17.8 -3.5 -22.7 -.1 -8.1 .8 -11.3 2.8 -8.1 2.9 -7.6 3.9 -81.5 0 0 -138.8 8.1 -1.4 22.7 -.3 3.2 .7 3.3 2.1 9.7 9.3 3.2 2.1 1.6 .4 3.3 -.4 4.8 -3.1 6.5 -7.4 4.9 -9.2 3.2 -11.1 .5 -9.8 -1.7 -9.7 -3.5 -8.1 -3.4 -4.4 -6.5 -4.6 -2.2 -2.3 -1.7 -3.3 -.2 -1.6 .9 -1.6 1.6 -.9 14.6 -2.5 9.7 -4 8.1 -5.6 8.6 -9.7zM-76.6 13l-1.7 1.6 -.5 1.6 .6 1.6 2 .7 1.6 -.7 1.2 -1.6 .5 -2.3 -.5 -.9 -1.1 -.6 -1.7 .3z"/><path fill="#a6ff59" d="M66.4 -112.2l8.5 -1.2 2.9 .3 3.6 1.3 1.9 1.6 1.7 3.3 .3 3.2 -.6 3.2 -1.9 4.9 -4.4 6.5 -16.8 15.1 -6.5 7.7 -2.5 4.7 -1.5 4.9 -.6 4.9 .3 4.8 1.7 8.1 2.5 6.5 2.9 4.9 11.5 16.2 3.5 6.4 2.6 6.5 3.2 11.4 1.8 14.5 4.1 13 .6 4.9 -.1 4.8 -1.5 8.1 -2.5 6.5 -3.5 6.5 -6.3 9.4 -4.9 6.3 -4.8 5 -4.9 3.6 -4.9 2.2 -8.1 1 -19.4 -1.6 -13 -.2 -19.4 1 -11.3 1.9 -8.1 2.3 -24.8 11.2 -30.4 0 -8 -3 -6.5 -3.8 -5.6 -4.5 -5.4 -6.5 -3.5 -6.5 -1.7 -5.5 0 -15.2 2.2 -6.8 4.2 -8.1 2.1 -8.1 1.2 -2.7 1.6 -1 9.7 -1.8 6.5 -1.8 14.6 -6.6 13.7 -8.8 5.1 -4.9 3.5 -4.8 2.7 -6.5 3.9 -14.6 7.6 -19.4 2.7 -9.8 1 -9.7 -.6 -22.7 .9 -6.5 1.2 -3.2 2.7 -4.9 10 -11.3 12 -11.2 3.3 -2 3.2 -.9 3.3 -.2 4.8 .9 16.2 7.9 4.9 1.3 3.2 .2 3.3 -.3 4.8 -1.3 14.6 -7.4 8.4 -3.2zM-111.8 24.4l3.9 1.5 1.3 1.6 .4 1.7 .1 6.4 -.8 2.2 -1.7 .8 -4.8 -1.2 0 -12.9z"/><path fill="#bfff40" d="M1.6 -97.3l3.3 -.2 3.2 .5 6.5 2.6 6 3.7 8.6 6.4 8.3 4.9 3.5 3.2 1.5 3.3 .6 3.2 1 21.1 2.7 9.7 5 9.7 9.1 11.4 4.4 6.5 3.4 6.4 2.6 8.1 1.4 8.1 1 14.6 4.2 19.5 -.1 6.4 -1.3 6.5 -1.9 4.9 -3.3 6.2 -8.1 10.3 -4.9 4.5 -4.8 3.3 -8.1 3.2 -8.1 1 -26 -.6 -29.1 1.4 -11.4 2.1 -22.6 6.7 -8.2 .6 -9.7 -2.1 -8.2 -4.2 -3.8 -3.2 -2.7 -3.3 -1.9 -3.2 -1.6 -4.9 -.3 -8.1 2.1 -8.1 3.9 -8.1 6.5 -9.7 4.7 -4.9 4.6 -3.7 28.2 -17.3 2.6 -2.3 1.8 -2.6 1.1 -4.9 -.2 -8.1 .5 -5 6.6 -17.6 2.5 -11.4 .5 -8.1 -.9 -22.7 .7 -6.5 1.2 -4.8 3.7 -8.1 5.1 -6.8 8.1 -6.9 6 -2.5z"/><path fill="#d9ff26" d="M0 -86.4l3.2 -.6 3.3 .1 6.5 2.2 6.4 4.5 10.6 10.5 2.1 3.3 1.9 4.5 3.8 16.5 3.2 8.1 5.4 8.1 13.9 16.2 3.7 6.5 2.3 6.5 1.2 8.1 .2 17.8 4 19.5 0 4.8 -.7 4.9 -3 8.1 -3.1 4.9 -3.3 3.9 -6.5 5.5 -9.7 5.1 -6.5 1.7 -6.5 .7 -19.4 -.7 -13 .8 -19.4 .3 -6.5 .7 -13 2.5 -8.1 .3 -8.1 -1.7 -8.1 -3.4 -5.4 -4.4 -2.2 -3.2 -1.2 -3.3 -.8 -4.8 .6 -6.5 2.1 -6.5 2.7 -4.9 3.9 -4.8 3.7 -3.3 6.3 -4.1 6.5 -3.1 6.5 -2.3 6.5 -1.2 14.6 -.6 4.8 .4 4.5 1.2 3.6 1.8 11.4 8.9 3.2 1.4 3.2 .4 4.9 -1.4 3.2 -2.4 4.9 -5.4 3.2 -5 1.1 -3.2 0 -3.2 -2.7 -7 -6.5 -11.3 -9.3 -10.9 -3.5 -4.8 -2.4 -4.9 -3.8 -11.3 -10.1 -11.7 -2.4 -4.5 -2.1 -6.5 -1.2 -6.5 -.2 -4.9 .6 -6.4 1.3 -4.9 2.2 -4.9 3.4 -4.6 3.2 -3 3.6 -2.1z"/><path fill="#f2ff0d" d="M1.6 -76.4l4.9 -.7 4.1 .9 4 2.3 4.8 4.6 3.2 4.5 2.3 4.8 1.5 4.9 2.1 11.4 3 6.4 5.7 6.5 16.3 14.7 4.8 6.4 3.1 6.5 1.1 4.8 .2 4.9 -2.2 17.8 .8 4.9 4.1 12.9 .6 4.9 -.3 4.8 -1.9 6.5 -3.8 6.3 -4.9 4.7 -4.9 3.1 -4.8 2 -4.9 1.2 -9.7 .4 -6.5 -1.8 -4.4 -2.9 -1.1 -1.6 .1 -3.3 7 -11.1 4.1 -11.6 5.7 -11.3 1.5 -4.9 .1 -3.2 -1.3 -4.9 -9.3 -19.4 -7.6 -13 -6.1 -18.1 -3.2 -4.5 -11.4 -11.3 -3.6 -6.6 -1.3 -6.5 .6 -6.4 2.7 -5.8 2 -2.3 2.4 -1.7zM-42.1 40.3l8.1 -1.3 8.1 .4 6.5 1.8 6.4 4 4.5 5 12.5 17.9 .1 1.6 -.7 1.6 -1.7 1.6 -3.3 1.7 -32.4 6 -4.9 .4 -4.8 -.5 -3.3 -1 -4.8 -2.3 -4.9 -3.3 -3.7 -4.2 -1.8 -4.9 -.2 -4.8 1.1 -4.9 2.8 -4.9 3.4 -3.5 4.9 -3.2 7.3 -3z"/><path fill="#fff200" d="M32.4 -21.4l3.2 -.4 3.3 .7 6.5 3.1 5.8 5 4.5 6.5 2.1 6.5 -.5 6.5 -2.2 5.1 -1.6 2.1 -3.3 2.3 -3.2 .1 -4.9 -3 -4.8 -5.7 -3.3 -5.4 -3.8 -8.5 -1.6 -6.5 .4 -4.8 .9 -1.6 1.7 -1.7zM47 33.7l3.2 -.3 3.3 1.5 1.6 1.4 3 4.2 1.7 4.9 .2 4.8 -1.4 4.9 -3 4.9 -3.8 3.2 -3.2 1.6 -3.2 .8 -4.9 -.6 -3.2 -2.3 -1.8 -4.4 0 -6.5 1.8 -6.7 1.6 -3.2 3.2 -4.4 4.4 -3.5zM-38.9 46.8l8.1 -.4 6.5 1.9 4.9 4 1.7 2.8 1.2 3.2 -.1 4.9 -1.2 2.7 -2 2.2 -5.4 3.2 -7.2 2.4 -6.5 .3 -6.5 -2.1 -4.7 -3.8 -2.7 -4.9 -.4 -4.9 2 -4.8 4.2 -3.6 7.2 -2.9z"/><path fill="#ffd900" d="M40.5 -13.2l3.2 .5 2.3 1.4 2.6 2.8 2.1 3.6 1.1 4.9 -1.6 3 -1.6 1 -1.6 .2 -3.3 -1.1 -3.2 -2.9 -2.2 -3.4 -1.2 -3.3 -.1 -3.2 .6 -1.6 2.1 -1.7zM48.6 45.3l1.6 .1 1.6 1 1.3 2.2 .2 1.6 -1.5 3.5 -3.2 1.9 -1.6 -.1 -1.6 -.9 -1.3 -2.8 0 -1.6 1.3 -2.9 2.9 -1.9zM-38.9 58.2l1.6 -.9 3.3 -.4 2.8 1.4 .8 1.7 -.1 1.6 -1.9 2.7 -3.2 1.5 -3 -1 -1.3 -1.6 -.5 -1.6 .3 -1.6 1.1 -1.7z"/></g><path fill="none" stroke="#000" stroke-width="1.35" d="M113.4 -42.9l-5.6 -4.1 -7.3 -3.6 -6.5 -1.6 -6.5 .1 -6.5 1.9 -4.9 3.2 -1.6 1.7 -1.6 2.9 -.9 5.1 1.3 6.5 3.6 6.5 5.7 5.7 6.5 4.2 4.9 1.8 6.5 .5 6.4 -1.4 6.5 -3M113.4 82.5l-18.3 22.8 -7.5 8.1M-84.3 -58.5l-2.6 1.8 -.4 1.6 .7 1.6 1.6 1.7 2.4 1.1 3.2 .6 3.2 -.6 2.6 -1.1 1.1 -1.7 -.4 -1.6 -1.4 -1.6 -2.9 -1.6 -3.8 -.7 -3.3 .5M-44.6 -113.4l4.1 1.1 4.9 .5 3.2 -.6 1.9 -1M113.4 -67.7l-12.9 .5 -8.1 1.1 -8.1 2.1 -8.1 3.3 -6.2 4 -3.6 3.9 -2.1 4.2 -1.2 6.5 .8 6.5 3.4 8.1 5.6 8.5 11.4 14.4 8.1 8.4 4.8 3.8 11.1 7 3.5 3.2 1.6 2.2M-113.4 -39.2l32.4 3.5 6.5 1.5 9.7 3.1 3.2 .5 3.3 -.1 3.2 -1.3 1.6 -1.1 3.3 -3.8 2.7 -5.2 1.7 -6.5 0 -4.9 -1.2 -4.9 -2.9 -4.8 -3.6 -3.3 -4.8 -3 -6.5 -2.7 -16.2 -3.7 -4.7 -1.9 -7.3 -4.8 -5.1 -4.9 -4.9 -6.5 -3.1 -6.5 -1.3 -6.4 .6 -6.5M113.4 38.5l-13.3 27.9 -19.9 30.8 -4 5.2 -4.9 4.9 -4.9 3.6 -5 2.5M40.1 113.4l-14.2 -3.8 -11.3 -.5 -14.6 .6 -6.5 1.6 -6.1 2.1M17.2 -113.4l8.7 4.4 3.3 .6 3.2 -.4 3.2 -1.1 6.1 -3.5M113.4 -106.6l-8.9 9.4 -11.7 9.7 -9.1 6.5 -14 8 -6.5 4.9 -5.7 6.5 -2.4 4.8 -1 3.3 -.2 8.1 .8 4.9 1.5 4.9 4 8.1 12.2 17.8 4.9 9.7 4.3 11.3 2.7 13.6 3.7 10.7 1.4 6.5 .2 4.9 -.5 4.8 -2.6 9.8 -4.9 9.7 -10.3 15.6 -4.9 6.1 -4.4 4.2 -4.8 3.3 -3.9 1.6 -3.1 .5 -4.8 .1 -16.2 -2.3 -8.1 -.6 -14.6 0 -10.2 .7 -10.9 1.8 -9.7 2.8 -6.5 2.7 -10.4 5.6M-113.4 -8.1l8.6 -4.9 6 -2.3 8.1 -1.4 4.8 .8 1.8 1.3 1.5 2.4 .5 2.5 -.5 3.7 -1.7 2.8 -8.5 6.4 -1.2 1.7 -1.3 3.2 -.3 3.2 .3 3.3 1.4 4.8 1.6 3.3 2.6 3.2 2.5 1.6 2.9 1 4.9 0 3.2 -.7 4.9 -2 4.9 -3.1 3.8 -3.3 4.2 -4.8 3.8 -6.5 2.7 -6.5 3.1 -9.7 8.3 -16.7 4 -10.8 1.3 -6.5 .6 -8.1 -.6 -9.8 -2 -14.5 0 -3.3 .7 -3.2 1.8 -3.3 2.9 -3.2 12.4 -11.3 9.7 -10.2 5.7 -4.4M-106.8 113.4l-6.6 -4.3M1.6 -97.3l3.3 -.2 3.2 .5 6.5 2.6 5.9 3.7 8.7 6.5 8.2 4.8 3.5 3.2 1.5 3.3 .6 3.2 .4 14.6 .7 6.5 2.7 9.7 5 9.7 9.1 11.4 4.4 6.5 3.4 6.4 2.6 8.1 1.4 8.1 1 14.6 3.5 14.6 .7 4.9 -.1 6.4 -1.4 6.5 -1.8 4.9 -3.3 6.1 -3.6 5.2 -4.5 5.2 -4.9 4.4 -4.8 3.4 -3.3 1.6 -4.8 1.6 -8.1 1 -26 -.6 -29.1 1.4 -11.4 2.1 -22.6 6.7 -8.2 .6 -4.8 -.8 -4.9 -1.3 -8.1 -4.2 -3.8 -3.2 -2.7 -3.3 -1.9 -3.2 -1.6 -4.9 -.5 -3.2 .2 -4.9 2 -8.1 3.9 -8.1 6.5 -9.7 4.7 -4.9 4.6 -3.7 6.4 -4.3 21.9 -13 2.5 -2.2 1.9 -2.7 1 -4.9 -.1 -8.1 .4 -4.8 1.4 -4.9 5.3 -12.9 2.5 -11.4 .5 -8.1 -.9 -22.7 .6 -6.5 1.2 -4.8 3.7 -8.1 5.1 -6.8 3.3 -3.1 4.8 -3.7 3.3 -1.7 2.8 -.9zM0 -81.4l4.9 -.9 3.2 .4 3.2 1.1 6.5 4.3 6.8 6.8 2.3 3.3 2.5 4.8 1.6 4.9 3.2 13 2.9 6.4 6.2 8.1 13.8 14.6 4.2 6.5 2.6 6.5 1.2 8.1 -.7 17.8 .7 4.9 3.6 14.5 .3 4.9 -.6 4.9 -2.1 6.5 -4.7 7.5 -5.7 5.4 -7.3 4.4 -6.5 2.4 -8.1 1.3 -6.5 .3 -11.3 -1.5 -4.9 -.1 -11.3 1.6 -13 0 -9.7 .7 -12.9 2.4 -6.5 .4 -6.5 -1.2 -9.7 -4.5 -4.9 -3.8 -1.8 -2.4 -1.5 -3.2 -.9 -4.9 .4 -4.8 1.4 -4.9 2.6 -4.9 2.6 -3.2 3.7 -3.3 4.9 -3 6.4 -2.9 6.5 -1.9 6.5 -.7 8.1 .3 6.5 1.1 4.8 1.9 3.3 2.1 3.5 3.1 6.2 7.3 3.1 2.5 3.4 1.3 4.8 .5 4.9 -1.4 3.1 -2.1 1.8 -1.7 10.3 -17.7 1.4 -4.9 -.2 -4.8 -1.7 -4.9 -6.6 -13.7 -10.5 -15.4 -7.6 -17.9 -2.4 -3.2 -9.3 -9.7 -2.6 -4.3 -2.1 -5.4 -1 -4.9 -.1 -4.9 1.5 -8.1 3.4 -6.5 3.1 -3.2 2.5 -1.6zM32.4 -21.8l3.2 -.2 3.3 .7 6.5 3.2 3.2 2.4 3.2 3.3 3.1 4.3 1.7 3.2 1.3 4.9 .1 3.2 -.5 3.3 -2.4 5.5 -1.6 2.1 -3.3 2.3 -3.2 .1 -4.9 -3.1 -4.8 -5.7 -3.3 -5.4 -3.9 -8.8 -1.7 -6.5 .4 -4.8 .7 -1.6 1.4 -1.7zM47 33.4l3.2 -.4 3.3 1.6 1.6 1.4 3.2 4.5 1.7 4.9 .1 4.8 -1.3 4.9 -3 4.9 -4 3.4 -3.2 1.6 -3.2 .8 -4.9 -.5 -3.2 -2.1 -1.1 -1.6 -1 -3.3 .1 -6.5 2 -7.1 3.4 -5.8 3 -3.3 2.2 -1.6zM-40.5 47l8.1 -.9 6.5 1.3 4.8 2.9 2.8 3.2 1.6 3.2 .7 4.9 -.8 3.2 -1 1.6 -1.6 1.7 -3.3 2.2 -8.1 3.1 -6.5 .9 -3.2 -.4 -3.2 -1 -3.3 -1.8 -3.2 -2.9 -2.8 -5 -.5 -4.9 1 -3.2 1 -1.6 4.5 -3.8 6.5 -2.7z"/></g></g><use href="#hd"/></g><g transform="translate(1081.0,918.4)"><g transform="scale(1,1.0027)"><g clip-path="url(#disc)"><g filter="url(#sm)"><rect x="-112" y="-112" width="224" height="224" fill="#008cff"/><path fill="#00a6ff" d="M-111.8 -113.4l225.2 0 0 226.8 -226.8 0 0 -226.8zM28.3 -38.9l-1.5 1.6 -.4 1.7 .9 3.2 1.9 1.7 1.6 .4 1.6 -.5 1.1 -1.6 .3 -3.2 -1.4 -2.6 -1.6 -1 -1.6 -.1zM-38.9 55.1l-2.3 1.6 -1.1 1.6 -.4 1.7 .7 3.2 3.2 3.2 3.2 .8 1.6 -.3 3.2 -1.8 1.7 -1.9 1.2 -3.2 -.1 -1.7 -.6 -1.6 -2.2 -1.8 -3.2 -.7 -3.3 .4z"/><path fill="#00bfff" d="M-111.8 -113.4l225.2 0 0 226.8 -226.8 0 0 -226.8zM80.3 -103.7l-5.8 1.3 -8.1 3.8 -6.7 4.6 -4.7 4.9 -1.9 4.8 .1 3.3 .8 1.6 2.7 2.3 4.9 1 6.5 -1.4 8.1 -3.5 4.9 -3.3 4.2 -4.8 2.4 -4.9 .6 -4.8 -.8 -2.1 -1.6 -1.6 -1.6 -.8 -3.3 -.4zM25.1 -48.6l-3.6 3.2 -2.6 4.9 -.8 6.5 1.3 5.7 4.9 8.9 6.5 8.3 3.2 2.8 3.3 1.6 3.2 .5 1.6 -.4 1.2 -1.5 .1 -3.2 -2.1 -21.1 -1.9 -8.1 -2.1 -4.2 -3.3 -3.5 -3.2 -1.5 -4.9 .6zM-40.2 48.6l-5.2 1.9 -4.1 3 -1.8 3.2 .4 4.9 3.3 4.8 4 3.3 4.7 1.9 3.3 .3 3.2 -.5 4.9 -1.9 4.8 -4 2.1 -3.9 .1 -4.9 -2.2 -4.3 -3.2 -2.6 -6.5 -1.8 -6.5 .3zM58.7 50.2l-2 1.6 .2 1.7 1.4 1.1 1.7 .1 1.5 -1.2 .2 -1.7 -1.7 -1.7z"/><path fill="#00d9ff" d="M-111.8 -113.4l183.6 0 -21.1 17.8 -2.8 3.2 -2.8 4.9 -1.6 6.5 .4 6.5 2.2 3.2 2.5 1.1 3.2 .4 6.5 -.4 8.1 -1.8 11.9 -4.2 6.7 -3.2 9.4 -6.5 7.5 -6.5 6.1 -6.4 5.4 -7.8 0 220 -226.8 0 0 -226.8zM26.2 -60l-3.5 1.9 -3.4 3 -3.3 4.9 -2.8 6.5 -1.2 4.8 -.4 4.9 .5 4.8 1.9 6.5 8.7 17.1 3.2 4.7 3.3 3 4.8 2.5 4.9 1.1 8.1 .1 5.4 -.9 2.7 -1.4 1.5 -1.9 .5 -1.6 -.2 -3.2 -8 -17.9 -4.7 -21 -3.7 -11.6 -2.4 -4.6 -2.5 -2.2 -3.2 -.7 -4.9 .8zM-41.2 43.7l-9 2.7 -6.2 3.8 -1.5 1.6 -1.8 3.3 0 4.9 1.4 3.2 2.6 3.2 8.7 6.5 6.5 2.7 3.2 .4 4.9 -.4 9.7 -3.3 3.3 -1.9 2.7 -2.3 2.6 -4.9 .4 -3.2 -.4 -3.3 -1.1 -3.2 -1.9 -3.3 -2.3 -2.3 -3.3 -2.1 -3.2 -1.3 -4.9 -1.1 -9.7 .2zM59.3 43.7l-2.6 .9 -2.9 2.4 -.9 1.6 -.6 3.2 1 4.9 1.8 2.7 3.2 1.7 3.3 .1 3.2 -1.3 2.9 -3.2 1.2 -3.2 .1 -3.3 -.9 -3.2 -1.7 -1.9 -3.2 -1.5 -3.2 0z"/><path fill="#00f2ff" d="M-111.8 -113.4l171 0 -5.7 6.4 -8.8 6.5 -4.9 4.9 -3.2 4.9 -4.2 11.2 -2.2 3.3 -2.7 2.2 -8.8 4.3 -3.5 3.3 -2.2 4 -1.7 4.3 -5.3 17.6 -.8 6.5 .4 6.5 1.8 6.4 3.6 8.1 7.3 14.6 4.4 6.4 4.8 4 4.9 1.4 6.5 -.1 17.8 -2.7 3.3 -1 2.5 -1.5 2.1 -3.2 .1 -3.3 -.8 -3.2 -9.5 -17.8 -3.9 -13 -2.4 -13 -.5 -6.4 .8 -4.9 1.8 -3.1 3.3 -2.7 3.2 -1.7 32.3 -12 24.4 -12.2 0 201.8 -226.8 0 0 -226.8zM65.3 37.3l-7 1.5 -6.5 3.3 -3.1 3.3 -1.7 4.8 .4 6.5 1.1 3.3 1.7 2.5 4.9 3.3 3.2 .8 3.3 0 4.8 -1.3 4.6 -3.7 2.6 -4.9 1.2 -4.9 .2 -6.4 -1.6 -4.9 -2.1 -2.1 -1.6 -.8 -3.3 -.4zM-39.1 38.9l-11.1 2.1 -6.5 2.2 -4.9 2.4 -4.3 3 -2.9 3.2 -1.5 3.3 -.2 3.2 1 3.3 2.1 3.2 3.3 3.3 4.7 3.2 14 7.3 4.9 1.5 4.9 .2 16.2 -3.6 6.4 -2.7 3.3 -2.5 1.6 -2.2 1.2 -2.9 .4 -4.8 -1.2 -6.5 -2 -4.8 -2.3 -3.3 -3.7 -3.3 -5.4 -2.7 -4.8 -1.3 -6.5 -.9 -6.5 .1z"/><path fill="#0dfff2" d="M-111.8 -113.4l157.5 0 -18.2 12.3 -14.5 5.8 -4.9 4.6 -4.3 6.4 -1.5 3.3 -.7 3.2 1.6 16.2 -.1 6.5 -4.2 16.2 -.7 9.7 .7 4.9 1.6 4.9 8 16.2 7 17.8 3.6 6.5 3.6 3.7 3.2 1.7 3.3 .1 3.2 -1.2 11.4 -6 8 -2 4.9 0 3.3 .6 3 1.4 1.8 1.7 1.1 3.2 -.3 1.6 -1.9 3.3 -4 3.2 -12.7 5.7 -3.3 2.3 -2.5 3.3 -1.4 4.9 -.4 4.9 .4 4.8 .8 3.3 1.7 3.2 3.1 3 3.2 1.8 8.1 2.2 6.5 .1 4.9 -1.2 4.5 -2.6 3.6 -3.9 2.8 -5.9 3.7 -12.9 1 -6.5 .2 -6.5 -1.3 -8 -6.6 -17.9 -2.9 -4.9 -11.5 -15.9 -5 -10 -2.3 -8.1 -1.4 -8.1 -.3 -8.1 .9 -4.9 2.1 -3.2 2.7 -2.5 10.6 -5.6 10.5 -3.9 34 -10.5 0 192.6 -226.8 0 0 -226.8zM-48.9 35.6l-11.1 2.6 -8.1 2.7 -6.4 3.3 -5.3 4.4 -2.7 4.9 -.2 4.8 1.5 4.9 3.3 4.9 5 4.3 4.8 2.8 13 4.5 8.1 3.9 4.9 1.5 8.1 .2 8.1 -1.7 16.2 -2.3 6.3 -1.9 3.4 -1.9 2.6 -3 1.7 -4.8 -.3 -4.9 -1.4 -4.8 -4.4 -11.4 -2.9 -4.9 -3.4 -3.1 -3.2 -2 -4.9 -1.9 -4.7 -1.1 -14.7 -1.5 -6.5 .3 -6.5 1.2z"/><path fill="#26ffd9" d="M-111.8 -113.4l133.9 0 -10.8 4.5 -3.2 2.1 -3.2 3.1 -1.9 3.2 -6.2 14.3 -2.5 8.4 -.5 6.5 .9 16.2 -4.7 19.5 -.6 9.7 .8 4.8 1.8 4.9 8.3 13 2.6 6.4 .8 6.5 .1 6.5 -.7 4.9 -1.5 3.8 -3.2 2.9 -4.9 1.2 -17.8 .5 -16.2 -.9 -29.2 4.7 -8.1 2.9 -6.5 3.8 -4.8 4.9 -2.7 5.3 -1.2 6.5 .9 8.1 2.9 6.5 4.9 5.9 4.9 3.6 6.5 3.3 27.5 8.2 8.1 .4 34.1 -4.4 6.4 -1.5 14.6 -5 8.1 -1.4 11.4 -3.1 11.3 -.1 13 .9 4.8 -.4 4.9 -1.5 3.2 -1.7 5.9 -4.8 2.6 -3.3 2.7 -4.8 6.5 -16.2 1.8 -9.8 -.6 -9.7 -3 -9.7 -6.2 -11.3 -4 -4.9 -7.3 -6.3 -4.8 -5 -6.4 -9.8 -2.6 -6.4 -1.9 -8.1 -.6 -6.5 .6 -6.5 2.2 -4.9 3 -3.2 4.7 -3.3 6.6 -3.2 15.4 -4.6 24.3 -4.1 0 185.3 -226.8 0 0 -226.8zM21.1 49l1.6 -.3 1.6 .6 1.6 1.6 .7 2.6 -.7 1.7 -1.6 1 -1.6 0 -1.6 -1 -1.6 -3.4 .3 -1.6z"/><path fill="#40ffbf" d="M-111.8 -113.4l117.7 0 -5.9 6.5 -9.7 24.3 -2.2 8.1 -2.1 16.2 -1.4 6.5 -4 11.2 -4.9 10.7 -1.6 2.4 -3.3 1.8 -14.5 0 -6.9 1.4 -2.4 1.6 -2.1 2.4 -3.7 7.3 -1.4 4.9 -.4 4.9 .5 3.2 1.4 3.2 3.6 3.6 12.3 6.2 .1 1.6 -4.5 3.2 -6.3 2.9 -14.6 1 -4.8 1.6 -11.4 5.3 -4.8 2.7 -4.9 3.7 -3.2 3.6 -2.2 3.5 -2 4.9 -1.4 6.5 -.6 6.5 .3 6.4 1.5 6.5 2 4.9 2.9 4.8 4.3 5.2 6.5 5.4 9.7 5.8 14.6 6.3 8.1 1.7 6.5 -1.2 24.3 -6.4 22.7 -3.9 17.8 -3.8 32.4 -5.2 13 -.2 4.9 -.7 6.4 -2.1 8.1 -4.9 4.9 -4.1 5.6 -6.4 5.1 -8.1 3.2 -6.5 1.6 -4.9 1.1 -6.5 .1 -6.5 -.8 -6.4 -3.4 -11.4 -3.5 -6.5 -3.4 -4.8 -7.6 -8.1 -9.3 -7 -4.9 -4.4 -6 -8.1 -2.3 -4.8 -1.8 -6.5 -.8 -6.5 .5 -6.5 1.8 -4.8 3.7 -4.6 4.9 -3.5 6.5 -3 6.5 -1.9 8.1 -1.3 21 -.7 0 178.6 -226.8 0 0 -226.8zM-22.7 8.1l3.3 .2 1.3 1.4 .1 1.6 -2.1 3.3 -4.2 2.2 -3.2 .2 -3.8 -.8 -2.9 -1.6 -.1 -1.6 6.4 -3.3 5.1 -1.6z"/><path fill="#59ffa6" d="M-111.8 -113.4l111.4 0 -3.8 6.5 -10.7 25.9 -6.8 22.7 -3.5 8.1 -2.8 4.8 -4.2 4.9 -3.4 2.5 -17.9 7.4 -4.3 3.1 -3.3 3.2 -5.1 6.5 -6.6 9.7 -12.1 21.1 -4.7 4.8 -12.5 9.9 -4.2 4.7 -4.3 8.1 -2.8 9.7 0 -163.6zM85.9 -60l11.3 -.5 16.2 2 0 82.9 -5 -9.8 -6.3 -8.1 -8.8 -8.1 -18.9 -13 -5.5 -6.5 -3.1 -6.4 -1.3 -4.9 -.5 -6.5 .6 -4.8 1.9 -4.9 3.2 -4 4.8 -3.6 4.9 -2.2 6.3 -1.6zM113.4 60.4l0 53 -143.9 0 11.1 -4.3 12.1 -3.8 28.4 -6.2 12.9 -.7 21.1 2.2 8.1 -1.1 8.1 -2.4 6.5 -2.7 6.5 -3.5 11.5 -8.3 9.6 -9.7 3.6 -4.8 3.9 -6.5zM-113.1 81l4 9.7 5.4 8.1 8 8.1 9.1 6.5 -26.8 0 0 -33.4z"/><path fill="#73ff8c" d="M-111.8 -113.4l107.2 0 -7.5 17.8 -8.7 17.8 -6.8 17.8 -3.2 6.2 -3.2 4.7 -6.5 6.1 -16.2 9.2 -8 6.3 -8 8.1 -8.4 9.7 -14.2 19.4 -18.1 16.2 0 -139.3zM81 -55.3l6.5 -1.1 8.1 .2 6.5 1.3 11.3 3.5 0 55.8 -12.9 -8.4 -21.1 -10.9 -4.9 -4 -3.9 -5.4 -2 -4.9 -.9 -4.8 0 -4.9 1 -4.8 1.6 -3.3 2.6 -3.3 3.3 -2.7 4.1 -2.1zM113.4 88.2l0 25.2 -43.6 0 9.6 -3.3 11.3 -5.6 11.6 -7.3 10.2 -8.1zM17.8 108.4l6.5 -1.2 4.9 0 6.4 1.7 12.3 4.5 -48.5 0 17.7 -4.8z"/><path fill="#8cff73" d="M-111.8 -113.4l103.7 0 -6.6 16.2 -9.9 17.8 -7 16.2 -3.6 6.5 -3.6 4.9 -6.6 6.2 -17.6 11.6 -13.6 11.3 -11.7 11.4 -13.1 16.2 -12 9.8 0 -128.1zM84.3 -52l6.4 -.2 8.1 1.8 7.7 3.4 6.9 4.4 0 32.4 -12.9 -1.5 -13 -3.4 -8.1 -4 -4.9 -4.9 -1.8 -3.5 -1.2 -4.9 -.1 -4.9 .6 -3.2 1.3 -3.2 2.9 -4 3.2 -2.5 4.4 -1.6z"/><path fill="#a6ff59" d="M-111.8 -113.4l100.4 0 -6.6 16.2 -10 16.2 -9.3 18.8 -6.2 8.7 -7.1 6.5 -16.3 11.4 -23.3 17.8 -6.8 6.5 -9.9 11.2 -6.5 4.9 0 -118.2zM85.9 -47.1l4.8 .2 6.5 2.2 5.8 4.2 3.5 4.9 1 3.2 .1 3.2 -1.8 4.9 -3.7 3.2 -4.9 1.5 -6.5 .1 -6.4 -1.5 -4.9 -2.8 -2.7 -3.7 -1 -3.3 -.3 -3.2 .4 -3.3 1.1 -3.2 2.3 -3.2 1.8 -1.5 4.5 -1.8z"/><path fill="#bfff40" d="M-111.8 -113.4l97.3 0 -2.8 8.1 -3 6.5 -10.8 16.2 -10.5 19.4 -6 8.1 -5 4.9 -6.5 4.8 -17.1 12 -23.8 15.6 -13.4 11.6 0 -107.2zM85.9 -39.5l1.6 -.2 3.2 .7 2.5 1.7 1.2 1.7 .8 3.2 -.3 1.6 -.9 1.6 -2 1.7 -2.9 .8 -3.2 -.1 -2 -.7 -1.8 -1.7 -.6 -1.6 -.1 -3.2 1.2 -3.2 1.8 -1.7z"/><path fill="#d9ff26" d="M-111.8 -113.4l94.2 0 -2 6.5 -3.1 6.5 -11.5 16.1 -11.2 19.5 -7.6 9.7 -9.8 8.1 -15 10.5 -9.7 5.3 -17.8 8.4 -8.1 5.1 0 -95.7z"/><path fill="#f2ff0d" d="M-111.8 -113.4l91 0 -1.8 6.5 -2.5 4.8 -12.3 16.2 -12.8 21.2 -8.3 9.6 -12.8 10.2 -11.3 7.1 -8.1 3.4 -16.2 4.7 -6.5 2.4 0 -86.1z"/><path fill="#fff200" d="M-111.8 -113.4l87.6 0 -1.7 6.2 -1.6 2.9 -12.4 15.2 -15.3 24.3 -5.5 6.5 -5.2 4.8 -10.5 8.1 -9.5 5.1 -8.1 2.3 -19.4 2.7 0 -78.1z"/><path fill="#ffd900" d="M-111.8 -113.4l83.4 0 -.8 3.2 -1.6 3.4 -12.1 14.4 -13.8 22.3 -9.5 11.8 -8.3 7.5 -8.1 5.3 -6.5 2.3 -8.1 1 -16.2 -.7 0 -70.5z"/><path fill="#ffbf00" d="M-111.8 -113.4l77.8 0 -3.3 6.1 -10.8 13.3 -11.3 19.5 -5.5 8.1 -5.2 6.4 -6.1 5.9 -6.4 4.7 -4.9 2 -6.5 .8 -4.8 -.6 -9.8 -2.7 -4.8 -.4 0 -63.1z"/><path fill="#ffa600" d="M-111.8 -113.4l69.6 0 -9.6 13.1 -13 24.1 -9.5 14.6 -4.4 4.9 -3.9 3.3 -3.3 1.7 -4.8 1 -6.5 -1 -9.7 -4.2 -6.5 -1.3 0 -56.2z"/><path fill="#ff8c00" d="M-111.8 -113.4l58.7 0 -5.2 8.1 -19.7 40.5 -3.5 4.8 -2.8 2.9 -1.6 1.2 -3.2 .9 -4.9 -.9 -12.9 -6.3 -6.5 -1.8 0 -49.4z"/><path fill="#ff7300" d="M-111.8 -113.4l48.1 0 -16.2 32.4 -4.7 12.9 -2.9 4.1 -1.6 .9 -1.6 .2 -3.3 -.9 -11.3 -5.6 -8.1 -2.6 0 -41.4z"/></g><path fill="none" stroke="#000" stroke-width="1.35" d="M67.2 -113.4l-8.3 8.1 -9.8 8.1 -4.3 4.8 -3.2 6.5 -2.7 13.4 -1.6 3.5 -3.3 2.2 -9.7 3.8 -4.9 3.5 -2.2 2.8 -2.6 4.3 -3.5 8.7 -1.3 6.4 -.2 4.9 1.1 6.5 2.3 6.4 6.4 13 4 6.5 4.1 4.4 4.9 2.6 3.2 .8 4.9 .4 6.5 -.2 4.8 -.7 4.9 -2 1.9 -2.1 .7 -1.6 .1 -3.2 -1 -3.3 -6.6 -12.9 -3.1 -9.7 -5.8 -27.6 -.3 -4.9 1.1 -3.7 1.2 -1.1 2.1 -1 19.4 -4.8 11.3 -3.9 7.5 -3.3 8.4 -4.8 7.1 -4.9 12.7 -10.5M-38.9 42l-6.5 1.1 -6.4 2.2 -3.6 1.7 -4.3 3.2 -2.4 3.3 -.9 3.2 .3 3.3 2.7 4.8 3.2 3.3 7 4.8 6.1 3.1 4.8 1.2 4.9 0 4.8 -1.1 6.5 -2.1 5.4 -2.7 2.7 -2.5 1.6 -2.3 1.4 -4.9 -.1 -3.3 -.7 -3.2 -2.4 -4.9 -4.6 -4.4 -4.9 -2.4 -6.5 -1.4 -8.1 0M60 41.9l-3.3 1 -3.5 2.5 -2 3.2 -.4 3.2 .8 4.9 1.9 3.4 3.2 2.3 4.9 .6 3.9 -1.4 3.3 -3.3 1.5 -3.2 .7 -4.9 -.6 -3.2 -2 -3.3 -2.8 -1.6 -4 -.4zM20 -113.4l-10.3 4.7 -3.2 2.5 -2.2 2.5 -2.7 5 -6 14.4 -2 8.1 -.2 6.5 .7 14.6 -.9 4.9 -3.9 14.6 -.7 9.7 .7 4.8 1.7 4.9 2.8 4.9 6.2 8.7 1.8 4.2 .9 4.9 .3 6.5 -.4 4.8 -1.5 4.9 -2.7 3.3 -3.3 1.5 -3.2 .6 -16.2 1 -11.3 -1.1 -4.9 .1 -13 2.5 -14.6 1.7 -9.7 3.2 -4.8 2.6 -3.3 2.3 -4.4 5 -2.7 6.4 -.8 6.5 .9 6.5 2.7 6.5 3.7 4.9 5.5 4.6 6.5 3.6 4.8 1.8 21.1 6.2 4.9 .9 6.4 0 14.6 -2.3 21.1 -2.5 6.5 -1.6 11.3 -3.7 11.3 -2.2 9.8 -2.8 9.7 -.5 14.6 .9 4.8 -.4 6.5 -2.2 4.9 -3.1 3.3 -3.2 3.6 -4.9 7.2 -16.2 2.5 -9.7 .4 -4.9 -.5 -6.5 -2.6 -9.7 -2.2 -4.8 -3.7 -6.5 -5 -6.5 -7.9 -6.7 -4.5 -4.6 -3.6 -4.9 -2.9 -4.9 -2.6 -6.4 -1.8 -8.1 -.6 -6.5 .7 -6.5 2.2 -4.9 3.1 -3.2 4.7 -3.3 6.8 -3.2 6.6 -2.3 9.7 -2.4 22.7 -3.5M-3.9 -113.4l-2.6 5.1 -5.8 14.3 -7.7 16.2 -6.5 17.8 -3.3 6.5 -3.2 4.9 -3 3.2 -3.9 3.3 -15.2 8.1 -4.7 3.2 -3.7 3.3 -7.9 8.1 -8.2 9.7 -4.8 6.5 -6.3 9.7 -3.3 4 -4.8 4.7 -9.8 7.8 -4.8 5.3M113.4 7l-12.9 -9.6 -19.5 -10.6 -6.2 -4.6 -2.8 -3.3 -2.8 -4.8 -1.6 -4.9 -.7 -6.5 1.1 -6.4 2.5 -4.9 2.4 -2.7 2.8 -2.2 5.3 -2.5 6.5 -1.1 8.1 .1 6.5 1.1 11.3 3.2M-113.4 109.7l3 3.7M-6 113.4l16.1 -4.8 9.3 -2.2 6.5 -1 8.1 1 14.6 5 4.9 1.2 6.5 .1 6.4 -1.1 11.4 -3.8 12.9 -6.6 13 -8.8 9.7 -8.5M-13.2 -113.4l-3.5 9.7 -2.7 5.7 -10.9 17 -9.2 17.8 -5.9 8.2 -4.8 4.8 -4.1 3.2 -41.3 29.2 -5.6 4.8 -7.9 8.1 -4.3 3.6M84.3 -42.7l3.2 -.7 4.9 1 3.4 1.9 3.1 3.2 .9 1.7 .8 3.2 -.5 3.2 -2.2 3.3 -2.3 1.5 -4.9 1.2 -4.8 -.5 -3.3 -1.2 -1.6 -1 -1.4 -1.6 -1.1 -3.3 .2 -4.8 1.2 -3.3 1.1 -1.6 2 -1.6zM-21.9 -113.4l-1.8 6.5 -2.2 4.1 -12 15.3 -14 22.7 -3.8 4.8 -4.7 4.9 -12.5 10 -6.5 4.2 -4.9 2.5 -8.1 3 -21 5.3M-34.6 -113.4l-2.7 5.1 -8 9.5 -3.3 4.7 -8.3 14.7 -8.5 13 -5.2 6.4 -6.8 6.5 -6.9 4.6 -3.2 1.2 -4.9 .7 -4.8 -.3 -11.4 -3.2 -4.8 -.5"/></g></g><use href="#hd"/></g><rect x="429.2" y="260.8" width="45.6" height="13.9"/><rect x="429.2" y="591.0" width="45.7" height="13.8"/><rect x="429.2" y="926.0" width="45.7" height="13.8"/><rect x="221.3" y="409.2" width="45.8" height="13.6"/><rect x="638.4" y="409.0" width="45.6" height="13.9"/><rect x="1059.2" y="408.8" width="45.2" height="13.4"/><g transform="translate(831,226.0) scale(0.07270,0.07284) translate(-425,-220)"><path d="M425,258 L520,260 C590,262 620,300 620,390 L620,560 C622,650 660,700 760,703 L828,705 M760,706 C660,710 622,760 620,850 L620,1040 C620,1120 590,1150 520,1152 L425,1154" fill="none" stroke="#000" stroke-width="76"/><path d="M620,380 L620,565 M620,845 L620,1050" fill="none" stroke="#000" stroke-width="92"/></g><g transform="translate(831,552.0) scale(0.07270,0.07274) translate(-425,-220)"><path d="M425,258 L520,260 C590,262 620,300 620,390 L620,560 C622,650 660,700 760,703 L828,705 M760,706 C660,710 622,760 620,850 L620,1040 C620,1120 590,1150 520,1152 L425,1154" fill="none" stroke="#000" stroke-width="76"/><path d="M620,380 L620,565 M620,845 L620,1050" fill="none" stroke="#000" stroke-width="92"/></g><g transform="translate(831,892.1) scale(0.07270,0.07233) translate(-425,-220)"><path d="M425,258 L520,260 C590,262 620,300 620,390 L620,560 C622,650 660,700 760,703 L828,705 M760,706 C660,710 622,760 620,850 L620,1040 C620,1120 590,1150 520,1152 L425,1154" fill="none" stroke="#000" stroke-width="76"/><path d="M620,380 L620,565 M620,845 L620,1050" fill="none" stroke="#000" stroke-width="92"/></g><g transform="translate(195.3,725.0) scale(0.10194,0.10195) translate(-150,-245)"><path d="M188,245 L188,280 C190,330 230,345 300,346 L520,349 C590,352 630,375 640,420 L640,450 M640,420 C650,375 690,352 760,349 L980,346 C1050,345 1090,330 1092,280 L1092,245" fill="none" stroke="#000" stroke-width="56" stroke-linejoin="miter"/><path d="M150,245 h75 v45 h-75z M1055,245 h75 v45 h-75z M602,405 h76 v45 h-76z"/></g><g transform="translate(609.1,725.0) scale(0.10194,0.10195) translate(-150,-245)"><path d="M188,245 L188,280 C190,330 230,345 300,346 L520,349 C590,352 630,375 640,420 L640,450 M640,420 C650,375 690,352 760,349 L980,346 C1050,345 1090,330 1092,280 L1092,245" fill="none" stroke="#000" stroke-width="56" stroke-linejoin="miter"/><path d="M150,245 h75 v45 h-75z M1055,245 h75 v45 h-75z M602,405 h76 v45 h-76z"/></g><g transform="translate(1028.7,725.0) scale(0.10194,0.10195) translate(-150,-245)"><path d="M188,245 L188,280 C190,330 230,345 300,346 L520,349 C590,352 630,375 640,420 L640,450 M640,420 C650,375 690,352 760,349 L980,346 C1050,345 1090,330 1092,280 L1092,245" fill="none" stroke="#000" stroke-width="56" stroke-linejoin="miter"/><path d="M150,245 h75 v45 h-75z M1055,245 h75 v45 h-75z M602,405 h76 v45 h-76z"/></g><text x="128.6" y="1059.4" font-family="DejaVu Sans, sans-serif" font-size="34.8" font-weight="normal" >contra</text><text x="276" y="1059.4" font-family="DejaVu Sans, sans-serif" font-size="34.8" font-weight="normal" >ipsi</text><g><rect x="1228.90" y="782.30" width="16.30" height="4.44" fill="#870000"/><rect x="1228.90" y="786.14" width="16.30" height="4.44" fill="#970000"/><rect x="1228.90" y="789.98" width="16.30" height="4.44" fill="#a70000"/><rect x="1228.90" y="793.82" width="16.30" height="4.44" fill="#b70000"/><rect x="1228.90" y="797.66" width="16.30" height="4.44" fill="#c70000"/><rect x="1228.90" y="801.50" width="16.30" height="4.44" fill="#d70000"/><rect x="1228.90" y="805.33" width="16.30" height="4.44" fill="#e70000"/><rect x="1228.90" y="809.17" width="16.30" height="4.44" fill="#f70000"/><rect x="1228.90" y="813.01" width="16.30" height="4.44" fill="#ff0800"/><rect x="1228.90" y="816.85" width="16.30" height="4.44" fill="#ff1800"/><rect x="1228.90" y="820.69" width="16.30" height="4.44" fill="#ff2800"/><rect x="1228.90" y="824.53" width="16.30" height="4.44" fill="#ff3800"/><rect x="1228.90" y="828.37" width="16.30" height="4.44" fill="#ff4800"/><rect x="1228.90" y="832.21" width="16.30" height="4.44" fill="#ff5800"/><rect x="1228.90" y="836.05" width="16.30" height="4.44" fill="#ff6800"/><rect x="1228.90" y="839.89" width="16.30" height="4.44" fill="#ff7800"/><rect x="1228.90" y="843.72" width="16.30" height="4.44" fill="#ff8700"/><rect x="1228.90" y="847.56" width="16.30" height="4.44" fill="#ff9700"/><rect x="1228.90" y="851.40" width="16.30" height="4.44" fill="#ffa700"/><rect x="1228.90" y="855.24" width="16.30" height="4.44" fill="#ffb700"/><rect x="1228.90" y="859.08" width="16.30" height="4.44" fill="#ffc700"/><rect x="1228.90" y="862.92" width="16.30" height="4.44" fill="#ffd700"/><rect x="1228.90" y="866.76" width="16.30" height="4.44" fill="#ffe700"/><rect x="1228.90" y="870.60" width="16.30" height="4.44" fill="#fff700"/><rect x="1228.90" y="874.44" width="16.30" height="4.44" fill="#f7ff08"/><rect x="1228.90" y="878.28" width="16.30" height="4.44" fill="#e7ff18"/><rect x="1228.90" y="882.12" width="16.30" height="4.44" fill="#d7ff28"/><rect x="1228.90" y="885.95" width="16.30" height="4.44" fill="#c7ff38"/><rect x="1228.90" y="889.79" width="16.30" height="4.44" fill="#b7ff48"/><rect x="1228.90" y="893.63" width="16.30" height="4.44" fill="#a7ff58"/><rect x="1228.90" y="897.47" width="16.30" height="4.44" fill="#97ff68"/><rect x="1228.90" y="901.31" width="16.30" height="4.44" fill="#87ff78"/><rect x="1228.90" y="905.15" width="16.30" height="4.44" fill="#78ff87"/><rect x="1228.90" y="908.99" width="16.30" height="4.44" fill="#68ff97"/><rect x="1228.90" y="912.83" width="16.30" height="4.44" fill="#58ffa7"/><rect x="1228.90" y="916.67" width="16.30" height="4.44" fill="#48ffb7"/><rect x="1228.90" y="920.51" width="16.30" height="4.44" fill="#38ffc7"/><rect x="1228.90" y="924.35" width="16.30" height="4.44" fill="#28ffd7"/><rect x="1228.90" y="928.18" width="16.30" height="4.44" fill="#18ffe7"/><rect x="1228.90" y="932.02" width="16.30" height="4.44" fill="#08fff7"/><rect x="1228.90" y="935.86" width="16.30" height="4.44" fill="#00f7ff"/><rect x="1228.90" y="939.70" width="16.30" height="4.44" fill="#00e7ff"/><rect x="1228.90" y="943.54" width="16.30" height="4.44" fill="#00d7ff"/><rect x="1228.90" y="947.38" width="16.30" height="4.44" fill="#00c7ff"/><rect x="1228.90" y="951.22" width="16.30" height="4.44" fill="#00b7ff"/><rect x="1228.90" y="955.06" width="16.30" height="4.44" fill="#00a7ff"/><rect x="1228.90" y="958.90" width="16.30" height="4.44" fill="#0097ff"/><rect x="1228.90" y="962.74" width="16.30" height="4.44" fill="#0087ff"/><rect x="1228.90" y="966.58" width="16.30" height="4.44" fill="#0078ff"/><rect x="1228.90" y="970.41" width="16.30" height="4.44" fill="#0068ff"/><rect x="1228.90" y="974.25" width="16.30" height="4.44" fill="#0058ff"/><rect x="1228.90" y="978.09" width="16.30" height="4.44" fill="#0048ff"/><rect x="1228.90" y="981.93" width="16.30" height="4.44" fill="#0038ff"/><rect x="1228.90" y="985.77" width="16.30" height="4.44" fill="#0028ff"/><rect x="1228.90" y="989.61" width="16.30" height="4.44" fill="#0018ff"/><rect x="1228.90" y="993.45" width="16.30" height="4.44" fill="#0008ff"/><rect x="1228.90" y="997.29" width="16.30" height="4.44" fill="#0000f7"/><rect x="1228.90" y="1001.13" width="16.30" height="4.44" fill="#0000e7"/><rect x="1228.90" y="1004.97" width="16.30" height="4.44" fill="#0000d7"/><rect x="1228.90" y="1008.80" width="16.30" height="4.44" fill="#0000c7"/><rect x="1228.90" y="1012.64" width="16.30" height="4.44" fill="#0000b7"/><rect x="1228.90" y="1016.48" width="16.30" height="4.44" fill="#0000a7"/><rect x="1228.90" y="1020.32" width="16.30" height="4.44" fill="#000097"/><rect x="1228.90" y="1024.16" width="16.30" height="4.44" fill="#000087"/><rect x="1227.90" y="781.30" width="18.30" height="247.70" fill="none" stroke="#333" stroke-width="2"/></g><text x="1279.9" y="792.1" font-family="DejaVu Sans, sans-serif" font-size="35.5" font-weight="normal" >0.1</text><text x="1279.9" y="914.4" font-family="DejaVu Sans, sans-serif" font-size="35.5" font-weight="normal" >0</text><text x="1268.8" y="1035.9" font-family="DejaVu Sans, sans-serif" font-size="35.5" font-weight="normal" >-0.1</text><text transform="translate(1365.9,973.9) rotate(-90)" font-family="DejaVu Sans, sans-serif" font-size="33.9">log-power</text><g transform="translate(0,220.0) scale(0.065550)" fill="none" stroke="#222" stroke-width="19" stroke-linejoin="round" stroke-linecap="round"><path d="M180,1380 L205,760 C190,740 168,715 165,680 L165,335 C165,315 180,305 200,305 C220,305 235,318 235,335 L235,500 M235,335 L235,250 C235,235 248,225 265,225 C283,225 295,238 295,255 L295,500 M295,255 L295,210 C295,195 308,185 322,185 C338,185 350,197 350,212 L350,500 M350,250 C350,235 365,225 380,225 C398,225 410,238 410,255 L410,612 C430,600 450,560 460,520 C470,490 490,472 515,470 C540,470 545,480 540,495 L520,575 C510,630 500,650 470,680 L410,740 L435,1380"/><path d="M180,1380 L205,760 C190,740 168,715 165,680 L165,335 C165,315 180,305 200,305 C220,305 235,318 235,335 L235,500 M235,335 L235,250 C235,235 248,225 265,225 C283,225 295,238 295,255 L295,500 M295,255 L295,210 C295,195 308,185 322,185 C338,185 350,197 350,212 L350,500 M350,250 C350,235 365,225 380,225 C398,225 410,238 410,255 L410,612 C430,600 450,560 460,520 C470,490 490,472 515,470 C540,470 545,480 540,495 L520,575 C510,630 500,650 470,680 L410,740 L435,1380" transform="translate(1240,0) scale(-1,1)"/></g><g transform="translate(0,520.0) scale(0.065550)" fill="none" stroke="#111" stroke-width="20" stroke-linejoin="round" stroke-linecap="round"><path d="M985,930 L530,510 C525,470 505,440 480,415 L275,196 C262,178 240,165 222,170 C206,175 200,190 207,203 M324.7,338.7 L180,186 C168,165 148,152 130,156 C112,160 100,175 104,190 M284.7,387.7 L104,190 C92,172 72,165 58,170 C42,176 36,192 42,210 L52,232 M242.4,427.7 L57.8,249.8 C48,240 30,240 22,252 C14,264 16,280 24,290 L250,520 C230,525 180,505 150,505 C120,505 100,520 100,535 C100,545 110,552 125,560 L225,620 C240,630 260,635 290,636 L375,632 L815,1105" transform="translate(1240,0) scale(-1,1)"/><path d="M530,510 L985,930 L815,1105 L375,632 Z" fill="#fff" stroke="none"/><path d="M985,930 L530,510 C525,470 505,440 480,415 L275,196 C262,178 240,165 222,170 C206,175 200,190 207,203 M324.7,338.7 L180,186 C168,165 148,152 130,156 C112,160 100,175 104,190 M284.7,387.7 L104,190 C92,172 72,165 58,170 C42,176 36,192 42,210 L52,232 M242.4,427.7 L57.8,249.8 C48,240 30,240 22,252 C14,264 16,280 24,290 L250,520 C230,525 180,505 150,505 C120,505 100,520 100,535 C100,545 110,552 125,560 L225,620 C240,630 260,635 290,636 L375,632 L815,1105"/></g><text x="0" y="1174.4" font-family="DejaVu Sans, sans-serif" font-size="35.35" font-weight="bold" id="tB">B, Congenitally Blind Group</text><text x="179.5" y="1233.5" font-family="DejaVu Sans, sans-serif" font-size="34.2" font-weight="normal" >attended</text><text x="578.4" y="1233.7" font-family="DejaVu Sans, sans-serif" font-size="34.2" font-weight="normal" >unattended</text><text x="999.1" y="1232.5" font-family="DejaVu Sans, sans-serif" font-size="34.2" font-weight="normal" >difference</text><text x="107.10000000000001" y="1291.2" font-family="DejaVu Sans, sans-serif" font-size="35.2" font-weight="bold" >a</text><text x="525.0" y="1290.9" font-family="DejaVu Sans, sans-serif" font-size="35.2" font-weight="bold" >b</text><text x="906.7" y="1291.2" font-family="DejaVu Sans, sans-serif" font-size="35.2" font-weight="bold" >c</text><text x="106.7" y="1609.2" font-family="DejaVu Sans, sans-serif" font-size="35.2" font-weight="bold" >d</text><text x="525.7" y="1609.0" font-family="DejaVu Sans, sans-serif" font-size="35.2" font-weight="bold" >e</text><text x="910.7" y="1609.0" font-family="DejaVu Sans, sans-serif" font-size="35.2" font-weight="bold" >f</text><text x="106.7" y="1931.6" font-family="DejaVu Sans, sans-serif" font-size="35.2" font-weight="bold" >g</text><text x="525.7" y="1931.6" font-family="DejaVu Sans, sans-serif" font-size="35.2" font-weight="bold" >h</text><text x="917.9000000000001" y="1931.5" font-family="DejaVu Sans, sans-serif" font-size="35.2" font-weight="bold" >i</text><g transform="translate(248.6,1398.95)"><g transform="scale(1,1.0027)"><g clip-path="url(#disc)"><g filter="url(#sm)"><rect x="-112" y="-112" width="224" height="224" fill="#59ffa6"/><path fill="#73ff8c" d="M-111.8 -113.4l225.2 0 0 144.9 -11.3 -1.6 -4.9 .5 -3.2 2.1 -1.6 2.3 -1 2.5 -.4 3.2 .3 3.2 1.6 4.9 12 19.5 2.6 6.4 1.6 6.5 .8 8.1 -.5 8.1 -1.7 8.1 -2.9 8.1 -218.2 0 0 -226.8z"/><path fill="#8cff73" d="M-111.8 -113.4l225.2 0 0 129.6 -11.3 1.1 -4.9 1.9 -3.2 2.6 -3.3 4 -3.6 8.2 -.9 6.5 .7 8.1 2.2 7.8 6.9 18.1 1.8 11.4 -.3 6.5 -1.7 8.1 -2.4 6.4 -3.4 6.5 -203.4 0 0 -50.5 5.6 -7.8 1.2 -3.3 -1 -1.6 -1 -.4 -4.8 -.9 0 -162.3z"/><path fill="#a6ff59" d="M-111.8 -113.4l225.2 0 0 113.2 -9.7 .5 -6.5 1.6 -3.2 2.2 -1.6 1.8 -3.3 6.6 -5.2 16.7 -1.3 6.4 -.5 6.5 .8 11.4 5 22.7 .4 6.4 -.4 4.9 -1.5 6.5 -2.7 6.5 -4.3 7 -5 5.9 -172.1 0 -1.1 -1.3 -4.5 -6.8 -2.5 -6.5 -1 -6.4 .3 -6.5 1.6 -6.5 2 -4.9 10.6 -17.8 1.6 -4.7 .2 -3.4 -.7 -3.2 -1.2 -2.4 -4.8 -5 -6.5 -3.2 -9.7 -2.7 0 -145.5z"/><path fill="#bfff40" d="M-111.8 -113.4l225.2 0 0 101.3 -12.9 1.1 -6.5 1.6 -4.9 2.9 -4 4.9 -1.6 4.8 -4.8 35.7 -.2 12.9 2 22.7 -.2 4.9 -.9 4.9 -3.3 8.1 -6.4 8.7 -8.1 7.1 -4.9 2.9 -5 2.3 -121 0 -6.9 -2.1 -5.5 -2.7 -4.5 -3.3 -4.5 -4.8 -1.9 -3.3 -1.9 -4.8 -.7 -8.1 1.7 -8.1 6 -13.7 1.6 -5.1 .8 -5.6 -.7 -6.4 -3.3 -7.7 -4.9 -6.7 -14.6 -15.2 -4.8 -2.9 0 -126.3z"/><path fill="#d9ff26" d="M-111.8 -113.4l225.2 0 0 91.2 -16.2 2.2 -6.9 2.2 -2.8 1.7 -3.2 3 -2.4 3.4 -2.3 4.8 -1.5 6.5 -.6 16.2 -2.2 21.1 -1.2 30.8 -1.6 8.1 -2.8 6.3 -4.9 6.2 -4.8 4.3 -6.5 3.9 -8.1 3 -9.8 1.7 -34 3.7 -17.8 .5 -11.3 -.5 -21.1 -4.6 -21.1 -3.1 -4.8 -1.7 -4.9 -3 -3.2 -3.4 -2.1 -3.6 -.9 -3.2 -.2 -4.9 4.9 -17.8 .6 -6.5 -.2 -4.9 -2.2 -9.7 -8.3 -19.4 -1 -8.1 .7 -4.9 1.7 -4.9 10.3 -16.2 1.3 -4.8 -.1 -4.9 -1.3 -3.1 -1.6 -1.4 -3.3 -.7 -3.2 .7 -4.9 3.3 -11.3 11.5 -9.7 5.4 0 -106.4z"/><path fill="#f2ff0d" d="M-111.8 -113.4l225.2 0 0 80.3 -7.4 2.3 -12 2.5 -6.5 2.3 -4.9 3.4 -2.4 3.2 -2.4 4.5 -2.3 6.8 -1.4 8.1 -.5 21.1 -3.4 38.9 -1.6 8.1 -2.7 6.4 -3.5 4.9 -4.1 3.8 -6.5 3.9 -6.4 2.4 -9.8 1.5 -27.5 1.9 -16.2 .5 -9.7 -.4 -21.1 -2 -21.1 -3 -4.8 -1.1 -4.9 -2 -3 -2.3 -1.8 -2.5 -.9 -3.9 .4 -16.2 -1 -9.8 -1.9 -8.1 -5.5 -16.2 -1.4 -9.7 .9 -6.5 1.5 -4.8 7.4 -14.6 2.6 -6.5 1.5 -6.5 0 -4.8 -2 -4.9 -3.3 -3.2 -4.8 -1.9 -6.5 .2 -3.2 1.1 -3.4 2.2 -11.2 12.2 -3.3 2 -4.8 2.1 0 -95.7z"/><path fill="#fff200" d="M-111.8 -113.4l225.2 0 0 68.3 -30.8 12.8 -4.8 4 -3.3 5.6 -2.3 8.1 -1.4 9.7 -.8 29.2 -2.7 27.5 -2 9.8 -2.9 6.5 -3.8 4.8 -3.5 2.9 -4.9 2.7 -6.5 2.2 -6.4 .9 -11.4 .3 -14.6 1.3 -19.4 .4 -30.8 -2.3 -9.7 -1.6 -6.6 -1.9 -4.8 -2.1 -3.2 -2.5 -2.7 -3.5 -2.2 -5.3 -4.7 -19 -5.4 -17.9 -1.2 -9.7 .7 -6.5 1.8 -6.4 7.3 -16.2 3.5 -9.8 1.3 -6.4 -.4 -4.9 -2.9 -6.1 -4.8 -4.5 -6.5 -2.5 -8.1 -.6 -6.5 1 -6.3 3 -3.5 3.2 -6.4 7.9 -3.2 1.8 0 -84.2z"/><path fill="#ffd900" d="M-111.8 -113.4l225.2 0 0 57.3 -6.5 2.6 -12.9 7.5 -16.2 7.9 -4.9 4.4 -3.2 6.4 -1.3 6.2 -1.1 13 -.4 29.2 -1 12.9 -2.4 17.8 -1.3 4.9 -2.2 5.2 -3.3 4.3 -3.2 2.8 -4.9 2.7 -4.9 1.6 -8.1 1.1 -42.1 2 -29.1 -2.1 -11.4 -2.2 -4.8 -1.8 -4.9 -2.9 -3.3 -3.1 -2.9 -4.3 -3.5 -8.5 -6.3 -19.1 -1.8 -8.1 -.3 -6.5 .7 -6.5 1.8 -6.4 12.2 -30.8 .6 -4.9 -.9 -6.5 -2.8 -6.4 -3.2 -4 -4.9 -3.3 -4.9 -1.7 -11.3 -1.5 -13 -.1 -6.4 .8 -6.5 2.8 0 -62.7zM-.7 -11.3l.7 1.1 .6 -1.1 -.6 -.7z"/><path fill="#ffbf00" d="M-111.8 -113.4l225.2 0 0 47.6 -9.7 4.8 -17.8 10.6 -14.6 6.1 -4 3.8 -2.3 4.9 -1.5 9.7 .1 43.7 -.4 10.6 -3 20.2 -1.4 4.9 -2.1 4.4 -3.2 3.7 -3.3 2.4 -3.2 1.5 -4.9 1.4 -35.6 3 -11.4 .5 -9.7 -.3 -16.2 -1.5 -12.9 -2.4 -4.9 -1.8 -4.9 -3 -3.2 -3 -3.3 -4.5 -4 -8.5 -4.2 -11.4 -1.9 -8.1 -.6 -8.1 .8 -6.5 2.2 -8.1 12.2 -30.7 .4 -9.8 -1.9 -9.7 -2.1 -4.8 -2.5 -3.6 -3.2 -2.6 -4.9 -1.8 -6.5 -1.1 -24.3 -2.3 -6.4 -.2 -6.5 .6 0 -50.6zM-2.9 -16.2l-1.6 1.6 -1 3.3 .9 4.8 3 3.5 3.2 .6 1.6 -.8 1.7 -1.9 1 -3 -.4 -4.9 -2.4 -3.2 -3.1 -1 -1.6 .3z"/><path fill="#ffa600" d="M-111.8 -113.4l225.2 0 0 37.2 -25.9 15.2 -6.5 2.7 -4.8 .7 -6.5 -.9 -6.6 -3.1 -4.2 -4.8 -4.2 -11.4 -1.8 -3.2 -4.3 -3.4 -6.5 -1.6 -4.8 .2 -8.1 1.5 -13 5.5 -3.2 .3 -13 -3.5 -14.6 1.3 -14.6 -4.1 -6.4 -.7 -6.5 .3 -3.9 .9 -4.2 1.9 -9.8 7.8 -3.2 1.9 -6.5 2.2 -6.5 1 -9.7 0 -17.8 -2.6 -9.7 -.8 0 -40.5zM11.3 -71.5l4.9 -.2 4.9 1 14.5 3.9 8.9 3.6 4.1 2.7 2.1 2.2 3.7 6.5 1.7 4.8 4 35.7 .1 30.7 -.6 9.8 -2.9 15.3 -1.6 5.6 -1.6 3.4 -1.7 1.9 -3.2 2.4 -6.5 2.4 -19.4 1.4 -17.8 2.4 -9.8 .6 -22.6 -1.4 -13 -2.4 -8.1 -3.4 -3.2 -2.4 -3.3 -3.3 -3.2 -4.9 -3.2 -6.3 -4 -11.3 -1.3 -9.8 1 -9.7 5 -16.2 8.8 -21 2.8 -26 1.6 -4.8 2.1 -3.3 3.4 -3 4.8 -2.3 16.2 -3.5 6.5 -.6 14.6 1.1 10.3 -1.4zM-3.9 -19.4l-2.6 2.5 -1.6 3.9 -.3 3.3 1 4.8 2.5 4.9 3.3 2.9 3.2 .8 3.3 -1.2 2.1 -2.5 1.9 -4.9 .5 -4.8 -1 -4.9 -1.9 -3.2 -3.3 -2.4 -3.2 -.5 -3.2 .9z"/><path fill="#ff8c00" d="M-111.8 -113.4l225.2 0 0 24.4 -22.7 15.1 -4.8 2.1 -4.9 .7 -4.8 -1.2 -4.6 -3.9 -2.2 -3.2 -5.6 -11.3 -3.8 -5.3 -4.9 -3.7 -4.9 -1.3 -4.8 .4 -4.9 1.3 -24.3 10.6 -4.9 1.1 -4.8 .3 -9.7 -.6 -6.5 -1.1 -5.5 -1.7 -22.1 -9 -6.4 -1.5 -4.9 -.1 -4.1 .8 -4 2.2 -4.9 4.2 -10 11.5 -4.6 3.2 -3.2 1.2 -6.5 0 -27.5 -5.4 0 -29.8zM-17.8 -60l11.3 -1 11.4 0 12.9 1 9.7 1.7 6.5 2.4 6.5 3.9 4.9 4.8 3.4 5.1 3 8.1 3.6 14.6 1.1 6.4 .5 11.4 -.8 27.5 -2.7 12 -3.8 9.1 -2.7 3.1 -1.6 1.1 -6.5 2 -17.8 .7 -22.7 4.4 -19.5 -.6 -9.7 -.8 -9.7 -2.4 -6.5 -3.2 -3.2 -2.6 -3.1 -3.3 -5 -8.1 -2.7 -6.5 -1.5 -6.5 -.5 -6.5 .8 -8.1 4.5 -16.2 8.2 -19.4 5.5 -19.5 3.5 -5.5 4.9 -3.9 6.4 -2.7 10.9 -2.5zM-4.9 -22.7l-3.3 3.3 -2.2 4.8 -.4 6.5 1.5 6.5 2.8 6 4.9 5.4 1.6 .9 3.2 .4 3.3 -1.6 3.2 -4.7 2 -6.4 .5 -8.1 -1.3 -6.5 -2.8 -4.9 -3.2 -2.4 -4.9 -.8 -4.9 1.6z"/><path fill="#ff7300" d="M-111.8 -113.4l50.9 0 -7.6 4.8 -10.9 10.6 -3.1 2.4 -3.4 1.4 -4.8 .6 -22.7 -3.1 0 -16.7zM-37.3 -113.4l81.5 0 -6.9 3.6 -21.1 14.2 -6.5 2.7 -6.5 .8 -6.4 -.7 -4.9 -1.8 -16.2 -10.9 -8.1 -5 -6.2 -2.9zM64.8 -113.4l48.6 0 0 6.9 -19.4 11.2 -6.5 2.3 -3.2 -.6 -1.7 -1.1 -10 -12.2 -4.5 -3.8 -4.8 -2.7zM-1.6 -53.5l22.7 2.2 8.1 1.7 8.1 4.2 3.2 2.7 3.2 3.8 2.9 4.9 2.5 6.5 2.7 8.5 1.4 7.7 .2 12.9 -1.9 24.3 -1.4 4.9 -3.4 6.5 -3 3.5 -4.8 2.6 -6.5 .7 -19.4 -1.7 -3.3 .7 -11.3 5.7 -19.5 1.9 -9.7 -.4 -8.1 -2 -6.5 -3.3 -4.8 -4.3 -4.9 -6.8 -3.1 -8 -1 -8.1 .8 -9.7 2.7 -11.3 2.6 -8.1 5.8 -13 5.2 -13.8 3.5 -5.6 4.6 -4.1 3.2 -1.7 4.9 -1.6 8.1 -1.5 15 -.9zM-4.4 -27.5l-4 3.2 -3.6 6.5 -1.2 6.5 .7 8.1 4.4 13.7 6.5 13.6 1.6 2.6 1.6 1.4 3.3 .8 1.6 -.7 1.6 -1.6 1.6 -2.9 3.7 -12.4 1.7 -12.9 -.5 -11.4 -2.4 -8.1 -1.8 -3.2 -2.3 -2.5 -4.9 -2.2 -3.2 0 -3.2 .9z"/><path fill="#ff5900" d="M-9.7 -113.4l33.1 0 -11.8 12.9 -5.1 3 -4.9 .7 -3.2 -.8 -3.9 -2.9 -1.8 -3.2 -1.8 -6.5 -2.1 -3.2zM-22.7 -45.5l6.5 .2 5.8 1.6 2.7 1.6 1.4 1.6 .6 1.6 -.7 3.3 -6.8 12.9 -1.6 4.9 -.7 4.8 .3 8.1 3.7 22.7 .2 6.5 -.7 6.5 -1.8 4.8 -2.8 3.3 -4.5 2.4 -4.8 1.2 -6.5 .1 -4.9 -1 -4.8 -2.1 -5.3 -3.9 -4 -4.8 -2.4 -4.9 -1.4 -6.5 -.2 -6.4 .9 -8.1 3 -13 11 -24.9 3.2 -5.1 3.3 -3.2 4.8 -2.8 5.3 -1.3zM19.4 -42.5l4.9 -.3 4.9 .8 4.8 2 3.9 2.7 3.1 3.3 3.1 4.8 2.9 6.5 2 6.5 .9 6.5 0 8.1 -1.1 9.7 -1.8 9.2 -1.6 5.2 -1.9 3.4 -3 3.1 -3.2 1.4 -4.9 -.2 -4.9 -2.7 -4.1 -4.8 -2.8 -6.5 -1.5 -8.1 -2.2 -24.3 -5.2 -19.4 .1 -1.7 1.2 -2.1 1.6 -1.3 3.3 -1.4z"/><path fill="#ff4000" d="M-27.5 -39l4.8 -.3 4.9 2 2.2 3.3 .4 3.2 -2.8 17.8 1.6 22.7 -.9 9.7 -2.1 6.2 -2.5 3.6 -3.9 3.2 -3.4 1.4 -3.2 .5 -4.9 -.5 -4.8 -2.1 -3.3 -2.5 -3.2 -4.2 -1.6 -3.8 -1.1 -5 -.4 -6.5 2 -14.6 4.3 -11.2 6.5 -12.8 3.3 -4.8 3.2 -3 4.5 -2.2zM24.3 -34.3l3.2 -.6 3.3 .4 3.2 1.3 3.3 2.4 4.8 6.4 3.3 8.2 1 8.1 -1.1 9.7 -3.2 8.9 -1.6 2.5 -3.2 2.6 -3.3 .5 -3.2 -1.1 -1.6 -1.1 -3.5 -4.2 -3 -7.1 -2.1 -12.3 -1.1 -14.6 .2 -3.2 1 -3.3 1 -1.6 2.1 -1.6z"/><path fill="#ff2600" d="M-29.2 -33l3.3 -.5 1.6 .3 1.6 .9 2.2 3.1 .5 3.3 -.7 12.9 1 16.2 -.5 6.5 -1.8 6.5 -2.9 4.9 -4.3 3.4 -3.2 1.2 -3.2 .2 -3.3 -.8 -3.2 -2 -3 -3.7 -1.5 -3.2 -1.1 -4.9 -.4 -4.8 .9 -9.7 2.6 -8.1 9 -16 2.9 -3.5 2.3 -1.6zM29.2 -27.6l1.6 0 3.2 1.2 3.3 2.7 3.2 5.2 1.5 5.5 0 6.5 -1.5 5.5 -2.9 4.2 -3 1.7 -2.2 0 -1.6 -.6 -3.3 -3 -1.6 -3.2 -2 -7.8 -.6 -6.5 .9 -6.5 1.7 -3.3 2.9 -1.5z"/><path fill="#ff0d00" d="M-29.2 -26.5l1.7 -.3 1.6 .8 .7 1.7 2.6 24.3 -.4 4.9 -1.3 4.5 -1.9 3.6 -3 3.1 -3.2 1.5 -3.2 .2 -3.3 -1.3 -1.6 -1.3 -1.6 -2.2 -1.6 -3.8 -1 -7.6 .7 -6.5 2.6 -6.4 5.8 -8.6 5.6 -6zM30.8 -19.5l1.6 .1 1.6 .8 1.6 1.9 .9 2.1 .1 4.9 -1 2.3 -1.6 1.4 -1.6 .2 -1.6 -.7 -1.6 -1.9 -1.2 -2.9 -.1 -4.9 1.3 -2.3 1.5 -.9z"/><path fill="#f20000" d="M-34 -13.7l1.6 -.6 1.6 .2 1.6 1.3 1.7 3.1 1.5 6.5 .1 3.2 -.8 3.2 -1.6 3.3 -2.5 2.5 -3.2 1 -3.3 -1.1 -2 -2.4 -1.4 -3.3 -.4 -4.8 .6 -3.5 1.6 -3.6 3.9 -4.3z"/><path fill="#d90000" d="M-34 -4.9l1.9 1.7 -.3 2.6 -1.1 .6 -.7 0 -1.5 -1.6 .1 -1.9 1.5 -1.4z"/></g><path fill="none" stroke="#000" stroke-width="1.35" d="M113.4 3.2l-11.3 .9 -3.3 1 -3.2 2.1 -2.3 2.5 -2.6 4.4 -4.8 12.1 -1.6 5.7 -1 5.4 -.1 9.7 1.2 8.1 5.1 19.4 .9 6.5 -.1 4.9 -1.2 7.6 -2.4 7 -3.5 6.4 -4.8 6.5M-102.5 113.4l-4 -6.5 -2.5 -6.4 -1.1 -6.5 .3 -8.1 1.7 -6.5 2.1 -4.9 2.8 -4.8 7.6 -10.9 2 -3.7 1.5 -4.9 -.1 -3.2 -1.8 -3.4 -4.8 -4.2 -4.9 -2 -9.7 -2.1M113.4 -25.4l-6.5 1.4 -11.3 1.5 -6.5 2.2 -3.2 2.2 -2 1.9 -2.9 4.1 -1.6 3.2 -1.9 5.7 -.8 4.8 -.4 16.2 -2.2 22.7 -1.6 27.6 -.9 4.8 -1.6 4.9 -1.9 3.7 -3.3 4.3 -3.2 3.2 -4.9 3.6 -4.9 2.6 -6.4 2.2 -9.8 1.7 -35.6 3.3 -13 .2 -11.3 -.3 -22.7 -3.9 -17.8 -2.3 -8.1 -2.3 -3.3 -1.8 -3.2 -2.7 -3 -5 -.7 -4.9 4 -17.8 .4 -6.5 -.4 -4.9 -2.3 -9.7 -6.9 -17.8 -1.1 -8.1 .9 -6.5 1.8 -4.9 7.3 -12 2.7 -5.8 1.3 -6.5 -.6 -4.8 -1.8 -3 -2.8 -1.9 -3.7 -.5 -3.2 .7 -4.9 3 -11.3 11.5 -4.9 3.2 -4.8 2.3M113.4 -54.7l-6.5 2.6 -11.8 6.7 -15.7 7.6 -4.9 3.8 -3.2 4.8 -1.9 6.5 -1.2 9.7 -.8 13 -.2 24.3 -2.3 22.7 -1.2 6.5 -1.4 4.8 -1.4 3.3 -2.6 3.9 -3.2 3.3 -3.3 2.2 -3.2 1.6 -4.9 1.6 -6.4 1 -30.8 1.8 -19.5 .1 -27.5 -2.5 -6.5 -1.4 -4.8 -1.8 -4.9 -2.7 -2.7 -2.3 -3.8 -5.3 -3.8 -9.3 -6.7 -21 -1.4 -6.5 -.3 -4.9 .4 -6.4 1.6 -6.5 10.5 -25.9 2.1 -6.5 .5 -6.5 -.9 -4.9 -1.3 -3.2 -3.1 -4.9 -4.1 -3.5 -4.8 -2.2 -6.5 -1.5 -9.7 -.7 -11.4 .6 -4.8 1 -6.5 3.4M113.4 -81.1l-22.7 14 -6.4 2.8 -4.9 1 -4.9 -.6 -4.9 -2.5 -4.4 -4.9 -5.7 -11.3 -3.4 -4.9 -4.3 -3.3 -3.2 -1.2 -3.2 -.5 -4.9 .4 -4.9 1.1 -17.8 6.4 -6.5 1.1 -24.3 -1.8 -21 -6.2 -6.5 -1 -4.9 .1 -4.8 1.3 -3.3 1.8 -3.2 2.5 -9.7 9.2 -4.9 2.8 -4.9 1.5 -4.8 .6 -4.9 -.2 -17.8 -3.1 -9.7 -1.2M-21.1 -64.9l9.8 -.9 22.6 -.2 8.1 .6 8.1 1.6 8.1 2.6 6.5 3.6 4.9 4.4 4.3 6.2 2.9 8.1 4.3 25.9 .4 13 -.6 27.5 -3.2 15.3 -1.6 5.1 -1.7 3.3 -1.8 2.3 -3 2 -6.5 2 -19.4 1.2 -16.2 2.7 -6.5 .6 -16.2 -.4 -14.6 -1.5 -9.7 -2.4 -4.9 -2.3 -2.9 -1.9 -5.2 -5.5 -4.4 -7.5 -3.4 -8.1 -1.7 -6.5 -.6 -6.5 .4 -6.4 1.7 -8.1 3.6 -11.4 8.8 -21 2.8 -16.2 1.7 -6.5 2.6 -4.9 4.7 -4.3 6.5 -2.9 10.9 -2.5zM-3.2 -21.3l-3.3 2.4 -1.7 2.7 -1.2 4.9 .3 4.8 2.6 6.8 3.3 4.1 3.2 1.9 3.2 0 3.3 -2.1 2.5 -4.2 1.3 -4.9 .1 -6.4 -1.4 -4.9 -2.5 -3.6 -3.3 -1.9 -4.8 -.2zM-98.5 -113.4l-6.8 .7 -8.1 0M23.9 -113.4l-12 12.9 -5.4 3.2 -4.9 .6 -3.2 -.7 -2.6 -1.4 -1.6 -1.7 -1.9 -3.2 -2.1 -6.5 -2.3 -3.2M-24.3 -45.5l6.5 -.2 6.5 1.3 4.4 2.3 1.3 1.6 .4 1.6 -.8 3.3 -7 12.5 -1.7 5.3 -.7 4.8 .3 8.1 3.9 24.3 0 6.5 -.9 6.5 -1.3 3.2 -2.6 3.3 -3.4 2.1 -4.9 1.5 -6.5 .4 -6.5 -1.1 -4.8 -2 -4.9 -3.5 -3.4 -3.9 -3.1 -5.2 -1.6 -6.1 -.4 -6.5 .9 -9.7 3 -13 11.1 -25.1 3.2 -5.1 3.3 -3.2 4.8 -2.7 4.2 -1.2zM17.8 -42.4l4.9 -.7 4.8 .5 4.9 1.5 4.9 3.1 3.2 3.2 3.2 4.7 2.8 5.8 2.2 6.5 1.2 6.5 .2 8.1 -.9 9.7 -2.2 11.6 -1.6 5 -1.7 3 -3.2 3.3 -3.2 1.5 -4.9 -.2 -4.9 -2.7 -4.5 -5.3 -2.6 -6.5 -1.5 -8.1 -2.1 -24.3 -1.9 -8.1 -3.6 -11.3 .5 -3.3 1.6 -1.6 3.4 -1.6zM-29.2 -29.9l3.3 -.3 1.6 .9 1.8 3.4 .1 11.3 1.2 16.2 -.7 6.5 -1.5 4.9 -2.5 4.2 -3.3 2.9 -3.2 1.3 -3.2 .3 -3.3 -1 -1.6 -1.1 -2.9 -3.4 -1.5 -3.2 -.9 -3.3 -.5 -4.8 .6 -8.1 2 -6.6 3.2 -6.2 4.9 -7.6 3.1 -3.9 1.9 -1.7zM29.2 -23.3l1.6 -.3 3.2 1 3.2 3.2 1.7 3.3 .8 4.8 -.2 3.2 -1.9 4.9 -2 2.1 -1.6 .7 -1.6 0 -1.6 -.6 -2.1 -2.2 -2.3 -4.9 -1 -4.9 0 -3.2 .7 -3.2 2.2 -3.3z"/></g></g><use href="#hd"/></g><g transform="translate(664.0,1398.95)"><g transform="scale(1,1.0027)"><g clip-path="url(#disc)"><g filter="url(#sm)"><rect x="-112" y="-112" width="224" height="224" fill="#26ffd9"/><path fill="#40ffbf" d="M-111.8 -113.4l225.2 0 0 226.8 -196.8 0 -.9 -.8 -7.6 -8.9 -5 -8.1 -4.1 -9.7 -1.8 -8.1 -.5 -9.7 .7 -8.1 1.3 -3.3 4.1 -4.9 1.8 -3.2 1.6 -6.5 -.5 -6.5 -1.3 -1.5 -1.6 .2 -3.3 2.5 -2.7 3.7 -1.6 3.2 -2.2 9.8 -6.4 1.8 0 -168.7z"/><path fill="#59ffa6" d="M-111.8 -113.4l225.2 0 0 226.8 -180.5 0 -5.8 -5 -5.7 -6.3 -4.4 -6.5 -3.1 -6.5 -1.7 -6.5 -.3 -4.8 .4 -4.9 4.8 -19.4 .4 -13 1 -13 -1.1 -7.8 -2.3 -6.7 -2.6 -3.4 -1.6 -.5 -3.3 .5 -6.4 3.9 -14.6 12 0 -138.9zM85.7 -30.8l-1.4 1.2 -1 2.1 -.3 4.8 2.7 17.8 1.8 1.8 1.6 -.5 1.6 -2 1.7 -4.1 1.4 -6.5 0 -4.9 -1.1 -4.8 -2 -3.4 -2 -1.5 -2.8 -.1z"/><path fill="#73ff8c" d="M-111.8 -113.4l225.2 0 0 226.8 -162.2 0 -8.8 -4.8 -7.8 -6.5 -4.4 -4.9 -4.4 -6.5 -3.1 -6.4 -1.3 -4.9 -.4 -8.1 1.6 -16.2 0 -14.6 .7 -14.6 -1.5 -17.8 -1.3 -6.5 -1.5 -2.4 -3.3 -1.8 -3.2 -.3 -3.2 .7 -4.9 2.5 -9.7 7.4 -8.1 5.3 0 -126.4zM83.8 -43.7l-2.8 1.1 -1.6 1.9 -1.8 6.7 0 8.1 1.8 12.9 .6 11.4 1 3.3 3.3 3.8 3.2 1.7 3.2 .2 1.7 -.5 2.2 -2 3.1 -6.5 3.3 -13 .4 -4.8 -.4 -4.9 -2.2 -8.1 -3.2 -5.3 -4.9 -4.3 -3.2 -1.4 -3.2 -.4z"/><path fill="#8cff73" d="M-111.8 -113.4l225.2 0 0 226.8 -136.3 0 -17.6 -5.9 -6.5 -2.8 -6.5 -4 -5.8 -5.1 -4.3 -4.9 -4.4 -6.4 -2.3 -4.9 -1.8 -6.5 -1 -11.3 -.4 -51.9 -.8 -8.1 -1.9 -5.1 -3.2 -3.9 -3.2 -1.9 -3.3 -.8 -4.8 .3 -6.5 2.5 -9.7 7.3 -6.5 3.5 0 -116.9zM80.3 -53.5l-2.5 .4 -3.3 1.7 -1.6 2.6 -.6 3.4 .5 9.8 3.4 21 1.2 14.6 2 5.5 4.9 6.5 4.8 3.6 4.9 1.4 3.2 -.6 1.6 -1.1 1.7 -2.3 1.1 -3.3 1.6 -9.7 3.4 -11.3 .9 -4.9 0 -6.5 -.9 -6.5 -2.9 -8.4 -2.9 -4.5 -3 -3.3 -3.8 -3.1 -4.9 -2.8 -4.8 -1.7 -3.3 -.5z"/><path fill="#a6ff59" d="M-111.8 -113.4l225.2 0 0 83.4 -3.1 -8.9 -4.1 -6.5 -6.5 -6.4 -7.3 -4.8 -9.8 -3.5 -9.7 -1 -4.8 1.4 -1.7 1.4 -1.3 3.2 .6 6.5 7.5 30.8 2 17.8 1.7 6.5 2.5 5.6 4.9 7.5 13.5 14.4 4.7 6.5 2.8 6.5 6 21.1 .7 6.4 -.4 6.5 -1 4.9 -2.2 6.5 -3.5 6.4 -3.5 4.9 -4.6 4.9 -5.9 4.8 -64.3 0 -5.5 -.8 -14.6 -.2 -8.1 -.8 -11.4 -2.8 -25.9 -8.8 -9.7 -5.5 -7.5 -7 -5.2 -6.5 -3 -4.8 -2.1 -5.1 -1.7 -6.3 -1.7 -19.4 -.2 -40.5 -1.4 -8.1 -3 -6.5 -3.4 -3.7 -3.2 -2 -3.3 -1.1 -4.8 -.3 -4.9 .9 -4.8 1.6 -14.6 8.1 0 -107.2zM113.4 -10l0 23.6 -2.2 -7.1 -.7 -4.9 .5 -3.2 2.4 -8.1z"/><path fill="#bfff40" d="M-111.8 -113.4l225.2 0 0 66.7 -6.4 -6.8 -6.2 -4.8 -6.8 -3.8 -8.1 -2.9 -14.6 -3.7 -6.5 -.8 -3.2 .5 -1.6 1 -1.7 2.2 -.8 2.6 -.4 3.2 .7 4.9 7.5 17.8 4.9 16.2 1.6 8.1 1.6 14.6 1.4 6.5 4.6 12.3 8.8 16.9 3.6 8.1 2.9 11.3 .9 11.4 -.5 8.1 -2 8.1 -3.8 8.1 -4.9 6.4 -6.6 5.9 -6.5 3.7 -8.1 2.7 -6.5 .6 -8.1 -1.3 -13.8 -5.1 -5.9 -1.6 -6.2 -.5 -16.2 .7 -8.1 -.3 -11.4 -2.2 -14.5 -4.3 -9.8 -3.8 -6.4 -3.9 -6.5 -5.6 -8.1 -9.3 -3 -4.8 -1.9 -4.5 -2.3 -10.1 -1.1 -16.2 0 -35.7 -1.5 -9.7 -3.3 -8.1 -3.1 -4.1 -3.3 -2.5 -3.2 -1.4 -4.9 -.7 -4.8 .2 -6.5 1.1 -16.2 6 0 -97.4z"/><path fill="#d9ff26" d="M-111.8 -113.4l225.2 0 0 56.8 -6.5 -5 -8.1 -4.5 -6.4 -2.5 -16.2 -4.8 -14.6 -6.8 -3.3 -.8 -3.2 .1 -2.5 1.5 -1.8 3.2 -.6 3.3 0 4.8 1.7 9.8 1.6 4.8 8.7 16.2 5.3 14.6 2.4 9.7 3.3 24.3 3 11.8 7.6 23.9 1.3 6.5 .4 4.8 -.7 8.1 -1.5 6.5 -2.6 6.5 -4.5 7.2 -4.9 5.1 -5.6 3.9 -5.7 2.4 -6.5 1 -4.9 -.5 -14.6 -2.9 -6.5 -.7 -22.6 1.1 -8.1 -.2 -9.8 -1.4 -9.7 -2.2 -8.8 -3.1 -7.4 -4 -8.1 -6.6 -8.1 -8.7 -4.7 -8.2 -2.5 -9.8 -1.2 -21 .5 -21.1 -.3 -9.7 -2 -13 -1.3 -4.8 -2.1 -4.9 -2.6 -3.2 -3.2 -2.2 -3.3 -1.1 -4.8 -.6 -6.5 .1 -8.1 .9 -16.2 3.7 0 -88.3zM-46.9 -84.3l-3.3 1.3 -2.6 2 -2.6 4.8 -1.5 6.5 -1 9.7 .1 4.9 1.1 4.4 1.6 2.4 1.6 1.3 3.3 1.3 19.4 .9 4.9 1.7 3.2 2.6 2.4 3.2 2.5 5.7 5.7 17 3.9 14.6 1.7 2.1 1.6 .8 1.7 .1 1.6 -.8 1.6 -2.2 0 -3.2 -1.5 -9.8 1.4 -14.5 -3.1 -7.4 -8.7 -13.7 -5.9 -17.8 -5.5 -8.1 -5.9 -5.2 -8.1 -3.9 -4.8 -1 -3.3 .1z"/><path fill="#f2ff0d" d="M-111.8 -113.4l225.2 0 0 48.1 -6.5 -3.7 -6.4 -2.9 -21.1 -6.1 -4.9 -2.9 -9.7 -7.1 -6.5 -2.7 -4.8 -.4 -4.9 1.6 -4 3.6 -2.2 4.9 -.3 3.2 .6 4.9 3.8 11.3 3.4 8.1 6.9 11.4 4.1 8.1 4.5 11.3 2.6 9.7 4.4 35.7 4.4 29.1 -.6 8.2 -1.4 4.8 -2.1 4.9 -3.1 4.8 -4.8 5.1 -4.8 3.3 -6.5 2.5 -6.5 1 -19.5 .3 -25.9 1.9 -14.6 -.9 -12.9 -3 -8.1 -3.9 -11.4 -8.8 -8.1 -8.6 -3.7 -6.7 -1.5 -6.5 -1.4 -17.8 .6 -25.9 -.9 -30.8 .4 -3.4 1.2 -3.1 1.4 -1.6 2.7 -1.6 6.1 -1.7 8.1 -.7 6.5 .8 4.8 2 4.9 4.4 3.8 6.5 3.7 9.7 3.8 15.2 2.2 4.3 2.7 2.3 3.2 .6 3.3 -1.1 3.3 -3.4 1.3 -3.3 .4 -3.2 -1.2 -13 .6 -12.9 -1.2 -6.3 -4.4 -14.8 -2.8 -16.2 -1.8 -4.9 -2.1 -3.2 -5.1 -4.9 -9.7 -7.7 -6.5 -4.1 -4.8 -2.3 -4.9 -1.5 -4.9 -.5 -4.8 .9 -3.3 1.4 -3.2 2.5 -2.6 3.2 -2.4 4.9 -2.1 9.7 -1.9 24.3 -.7 3.4 -1.7 3.1 -3.2 2 -4.9 1.2 -25.9 1.9 -11.3 1.4 0 -79.4z"/><path fill="#fff200" d="M-111.8 -113.4l225.2 0 0 39.7 -11.3 -4.8 -19.5 -5.7 -3.2 -2 -13 -10.6 -4.8 -2.5 -4.9 -1.4 -6.5 .1 -4.8 1.8 -4.9 3.5 -4.7 6.2 -2 4.8 -.5 3.3 .4 3.2 1.2 3.3 11.7 21 11 17.9 5.2 11.3 3.1 9.7 1.7 9.7 1.2 19.5 .4 29.1 -.8 9.8 -2.2 6.5 -3 5 -4.9 4.9 -6.5 3.8 -4.8 1.6 -6.5 1.4 -27.5 4.2 -11.4 .7 -14.6 -.8 -11.3 -2.7 -9.2 -5.2 -13.5 -10.7 -3.6 -3.9 -2.9 -4.8 -1.2 -6.5 -2.1 -21.1 .9 -14.6 0 -19.4 1 -8.1 1.4 -4.6 2.3 -3.5 2.6 -2.3 4.9 -2 4.8 -.6 4.9 .8 4.8 2.6 3.3 3.4 4.9 9.4 2 6.5 2.8 13.7 1.6 4 1.6 2.1 3.3 2 4.8 .1 4.9 -2.7 3.2 -4 1.7 -3.8 .8 -4.9 -.9 -14.6 .4 -12.9 -2.9 -22.7 .3 -17.9 -.5 -3.2 -1.3 -3.2 -2.7 -3.3 -11.1 -6.7 -14.5 -10.9 -6.5 -3.9 -4.9 -2 -4.8 -1 -4.9 -.1 -3.2 .6 -4.9 2.2 -3.3 2.4 -3.2 3.7 -3.2 5.8 -1.7 5.1 -1.3 6.4 -2.2 21.1 -1.6 4.9 -2.4 3.2 -3.8 2.4 -6.5 1.5 -27.5 -.3 0 -70z"/><path fill="#ffd900" d="M-111.8 -113.4l225.2 0 0 30.9 -21 -7.6 -4.9 -2.2 -16.2 -12.2 -6.5 -3.7 -6.5 -2.2 -4.8 -.5 -4.9 .4 -3.2 .9 -4.9 2.4 -3.2 2.4 -5.4 6 -8.4 12.9 -3.3 6.5 -.1 1.6 .8 1.6 11.5 9.1 6.5 7.4 15.3 22.4 5.1 9.8 3.4 8.1 2.6 9.7 1.1 9.7 .1 14.6 -1.3 12.9 -2.2 14.6 -2.1 8.1 -3.3 6.5 -4.9 4.9 -4.1 2.5 -4.9 2 -22.6 6.3 -9.8 2 -9.7 .6 -12.9 -1.2 -9.8 -3.3 -4.8 -2.8 -14.6 -10.4 -5.7 -5.5 -2.4 -5.6 -3.7 -18.7 .8 -14.5 0 -17.9 1.5 -8.1 1.4 -3.2 2.6 -3.2 2.3 -1.7 3.2 -1.2 3.2 -.2 3.3 .8 3.2 1.8 2.2 2.1 2.7 3.8 1.9 4.3 2.5 9.7 .9 14.6 1.2 3.9 1.6 2.2 1.6 1.1 3.1 .9 5 -.2 4.9 -1.6 4.8 -3.7 3.8 -5.9 2.2 -8.1 -.9 -53.4 1.4 -8.1 5.8 -14.6 .1 -3.3 -1.4 -1.6 -5.3 -3.2 -12.2 -5.1 -5.6 -3 -4.3 -3.3 -12.7 -11.3 -6.5 -4.3 -8.1 -3 -4.9 -.5 -4.8 .3 -6.5 2.1 -4.9 3.2 -4.9 5 -3.2 5.3 -3.2 9.7 -3.8 27.6 -1 3.2 -1.1 1.6 -3.9 2.1 -4.8 .4 -17.8 -2.5 -6.5 -.2 0 -59.7z"/><path fill="#ffbf00" d="M-111.8 -113.4l42.6 0 -6.1 6.5 -4.5 8.1 -2.2 6.4 -3.1 14.6 -3.1 8.1 -2.5 3.3 -1.7 1 -3.2 .8 -3.2 .1 -14.6 -.8 0 -48.1zM-25.9 -113.4l58.1 0 -4.7 5.2 -6.4 11 -4 4.8 -4.1 2.8 -3.3 1 -3.2 .1 -8.1 -1.6 -7.2 -3.9 -4.8 -4.8 -7.5 -9.6 -5.1 -5zM76.2 -113.4l37.2 0 0 21.1 -19.4 -8.6 -18.4 -12.5zM19.4 -63.4l4.9 -.8 4.9 1.4 4.8 3.3 4.9 5.1 9.7 12.5 5.1 7.9 6.6 12.9 3.1 9.8 1.2 8.1 .2 9.7 -.8 9.7 -1.8 8.1 -3.9 12.7 -3.5 8.4 -4.6 6.4 -4.8 3.5 -30.8 11.9 -8.1 1.3 -9.7 -.5 -8.1 -2.4 -6.5 -4.3 -4.9 -6.2 -5.6 -11.4 .2 -3.2 1.4 -1.6 8.6 -4.9 16.5 -7.5 4.8 -4.2 3.3 -5.2 2 -5.8 1.2 -8.1 -.9 -21 .6 -21.1 .7 -8.1 1.2 -5.2 1.9 -4.5 3 -4.3 2.9 -2.2zM-40.5 -14.9l1.6 -.6 3.3 -.1 2.6 1 2 1.6 3.5 5.9 1.8 7.1 -.9 6.5 -2.6 7.2 -8.1 14.3 -1.6 .8 -1.6 -.8 -2.2 -3.7 -1 -3.8 -2.6 -17.3 0 -6.4 .8 -4.9 1.8 -3.7 2.8 -2.8z"/><path fill="#ffa600" d="M-111.8 -113.4l27.5 0 -4.4 6.5 -7.7 14.5 -3.3 4.9 -2.4 2.3 -3.2 2 -8.1 2.4 0 -32.6zM-9.7 -113.4l28 0 -3 9.7 -2.7 4.9 -4.5 3.5 -4.9 1 -4.8 -1.1 -4.5 -3.4 -2.6 -4.9 -2.5 -9.7zM95.6 -113.4l17.8 0 0 9.7 -18.1 -9.7zM24.3 -58.4l4.9 .8 3.2 1.8 3.2 2.6 9.8 10.7 7.9 11.7 5.8 11.4 2.7 8.1 1.4 9.7 -.5 11.3 -1.6 8.1 -2.8 7.6 -6.5 12.4 -4.8 5.9 -6.5 4.5 -13 5 -11.3 6.2 -6.5 2.2 -8.1 .2 -4.8 -1.2 -3.3 -1.7 -2.8 -2.2 -2.4 -3.2 -1.3 -3.3 -.2 -3.2 .7 -3.3 1.9 -3.2 3.1 -3.2 11.3 -8.1 2.8 -3.3 2.4 -4.8 1.7 -6.5 .8 -6.5 -.9 -27.5 .9 -14.6 1 -8.1 1.8 -6.5 2.6 -4.9 3.2 -3.2 4 -1.6z"/><path fill="#ff8c00" d="M-111.8 -113.4l9.2 0 -6 5.9 -4.8 3.9 0 -9.8zM25.9 -53.5l4.9 1.3 8.1 6.2 7.9 8.7 5.3 8.1 5.3 9.8 2.8 8.1 1.5 9.7 -.6 9.7 -1.5 6.5 -2.9 6.9 -6.5 9.9 -4.8 5.2 -3.3 2.4 -4.8 2.5 -14.6 5.1 -9.7 6.2 -4.9 1.9 -4.9 .1 -3.3 -1.3 -3.3 -3.3 -.7 -3.2 .9 -3.1 1.1 -1.8 10.2 -8.2 2.4 -3.1 1.5 -3.3 1.1 -4.8 .6 -8.1 -.1 -9.7 -1.3 -21.1 1.3 -17.8 2 -8.1 2.2 -5.1 3.3 -4 1.6 -1.2 3.2 -1.1z"/><path fill="#ff7300" d="M24.3 -47.7l3.2 -.8 4.9 1.4 4.9 3.2 6.4 6.2 4.9 6.3 5.3 8.7 3.1 6.5 2 6.5 1 6.5 0 6.4 -1.2 6.5 -1.7 4.9 -2.5 4.8 -4.4 5.9 -3.2 3.3 -4.9 3.6 -3.2 1.6 -4.9 1.4 -4.8 .4 -3.3 -.3 -3.2 -1.3 -1.6 -1.4 -2.3 -5.1 -1.7 -9.7 -2.5 -22.7 -.5 -16.2 1 -9.7 1.7 -6.5 2.6 -5.7 3.8 -4z"/><path fill="#ff5900" d="M27.5 -44l3.3 .2 4.8 2.1 4.9 3.8 4.9 5.3 4.8 7 4.4 7.8 2.4 6.5 1.3 6.4 .2 6.5 -.8 4.9 -1.6 4.8 -2.6 5.1 -3.3 4.2 -4.8 4.3 -3.3 2 -4.8 1.7 -4.9 .3 -3.2 -.8 -3.3 -2 -1.8 -1.8 -2 -3.2 -2 -4.9 -3 -14.6 -1.5 -16.2 .3 -8.1 .9 -6.5 2 -6.4 2.3 -4.1 3.2 -3.1 2.2 -.9z"/><path fill="#ff4000" d="M25.9 -39.5l3.3 -.8 3.2 .4 3.2 1.4 4.9 3.6 4.9 5.3 4.7 6.9 3.4 6.2 1.9 5.2 1.6 9.7 -.4 4.8 -1.4 4.9 -1.7 3.7 -3.3 4.6 -6.5 5.3 -4.8 1.9 -3.3 .3 -3.2 -.4 -3.2 -1.4 -3.2 -2.7 -1.7 -2.2 -3.3 -7.5 -1.7 -6.5 -1.5 -9.3 -.4 -15 1 -6.4 1.5 -4.9 2.8 -4.5 2.3 -2z"/><path fill="#ff2600" d="M25.9 -35.7l3.3 -1.2 3.2 .2 3.2 1.3 3.3 2.1 4.3 4.1 3.8 4.8 3.2 5.1 3 6.3 1.9 8.1 .2 4.9 -.6 3.2 -1.2 3.7 -2.5 4.4 -2.4 2.9 -3.2 2.6 -3.3 1.8 -3.2 .9 -3.3 .2 -3.2 -.8 -3.2 -1.8 -2.6 -2.5 -3.9 -7.1 -1.8 -5.9 -1.2 -6.5 -.7 -8.1 .1 -6.4 .5 -4.9 1.5 -5.2 1.6 -3 3.1 -3.1z"/><path fill="#ff0d00" d="M27.5 -33.1l3.3 -.7 3.2 .6 3.3 1.7 3.2 2.5 6.6 7.9 2.9 4.9 2 4.9 1.6 8.1 -.1 3.2 -.8 3.2 -3.6 6.5 -5.4 4.5 -3.2 1.3 -3.2 .4 -4.9 -1.1 -4.9 -3.9 -4.1 -7.7 -2.4 -11.3 -.1 -11.3 1.7 -8.1 1.7 -3 2.1 -1.9z"/><path fill="#f20000" d="M27.5 -29.7l1.7 -.7 3.2 -.1 4.9 2 6.4 6 5.2 7.9 2.5 8.1 0 6.5 -1.9 4.9 -4.1 4.8 -4.9 2.4 -3.2 .3 -3.3 -.7 -4.8 -3.3 -3.3 -4.8 -2.6 -8.5 -.8 -9.7 1.3 -9.7 1.5 -3.2 1.5 -1.7z"/><path fill="#d90000" d="M29.2 -26.8l1.6 -.4 3.2 .3 4.9 2.6 4.8 5 3.9 6.3 1.8 6.5 0 4.9 -1.8 4.8 -3.9 4 -3.2 1.4 -4.9 .1 -4.8 -2.8 -3.3 -4.3 -2.2 -6.5 -.9 -8.1 1.1 -8.1 2.4 -4.8z"/><path fill="#bf0000" d="M30.8 -23l3.2 -.3 4.9 2.3 3.3 3.2 3.2 4.9 1.6 4.8 .1 4.9 -1.7 4.6 -3.3 3 -3.2 1 -4.9 -1 -3.2 -2.6 -2.2 -3.4 -1.5 -4.9 -.4 -6.5 1.3 -6.4 2.3 -3.3z"/><path fill="#a60000" d="M32.4 -18.6l1.6 -.5 3.3 .8 3.2 2.4 2.2 2.9 1.4 3.3 .5 3.2 -.5 3.3 -2 3.2 -3.2 1.6 -3.3 -.4 -3.2 -2.2 -1.6 -2.2 -1.2 -3.3 -.5 -4.8 .6 -3.3 1.8 -3.2z"/><path fill="#8c0000" d="M34 -13.4l1.6 -.7 1.7 .3 2.8 2.5 1.1 3.2 -.7 3.3 -1.6 1.5 -1.6 .3 -1.7 -.5 -1.6 -1.3 -.9 -1.7 -.6 -3.2 1.1 -3.3z"/></g><path fill="none" stroke="#000" stroke-width="1.35" d="M-18.9 113.4l-21.6 -7.4 -9.7 -4.8 -5.3 -4 -4.9 -4.8 -4.4 -5.7 -3.4 -5.7 -2.8 -8.1 -1.1 -8.1 -.7 -22.7 .3 -21 -.6 -16.2 -1.4 -6.7 -1.5 -3.1 -1.8 -2.3 -3.2 -2.5 -3.3 -1.3 -3.2 -.4 -4.9 .7 -6.4 3 -9.8 7 -4.8 2.6M74.5 -53.6l-1.6 1.3 -1.1 2.1 -.7 3.2 .1 3.3 1.7 12.9 2.8 16.2 1.1 13 1 4.6 3.2 6.3 3.3 3.9 3.2 2.8 3.2 1.9 3.3 1.1 3.2 .1 1.6 -.5 2.6 -2.4 1.3 -3.2 1.6 -13 4.1 -14.6 .3 -8.1 -1.7 -9.7 -1.9 -4.9 -2.9 -4.8 -2.8 -3.3 -3.8 -3.3 -4.9 -3.1 -4.8 -2 -4.9 -1 -4.8 .4zM113.4 -60.2l-6.5 -4.5 -6.4 -3.3 -6.5 -2.5 -16.2 -4.7 -13 -7.3 -4.8 -2.2 -4.9 -.7 -3.3 .9 -2.3 1.9 -2 3.2 -.6 3.2 .1 4.9 3.1 13 1.9 4.8 6.3 10.8 3.5 7.1 3.8 9.7 2.4 8.1 1.4 6.5 1.8 16.2 1.7 10.2 3.3 14.7 4.5 17.2 1.2 8.1 -.4 6.5 -1.4 6.5 -2.3 6 -3.3 5.7 -3.6 4.5 -4.5 3.9 -4.8 2.9 -6.5 2 -6.5 .3 -21.1 -1.9 -22.6 1.4 -13 -.6 -9.7 -1.6 -8.1 -2.1 -6.5 -2.7 -6.5 -3.9 -8.1 -6.8 -6.5 -6.8 -4.3 -6.8 -2.2 -5.8 -1.1 -7.2 -1 -16.2 .5 -24.3 -.5 -11.3 -2.3 -16.2 -1.4 -4.9 -1.5 -3.2 -1.3 -1.7 -2.7 -1.7 -4.9 -1.3 -4.8 -.3 -16.2 .9 -16.2 2.9M-48.6 -88l-3.2 1.4 -3.3 2.7 -2 2.9 -1.8 4.8 -1.3 8.1 -.8 9.8 .3 6.5 1.1 4.8 2.2 3.3 2.6 1.6 4.6 .8 11.3 0 4.9 .6 4.8 1.5 4.8 3.6 3.3 4.5 3.8 8.4 3.3 9.7 2.7 11.3 1.2 3.3 2 2.8 1.6 1.1 3.3 .2 1.6 -.8 1.6 -1.4 1.6 -3.5 0 -3.2 -1.3 -11.4 .9 -12.9 -1.2 -4.8 -7.1 -16.3 -5.4 -17.8 -2.1 -3.8 -3.5 -4.3 -5 -4.9 -4.4 -3.4 -4.9 -2.7 -4.9 -2 -4.8 -1 -4.9 .1zM-63.3 -113.4l-4.3 3.2 -3.7 3.8 -3 4.3 -2.5 4.9 -2.1 6.5 -4.5 22.6 -.9 3.3 -1.6 3.3 -1.6 1.5 -1.6 .7 -3.3 .4 -21 -2.1M38.3 -113.4l-4.3 3.1 -3.2 3.4 -8.1 12.3 -3.3 4 -4.8 3.7 -4.9 .9 -4.8 -.5 -4.9 -1.2 -4.9 -1.9 -3.2 -1.8 -5.2 -4.2 -11 -11.9 -7.8 -5.9M113.4 -88.6l-14.6 -5.8 -6.4 -3 -5 -3.1 -12.9 -9.4 -6.1 -3.5M21.1 -66.8l3.2 0 3.2 1 3.3 1.8 3.2 2.6 6.5 7.4 13 18.1 6.5 12.6 3.1 8.7 1.9 9.7 .4 13 -1.3 13 -3.4 14.5 -3.1 9.8 -2.3 4.8 -1.8 2.7 -4.3 3.8 -5.5 2.9 -27.5 9.5 -6.5 1.4 -8.1 .4 -8.1 -.9 -6.5 -1.9 -3.4 -1.7 -4.7 -3.2 -8.1 -8.6 -9.9 -7.6 -2.5 -3.3 -1.6 -3.2 -3.9 -11.3 -.6 -4.9 0 -9.7 -.8 -16.2 1.3 -8.1 2.5 -4.9 2.6 -2.2 2.3 -1 2.5 -.4 3.3 .7 3.2 2.1 3.1 4.1 2.1 4.8 1.3 4.9 .2 3.2 -.4 4.9 -3.5 17.8 .5 3.2 1.6 1.6 3.2 .8 8.1 -1 9.7 -3 3.3 -1.7 3.2 -2.7 2.9 -3.7 2 -3.7 1.4 -4.4 .9 -4.8 .2 -6.5 -.8 -16.2 .3 -24.3 .9 -8.1 1.2 -4.9 2.4 -5.2 3.2 -4.1 3.3 -2zM25.9 -48.9l3.3 .1 4.8 2.2 6.5 5.1 5.3 5.9 4.4 6.3 5.6 9.9 2.5 6.4 1.8 8.1 .2 6.5 -.9 6.5 -2 6.5 -2.3 4.7 -3.3 4.7 -4.8 5.3 -4.9 3.7 -4.8 2.2 -8.1 1.4 -3.3 -.1 -3.3 -.9 -1.5 -.8 -1.7 -2 -1.7 -6.9 -3.7 -35.6 -.2 -8.1 .4 -8.1 1.4 -8.1 2.2 -6.8 3.3 -5 1.6 -1.5 2.4 -1.3zM27.5 -36.1l3.3 -.4 3.2 .7 3.3 1.7 3.2 2.5 3.8 4.1 4.3 5.9 3 5.4 1.9 4.9 1.2 4.8 .5 4.9 -1.2 6.5 -1.4 3.2 -2.4 3.7 -3.2 3.4 -3.3 2.2 -3.2 1.3 -3.2 .5 -3.3 -.3 -3.2 -1.3 -3.3 -2.6 -1.6 -2 -1.9 -3.3 -2 -4.8 -1.6 -6.5 -.9 -6.5 -.4 -6.5 .3 -6.8 .8 -4.5 1.8 -4.9 2.3 -3.2 2.4 -1.6zM32.4 -26l4.9 1.8 4.8 4.1 3.9 5.5 2.4 6.5 .2 6 -1.6 4.4 -3.3 3.5 -1.6 1 -3.2 .9 -3.3 -.3 -1.6 -.6 -3.2 -2.3 -3.1 -4.5 -1.7 -4.9 -.8 -6.4 .8 -8.1 2.2 -4.9 1 -.9 2.3 -.7z"/></g></g><use href="#hd"/></g><g transform="translate(1081.0,1398.95)"><g transform="scale(1,1.0027)"><g clip-path="url(#disc)"><g filter="url(#sm)"><rect x="-112" y="-112" width="224" height="224" fill="#00bfff"/><path fill="#00d9ff" d="M-111.8 -113.4l225.2 0 0 226.8 -226.8 0 0 -226.8zM35.9 -16.2l-1.9 1.6 -.8 1.6 -1 4.9 1.8 6.4 1.6 2.7 1.7 1.3 1.6 -.7 1.6 -2.4 1.4 -4.1 .4 -3.2 -.5 -3.2 -1.3 -3 -1.6 -1.9 -1.6 -.4z"/><path fill="#00f2ff" d="M-111.8 -113.4l225.2 0 0 226.8 -226.8 0 0 -226.8zM34 -19.4l-1.8 1.6 -2.1 3.2 -.9 3.3 0 4.8 3 11.4 1.6 3.2 1.8 1.8 3.3 .5 2.7 -2.3 1.3 -3.2 1.9 -9.8 .2 -4.8 -1.2 -4.9 -1.8 -3.2 -3.1 -2.5 -3.3 .1z"/><path fill="#0dfff2" d="M-111.8 -113.4l225.2 0 0 226.8 -226.8 0 0 -226.8zM34.5 -22.7l-3.7 2.5 -3 4 -1.5 4.9 .1 4.8 2.8 13 1.6 3.7 1.6 2 3.2 1.9 3.3 .3 1.6 -.5 3.2 -2.6 1.7 -3.6 1.8 -12.6 -.1 -6.4 -1.7 -5.5 -3.1 -4.3 -3.4 -1.9 -3.3 -.1z"/><path fill="#26ffd9" d="M-111.8 -113.4l225.2 0 0 226.8 -226.8 0 0 -226.8zM32.1 -24.3l-5.3 4.9 -1.9 3.2 -1 3.2 -.3 6.5 2.4 13 .9 3.2 1.8 3.3 3.7 3.6 4.9 1.6 4.8 -.9 3.3 -2.7 2.5 -4.9 1.6 -16.2 -.4 -6.5 -2.8 -6.4 -4.2 -4.6 -4.8 -1.7 -4.9 1.2z"/><path fill="#40ffbf" d="M-111.8 -113.4l225.2 0 0 226.8 -226.8 0 0 -226.8zM32.8 -27.5l-3.6 2.2 -4.4 4.2 -2 3.3 -1.3 3.2 -.7 8.1 1.9 13 2.1 6.5 2 3.2 2.4 2.4 3.2 2.2 3.2 1.2 3.3 .3 3.2 -.6 4.9 -3.3 1.7 -2.2 1.5 -3.2 .9 -4.9 .5 -19.4 -2.1 -6.5 -4.6 -6.5 -2.8 -2.3 -3.2 -1.4 -4.9 0z"/><path fill="#59ffa6" d="M-111.8 -113.4l225.2 0 0 226.8 -226.8 0 0 -226.8zM33 -30.8l-3.8 2 -4.9 4.2 -2.9 3.5 -2 4 -1.1 4.1 -.4 4.9 1.5 14.6 2.2 8.1 1.8 3.2 2.7 3.3 4.7 3.6 3.2 1.8 3.3 .9 4.8 -.4 3.3 -1.5 3.5 -2.8 2.9 -3.7 2 -4.4 .5 -4.9 -.8 -9.7 .7 -6.5 -.2 -4.8 -1.4 -4.9 -1.7 -3.2 -5.5 -7.4 -4.9 -3.4 -3.2 -1 -3.3 .1zM88.7 47l-4.1 3.2 -2 4.3 -.3 3.8 2 4.4 4.7 3.7 5 1.9 6.5 .7 5.1 -.9 2.8 -1.7 1.4 -1.6 .9 -3.2 -.7 -3.3 -3 -4.8 -3.3 -3.5 -4.9 -2.9 -4.8 -1 -4.9 .7z"/><path fill="#73ff8c" d="M-111.8 -113.4l225.2 0 0 149.1 -19.4 -3.6 -8.1 -.1 -4.9 1.1 -4.8 2.7 -6.1 6.3 -3.8 6.5 -1.5 6.5 .9 4.9 1.7 3.2 2.6 3.2 3.6 3.3 9.7 6.5 6.2 4.8 23.9 22.4 0 10 -226.8 0 0 -226.8zM31.2 -34l-3.7 2 -6.3 6.1 -2.4 3.2 -2.2 4.9 -1.2 4.8 -.4 4.9 1.4 17.8 1.6 6.5 2.2 4.9 10.6 12.4 3.2 2.8 3.3 1.4 4.8 -.3 3.3 -1.5 3.2 -2.7 6.9 -8.9 2.6 -4.9 .8 -6.4 -2.1 -13 0 -9.7 -1.1 -4.9 -2.3 -4.8 -8 -10.5 -3.3 -2.6 -3.2 -1.5 -3.3 -.7 -3.2 .3zM17.4 55.1l-7.7 3.1 -4 3.4 -2 3.2 -1.1 3.3 -.4 3.2 .5 3.2 2.2 3.5 4.8 2.5 8.1 1 8.1 -1 4.9 -3.1 2.4 -2.9 1.8 -3.2 1.5 -6.5 -.8 -4.8 -2.1 -3.3 -1.9 -1.6 -2.5 -1.2 -4.9 -.3 -6.5 1.4z"/><path fill="#8cff73" d="M-111.8 -113.4l225.2 0 0 135.6 -9.7 -.4 -27.5 -2.9 -3.3 -.7 -3.2 -1.8 -3.3 -4.1 -3.4 -7.4 -1.5 -4.9 -1.8 -11.3 -1.8 -4.9 -2.9 -4.9 -6.4 -8.7 -4.9 -5.1 -4.8 -3.1 -4.9 -1.2 -4.8 .8 -4.9 3.2 -5.4 6 -3.9 6.5 -2.1 6.5 -.8 8.1 .3 11.3 .8 11.4 2.7 14.6 -.5 4.8 -1.7 3.3 -2.4 2.6 -11.6 8.7 -4.8 4.9 -3.2 4.8 -2.4 4.9 -3 9.7 -.5 6.5 1.5 6.5 3.2 4.8 3 2.6 3.3 1.9 4.8 1.6 6.5 1 21.1 -.5 9.7 1.2 6.5 2.3 9.7 7 9.7 2.8 5.5 2.8 -183.7 0 0 -226.8z"/><path fill="#a6ff59" d="M-111.8 -113.4l225.2 0 0 122.9 -8.1 1.1 -9.7 -.5 -13 -2.1 -8.1 -3 -3.2 -2.4 -2.3 -2.6 -8.7 -17.8 -11.7 -16.1 -4.9 -5.5 -4.8 -3.8 -4.9 -2.1 -4.8 -.2 -4.9 2.2 -3.2 3.1 -4.9 6.8 -3.8 7.5 -2.1 6.5 -1.3 9.7 -.4 30.8 -.8 4.8 -1.1 3.3 -3.5 5.2 -12.9 12.3 -5.4 6.8 -6.7 12.9 -5.1 14.6 -.6 9.7 .8 4.9 1.7 4.9 2.3 3.8 3.3 3.8 3.2 2.7 4.6 2.6 -101.8 0 0 -226.8zM-89.4 -55.1l-3.3 3.3 -1.6 4.8 0 6.5 1.7 6.5 1.9 3.6 3.2 3.3 3.2 1 4.9 -1 3.2 -2.5 2.1 -4.4 .2 -4.9 -1.6 -6.5 -2.3 -4.9 -3.2 -3.8 -4.9 -1.7 -3.2 .5z"/><path fill="#bfff40" d="M-111.8 -113.4l225.2 0 0 104 -4.9 4.5 -3.2 1.7 -3.2 .7 -6.5 .3 -6.5 -.5 -6.5 -1.1 -4.8 -1.7 -4.9 -3 -3.2 -3.2 -13.4 -15.8 -9.3 -14 -8.1 -9.3 -4.9 -3.4 -3.2 -1.4 -4.9 -.1 -3.2 1.5 -3.3 3.3 -3.2 5.2 -4.9 10.8 -3.2 9.2 -2 11.1 -1.4 25.9 -1.5 7.9 -1.8 5.1 -4.5 6.5 -13.1 12.7 -6.3 8.3 -22.9 42.3 -12.4 19.3 -55.6 0 0 -226.8zM-100 -71.3l-3.7 3.3 -1.8 3.2 -.9 3.2 -.6 11.4 1.2 8.1 7.9 22.7 2.3 4.4 1.8 2 3.1 1.6 3.2 0 3.2 -1.2 4.9 -3.2 4.9 -4.4 3.2 -3.9 2 -3.4 1.3 -3.3 .8 -4.8 -.2 -4.9 -.9 -4.9 -2.2 -6.4 -2.4 -4.8 -3.3 -4.6 -4.8 -5.1 -4.9 -3.6 -4.8 -2.2 -4.9 -.5 -3.2 .7z"/><path fill="#d9ff26" d="M-111.8 -113.4l225.2 0 0 81.6 -6.5 5.2 -7 7.2 -5.9 3.5 -3.3 1.1 -4.8 .6 -4.9 -.3 -4.8 -1.4 -8.1 -4.8 -4.9 -4.2 -4.9 -5.1 -4.6 -7.3 -10 -18.7 -4.8 -6.8 -3.3 -3.3 -4.8 -3 -4.9 -1.4 -4.8 .2 -3.3 1.5 -3.2 3.7 -2.2 5.1 -7.7 30.8 -1.6 9.8 -1.7 25.9 -2 8.1 -2.6 6.1 -4.9 6.4 -11.1 10.2 -4.4 4.8 -5.6 7.9 -9.7 15.7 -6.5 8 -4.8 4.3 -4.9 3.1 -4.9 1.9 -6.4 1 -4.9 -.5 -6.5 -2.1 -9.7 -4.9 -7 -5.2 -5.9 -6.5 -4.2 -6.5 -4.6 -9.7 -2.2 -6.5 -1 -6.5 1.5 -4.8 2.8 -3.3 9.3 -5.9 4.8 -4.4 13 -16.1 16.4 -25.4 2.2 -6.5 .5 -6.5 -1.4 -9.7 -3.1 -9.6 -3.4 -6.6 -11.2 -18.2 -8.1 -9.8 -8.1 -7.2 -8.1 -4.5 -4.9 -1.2 -3.2 -.1 0 -9.2z"/><path fill="#f2ff0d" d="M-71.3 -113.4l40.8 0 4.6 8.1 5.1 11.3 2.8 4.9 11.5 11.6 4.9 6.4 2.7 6.3 1.6 9.7 -.1 11.4 -2.7 17.8 -1.4 25.9 -1.7 8.1 -2.5 6.5 -2.4 4 -3.2 3.9 -11.7 9.9 -4.7 4.9 -5.1 6.4 -9.3 13.9 -3.4 4 -3.1 2.8 -4.9 2.9 -3.2 1 -4.9 .5 -4.2 -.7 -3.9 -1.7 -5.9 -4.8 -2.3 -3.3 -2.4 -4.8 -1.5 -4.9 -.7 -4.9 .7 -9.7 3.2 -16.2 1.8 -6.5 6.7 -16.2 10.9 -19.4 1.2 -3.2 .7 -4.9 -.4 -9.7 -2.1 -11.4 -2.9 -8.1 -7.4 -16.2 -3.6 -12.9 -.9 -6.5 0 -6.5 .8 -4.9 1.6 -4.8zM56.7 -113.4l56.7 0 0 67.8 -8.8 10 -9 8.2 -6.5 3.4 -8.1 1.2 -6.5 -.7 -4.8 -1.9 -4.9 -3.2 -4.8 -5.1 -5.5 -10 -6.6 -21.1 -2.4 -13 -.1 -6.5 .6 -4.8 2.6 -8.1 7.7 -16.2z"/><path fill="#fff200" d="M82.6 -112.4l2.3 -1 20.3 0 4.6 3.2 3.6 4.4 0 38.1 -7.2 15.9 -4.4 8.1 -4.9 6.4 -6.2 5.2 -6.4 2.6 -6.5 .6 -6.5 -1.1 -4.9 -2.8 -4.3 -4.5 -3.4 -6.4 -1.9 -6.5 -1.5 -9.8 -.3 -6.4 .7 -6.5 2.6 -9.5 3.3 -7.8 4.3 -7 5.4 -6.4 4.9 -4.5 5.4 -3.7zM-53.5 -99.1l3.3 -.2 3.2 .6 4.9 2.7 3.8 3.6 6.8 9.8 3 3.2 12.3 7.2 5 4.1 3.7 4.9 2.6 5.9 1.6 7.1 .6 8.1 -2.4 38.9 -1.5 8.1 -2.6 6.4 -5.4 7.4 -15.2 12.1 -9.2 9.7 -9.6 12 -4.9 3.6 -3.2 .5 -3.3 -.6 -3.2 -2 -3.2 -3.9 -2.1 -4.7 -1.2 -4.9 -.9 -14.6 .6 -11.3 2.5 -11.4 3.7 -9.7 8.8 -16.2 1.9 -6.5 .1 -9.7 -1.6 -14.6 -2.1 -8.5 -5.5 -14.2 -1.3 -8.1 .6 -4.8 2.1 -4.9 2.5 -2.8 4 -2z"/><path fill="#ffd900" d="M81 -91.2l6.5 -.8 3.2 .7 3.3 1.7 2.2 2.1 2.1 3.2 1.1 3.3 .8 4.8 -.1 6.5 -.8 6.5 -1.9 9.7 -1.9 6.5 -2.6 4.9 -2.2 2.5 -3.2 2.8 -3.2 1.6 -3.3 .9 -4.8 .3 -4.9 -1.2 -3.2 -2 -3.2 -3.3 -1.9 -3.2 -1.6 -4.9 -.7 -4.9 0 -6.5 .7 -4.8 3.4 -9.5 3.3 -5.7 3.2 -4.3 4.9 -4.4 3.7 -2zM-50.2 -82.7l3.2 .9 11.4 8.1 14.5 7 6.2 5.1 3.4 4.9 2 4.9 1.4 6.4 .5 8.1 -1.4 32.4 -1.7 8.1 -2.8 6.5 -3.5 4.9 -5.7 5 -19.4 13.1 -4.9 2.6 -3.2 1.1 -3.3 0 -1.6 -.6 -2.1 -1.8 -2.3 -3.2 -2.9 -8.1 -1 -9.7 .9 -8.1 1.7 -6.5 2.7 -6.5 6.8 -13 2.3 -8.1 .3 -8.1 -.9 -24.3 -1.2 -8.1 -2.8 -9.7 .5 -1.6 1.3 -1.2 1.4 -.4z"/><path fill="#ffbf00" d="M76.2 -70.3l3.2 -.6 1.6 .4 2.8 2.4 2.1 4.2 2.3 8.8 .6 4.9 -.5 3.2 -2.4 4.2 -3.3 2.5 -4.8 1.3 -4.9 -.8 -3.2 -2.2 -1.6 -1.7 -2.2 -4.9 -.6 -4.9 1.3 -6.5 3.1 -5.4 5.1 -4.3zM-37.3 -62.2l4.9 -.8 4.9 .9 4.8 2.3 3.3 2.7 2.7 3.6 2.1 4.5 2 10.1 -.2 27.6 -.6 6.4 -1.5 6.5 -2 4.9 -3.3 4.8 -4.1 4.1 -6.5 4.3 -9.7 4.4 -4.9 .8 -3.2 -.4 -3.2 -1.7 -2.9 -3.4 -1.5 -3.2 -1.1 -4.9 0 -6.4 1.3 -6.5 2.6 -6.5 5.8 -11.3 2.3 -6.5 .8 -6.5 .6 -14.6 1 -6.5 1.7 -4.8 2.8 -3.3z"/><path fill="#ffa600" d="M74.5 -57.2l1.7 0 1.6 .8 3.8 4.6 .5 3.2 -1.1 2.1 -1.6 1.3 -1.6 .4 -3.3 -.5 -1.6 -1.2 -1.5 -2.1 -.4 -1.6 .1 -3.3 .8 -1.6 1.7 -1.6zM-30.8 -53.8l3.3 .1 3.2 1.8 2.6 3.3 2.3 5 1.6 11.2 0 22.7 -1.7 9.7 -3.2 7 -2.1 2.7 -3.6 3.3 -7.2 3.8 -6.5 .9 -4.9 -1.7 -1.7 -1.4 -2.1 -3.3 -.9 -3.2 -.3 -4.9 2 -8.1 6.7 -12.9 2.5 -6.5 1.2 -6.5 .7 -10.9 1.3 -5.3 2 -3.6 3.6 -2.9z"/><path fill="#ff8c00" d="M-29.2 -30.9l1.7 1.7 .4 1.7 2.7 16.2 -.3 8.1 -1.9 6.4 -2.6 4 -3 2.5 -3.4 1.5 -3.3 .3 -3.2 -1 -1.6 -1.2 -1.9 -2.8 -.7 -3.3 .6 -4.8 2 -4.7 8.9 -13.1 5.6 -11.4z"/><path fill="#ff7300" d="M-37.3 -.2l1.7 -.8 .9 1 0 1.6 -.9 1.6 -1.7 -.4 -.4 -1.2 .3 -1.6z"/></g><path fill="none" stroke="#000" stroke-width="1.35" d="M34 -21.7l-3 2.3 -2.4 3.2 -1.5 4.9 0 4.8 2.5 11.4 2 4.8 1.3 1.6 2.4 1.7 3.6 .4 3.2 -1.7 2.3 -3.6 2.2 -13 -.1 -6.4 -1.5 -4.9 -2 -3.2 -1.7 -1.7 -2.4 -1.2 -1.6 -.2 -3.3 .8M32.4 -28.3l-3.2 2 -4 3.6 -2.4 3.3 -1.6 3.2 -.9 3.2 -.3 4.9 1.5 13 2.2 8.1 1.8 3.2 2 2.3 3.3 2.6 3.2 1.7 3.3 .8 3.2 -.1 3.2 -1.2 3.3 -2.2 3 -3.9 1.3 -3.2 .7 -4.9 -.2 -8.1 .7 -6.5 -.2 -4.8 -1.4 -4.9 -1.6 -3.2 -2.3 -3.4 -3.3 -3.4 -4.8 -2.6 -3.3 -.3 -3.2 .8M113.4 24.3l-27.5 -2.8 -11.4 -.5 -3.2 -.6 -1.8 -1 -3.1 -3.5 -4.5 -11 -1.3 -4.9 -1.5 -11.3 -2.6 -6.5 -9.5 -13.3 -3.3 -3.2 -4.8 -3 -3.3 -.9 -3.2 -.1 -3.2 .9 -3.3 1.9 -3.2 3 -4.2 5 -2.3 3.7 -1.9 4.4 -1.2 4.8 -.5 4.9 .5 16.2 1.4 11.3 3.1 11.4 .2 4.8 -1.3 3.3 -1.9 2.4 -2.8 2.4 -13.4 9.6 -2.8 3.4 -3 4.9 -3.2 8.1 -1.3 6.4 .3 6.5 1.8 4.9 2.5 3.2 4.1 3 4.8 2 6.5 1.2 6.5 .1 19.4 -.8 17.8 .2 3.3 -.4 8.1 -2.3 3.2 -.2 2.8 .5 2.8 1.6 2.5 2.9 9.1 16.5M-113.4 -53l2.6 10.9 5.5 12.8 1 3.4 2.4 17.8 1.4 3.4 1.7 1.8 1.6 1 1.6 .4 3.2 -.1 4.9 -2 4.9 -3.9 6.4 -6.8 4.9 -5.7 3.8 -5.9 1.8 -4.9 .6 -6.5 -.4 -4.8 -1.5 -6.5 -4.2 -9.7 -3.3 -5.2 -4.9 -6 -4.9 -5.1 -3.2 -2.6 -3.2 -1.9 -4.9 -1.9 -4.9 -.5 -3.2 .6 -3.4 1.5 -3.1 2.8 -1.6 2.5 -1.6 4.1M113.4 -20.9l-8.1 8.6 -3.2 2.3 -3.3 1.4 -4.8 1 -6.5 .1 -4.9 -.6 -4.8 -1.5 -6.5 -4 -13 -13.3 -3.2 -4.3 -11.4 -17.9 -6.4 -7.2 -4.9 -3.2 -3.2 -1.1 -3.3 -.1 -3.2 .9 -3.3 2.4 -3.6 5.6 -4.5 11.1 -4.3 13.2 -2 11.3 -1.4 24.3 -1.6 8.1 -2 5.6 -2.4 4.1 -2.5 3.1 -12 11.5 -5.4 6.5 -4.3 6.5 -10.7 18.6 -9.7 13.6 -4.8 5 -4.9 3.9 -6.5 3.7 -6.5 2.3 -9.7 1.6 -24.3 .2 -9.7 1.5M109 -113.4l4.4 4.4M113.4 -65.5l-7.4 15.3 -4.8 8.1 -5.4 6.5 -5.1 3.9 -6.4 2.5 -4.9 .6 -4.9 -.2 -3.2 -.9 -3.2 -1.6 -3.3 -2.5 -3.2 -3.8 -3.8 -7.8 -2.6 -12.9 -.6 -9.8 1.3 -8.1 3.6 -11.3 5.3 -9.6 3.3 -4.3 4.8 -5.3 4.9 -4.1 3.9 -2.6M-56.7 -99.1l3.2 -1.1 3.3 -.2 3.2 .6 3.3 1.5 5.1 4.3 7.9 11.4 3 3.2 11.5 6.5 4.9 4 3.3 4.1 3.1 6.2 1.8 6.8 .6 6.4 -2.3 42.2 -1.6 8.1 -2.5 6.4 -2.4 4 -3.6 4.1 -4.5 3.9 -6.5 4.5 -6.6 6.2 -7.3 8.1 -8.8 11.3 -3.2 2.7 -3.3 1.2 -3.2 0 -3.3 -1.1 -3.5 -2.7 -2.3 -3.3 -2 -4.8 -1.2 -6.5 -.5 -6.5 .3 -14.6 .9 -6.5 1.5 -6.4 4.3 -11.4 9 -16.7 1.8 -6 0 -11.3 -1.8 -14 -2.4 -8.7 -5.2 -13 -1.3 -6.4 .1 -4.9 1.3 -4.9 2.6 -4.2 2.9 -2.2zM72.9 -61.9l3.3 -.8 1.6 .4 1.6 1 1.6 2.1 3.3 5.8 1.1 3.2 0 1.6 -1.1 3.1 -1.7 1.9 -3.2 1.7 -3.2 .2 -3.3 -1 -3.2 -3.1 -1.7 -4.4 .1 -4.3 1.6 -4.3 2.7 -2.8zM-32.4 -58.6l4.9 .4 4.8 2.5 3.3 3.9 2.4 4.8 1.3 4.9 .7 6.5 -.2 25.9 -.8 6.5 -1.3 4.8 -2.1 4.8 -2.3 3.3 -3.1 3.3 -4.4 3.3 -4.8 2.5 -4.9 1.8 -3.2 .5 -3.3 -.1 -3.2 -1.2 -1.6 -1.2 -2 -2.4 -1.6 -3.2 -.8 -3.3 -.2 -4.8 .8 -4.9 1.5 -4.9 6.5 -12.9 2.5 -6.5 1.2 -6.5 .7 -12.9 1.3 -6.5 1.4 -3.5 1.6 -2.3 1.7 -1.3 2.3 -1z"/></g></g><use href="#hd"/></g><g transform="translate(248.6,1731.9)"><g transform="scale(1,1.0027)"><g clip-path="url(#disc)"><g filter="url(#sm)"><rect x="-112" y="-112" width="224" height="224" fill="#59ffa6"/><path fill="#73ff8c" d="M-111.8 -113.4l225.2 0 0 226.8 -226.8 0 0 -226.8zM81.4 -19.4l-2 1.5 -2 3.3 -.8 3.3 .1 3.2 1.1 4.9 3.2 8 3.3 4.7 1.6 -.1 1.6 -2 1.6 -3.6 1.6 -5.1 1 -5.2 .2 -4.8 -1.2 -4.7 -1.6 -2.4 -3.2 -1.9 -3.3 .2zM-88.1 53.5l-1 1.6 .1 1.6 1.5 1.4 1.2 -1.4 .3 -1.6 -1.5 -2z"/><path fill="#8cff73" d="M-111.8 -113.4l225.2 0 0 226.8 -175.5 0 -3.8 -21 -6.3 -13 -1.7 -4.9 -1.3 -6.4 -1.3 -13 -1.1 -4.9 -6.4 -21 -1.9 -2.1 -1.6 -.7 -1.6 .1 -3.3 1.7 -3.2 3.8 -3 5.3 -2.4 6.4 -4.3 18.1 -4.2 11.1 -3.9 8.3 0 -194.6zM81.5 -27.5l-2.2 1.6 -3.1 3.8 -2 4.3 -1 4.8 .2 6.5 2.6 16.2 .2 15.5 1.6 4.7 3.2 3.1 4.9 1.1 3.2 -.9 3.3 -3.3 1.9 -5.6 1.4 -19.4 1.6 -14.6 0 -4.9 -1.5 -6.5 -3.4 -5.1 -1.8 -1.3 -3.1 -1.2 -4.9 .5z"/><path fill="#a6ff59" d="M-111.8 -113.4l225.2 0 0 226.8 -158.2 0 -2.8 -6.5 -4.6 -14.5 -2.8 -6.5 -2 -3.3 -7.8 -8.9 -4 -7.3 -6.8 -24.3 -2.7 -14.6 -1.1 -3.4 -4.9 -7.7 -3.2 -2.2 -1.6 -.1 -3.3 1.3 -3.2 2.9 -4.8 6 -7.4 13 -5.6 14.3 0 -165zM82.1 -37.3l-4.3 3.2 -3.3 4.7 -2.1 5.1 -1.7 6.5 -.4 8.1 1.8 17.8 .2 19.4 2.2 6.8 1.7 2.3 3.2 2.8 3.2 1.7 4.9 1.2 3.2 0 3.3 -1 1.6 -1 2.5 -3 1.3 -3.3 .9 -4.8 .7 -9.8 -.4 -17.8 1.8 -14.6 -.1 -6.4 -2.3 -8.1 -4.4 -6.3 -3.2 -2.4 -3.3 -1.4 -3.2 -.5 -3.3 .6z"/><path fill="#bfff40" d="M-111.8 -113.4l225.2 0 0 226.8 -141.3 0 -7.7 -9.8 -14.5 -22.6 -12.2 -12.9 -4.3 -8.1 -5.5 -17.9 -3.1 -16.2 -4.8 -17.8 -.7 -14.6 .6 -16.2 -.3 -4.8 -2.2 -4.4 -3.3 -2.1 -3.2 -.5 -3.3 .6 -3.2 2.1 -1.9 2.6 -.9 3.3 0 3.2 3.6 16.2 .2 4.9 -.5 3.2 -1 3.3 -2.6 4.8 -14.7 21.1 0 -144.2zM79.5 -47l-3.3 2.4 -3.3 4.7 -3.1 9.1 -1.7 9.3 -.5 10.2 1.4 19.4 -.5 17.8 1.1 8.1 1.7 4.6 1.6 2.7 4.9 4.8 17.8 9.8 4.9 1.3 3.2 -.6 1.6 -1 1.7 -2.1 .9 -3.3 .5 -4.8 -1.7 -27.6 -1.6 -16.2 2.7 -17.8 -.6 -9.7 -1.4 -4.9 -2.1 -4.3 -3.2 -4.4 -3.3 -3.1 -3.2 -2.3 -4.9 -2.1 -4.8 -.9 -3.3 .4z"/><path fill="#d9ff26" d="M-111.8 -113.4l225.2 0 0 85.9 -2.3 -8.1 -4.8 -8.1 -2.9 -3.3 -4.6 -3.7 -8.4 -4.4 -4.5 -1.3 -4.9 -.6 -3.2 .3 -3.3 1 -3.2 2.1 -1.6 1.9 -1.6 3.3 -1.2 4.7 -1.9 22.6 1.3 27.6 -1 19.4 .2 8.1 .9 6 1.8 5.4 3.1 5.3 6.4 7.6 1.7 3.3 1.4 4.8 .5 4.9 -.3 4.9 -1.7 8.1 -1.7 4.8 -2.9 4.9 -4.5 4.8 -5.4 3.8 -6.5 2.9 -11.3 3.2 -11.4 2 -9.7 1.1 -11.3 .1 -11.4 -.4 -6.3 -1.3 -9.9 -4.2 -9.7 -5.5 -11.3 -9.5 -12.5 -13.2 -10.2 -9.7 -5 -6.5 -3.7 -8.1 -3.5 -11.4 -6.2 -30.8 -.4 -6.4 .4 -13 3.5 -21.1 .3 -4.8 -.5 -3.3 -1.1 -2.9 -3.3 -3.2 -4.4 -2 -5.3 -1 -6.5 -.1 -4.8 .6 -4.9 1.5 -3.2 1.9 -2.3 2 -2.3 3.2 -1.7 4.9 0 6.5 1.5 4.8 6.4 13.5 1.1 4.4 .1 3.2 -.7 3.2 -2.1 4.1 -8.1 10.2 0 -130.9zM113.4 -14.5l0 33.7 -2.8 -17.6 .2 -3.2 2.4 -11.4z"/><path fill="#f2ff0d" d="M-111.8 -113.4l225.2 0 0 67.1 -4.8 -5.8 -6.5 -5.1 -6.5 -3.5 -8.1 -2.7 -11.3 -1.8 -9.8 .1 -4.8 1.8 -2 3.3 -.3 4.9 1.9 17.8 2.7 40.5 -2.4 37.3 .3 9.7 1.9 13 .3 6.5 -1 6.5 -2 4.8 -2.7 3.6 -3.2 2.4 -3.3 1.5 -4.8 1.2 -6.5 .5 -13 -.2 -14.5 1.2 -21.1 .8 -6.5 -.5 -4.8 -1.1 -4.9 -1.9 -6.5 -3.6 -6.5 -4.9 -15.7 -13.6 -4.4 -4.8 -3.2 -4.9 -3.4 -8.1 -3.7 -13 -3.5 -19.4 -.8 -9.7 .3 -9.7 1 -8.1 1.9 -8.1 5.5 -17.9 .8 -6.4 -.5 -3.3 -1.8 -2.2 -4.9 -2.2 -9.7 -2 -8.1 -.8 -9.7 -.3 -6.5 .4 -4.9 1.1 -4.8 2.4 0 -62.8zM-113.1 -4.9l1 3.3 -.1 1.6 -1.2 3 0 -8.5z"/><path fill="#fff200" d="M-111.8 -113.4l225.2 0 0 55.6 -6.5 -5 -8.1 -4.3 -6.4 -2.2 -17.9 -4.6 -6.4 -3 -11.4 -7.6 -4.9 -2.5 -6.4 -2 -6.5 -.7 -9.7 1 -13 4.6 -4.9 .8 -29.1 -4.8 -4.9 -.2 -4.8 .8 -3.7 1.6 -3.5 3.3 -2.6 3.9 -4.8 9.9 -3.3 4.4 -3.2 1.9 -9.7 2.3 -6.5 1 -6.5 .2 -30.8 -3 -6.5 .2 -4.8 .8 0 -52.4zM0 -69.8l9.7 -.8 8.1 1.6 22.7 8.3 4.9 2.9 3.2 3.1 4.9 7.4 2.9 8.4 1.9 10.2 2.8 23.8 .2 13 -3 22.5 -6.5 31.6 -2.8 7.5 -3.6 3.9 -4.9 2.4 -25.9 5 -14.6 .6 -11.3 1.6 -4.9 -.1 -4.9 -.9 -4.8 -1.6 -6.5 -3.3 -14.6 -10.5 -8.1 -7.7 -2.7 -4 -2.4 -4.9 -5.2 -16.2 -3.2 -19.4 -.4 -8.1 .3 -8.1 1.1 -8.1 1.7 -6.5 10.8 -25 3.3 -5.6 6.4 -9.1 1.7 -1.7 3.2 -1.7 13 -2.1 16.2 -6.1 10.6 -2.2zM-2 -17.8l-1.2 .7 -1.7 2.4 -.2 3.4 1.9 2.9 1.6 .6 1.6 -.1 1.6 -1.1 1.4 -2.3 -.1 -3.3 -1.3 -2.4 -1.6 -1 -1.6 0z"/><path fill="#ffd900" d="M-111.8 -113.4l225.2 0 0 45.5 -6.5 -3.9 -6.4 -2.8 -21.1 -6.1 -4.9 -3.1 -12.9 -10 -6.5 -3.6 -6.5 -2.1 -6.5 -.6 -4.8 .4 -6.5 1.4 -17.8 7 -6.5 1.1 -8.1 -1.1 -11.4 -4.3 -4.8 -1.1 -8.1 -.3 -6.5 1 -4.9 2.1 -3.2 2.9 -8.1 14.2 -5.1 5.5 -4.6 2.9 -4.9 2 -4.9 1.3 -6.4 .5 -8.1 -.7 -21.1 -4.2 -9.7 -.4 0 -43.5zM0 -63.3l8.1 .2 8.1 2 21.1 7.1 4.8 2.7 3.3 2.7 4.8 6.3 3.4 8.3 2.9 12.9 2.5 17.9 -.2 11.3 -3.7 20.9 -4.9 15.2 -6.8 15.8 -3.8 4.8 -5.6 3.9 -11.3 3.9 -11.4 2.4 -22.6 2.1 -9.8 -.9 -4.8 -1.4 -6.5 -3 -13 -8.5 -8.1 -7.5 -2.5 -4 -2.3 -4.8 -5 -14.6 -2.5 -16.2 -.2 -16.2 .8 -6.5 1.5 -6.5 4.1 -9.7 6.9 -12.9 4.1 -6.1 4.9 -5 6.4 -4 11.4 -3.1 17.8 -7.7 7.2 -1.7zM-4.2 -22.7l-2.3 2.8 -1.5 3.7 -.3 4.9 .9 3.2 2.4 3.2 1.8 1 3.2 .3 3.2 -1.5 2.4 -3 1 -3.2 .1 -3.3 -.7 -3.2 -1.6 -3.3 -2.8 -2.6 -1.6 -.5 -3.2 .8z"/><path fill="#ffbf00" d="M-111.8 -113.4l225.2 0 0 35.5 -9.7 -4.6 -17.9 -6.6 -4.8 -2.8 -11.3 -8.8 -6.5 -4.3 -6.5 -3.1 -6.5 -1.9 -9.7 -.4 -9.7 1.9 -9.7 4 -11.6 7.3 -4.6 1.4 -3.3 -.3 -2.3 -1.1 -1.8 -1.6 -4 -6.3 -3.2 -1.7 -6.5 -.8 -11.3 .5 -9.8 -1.3 -4.8 -.1 -3.3 .5 -2.4 1.1 -2.4 2.9 -2.8 18.1 -1.9 4.9 -1.8 2.5 -4.2 4 -3.9 2.3 -4.9 1.7 -4.8 .7 -6.5 -.8 -21.1 -6.6 -11.3 -2.1 0 -34.1zM-3.2 -56.9l4.8 -.7 6.1 .9 24.7 6.8 4.9 1.9 3.2 2 4.9 4.6 3.6 5.8 2.8 7.5 2.9 11.9 2.1 13 -.1 7.8 -3.2 16.6 -3.3 10.2 -8.1 17 -5.1 8.3 -3 3.3 -3.2 2.4 -9.7 4.5 -13 3.3 -19.4 1.6 -9.8 -1 -9.7 -3.4 -6.5 -3.5 -6.4 -4.3 -4.9 -4 -3.2 -3.6 -3.3 -5.6 -3.2 -7.4 -3.5 -11.5 -1.3 -9.7 -.5 -9.7 .3 -8.1 1.3 -8.1 3.7 -10.4 9.7 -16.6 4.9 -5.7 6.4 -4.5 4.9 -1.8 16.2 -4 12.5 -5.6zM-4.5 -29.2l-3.6 4.6 -2 5.2 -1 6.4 .7 4.9 2.3 5.1 3.2 3.2 3.3 1.1 3.2 -.5 1.6 -.8 3.3 -3.1 2.4 -5 .9 -4.9 -.4 -4.8 -1.4 -4.9 -3.1 -5.3 -3.3 -2.4 -3.2 -.2 -1.6 .5z"/><path fill="#ffa600" d="M-111.8 -113.4l48.9 0 -1.1 6.5 2.1 14.5 -.5 6.5 -1.3 3.3 -2.7 3.5 -4.7 2.9 -3.4 .8 -4.9 -.9 -22.7 -11 -11.3 -3.2 0 -22.9zM71.3 -113.4l42.1 0 0 24.7 -22.7 -11.1 -20.4 -13.6zM6.5 -47l12.9 .1 9.8 1.2 6.4 2.2 3.3 1.9 3.2 2.9 4.4 6.3 3.7 9.7 3.7 16.2 .6 4.9 -.2 4.8 -2.5 11.6 -4.8 13.2 -11.4 18.9 -6.2 8.2 -7.4 4.9 -10.7 4.1 -9.7 2.1 -9.7 .6 -11.3 -1 -6.5 -1.7 -4.9 -1.9 -11.3 -6.7 -4.4 -3.7 -2.9 -3.2 -5.7 -9.7 -4.2 -11.4 -1.5 -14.5 .4 -14.6 1.6 -8.1 3.2 -8.1 8.6 -13.9 6.5 -7 6.5 -3.6 6.5 -1.6 9.7 -.4 8.1 1.5 1.6 1.2 .4 2.7 -5.3 19.5 -.5 6.4 .4 4.9 1.4 4.9 2 4.5 9.1 14.9 -1 1.3 -.8 3.6 .1 3.2 .7 1.6 1.6 .6 1.2 -.6 .8 -3.2 -1.9 -6.5 .2 -1.6 9.4 -16.1 1.8 -5 1.1 -6.5 -.7 -8.1 -2.2 -8.4 -3.2 -7.5 -5.2 -6.7 -.3 -1.7 2.2 -1.4 2.8 -.2z"/><path fill="#ff8c00" d="M-111.8 -113.4l30.9 0 -1.7 12.9 -1.7 1.7 -3.2 -.6 -14.6 -4.8 -11.3 -2.3 0 -6.9zM92.4 -113.4l21 0 0 12.3 -21.2 -12.3zM21.1 -40.7l4.8 -.6 6.5 1.2 5.2 2.8 4.7 4.9 3.5 6.5 3.2 9.7 2.6 13 -.1 6.4 -1.5 6.5 -3 8.3 -3.3 6.2 -3.2 4.6 -18.8 21.4 -9.1 6.5 -7 3.3 -5.6 1.2 -6.5 .2 -9.7 -1 -8.1 -1.7 -5.6 -2 -5.7 -3 -5.2 -3.5 -4.6 -4 -6.4 -8.6 -3.3 -6.1 -1.4 -4 -1 -6.4 -.6 -9.8 .5 -14.5 2 -8.1 3 -6.5 7.2 -11.1 4.6 -5.1 5.2 -3.6 4.8 -1.7 6.5 -.5 4.9 1.4 3.1 2.8 1.5 4.8 -1.1 19.5 4 21 -.8 14.6 1 4.9 2 3.2 4.8 3.3 6.5 1.1 5.5 -1.2 2.5 -1.6 1.4 -1.6 1.6 -4.9 -1.6 -17.8 4.2 -21 .1 -6.5 -1 -11.4 .3 -4.8 1.6 -3.7 1.6 -1.5 2.6 -1.3z"/><path fill="#ff7300" d="M-29.2 -35.8l3.6 .2 3.8 1.6 2.4 2.8 1.1 3.7 0 16.2 1.8 19.4 -1 6.5 -3.7 12.9 -.2 3.3 .8 4.8 3.3 6.5 2.7 3.4 3.3 2.8 8.1 -.6 3.7 .9 1.4 1.6 -.2 1.6 -1.7 1.7 -3.2 -.1 -4 -1.6 -4.1 -2.9 -13 .4 -4.9 -1.2 -6.4 -2.8 -6.5 -4 -4.9 -4.5 -4.5 -6 -2 -4.1 -1.3 -8.9 -.6 -14.6 .8 -8.1 1.8 -6.4 4.1 -8.1 6.6 -8.9 6.5 -5.4 5.3 -1.9zM24.3 -35.8l3.2 -.5 4.9 1 3.2 1.8 3.3 3 3 4.6 2.2 4.8 2.5 8.1 1.7 8.1 -.1 8.1 -1.3 4.9 -2.1 4.9 -2.7 4.6 -3.2 3.9 -3.3 2.8 -3.2 1.8 -4.9 .8 -3.2 -1.2 -1.6 -1.4 -4 -6.5 -2.4 -8.1 -.2 -6.5 2.2 -16.2 .1 -14.5 1.6 -4.9 1.3 -1.6 2.6 -1.6z"/><path fill="#ff5900" d="M-32.4 -31.3l3.2 -.6 3.3 .5 1.6 .9 2.2 3 1 4.8 1.1 25.9 -1.1 6.8 -3.2 7.7 -8.1 12 -3.2 2.6 -3.3 .6 -3.2 -.9 -3.3 -2 -3.4 -4.1 -1.3 -3.2 -.9 -4.9 -1.4 -16.2 1.4 -9.7 3.4 -8.1 7.1 -9.4 3.2 -2.9 3.7 -2.3zM27.5 -31.1l3.3 .3 3 1.6 4.3 4.9 4 8.9 2.5 10.5 -.2 6.5 -2.3 6.8 -1.9 2.9 -2.9 3.2 -4.9 2.4 -3.2 -.1 -1.7 -.5 -3.2 -2.5 -2.5 -4.1 -1.4 -4.8 -.3 -4.9 1.6 -13 .5 -11.3 .8 -3.2 1.1 -1.7 2.4 -1.6z"/><path fill="#ff4000" d="M-34 -26.1l4.8 -1.4 1.7 .4 1.5 1.2 .7 1.6 1 5.5 1.2 18.8 -1.2 6.4 -2.3 4.9 -4.2 5.4 -4.8 3.8 -3.3 1.1 -1.6 0 -3.2 -1.8 -1.7 -2.2 -1.6 -4.1 -1.3 -5.4 -.7 -9.7 1 -6.5 2.7 -6.5 4.8 -6.3 6.2 -5zM29.2 -22.1l1.6 -.1 3.2 2.7 3.3 5.5 1.5 4.3 .9 4.8 0 3.3 -.7 3.2 -1.7 3.4 -3.3 2.7 -3.2 .6 -3.3 -1.5 -2.4 -3.6 -.7 -3.2 .1 -3.2 3 -15.8 .9 -2.1z"/><path fill="#ff2600" d="M-35.6 -19.5l3.2 -1 1.6 .4 1.6 1.7 1.7 5.3 .9 8.2 -.2 4.9 -1 3.2 -3 4.7 -3.2 2.6 -3.3 .9 -1.6 -.2 -3.2 -2.5 -1.9 -3.8 -1.2 -6.5 .3 -4.9 1.5 -4.8 2.9 -4.3 4.7 -3.8z"/><path fill="#ff0d00" d="M-37.3 -11.5l1.7 -.4 1.6 .5 1.6 2.5 .2 5.7 -1.8 3.1 -1.6 .7 -1.7 -.3 -1.6 -1.6 -.8 -1.9 0 -4.9 .8 -2 1.5 -1.2z"/></g><path fill="none" stroke="#000" stroke-width="1.35" d="M-53.3 113.4l-1.9 -6.5 -2.5 -12.9 -1.6 -4.9 -2.7 -4.8 -6.1 -8.6 -2.8 -6 -1.4 -4.9 -2.7 -13 -3.6 -12.9 -2.1 -11.4 -1.7 -3.2 -1.9 -2.1 -3.2 -1.8 -3.2 .4 -3.3 2.1 -3.8 4.6 -3 4.9 -3.1 6.5 -4.6 16.2 -4.9 9.9M82.6 -32.5l-3.2 2 -3.2 3.8 -2.8 5.6 -1.3 4.9 -.4 6.5 2.3 19.4 -.1 14.6 .9 4.9 1.4 2.9 1.6 2.1 1.6 1.4 3.2 1.8 4.9 .6 3.2 -.8 3.3 -2.4 1.6 -2.6 1.5 -4.7 .8 -6.4 .3 -17.9 1.4 -12.9 .2 -6.5 -.8 -4.9 -1.2 -3.2 -1.8 -3.2 -2 -2.3 -4.9 -3 -3.2 -.4 -3.3 .7M113.4 28.2l-4.2 -26.6 .2 -3.2 2.7 -13 .3 -9.7 -1.2 -6.5 -2.6 -6.7 -3.3 -5 -4.8 -5 -4.9 -3.4 -6.5 -2.9 -4.8 -1.1 -4.9 -.1 -4.9 1.7 -3.2 3 -1.8 3.3 -1.4 4.9 -1.6 9.7 -.8 9.7 -.1 9.7 1.3 19.5 -.9 19.4 .4 8.1 1.3 6.5 2.1 4.9 3.1 4.3 7.5 7 3.6 6.5 2.1 8.1 .3 4.9 -.5 4.8 -1.4 6.5 -1.9 4.9 -3.1 4.8 -4.7 4.9 -4.4 3.2 -5.6 3 -6.5 2.4 -9.8 2.7M-5.7 113.4l-7.3 -3.4 -6.4 -3.9 -4.9 -3.5 -4.9 -4.2 -6.4 -6.7 -12.3 -13.9 -10.4 -10.2 -3.3 -4.3 -2.6 -5 -3 -8.1 -2.8 -9.7 -5.9 -29.2 -.5 -6.4 .4 -14.6 2.9 -21.1 -.2 -3.2 -.9 -3.3 -2.2 -3.2 -3 -2 -4.9 -1.5 -4.8 -.5 -4.9 .3 -4.8 1.2 -3.3 1.5 -3.2 2.6 -1.6 2.2 -1.9 4.3 -.5 3.2 .3 3.3 1.4 4.8 5.6 13 1.1 4.9 0 3.2 -.7 3.2 -2.4 4.9 -9.4 12.2M113.4 -58.6l-6.5 -4.9 -8.1 -4.2 -6.4 -2.2 -14.6 -3.6 -6.5 -2.5 -4.9 -2.8 -9.7 -6.7 -4.9 -2.5 -6.4 -2 -6.5 -.6 -9.7 1.2 -13 4.5 -4.9 .8 -4.8 -.4 -24.3 -4.3 -4.9 -.2 -4.8 .7 -4.9 2.4 -3.2 3.2 -7.3 13 -4.1 4.7 -4.8 2.3 -8.2 2.1 -6.4 1 -6.5 .1 -29.2 -3 -6.5 .1 -4.8 .7M4.9 -69.7l4.8 -.1 4.9 .7 21 7.1 8.1 3.9 5.2 4.6 4.6 7.3 3 8.9 2 11.4 2.7 24.3 -.2 11.3 -3.6 24.3 -6.2 27.6 -2.6 6.8 -1.6 2.3 -2.4 2.2 -5.7 2.7 -25.9 5.1 -13 .4 -11.3 1.6 -4.9 -.1 -4.9 -.9 -4.8 -1.6 -6.5 -3.3 -6.5 -4.3 -9.7 -7.4 -4.9 -4.6 -3 -3.8 -2 -3.2 -2.7 -6.5 -2.7 -8.1 -2.1 -8.1 -1.6 -9.7 -1.1 -9.8 -.1 -8.1 .7 -8.1 1.1 -6.4 1.9 -6.5 11 -24.3 3.9 -6 4.8 -6.2 1.7 -1.5 3.2 -2 14.6 -3.3 16.2 -6.3 6.5 -1.4 8 -.9zM-1.6 -18.5l-1.6 .8 -1.2 1.5 -1.1 3.2 .7 3.3 1.6 1.7 1.6 .6 1.6 -.2 1.6 -.9 1.7 -2.8 0 -3.3 -.7 -1.6 -1 -1.4 -1.6 -.9zM-51.2 -113.4l-3.6 3.2 -1.3 3.3 -.2 3.2 .7 11.3 -.4 4.9 -.9 3.2 -1.6 3.3 -2.6 3.2 -5.3 3.9 -3.3 1.3 -3.2 .7 -6.5 -.4 -22.7 -8.3 -11.3 -2.6M-20.6 -113.4l-5.3 .3 -3.4 -.3M32.1 -113.4l-7.8 2.3 -6.5 2.7 -4.9 3.1 -5.3 4.8 -2.6 1.7 -1.8 .2 -1.6 -1.1 -.4 -2.4 2.3 -4.8 .1 -1.7 -.6 -1.6 -1.3 -1.6 -2.7 -1.6M113.4 -81.8l-6.5 -3.2 -19.4 -8 -4.9 -3 -16.2 -11.7 -6.4 -3.4 -6.7 -2.3M0 -55.2l4.9 .5 10.3 2.9 17.2 3.9 4.9 2 4.8 3.4 4.9 6.1 3.2 7.2 3.5 13 2.3 14.6 -.1 4.8 -.8 5.8 -4.4 16.9 -5.3 11.9 -8.1 14.4 -4.9 5.9 -4.9 3.5 -8.1 3.6 -11.3 3.1 -16.2 1.6 -6.5 -.1 -6.5 -1 -4.8 -1.3 -6.5 -2.8 -11.3 -7 -4.9 -4.2 -2.8 -3.3 -5.3 -10.2 -3.8 -10.8 -1.8 -13 -.3 -8.1 .3 -8.1 1 -6.5 1.2 -4.8 1.8 -4.9 2.5 -4.9 7.2 -11.7 3.2 -4.3 4.9 -4.5 4.9 -2.7 6.4 -2 14.6 -2.7 13.9 -6.1zM-3.2 -33.1l-3.3 2.7 -3.2 6.1 -1.9 6.5 -.3 6.5 .9 4.8 2.9 5.8 3.2 3.3 3.3 1.2 1.6 0 3.2 -1.4 1.7 -1.3 3.2 -4.3 2.3 -6.5 .3 -6.5 -1.9 -8.1 -2.3 -4.8 -1.6 -2 -3.3 -2.2 -3.2 -.3 -1.6 .5M113.4 -110.4l-5.1 -3M24.3 -37.6l3.2 -.3 4.9 1 4.9 2.9 3.2 3.5 2.7 4.6 2.7 6.5 2.6 9.7 1.1 6.5 0 4.8 -1 4.9 -1.6 4.9 -3.3 6.6 -3.2 4.7 -3.2 3.3 -4.9 3.6 -3.2 1.5 -3.3 .6 -1.6 -.3 -1.6 -.8 -1.6 -1.8 -2.4 -4.5 -2.5 -6.5 -1.6 -8.1 .2 -6.5 2.5 -16.2 -.1 -16.2 1.7 -4.8 2.2 -2.3 1.9 -1zM-34 -35.8l4.8 -1.3 4.9 .3 2.8 1.2 2 1.6 1.7 3 .7 5.1 -.4 14.6 2.4 19.4 -.6 6.5 -2.4 11.3 .2 4.9 2.1 4.8 4.5 4.4 4.8 2 11.4 2.3 3.2 1.6 .9 1.1 .2 1.6 -.3 1.6 -2.3 3.3 -3.4 2.3 -3.2 1.1 -4.9 0 -19.4 -3.4 -4.9 -1.7 -8.1 -4.3 -6.4 -4.8 -6.5 -7.5 -3.6 -6 -1.6 -6.5 -.9 -16.2 .3 -8.1 1.7 -8.1 3.6 -8.1 5.4 -8.1 4.8 -5.5 3.2 -2.6 3 -1.6zM-29.2 -27.7l1.7 .3 1.6 1.3 1.2 3.4 1.7 19.5 -.3 6.4 -2.2 6.5 -3.7 5.6 -4.8 4.5 -3.3 1.8 -1.6 .4 -3.2 -.5 -1.6 -1.2 -1.7 -2.2 -1.5 -3.5 -2 -9.7 -.3 -4.9 .4 -4.9 1.2 -4.8 1.3 -3.3 4.2 -6.3 3.2 -3.4 3.3 -2.6 4.8 -2.2zM29.2 -22.8l1.6 0 3.2 2.7 3.3 5.5 2.1 6.5 .6 4.9 -.3 3.2 -1.1 3.2 -3 3.9 -3.2 1.5 -3.2 -.4 -1.7 -1.1 -1.6 -1.8 -1.5 -3.7 -.1 -4.8 2.7 -14.6 .5 -2.6 1.5 -2.3z"/></g></g><use href="#hd"/></g><g transform="translate(664.0,1731.9)"><g transform="scale(1,1.0027)"><g clip-path="url(#disc)"><g filter="url(#sm)"><rect x="-112" y="-112" width="224" height="224" fill="#26ffd9"/><path fill="#40ffbf" d="M-111.8 -113.4l225.2 0 0 226.8 -226.8 0 0 -226.8zM86.9 -14.6l-2.6 1.9 -1.6 3 -.7 8.1 .6 3 1.7 3.3 3.2 3.4 1.6 .2 1.6 -.8 1.7 -2.1 1.5 -3.8 1.2 -4.8 .2 -4.9 -.8 -3.2 -2.1 -2.6 -1.7 -.8 -3.2 -.1zM-83.4 1.6l-2.2 1.6 -1 1.7 -.7 4.8 .7 3.3 1.5 3.2 2.5 2.5 1.6 .3 1.6 -.9 2.3 -3.5 1 -3.3 .3 -4.8 -.4 -1.9 -1.6 -2.5 -1.6 -.8 -3.2 .1z"/><path fill="#59ffa6" d="M-111.8 -113.4l225.2 0 0 226.8 -226.8 0 0 -226.8zM-81.9 -17.8l-2.4 3.1 -8.1 14.4 -1.3 5.2 0 6.4 1.1 4.9 1.8 4.9 1.7 3.2 2.8 3.2 2 1.4 3.3 .8 2.3 -.5 2.4 -1.7 3.2 -4.8 1.6 -4.9 1 -6.5 0 -4.8 -1.6 -6.5 -4.6 -9.7 -2.7 -7.8 -1.6 -1zM86 -17.8l-3.4 2.6 -2.2 3.9 -1 4.8 -.1 6.5 6.2 25.9 2 2 1.6 .4 1.6 -.7 2.4 -3.3 2.5 -7.6 3.2 -18.3 .4 -8.1 -1.4 -4.9 -2.2 -2.5 -3.2 -1.6 -4.9 .3z"/><path fill="#73ff8c" d="M-111.8 -113.4l225.2 0 0 226.8 -226.8 0 0 -226.8zM-84.4 -29.2l-3.1 2.9 -2.3 3.6 -7.4 17.8 -1.8 8.1 .2 8.1 1.6 6.5 2.3 6.5 2.5 4.9 2.6 3.2 3.9 2.6 3.3 .8 3.2 -.2 4 -1.6 4.1 -4.1 3.2 -7.5 1.7 -9.4 -.4 -9.8 -2.2 -11.3 -1.7 -13 -1.7 -4.8 -2.1 -2.6 -3.3 -1.7 -3.2 -.2 -3.3 1.2zM90.7 -22.7l-3.2 .8 -3.2 1.7 -2.8 2.4 -2.1 3 -2 6.7 -.2 8.1 2.1 14.6 .1 11.3 1.6 6.3 3.3 5.7 3.2 3.3 3.2 1.7 3.3 0 1.6 -.6 1.9 -1.8 1.3 -2.4 1.1 -4.1 1.6 -16.2 .4 -16.2 1.1 -12.9 -1.2 -4.9 -3 -4.1 -3.2 -1.9 -4.9 -.5z"/><path fill="#8cff73" d="M-111.8 -113.4l225.2 0 0 226.8 -226.8 0 0 -226.8zM-85.6 -34l-3.5 2.2 -3.7 4.3 -7 14.5 -3.8 11.4 -.6 4.8 .3 6.5 1.4 6.5 3.9 11.3 1.9 4.9 2.7 4.3 3.3 2.9 4.8 2 4.9 .4 4.8 -1 4.9 -2.8 3.2 -4 2.9 -6.7 1.9 -8.1 .8 -11.3 -2.7 -27.5 -1.7 -8.1 -3.5 -4.9 -2.5 -1.7 -3.3 -1 -4.8 -.2 -3.3 .8zM88.5 -25.9l-4.2 2.2 -4.7 4.3 -2 3.2 -1.6 4.9 -.7 9.7 1.3 14.6 -.2 12.9 .7 6.5 1.7 6.5 2.2 5.7 2.3 4 2.6 3 4.8 3.3 4.9 1.6 4.9 .2 3.2 -.8 3.2 -2.3 1.1 -1.8 1.4 -6.4 -.4 -6.5 -1.9 -11.4 -.4 -11.3 -1.2 -14.6 1.5 -11.3 -.1 -4.9 -.8 -3.2 -1.6 -3.3 -4 -4 -4.9 -1.8 -3.2 0 -3.3 .7z"/><path fill="#a6ff59" d="M-111.8 -113.4l225.2 0 0 135 -3.5 -20 1.8 -12.9 -.3 -6.5 -2.6 -6.5 -2.6 -3.2 -2.5 -2.1 -4.9 -2 -6.4 0 -4.9 1.8 -4.9 3.5 -4.8 5 -2 3.5 -1.7 6.5 -.5 8.1 .8 16.2 -.6 14.5 .3 6.5 2.1 11.5 3.2 8.8 3.2 4.3 3.3 2.9 9.7 6.1 9.7 3.5 4.9 .3 3.2 -.7 0 42.7 -83.9 0 -14.9 -.9 -36.9 .9 -91.1 0 0 -226.8zM-85.6 -38.9l-3.9 1.6 -4.2 3.3 -2.6 3.2 -2.5 4.6 -6.4 13.2 -2.5 6.5 -1.4 6.5 -.1 8.1 1.3 6.5 3.8 11.3 2.8 11.4 2.1 4.8 2 2.7 3.2 2.3 4.9 1.5 6.5 .2 8.1 -1.1 5.2 -2.3 2.9 -2.8 1.6 -2.4 2.4 -6.2 2.5 -11.3 1 -6.5 .2 -6.5 -1.5 -16.2 -.6 -17.8 -1.9 -8.1 -2.1 -3.2 -1.9 -1.7 -3.2 -1.6 -4.6 -1 -4.9 -.1 -4.9 .7zM-4.6 -13l-1.5 3.3 .3 4.8 1.4 3.3 1.2 1 1.6 .2 1.6 -1.3 .6 -1.5 .7 -3.3 0 -3.2 -1.3 -2.9 -1.6 -1.1 -1.6 0z"/><path fill="#bfff40" d="M-111.8 -113.4l225.2 0 0 84.4 -4.8 -5.2 -6.5 -3.1 -6.5 -.5 -6.5 1.7 -6.5 4.5 -6.4 7.6 -2.7 6.2 -1.1 6.5 .1 24.3 -1.2 21 .4 8.1 1.2 8.5 1.8 6.1 3.1 5.9 3.2 4.1 10.6 11.1 4.3 6.5 1.7 4.8 .3 3.3 -.6 3.2 -1.7 3.5 -3.2 3.5 -4.9 2.9 -6.5 2.2 -8.1 .9 -11.3 -.5 -35.7 -4.6 -53.4 -.1 -6.5 1.1 -4.9 1.6 -4.9 2.5 -7.4 4.8 -62.2 0 0 -98.2 3.9 12.3 .9 19.5 1.6 6.5 3.1 3.2 3.4 1.8 4.9 1 4.9 0 21 -1.9 4.9 -2 3.2 -3.1 2.1 -3.9 1.6 -6.5 3.3 -29.1 -1.7 -19.5 .6 -29.1 -.7 -3.3 -1.6 -3.2 -3.6 -2.4 -3.2 -.8 -4.9 -.1 -12.9 1.2 -8.1 1.9 -4.9 2.8 -3.2 3.4 -2.3 3.7 -9.7 19.4 -2.6 7.1 0 -107.5zM-7.2 -16.2l-1.6 3.2 -.5 3.3 .3 6.5 .9 4.4 1.6 2.6 1.6 1.1 3.3 0 2.4 -1.7 2.1 -3.2 .8 -3.2 .3 -4.9 -.8 -4 -1.6 -3 -3.2 -2.3 -3.3 -.3 -1.6 .8z"/><path fill="#d9ff26" d="M-111.8 -113.4l225.2 0 0 73.1 -6.5 -3.5 -6.4 -1.4 -6.5 .5 -6.5 2.2 -5.4 3.6 -4.3 5 -4.4 8 -2.1 7.6 -.7 8.6 .1 22.7 -2.1 24.3 .1 12.9 .8 6.5 1.8 6.5 3.2 7.3 5.4 8.9 .8 3.2 -.3 3.3 -2.6 4.7 -4.9 3.4 -8.1 2.3 -11.3 .7 -29.2 -1.4 -38.9 .3 -11.3 -.5 -8.1 -1 -4.9 -1.3 -3.2 -1.4 -3.5 -2.6 -2.8 -4.8 -2.6 -13 1.5 -19.5 -1.7 -22.6 1.6 -16.2 -2.2 -13 -.5 -6.5 .3 -8.1 .9 -6.5 2.5 -8.5 1.6 -3 3.3 -3.9 4.8 -2.9 13 -3.9 4.9 -3.7 2.7 -4.8 1.3 -4.9 .3 -6.5 -1.1 -4.9 -2.5 -4.8 -3.9 -4.9 -3.3 -3 -4.9 -2.9 -6.5 -2.8 -6.5 -1.8 -4.8 -.2 -4.9 1.5 -3.2 2.5 -2.2 3.5 -1.2 4.8 -1.3 13 -1.2 3.2 -2.2 3.3 -3.9 3.2 -5.9 2.8 -4.8 1.2 -13 1.6 -3.2 1.2 -3.3 2.1 -4.3 5.7 -4.6 11.4 -4 7.1 0 -93zM-8.7 -21.1l-2.2 3.3 -.7 3.2 -.1 14.6 .4 4.9 1.6 3.2 3.2 1.9 3.3 -.1 3.2 -1.5 3.2 -3.5 2.1 -4.9 .8 -6.5 -1 -6.5 -1.9 -3.8 -3.2 -3.3 -4.9 -2 -3.2 .6zM-112.7 71.3l5.8 4.8 6.4 2.7 4.9 .7 11.3 0 3.3 .5 1.9 1 1.5 1.6 1.6 3.3 .5 3.2 -.9 4.9 -3.1 4.8 -5.2 4.9 -12.4 9.7 -16.3 0 0 -42.9z"/><path fill="#f2ff0d" d="M-111.8 -113.4l225.2 0 0 62.2 -6.5 -2.3 -6.4 -.7 -6.5 .6 -6.5 1.9 -6.6 3.1 -4.4 3.2 -3.3 4.9 -1.6 4.9 -1.6 8.1 -.8 8.1 -.2 32.4 -4.2 35.6 .8 25.9 -.6 3.3 -1.5 3.2 -3.4 3.3 -3.1 1.6 -5.2 1.5 -4.8 .6 -61.6 .7 -9.7 -.7 -6.5 -2.1 -2.4 -1.6 -2.4 -2.6 -2.8 -5.5 -1.4 -6.5 -.9 -17.9 -2.5 -19.4 1 -17.8 -1.1 -4.9 -3.9 -11.3 -.7 -4.9 0 -4.8 1.1 -6.5 1.9 -4.9 2.8 -3.8 3.2 -2.6 3.3 -1.5 4.8 -1 6.5 .1 4.9 1 2.1 1.3 1.1 1.6 1.1 6.5 1 16.2 -2.3 13 .4 3.2 1.1 1.7 2.2 1.6 3 .9 3.2 0 4.9 -1.5 4.8 -4.3 2.7 -4.8 1.6 -6.5 .2 -6.5 -1.2 -6.5 -1.6 -3.6 -3.3 -4.2 -10.9 -8.4 -1.4 -1.6 -.8 -3.2 1.2 -8.1 5.5 -19.5 0 -4.9 -1.1 -3.2 -3.6 -4.9 -9.9 -9.4 -6.5 -5.1 -8.1 -4.9 -6.5 -2.8 -6.5 -1.6 -6.5 -.2 -4.8 1 -4.5 2 -3.6 2.6 -3.3 3.7 -2 3.4 -2.7 8.1 -2.2 14.6 -1.3 3.2 -1.5 2 -3.2 2 -14.6 .5 -4.9 1 -3.2 1.4 -1.7 1.2 -2.5 3.3 -3.9 9.4 0 -72.6z"/><path fill="#fff200" d="M-111.8 -113.4l225.2 0 0 50.4 -6.5 -1.6 -6.4 -.6 -21.1 1.8 -6.5 -.4 -6.5 -1.3 -17.8 -5.2 -14.6 -5.9 -4.8 -1.3 -3.3 -.2 -11.3 2.3 -6.5 -.9 -4.9 -2.1 -9.7 -5.7 -17.8 -14.9 -9.7 -6.6 -6.5 -3.2 -4.9 -1.6 -9.7 -1.2 -6.5 .8 -4.8 1.4 -4.9 2.4 -4.8 3.3 -3.4 3.2 -4 4.9 -7.7 13 -3.6 4.8 -3.7 3.3 -10.1 6.4 -4.8 4.1 0 -49.4zM17.8 -61.7l8.1 .1 16.2 -1.2 3.3 .5 4.8 2.3 8.1 7.1 3.3 4.5 2.4 6.3 1.9 11.3 1.8 25.9 -.2 16.2 -1.3 9.8 -8.3 45.3 -2.9 6.5 -4.8 4.4 -6.5 2.5 -9.7 1.3 -22.7 1 -24.3 -.7 -8.1 -1.1 -3.2 -1.1 -3.4 -3 -2.1 -4.9 -1.3 -6.5 -2 -27.5 .7 -6 1.6 -4.2 1.6 -2.1 3.3 -1.9 3.2 -.6 11.4 -.4 8.1 -2.2 3.2 -2 3.2 -3.1 3.8 -6.7 2.2 -9.7 .1 -6.5 -.6 -4.9 -2.2 -6.5 -7.8 -12.9 -1.1 -4.9 .2 -4.8 2.2 -7.5 3.6 -5.5 6.1 -4.6 3.3 -1.3 3.7 -.6zM-32.4 -24.3l4.9 0 4.8 1.8 2.9 3.1 2 4.1 1.4 7.2 -.2 4.9 -2 4.8 -2.5 2.4 -1.6 .7 -8.1 .5 -4.8 -1 -3.6 -2.6 -3 -4.8 -1 -6.5 1.2 -6.5 3.2 -4.9 3.2 -2.2 3.1 -1z"/><path fill="#ffd900" d="M-111.8 -113.4l25.1 0 -8.9 8.1 -17.8 20.3 0 -28.4zM-27.5 -113.4l140.9 0 0 36.9 -11.3 -2.2 -21.1 -1.4 -14.6 -4.3 -6.4 -1.1 -17.9 -.2 -14.6 -1.1 -14.5 2.2 -6.5 -.5 -6.5 -2.4 -5.2 -3.2 -3.7 -3.3 -12.2 -12.8 -7.9 -6.6zM27.5 -53.6l8.1 -.4 8.1 1.8 4.9 2.6 3.2 2.5 5.6 6.6 4.2 9.4 3.1 11.7 1.6 14.5 -.1 13 -1.9 13 -4.3 17.3 -4.9 16.7 -2 4.9 -2.9 5 -4.8 4.8 -6.5 3 -8.1 1.8 -13 1.4 -9.7 .1 -14.6 -1.4 -6.5 -1.5 -3.7 -1.9 -3.3 -3.2 -2.2 -4.9 -1.2 -6.5 -.6 -11.3 1.1 -6.5 2.9 -4.9 4.5 -3.2 10.6 -4.7 4.9 -2.8 4.9 -5 3.4 -7 2.2 -9.7 .3 -9.7 -1.7 -9.7 -5.4 -14.6 -.1 -6.5 1.5 -4.8 3 -4.3 4.9 -3.4 4.8 -1.5 8.1 -.6zM-32.4 -18.3l3.2 -.6 3.3 .5 3.2 2.1 1.6 1.9 1.7 3.4 .8 4.5 -.8 4 -2.4 2.5 -2.5 .6 -8.1 -1.5 -3.2 -2.2 -1.4 -1.8 -1 -3.2 .5 -4.9 1.9 -3 2.3 -1.8z"/><path fill="#ffbf00" d="M-111.8 -113.4l2 0 -3.6 3.8 0 -3.8zM-13 -113.4l126.4 0 0 20.1 -38.9 -10.2 -6.4 -1.2 -4.9 -.3 -6.5 1.4 -9.2 6.4 -5.4 2.2 -4.8 .7 -11.4 -.5 -11.3 3.4 -4.9 .5 -6.5 -1.2 -5.3 -3.5 -2.9 -3.2 -9.4 -14.6zM22.7 -48.7l9.7 -.7 6.5 .8 6.5 2.7 6.3 5.4 4.4 6.5 5.9 12.9 2 8.1 1.1 11.4 -.5 11.3 -3 14.6 -4.9 14.4 -6.5 14.3 -4.8 6.8 -4.9 4 -6.5 3.1 -8.1 2.1 -9.7 1.2 -8.1 .1 -8.1 -1 -6.5 -1.9 -4.3 -2.6 -2.8 -3.2 -2.1 -4.9 -.9 -6.5 .9 -6.5 2.5 -4.8 3.5 -3.5 12.9 -8.9 3.3 -3.8 2.4 -4.9 2.7 -11.3 .8 -13 -1.1 -9.5 -3.3 -13.2 -.2 -6.4 1.6 -4.9 3.6 -4.3 3.6 -2.2 5.4 -1.6zM-29.2 -13.2l3.3 .2 3.2 2.6 1.4 3.9 -.1 1.6 -1.3 2.2 -1.6 .6 -3.2 -.7 -3.3 -2.1 -1.1 -1.6 -.4 -3.2 .7 -1.6 2 -1.7z"/><path fill="#ffa600" d="M0 -113.4l23.7 0 -2.2 3.2 -2.8 6.5 -2.5 3.2 -3.2 2.4 -4.9 1.1 -3.2 -.7 -3.3 -2.8 -1.3 -3.2 -.6 -4.9 -1.3 -4.8zM25.9 -45.5l8.1 -.2 6.5 1.7 5.9 3.5 4.6 4.9 7.3 11.9 2.6 5.9 2.3 9.7 .5 11.3 -1.6 11.4 -3.8 13 -4.8 10.4 -6.5 10.2 -4.9 5.4 -6.5 4.7 -7.8 3.3 -8.4 1.9 -6.4 .7 -6.5 -.1 -4.9 -.9 -4 -1.6 -2.5 -1.7 -2.7 -3.2 -1.4 -3.2 -.4 -4.9 1.4 -4.9 2.1 -3.2 12.4 -10.3 3.1 -4.3 1.4 -3.2 2 -10.4 .8 -15.5 -.4 -9.8 -2.4 -14.5 .3 -6.5 1.7 -4.1 3.2 -3.7 3.3 -1.9 5.5 -1.7z"/><path fill="#ff8c00" d="M25.9 -42.2l6.5 -.4 6.5 1.5 4.8 2.6 4.9 4.6 8.1 11.8 2.9 5.9 2.4 9.7 .3 9.7 -1.5 9.8 -3.6 11.3 -3.7 7.7 -4.9 6.6 -6.5 6.4 -6.5 4.4 -8.1 3.8 -8.1 2.5 -8.1 1.2 -6.4 -.6 -3 -1.2 -1.9 -1.6 -1.1 -1.7 -.6 -3.2 .9 -3.2 1.1 -1.7 9.6 -8.1 2.6 -3.2 1.5 -3.2 1.2 -8.1 .1 -24.3 -.4 -9.8 -1.4 -12.9 .3 -4.9 1.8 -4.8 2.2 -2.8 3.3 -2.2 4.3 -1.5z"/><path fill="#ff7300" d="M25.9 -39.1l4.9 -.6 4.8 .6 4.9 2 4.9 3.6 3.7 4.3 7.6 11.1 2.7 6.8 1.3 6.4 .3 6.5 -1 8 -2.5 8.2 -3.6 8.1 -3.7 5.3 -3.2 3.3 -4.9 3.4 -4.8 2.1 -4.9 1 -3.2 -.1 -3.3 -.9 -1.6 -1.2 -2.2 -4.8 -4.1 -17.8 -1.1 -11.3 -1 -32.4 .7 -3.3 1.7 -3.2 2.8 -2.9 4.1 -2z"/><path fill="#ff5900" d="M25.9 -36.1l4.9 -.8 4.8 .7 4.8 2.2 3.3 2.5 3.3 3.3 6.8 8.8 2.9 5.4 2 5.9 .9 6.5 -.1 4.8 -1.2 6.3 -2.3 6.7 -2.5 5.4 -3.3 4.8 -3.2 3.1 -4.9 2.7 -3.2 .8 -3.3 0 -4.8 -2 -6.5 -7.3 -2.3 -4.3 -1.7 -4.8 -1.9 -13 -.6 -25.9 1.8 -6.5 2.6 -3.2 2.7 -1.6z"/><path fill="#ff4000" d="M30.8 -34.1l4.8 .8 3.3 1.4 6.5 5.2 8.3 10.5 2.3 4.9 1.8 6.4 .5 4.9 -.5 4.9 -1.9 6.4 -2.4 5.5 -3.3 5 -3.2 3.2 -3.3 1.8 -3.2 .9 -3.2 0 -3.3 -1 -3.2 -2.1 -3.3 -2.9 -2.8 -3.9 -1.7 -3.2 -2.7 -9.7 -.6 -6.5 -.2 -14.6 .8 -9.7 1.4 -3.3 2.6 -2.9 3.2 -1.5 2.5 -.4z"/><path fill="#ff2600" d="M29.2 -31.1l3.2 -.1 3.2 .7 3.3 1.5 4.8 3.7 4.9 5.2 3.2 4.4 2.4 4.4 1.7 4.8 .9 4.9 -.1 3.2 -1 4.9 -1.8 4.8 -2.1 3.9 -3.2 4.1 -3.2 2.6 -3.3 1.3 -4.8 0 -3.3 -1.1 -3.2 -2.1 -4.9 -5.4 -3.4 -8.1 -1.3 -9.7 .5 -17.9 .6 -3.2 1.4 -3.2 2.2 -2.3 2.2 -1z"/><path fill="#ff0d00" d="M29.2 -28l3.2 -.2 3.2 .7 6.5 3.8 4.9 4.7 3.2 4.1 4 8.4 1 6.5 -1.7 7.5 -2 3.8 -2.9 4 -4.9 3.5 -4.8 .8 -3.3 -.8 -3.2 -1.7 -4.9 -4.8 -3.2 -6.6 -1.5 -8.9 .5 -13 1.8 -8.1 .9 -1.6 2.1 -1.6z"/><path fill="#f20000" d="M30.8 -24.7l4.8 .3 6.5 3.6 6.5 7 3.7 7.3 1.2 6.5 -1.1 4.9 -3.8 6.4 -4.9 3.8 -4.8 .8 -4.9 -1.5 -4.8 -4.3 -3.3 -5.8 -1.4 -7.5 .7 -11.4 1.8 -6.5 .9 -1.6 2 -1.6z"/><path fill="#d90000" d="M34 -21.1l4.9 1.3 3.2 2.1 3.3 3.1 3.3 4.9 2.4 6.5 0 4.8 -2.5 5.4 -3.2 3.4 -4.9 1.9 -4.9 -.8 -3.2 -2.1 -3.2 -3.7 -2.4 -5.7 -.3 -6.5 1.2 -8.1 2.4 -4.8 3.4 -1.7z"/><path fill="#bf0000" d="M34 -17l3.3 0 4.8 2.6 3.3 3.6 2.2 4.3 1.1 4.9 -.5 3.2 -1.7 3.3 -2.8 2.4 -3.2 1.2 -4.9 -.9 -3.2 -2.4 -2.4 -3.6 -1.1 -3.2 0 -6.5 1.3 -4.9 2.2 -3.2z"/><path fill="#a60000" d="M37.3 -13l3.2 1.3 1.6 1.5 2.8 5.3 .3 3.3 -.4 1.6 -1.1 1.9 -3.2 2 -3.2 -.2 -1.7 -.8 -1.6 -1.4 -1.8 -3.1 -.5 -3.3 .7 -4.4 1.6 -2.6 2.4 -1.1z"/></g><path fill="none" stroke="#000" stroke-width="1.35" d="M-84.3 -31l-2.7 1.8 -2.1 2.4 -2.6 4.1 -2.3 5.1 -5.4 14.4 -1.1 4.9 -.1 6.4 .7 4.9 1.7 6.4 2.6 6.9 2.3 4.5 2.6 3.2 3.2 2.3 3.2 1.1 3.3 .3 3.2 -.6 3.3 -1.5 3.2 -3.1 1.6 -2.4 1.9 -4.2 1.7 -6.5 .9 -6.4 .1 -4.9 -3.6 -27.5 -1.7 -6.5 -2.3 -3.3 -3.5 -2.2 -3.2 -.6 -4.9 1M87.5 -23l-3.2 1.8 -3.8 3.4 -1.9 3.2 -1.5 4.9 -.6 8.1 1.9 16.2 .2 12.9 .8 4 1.6 4.3 1.6 3.2 3.3 4.4 1.6 1.5 3.2 1.9 3.3 .6 2.5 -.4 2.3 -1.3 1.7 -1.9 1.2 -3.3 .6 -3.2 .8 -21.1 -.1 -14.6 1.1 -9.7 -.1 -4.9 -1.5 -4.8 -2 -2.9 -1.7 -1.4 -4.8 -1.8 -4.9 .4zM113.4 -35.6l-4.8 -3.6 -6.5 -2.3 -6.5 -.2 -6.5 1.8 -4.8 2.8 -4.9 4.9 -4.9 7.4 -2 5.4 -1.2 9.7 .2 21 -1.6 21.1 .2 14.6 1.2 8.1 2.8 8.1 3.7 6 6.6 8.6 2.2 4.8 .6 4.9 -.6 3.2 -1.7 3.3 -2.3 2.4 -3.2 2.1 -4.9 1.8 -9.7 1.3 -13 -.4 -29.1 -2.4 -34 .3 -21.1 -.5 -11.3 .4 -4.9 .9 -3.2 1.2 -21.9 12.3M-113.4 57.3l1.6 3.3 3.2 3.8 3.3 2.2 4.8 1.8 6.5 .5 14.6 -.5 13 1.9 3.2 -.5 3.2 -2.6 2.5 -4 2.2 -4.9 1.6 -6.5 0 -24.3 1.5 -9.7 .3 -4.8 -1.9 -14.6 -.2 -9.7 1.1 -13 1.8 -8.1 2.5 -6.5 3.2 -4.2 4.9 -2.6 9.7 -2.2 3.3 -1.2 3.2 -2.9 1.3 -3.1 .5 -3.2 -.2 -3.3 -1.6 -4.9 -3.1 -4.8 -3.4 -3.1 -6.1 -3.4 -6.8 -2.5 -4.9 -.8 -3.2 .8 -1.7 1.7 -.6 2.4 .2 9.8 -.5 3.2 -1.9 4.9 -2.6 3.2 -4.3 2.9 -4.8 2 -8.2 2.2 -14.5 2.2 -3.3 1.1 -3.2 1.8 -2.7 2.4 -2.4 3.2 -4.9 11.4 -6.2 11M-6.5 -19.8l-2.4 2 -1.3 3.2 -.6 4.9 .4 9.7 .7 3.5 1.6 2.8 1.6 1.2 3.3 .4 3.2 -1.4 3.2 -3.8 1.7 -4.9 .3 -5.9 -1 -4.9 -2.6 -4.2 -3.2 -2.3 -3.3 -.6zM-82.6 -113.4l-4.9 3.8 -4.9 4.7 -21 23.9M113.4 -74.1l-11.3 -2.1 -21.1 -1 -16.2 -4.6 -8.1 -1.4 -13 -.7 -14.5 -1.6 -4.9 .2 -11.3 1.9 -6.5 -.6 -6.5 -2.4 -6.5 -4.1 -14.6 -14.3 -10.8 -8.6M16.2 -53.7l4.9 -.6 16.2 -.6 4.8 1 6.5 3.1 6.5 5.4 3.4 4.9 3.3 8.1 3 11.5 1.8 17.7 -.4 14.5 -3 16.3 -6.5 24.9 -3.2 9.1 -3.3 5.5 -4.8 4.3 -6.5 2.8 -9.7 1.8 -14.6 1.1 -9.7 -.3 -16.2 -1.8 -4.9 -1.5 -3.3 -2.2 -1.6 -1.8 -1.6 -2.9 -1.4 -5 -1.2 -11.4 -.1 -6.5 .8 -4.8 1.9 -4.4 1.9 -2.1 3 -2 12.9 -5.2 4.9 -2.8 4.9 -5.1 3.2 -6.5 2.1 -9.2 .5 -6.5 -.2 -4.8 -1.7 -8.1 -5.8 -14.6 -.4 -6.5 1.4 -4.8 3.1 -4.9 4.2 -3.2 4.2 -1.7zM-30.8 -19.7l3.3 0 3.2 1.2 3.2 3.1 1.7 3 1.1 4.3 -.4 4.9 -.7 1.7 -1.4 1.5 -1.9 1 -1.6 .1 -8.1 -1.2 -3.2 -1.8 -2.4 -3 -.9 -3.2 .4 -4.9 1.2 -2.5 1.7 -1.9 3.7 -2zM27.5 -42.2l6.5 .1 6.5 2 4.9 3.2 4.8 5.5 6.9 10.3 2.9 6.5 1.2 4.9 1 6.5 -.3 9.7 -1.9 9.1 -3.6 10.3 -4.6 8 -4.8 5.9 -6.5 5.7 -6.5 3.9 -9.7 3.9 -9.7 2.4 -6.5 .3 -4.9 -1.2 -1.9 -1.3 -1.3 -1.6 -.9 -3.3 .9 -3.1 1.3 -1.8 8 -6.4 3 -3.3 1.8 -3.2 .9 -3.3 .6 -6.4 -.2 -27.6 -1.7 -19.4 .8 -6.5 1.7 -3.6 2.7 -2.9 3.8 -2.1 4.4 -1.1zM27.5 -32.6l3.3 -.5 3.2 .4 4.9 1.9 3.2 2.2 4.9 4.7 4.8 6.1 2.9 4.8 1.8 4.9 1 4.9 .2 4.8 -.8 4.9 -1.7 4.8 -1.7 3.9 -3.3 5 -3.2 3.2 -3.3 1.9 -3.2 .8 -3.2 -.1 -3.3 -1.1 -3.2 -2 -4.9 -5.1 -1.9 -3.2 -1.9 -4.9 -1.1 -4.8 -.7 -6.5 .2 -21.1 .7 -3.2 1.5 -3.1 1.6 -1.8 2.8 -1.6zM30.8 -21.9l1.6 -.6 3.2 .2 4.9 2.2 3.2 2.6 2.7 2.9 4 6.5 1.5 4.9 .3 3.2 -.4 2.1 -2.8 6 -3.6 3.7 -1.7 .9 -3.2 .9 -4.9 -.7 -4.8 -3.5 -3.3 -4.8 -1.7 -6.2 .1 -8.1 1.6 -7.9 2.2 -3.5z"/></g></g><use href="#hd"/></g><g transform="translate(1081.0,1731.9)"><g transform="scale(1,1.0027)"><g clip-path="url(#disc)"><g filter="url(#sm)"><rect x="-112" y="-112" width="224" height="224" fill="#008cff"/><path fill="#00a6ff" d="M-111.8 -113.4l225.2 0 0 226.8 -226.8 0 0 -226.8zM44 -9.7l-2 3.2 .1 3.3 .7 1.6 1 1.6 2.4 1.6 2.4 .2 1.6 -.8 1.9 -2.6 .3 -3.3 -.6 -2 -1.6 -2.5 -1.6 -1 -3.2 -.1z"/><path fill="#00bfff" d="M-111.8 -113.4l225.2 0 0 226.8 -226.8 0 0 -226.8zM44.6 -14.6l-2.7 1.6 -2.3 3.3 -.9 3.2 .2 4.9 1.6 4 3.2 3.7 3.3 1.3 3.2 -.5 3.3 -2.4 1.7 -2.9 .9 -3.2 -.2 -4.9 -1.1 -3.2 -3 -3.8 -3.2 -1.5 -3.2 .1z"/><path fill="#00d9ff" d="M-111.8 -113.4l225.2 0 0 226.8 -226.8 0 0 -226.8zM42.8 -17.8l-3.9 3.4 -2.5 4.7 -.7 4.8 1 6.5 2.2 5.1 1.6 2.2 3 2.4 3.5 1.2 3.2 -.4 1.6 -.7 3.3 -2.9 2.9 -5.3 1.1 -6.4 -.8 -5.7 -2.6 -5.7 -3.4 -3.2 -3.7 -1.3 -4.9 .8z"/><path fill="#00f2ff" d="M-111.8 -113.4l225.2 0 0 226.8 -226.8 0 0 -226.8zM44.4 -22.7l-2.3 1 -3.2 2.6 -4.2 6.1 -1.6 6.5 .4 6.5 2.1 8 3.3 5.3 4.8 3.8 3.3 .9 3.2 -.4 4.9 -3.2 4.1 -6.3 2 -6.5 .3 -8.1 -1.5 -6.5 -1.7 -3.4 -2.2 -3 -2.6 -2.3 -3.3 -1.4 -4.8 .1z"/><path fill="#0dfff2" d="M-111.8 -113.4l225.2 0 0 226.8 -226.8 0 0 -226.8zM45.1 -27.5l-3 1.3 -3.2 2.4 -3.3 3.6 -2.6 4 -2.2 6.5 -.2 8.1 2 11.3 2.2 4.9 2.1 3.2 3.6 3.7 3.2 2 3.3 .8 3.2 -.3 4.9 -3.1 3.2 -4.2 2.1 -3.7 3.1 -9.8 .4 -9.7 -.7 -4.8 -1.6 -5.3 -2.4 -4.5 -2.5 -3.2 -4.9 -3.2 -3.2 -.6 -3.2 .4z"/><path fill="#26ffd9" d="M-111.8 -113.4l225.2 0 0 226.8 -226.8 0 0 -226.8zM48.4 -34l-3 .6 -3.3 1.6 -6.5 6.3 -5.9 9.3 -1.6 4.9 -.5 4.8 1.3 16.2 1.4 4.9 2.1 4.7 3.2 5 4.9 5 4.9 2.4 3.2 .2 3.2 -1 3.3 -2.4 5.2 -7.4 2.9 -6.5 1.6 -5.4 1.1 -6 .5 -6.4 -.4 -6.5 -.9 -4.9 -3.7 -9.7 -3.1 -4.7 -3.2 -3 -3.3 -1.6 -3.2 -.5z"/><path fill="#40ffbf" d="M-111.8 -113.4l225.2 0 0 226.8 -226.8 0 0 -226.8zM45.3 -42.1l-4.8 3.4 -3.2 3.8 -8.7 13.8 -2.4 4.9 -1.9 8.1 .4 16.2 1 6.5 1.5 4.8 5.2 10.6 3.2 5.1 4.9 5.3 3.2 2.2 3.3 .8 3.2 -.8 3.3 -2.4 4.8 -6.2 3.3 -6 2.8 -6.9 2 -6.8 1.6 -7.8 .6 -14.6 -.8 -6.5 -2 -8.1 -2.6 -7.2 -3.2 -6.5 -3.3 -4 -3.2 -2.1 -3.3 -.7 -4.8 1z"/><path fill="#59ffa6" d="M-111.8 -113.4l225.2 0 0 226.8 -180.9 0 3.2 -4.8 3.1 -3.3 12.6 -8.5 2.3 -2.8 1.3 -3.3 -.2 -4.8 -1.8 -3.3 -1.6 -1.6 -4.9 -2.6 -4.8 -.8 -9.8 .4 -11.3 2 -22.7 9.2 -11.3 2.7 0 -205.3zM49.4 -66.4l-5.7 4.5 -3.2 4 -3.2 5.4 -9.2 25 -6 11.3 -1.3 4.9 -.5 4.8 -.1 16.2 .7 6.5 5.7 19.4 6.4 17.9 .4 4.8 -.9 9.8 .5 3.2 1 1.8 3.3 2 3.2 .3 4.9 -1.4 3.2 -2.3 3.2 -3.7 3.3 -5.5 2.4 -5.8 10.9 -37.3 1.7 -9.7 .9 -11.3 -.3 -11.4 -3.6 -21 -1 -16.2 -.7 -4.9 -2.3 -4.9 -4.8 -5 -4.8 -2.3 -3.3 .5z"/><path fill="#73ff8c" d="M-111.8 -113.4l225.2 0 0 226.8 -142.2 0 -2.8 -1.6 -1.7 -3.2 0 -3.3 2.4 -12.9 -1 -6.5 -1.6 -3.3 -2.7 -3.2 -7.3 -4.9 -5.1 -2 -6.5 -1.6 -16.2 -1.7 -13 -.2 -21 1.6 -8.1 -.4 0 -183.6zM42 -89.1l-4.7 2.8 -3.3 3.7 -6.7 11.3 -1.9 6.5 -.8 8.1 .3 14.6 -.7 8.1 -1.5 5.5 -5.5 12.3 -2 9.7 -.8 19.5 1.8 25.9 -.9 8.1 -1.2 3.2 -2 3.3 -12.6 14.6 -1.9 4.8 .8 2.7 1.6 1.2 9.7 .7 3.3 .8 4.8 2.6 8.1 6.6 11.4 11.6 1.6 .8 3.2 .2 4.9 -1.5 8.1 -4 5.6 -3.9 4 -4.8 1.9 -4.9 .8 -6.5 -.6 -16.2 .5 -9.7 4.7 -30.8 1 -11.3 .5 -16.2 -1.5 -17.8 .2 -6.5 2.6 -8.1 9.2 -13 .9 -4.9 -.8 -3.2 -2.1 -3.2 -15.7 -16.2 -4.7 -4 -4.9 -2.5 -4.9 -1.2 -4.8 0 -4.9 1.1z"/><path fill="#8cff73" d="M-111.8 -113.4l99.6 0 -4 6.1 -3.3 8.5 -1.1 8.1 1.1 4.8 1.7 2.3 3.1 2.6 20.9 12.9 3.5 3.7 2.7 4.4 1.8 4.9 1.5 6.5 .8 6.5 -.1 6.5 -.9 4.8 -4.3 13 -1.9 8.1 -1.6 12.9 -2 24.3 -1.8 9.8 -2.8 6.4 -3.1 4.9 -5.1 6.5 -5.9 6.3 -4.8 4.2 -3.3 2 -3.2 1.3 -4.9 .6 -6.4 -.8 -26 -5 -42.1 -9.1 -4.9 -2 -4.8 -4.5 0 -161.5zM42.1 -113.4l71.3 0 0 39.1 -3.4 -3.5 -4.7 -2.8 -14.6 -5 -4.8 -2.2 -11.6 -9.4 -6.2 -4.1 -6.5 -3 -9.8 -3.4 -10.7 -5.7zM113.4 -59.7l0 152.8 -8.1 -4.1 -8.1 -5.4 -8.1 -6.9 -6.5 -6.6 -3.2 -4.4 -3.2 -6.3 -1.5 -5.9 -.4 -6.5 1.9 -56.7 -.4 -16.2 1.2 -6.5 1.6 -3.2 2.3 -3.3 5 -4.3 8.1 -4.9 12.9 -5.4 2.4 -1.6 3.2 -3.2zM3.2 85.7l4.9 0 4.9 1.2 4.8 3.1 3.5 4 1.5 3.2 .9 4.9 -.7 6.5 -1.5 4.8 -19.6 0 -3.7 -4.8 -4.6 -3.3 -3.4 -3.2 -1.9 -3.3 -.6 -3.2 .9 -3.2 1 -1.7 1.8 -1.6 3.2 -1.6 7.5 -1.6z"/><path fill="#a6ff59" d="M-111.8 -113.4l78.9 0 2.3 25.9 1.1 4.9 1.6 3.2 3.6 3 13 6.5 7.6 5.1 5 4.8 4 6.5 2.1 8.1 0 9.8 -3.2 12.9 -3.9 21.1 -3.4 25.9 -2.9 11.3 -3.1 6.5 -3.3 4.9 -4.2 4.8 -4.5 4 -3.2 2.1 -4.9 1.9 -9.7 1 -11.3 -.8 -8.3 -1.7 -9.7 -3.2 -10 -4.9 -6.8 -4.8 -5 -4.9 -4.9 -6.5 -4.3 -8.1 -2 -6.5 -1 -8.1 .1 -8.1 1.1 -11.3 2.8 -9.7 2.6 -4.7 4.9 -6.7 1.6 -3.2 .1 -1.6 -.3 -1.6 -2.1 -3.3 -10.7 -9.6 -11.3 -11.8 0 -53.1zM103.7 -40.6l9.7 -1.3 0 95.1 -6.5 .3 -11.3 2.1 -4.9 -.7 -3.2 -1.7 -2.7 -3 -1.5 -3.2 -2.3 -8.9 -1.6 -9.3 -.9 -28.8 1.4 -24.3 .6 -3.2 1.8 -3.3 2 -2.3 4.8 -3.4 6.5 -2.5 7.6 -1.5zM1.6 91.9l4.9 -.6 3.2 .7 3.5 2 2.6 3.2 1.1 3.3 -.2 4.8 -2.1 3.9 -3.3 2 -3.2 .1 -3.2 -1.2 -3.3 -2.7 -4.5 -5.3 -1 -3.3 .1 -1.6 1.8 -3.2 2.4 -1.6z"/><path fill="#bfff40" d="M-111.8 -113.4l62.7 0 5.4 8.2 2.4 4.7 2.3 6.5 3.3 13 2.2 4.8 4.3 4.3 13 6.3 5.9 4 4.8 4.9 3.6 6.5 1.3 6.5 -.2 6.4 -7.6 38.9 -2.5 21.1 -3.3 11.3 -2.5 4.9 -3.5 4.8 -4.1 4.1 -3.2 2.4 -3.4 1.6 -4.7 1.5 -9.8 .9 -8.1 -.7 -6.5 -2.1 -8.1 -4.3 -6 -5 -5 -6.5 -9.6 -16.2 -2.6 -6.4 -1.1 -6.5 .1 -6.5 .8 -4.9 1.7 -4.8 2.7 -4.9 19 -21.8 13 -11.7 1.6 -2.8 0 -2.6 -3.2 -1 -13 2.2 -8.1 -.5 -6.5 -2.7 -7.5 -6.1 -4.3 -4.8 -4.6 -6.5 -3.8 -6.5 -3.6 -8.1 -2.1 -6.5 -1.4 -6.5 -.6 -6.4 .2 -6.5zM98.8 -30.9l14.6 .5 0 65.1 -11.3 2.3 -4.9 .2 -3.2 -.8 -3.3 -2 -3.2 -3.9 -1.6 -3.3 -1.6 -6 -2.6 -19.6 .2 -4.8 2 -13 2 -7.4 1.6 -2.4 3.2 -2.5 3.3 -1.4 4.2 -.9zM3.2 98l3.3 -.5 1.6 .7 1.6 1.8 .6 2.1 -.3 1.6 -1.4 1.6 -2.1 .7 -3.3 -.7 -1.4 -1.6 -.4 -1.6 0 -1.6 .9 -1.7z"/><path fill="#d9ff26" d="M-81 -110.3l6.5 -1.4 6.4 1 6.5 2.9 8.1 5.8 4.9 5.1 3.6 6.2 2.1 6.4 2.6 13 1.4 3 2.7 1.9 11.9 3.3 6.2 3.1 5.3 4.9 3.5 6.5 1.2 6.5 -.3 6.5 -3.2 19.4 -4.4 17.8 -1.4 16.2 -1.2 6.5 -2.3 6.5 -3.4 5.7 -4.9 5.1 -4.8 3 -6.5 2.2 -8.1 .5 -6.5 -1.3 -7.8 -3.9 -5.2 -4.4 -4.2 -5.3 -8.8 -14.6 -2.9 -6.5 -1.2 -6.4 0 -4.9 1.6 -6.5 2.4 -4.8 4.8 -6.5 6.7 -7.2 15.9 -12.3 4.9 -4.8 3.8 -6.5 1.4 -6.5 -.5 -4.9 -1.1 -1.6 -1.7 -1 -4.8 -.7 -13 1 -6.5 -.4 -6.5 -2.6 -3.3 -2.8 -2.6 -3.2 -2.6 -4.9 -2.9 -8.1 -1.3 -6.4 0 -4.9 1 -4.9 2 -4.1 3.2 -3.7 3 -1.9zM100.5 -21.1l6.4 .8 6.5 2.4 0 37.5 -6.5 2.4 -6.4 1.2 -4.9 -.8 -3.2 -2.3 -1.7 -2.1 -3.2 -7.5 -1.5 -8.9 .3 -4.8 1.1 -4.9 3.3 -8 3.3 -3.3 3.2 -1.3 2.4 -.4z"/><path fill="#f2ff0d" d="M-71.3 -95.9l4.9 -1.1 4.8 .8 4.9 2.4 4.8 4.7 2.4 4.8 .8 4.9 -1.3 4.9 -3.5 3.2 -4.8 1.8 -6.5 .3 -4.9 -1.4 -4.4 -3.9 -1.6 -3.3 -.8 -3.2 -.3 -6.5 1.7 -4.9 3.4 -3.2zM-29.2 -57l3.3 .1 3.6 1.8 3.1 3.3 2.2 4.8 1 4.9 .1 4.8 -1.4 16.2 -1.5 8.1 -3.6 13 -1.3 16.2 -2.2 8.7 -3.3 5.8 -3.2 3.5 -4.9 3.4 -4.8 1.7 -6.5 .6 -4.9 -.9 -6.5 -3.2 -4.8 -4.1 -5.8 -7.4 -5.6 -9.7 -2.6 -8.1 -.3 -6.5 2.4 -8.1 5.4 -8.3 6.5 -6.4 12.2 -8 8.1 -6.5 5.1 -6.4 4.9 -9.8 2.1 -2.2 2 -1zM97.2 -7.2l1.6 -.6 3.3 .4 1.7 .9 2.3 3.3 1.3 4.8 .1 3.3 -1.5 3.2 -1.7 1.6 -2.2 1 -3.3 .1 -3.2 -1.8 -1.8 -2.5 -.9 -3.3 -.1 -3.2 1.2 -3.8 2.2 -2.7z"/><path fill="#fff200" d="M-63.2 -83.3l2.7 .7 1 1.6 -.3 1.6 -1.8 1.3 -1.7 .3 -1.8 -1.6 -.1 -1.6 .9 -1.6zM-35.6 -34.2l4.8 -1.3 1.6 .3 1.7 1.3 1.6 2.9 1.3 5.1 .4 9.7 -.9 6.5 -2.5 9.7 -1.2 11.3 -1.5 6.5 -3.7 7.2 -3.3 3.4 -3.2 2 -4.9 1.6 -6.4 -.2 -4.9 -1.9 -4.9 -3.7 -4.8 -5.5 -4.6 -7.7 -2.2 -6.5 -.4 -6.5 1 -4.9 2.1 -4.8 3.4 -4.9 3.9 -4 6.5 -4.6 20.8 -10.8z"/><path fill="#ffd900" d="M-42.1 -24.5l3.2 -.3 2.6 .5 2.3 1.1 1.6 1.6 2.2 5.4 .3 6.5 -2.8 16.2 -2.9 8.7 -1.7 2.6 -3.2 3.5 -3.2 2 -3.3 .9 -4.8 -.1 -3.3 -1.2 -3.2 -2.1 -3.3 -3.1 -3.2 -4.4 -1.9 -3.6 -1.4 -4.8 -.3 -4.9 .9 -4.9 1.2 -3.2 4.7 -6.6 3.7 -3.1 4.4 -2.7 10.2 -3.8z"/><path fill="#ffbf00" d="M-48.6 -18.3l4.9 -.8 4.8 1.3 3.1 3.2 1.4 4.9 -.6 8.1 -2.4 8.1 -3.1 5.3 -4.9 3.8 -3.2 .8 -3.2 -.3 -4.9 -2.5 -2.4 -2.3 -2.2 -3.2 -2 -6.5 .7 -6.5 2.2 -4.8 4.6 -4.9 5.8 -3.2z"/><path fill="#ffa600" d="M-50.2 -13.2l4.8 -.9 3.3 1 1.9 1.8 1.4 3.2 0 4.9 -1.6 4.8 -1.7 2.9 -3.3 2.9 -3.2 1.1 -3.2 -.5 -3.3 -2.3 -2.3 -4.1 -.5 -3.2 1 -4.9 2 -3.2 4.2 -3.3z"/><path fill="#ff8c00" d="M-47 -8.4l1.6 .5 1.1 1.4 .2 1.6 -1.3 3 -1.6 1.1 -1.6 .1 -1.5 -.9 -.7 -1.6 .6 -3.3 1.9 -1.6z"/></g><path fill="none" stroke="#000" stroke-width="1.35" d="M43.7 -18.4l-3.3 2.2 -3.4 4.9 -1.3 4.8 .2 4.9 1.4 5.2 3.2 5.4 3.2 2.6 1.7 .7 3.2 .3 3.2 -1.1 1.7 -1.2 3.2 -4 2.2 -6.3 0 -6.5 -.7 -3.2 -1.4 -3.3 -3.3 -4.1 -1.7 -1.1 -3.2 -1 -4.9 .8M43.7 -31l-3.2 2.1 -3.2 3 -5.8 8.1 -2.6 6.5 -.5 3.2 .1 4.9 1.4 12.9 1.6 4.9 2.5 4.9 3.3 4.4 3.2 3.1 4.9 2.4 3.2 .3 3.2 -1 3.3 -2.4 3.2 -4.1 3.3 -6 1.8 -4.9 1.6 -6.4 .7 -6.5 0 -4.9 -.9 -6.2 -1.5 -5.1 -2.1 -4.9 -2.9 -4.3 -3.2 -3.1 -3.3 -1.7 -3.2 -.4 -4.9 1.2M-56.4 113.4l2.2 -4.8 1.6 -1.7 5.6 -3.6 3.1 -2.8 2.4 -3.3 1.4 -3.2 .7 -4.9 -1.3 -4.8 -2.2 -3.3 -4.1 -3.3 -4.8 -2.1 -4.9 -1.1 -6.5 -.5 -9.7 .1 -9.7 1.1 -21.1 5.1 -9.7 1.2M48.6 -79.9l-3.3 2.1 -4.8 5.4 -4.8 7.6 -2.9 6.5 -1.4 4.8 -2 13 -2.4 9.7 -1.1 3.3 -4.4 8.1 -2.3 6.4 -.9 6.5 -.4 14.6 .9 11.3 7.1 30.8 .4 3.3 -.9 3.2 -5.3 9.7 -.3 3.3 .3 1.6 1.6 3.2 3.8 4.9 2 1.9 4.9 2.9 4.9 1.9 3.2 .4 3.2 -.2 3.3 -1 3.2 -1.7 3.3 -2.6 2.4 -3.2 2.4 -5.2 2.1 -7.8 3.7 -21.1 5.7 -24.3 1.6 -11.3 .7 -14.6 -.5 -8.1 -2.2 -16.2 0 -6.5 .9 -6.4 3.3 -9.8 .5 -3.2 -.7 -3.3 -1.7 -3.2 -3.7 -4.9 -6.4 -7.1 -3.3 -3 -3.2 -2 -1.6 -.5 -3.3 .2zM-34.9 -113.4l3.7 27.5 2 6.1 1.6 2 2.1 1.6 15.7 8.1 4.7 3.3 3.7 3.2 3 3.7 2.6 4.4 1.6 4.9 .8 4.9 -.3 8.1 -3.1 12.6 -3.7 19.8 -3.1 24.3 -2.5 11.3 -2.5 6.5 -3.9 6.5 -5.3 6.2 -4.9 4 -6.5 3.1 -8.1 1.2 -11.3 -.5 -9.7 -1.8 -11.4 -4.1 -8.1 -4.4 -6.7 -5.4 -5.6 -6.4 -5.2 -8.1 -3.6 -8.1 -1.8 -9.8 .1 -9.7 1.2 -9.7 1.9 -6.5 3.5 -6.4 8.1 -9.8 1 -3.2 -.1 -1.6 -.9 -2.3 -2.1 -2.6 -12.5 -10.1 -12.9 -13.5M113.4 50.5l-6.5 .6 -8.1 1.7 -4.8 .2 -4.9 -1.5 -3.2 -3.2 -1.6 -3.2 -1.7 -4.9 -2.4 -11 -1.4 -29.2 1.7 -24.3 .8 -3.2 2 -3.3 4.2 -3.7 6.5 -3 6.5 -1.4 12.9 -1.5M3.2 92.2l4.9 0 3.2 1.4 2.5 2 1.9 3.2 .6 3.3 -.4 3.2 -1.9 3.3 -2.7 1.7 -3.2 .3 -3.2 -1.1 -4.8 -4.2 -2.5 -3.2 -.8 -3.3 .9 -3.2 2.3 -2.2 2.5 -1zM-69.7 -99l3.3 -.1 3.2 .5 6.5 3 4.9 4.4 3 5.3 1.3 6.5 -.8 4.9 -2.5 3.2 -2.7 1.6 -3.2 1 -6.5 .8 -3.2 -.3 -3.3 -.9 -3.6 -2.2 -1.5 -1.6 -2 -3.3 -2 -8.1 -.1 -3.2 .5 -3.2 1.4 -3.3 1.2 -1.6 2.9 -2.3 2.7 -.9zM-29.2 -58.5l4.9 .9 3.2 1.9 3.3 3.5 1.8 3.6 1.3 4.9 .3 4.8 -1.8 17.8 -1.5 8.1 -3.6 13 -1.3 16.2 -.9 4.9 -1.6 4.8 -2.6 4.9 -4.7 5.2 -4.9 3.1 -6.4 1.9 -6.5 0 -4.9 -1.2 -6.5 -3.7 -4.8 -4.6 -6.5 -9.1 -5.1 -9.4 -1.9 -6.5 -.2 -6.5 1.1 -4.9 1.3 -3.2 2.8 -4.9 3.6 -4.6 6.5 -6.2 12.8 -8.6 5.9 -4.9 5.2 -6.4 5.5 -11.4 3 -2.5 2.3 -.7zM97.2 -10l3.3 -.7 3.6 1 2.8 2.2 2.5 4.3 1 4.8 -.4 4.9 -1.9 3.2 -2.8 2.3 -2.3 1 -2.5 .3 -3.3 -.7 -3.2 -2.6 -1.6 -2.8 -1.1 -4 .2 -4.8 1.9 -4.9 3.3 -3.2zM-45.4 -21.2l4.9 -.3 3.2 1 1.7 1.2 1.6 2.1 1.1 2.6 .6 6.5 -1.9 11.3 -3.1 8.6 -1.7 2.8 -3.1 3.1 -4.9 2.3 -3.2 .2 -3.3 -.8 -3.2 -1.8 -3.3 -2.8 -2.6 -3.5 -1.6 -3.2 -1.1 -3.2 -.5 -4.9 1.4 -6.5 1.6 -3.2 2.5 -3.3 6.1 -4.8 4 -2 4.2 -1.3z"/></g></g><use href="#hd"/></g><g transform="translate(248.6,2065.7)"><g transform="scale(1,1.0027)"><g clip-path="url(#disc)"><g filter="url(#sm)"><rect x="-112" y="-112" width="224" height="224" fill="#26ffd9"/><path fill="#40ffbf" d="M-111.8 -113.4l225.2 0 0 226.8 -226.8 0 0 -226.8zM100.3 29.2l-.4 1.6 .5 1.6 1.7 .6 .3 -2.2 -1.9 -1.8z"/><path fill="#59ffa6" d="M-111.8 -113.4l225.2 0 0 132.6 -9.7 -.3 -4.9 1.3 -3.2 2.4 -1.6 2.2 -1.3 2.7 -.6 3.3 .3 4.8 .9 3.3 9.7 19.4 1.9 6.5 1.1 6.5 .5 9.7 -.7 13 -2.6 19.4 -1.1 0 -215.5 0 0 -226.8z"/><path fill="#73ff8c" d="M-111.8 -113.4l225.2 0 0 114.9 -6.5 3 -11.3 9.3 -4.9 5.7 -2.9 6.4 -1 4.9 0 6.5 5.3 21 .4 4.9 -.2 6.5 -3 12.9 -10.5 30.8 -192.2 0 0 -33.3 5.7 -21.8 1.4 -11.3 .4 -9.7 -.3 -6.5 -.7 -3.8 -3 -4.3 -3.5 -2.8 0 -133.3z"/><path fill="#8cff73" d="M-79.4 -113.4l192.8 0 0 105.2 -8.1 4.1 -6.5 5.3 -9.1 10.1 -4.9 8.1 -2.2 6.5 -1.4 8.1 .1 6.5 1.9 11.3 .3 4.9 -.9 6.5 -2.4 6.5 -5.7 8.8 -12.8 15.5 -12.9 19.4 -42.8 0 -2.8 -4.3 -1.6 -1.5 -1.6 -.6 -1.6 .8 -1.6 1.8 -1.9 3.8 -90.6 0 -1.4 -11.3 .1 -11.4 1.1 -9.7 3.7 -17.8 .3 -8.1 -3.7 -16.5 -2.3 -14.3 -1.9 -6.5 -2.3 -4.3 -3.2 -3.4 -8.1 -4.4 0 -89.1 9.7 -3.1 4.9 -2.7 4 -3.2 4.1 -4.1 4.4 -5.6 6.7 -11.3zM14.8 27.5l-10.7 6.5 -13.8 6.8 -4.9 4.4 -2.5 5 -.5 4.9 1.2 4.9 1.8 3.5 3.3 3.7 3.2 2.3 3.2 1.2 4.9 .2 3.2 -1.1 4.9 -3.5 4.9 -5.6 3.6 -5.6 2.8 -6.5 2.6 -11.3 .5 -6.5 -1.5 -3.3 -1.6 -.7 -3.2 .2z"/><path fill="#a6ff59" d="M-50.2 -113.4l163.6 0 0 96.8 -9.7 5.7 -8.1 6.6 -8.1 9.2 -6.5 9.7 -3.4 8.1 -2.5 9.7 -.7 6.5 .2 11.3 -.5 4.9 -1.2 3.6 -2.7 4.5 -3 3.2 -4 2.9 -3.2 1.6 -4.9 1.3 -4.9 .5 -4.8 -.4 -3.3 -1.3 -3.2 -2.9 -2.1 -4.9 -.8 -4.9 -.3 -8.1 .8 -17.8 -.6 -6.5 -1.1 -4.8 -5.6 -15.7 -2.5 -5.4 -2.4 -2.1 -1.6 -.6 -3.3 .3 -3.2 1.8 -3.2 3.3 -9.4 13.5 -5.4 6.5 -5.9 4.8 -11.9 8.1 -3.3 3.3 -2.3 3.2 -2.6 6.5 -1.1 6.5 .2 8.1 1.9 16.2 -.9 6.5 -3.1 7 -6.5 9.9 -6.4 7.3 -5.1 3.3 -13.2 0 -1.2 -.6 -3.2 -2.2 -3.7 -3.7 -2.8 -4 -2.9 -5.7 -2.9 -8.1 -1.5 -8.1 .4 -21 -.5 -6.5 -7.5 -17.9 -1.4 -6.4 -.3 -4.9 .4 -4.9 1.6 -5.8 1.6 -3 2.4 -2.5 5.7 -2.5 14.6 -2.5 4.9 -2.4 2.3 -2.3 6.9 -14.6 1.7 -4.9 .4 -4.8 -1.1 -3.3 -3.3 -3.2 -5.3 -2.1 -11.4 -1.8 -3.2 -.1 -3.2 .6 -1.7 1 -1.8 2.4 -5.3 14.6 -2.4 4.8 -2.4 3.3 -2.6 2.4 -3.3 1.6 -4.8 .7 -6.5 -.3 -8.1 -1.8 0 -47 14.6 1.5 12.9 2.9 3.3 -.6 1.6 -1.6 .6 -1.6 2.1 -11.3 3.2 -8.1 3.8 -6.6 14.4 -21 3.4 -6.4 2.2 -6.5z"/><path fill="#bfff40" d="M-34 -111.9l.5 -1.5 146.9 0 0 87.7 -12.9 9.1 -6.5 5.3 -6.5 6.6 -7.6 9.6 -6.3 9.7 -4.9 9.7 -3.3 8.1 -3.8 13.9 -1.6 3.8 -1.7 2 -3.2 1.6 -1.7 -.2 -1.5 -1.7 -.7 -1.6 -2 -12.9 -1.9 -8.1 -7.6 -22.7 -4.7 -17.8 -3.2 -8.1 -2.6 -4.7 -3.3 -3.1 -4.8 -1.2 -4.9 1.6 -3.2 3.2 -6.5 9.9 -4.9 9.7 -5.5 13.7 -4.1 6.5 -6.6 6.2 -15.3 8.4 -4.7 4.8 -1.9 4.9 -3.6 21.1 -1.7 4.8 -1.9 3.3 -3.3 3.3 -4.8 2.3 -4.9 .4 -4.9 -1.5 -4.8 -4.6 -3.3 -6.4 -4.8 -16.6 -5 -14.2 -.8 -4.9 1.4 -3.2 1.9 -1.6 2.5 -1.1 4.8 -.7 11.4 .6 1.9 -.4 2.2 -1.7 2.4 -4.1 8 -20.2 9.2 -19.4 1.3 -4.9 .5 -4.8 -.3 -3.3 -.9 -2 -1.6 -1.5 -3.1 -1.3 -13.1 -2.4 -6.4 -2.5 -2 -1.6 -2.4 -3.2 -1.2 -4.9 .6 -4.9 1.6 -4.1 3.3 -4.7 8.1 -8.5 3.8 -5.4 5.9 -11.5 6.4 -16zM-111.8 -34.5l3.2 -.6 3.3 .7 2.8 2 1.2 1.6 .8 3.3 -.9 3.2 -1.3 1.6 -2.6 1.6 -4.6 0 -3.5 -1.9 0 -10.7 .6 -.3z"/><path fill="#d9ff26" d="M-19.4 -112.3l.5 -1.1 37.6 0 .5 8.1 -.4 8.1 -3.5 21 -1.3 4.9 -2.3 3.2 -3.6 2 -6.5 1.1 -6.5 -.2 -6.3 -1.2 -5 -2 -4.7 -2.9 -3.3 -3.2 -1.8 -3.3 -.9 -3.2 -.1 -8.1 1.8 -8.1 5.6 -14.6zM82.6 -100.5l9.8 -.4 8.1 1 6.4 2.1 6.5 3.8 0 55.8 -6.9 7.4 -22.3 19.5 -17.8 20.2 -4.8 3.7 -3.3 .9 -3.2 -.8 -1.6 -1.1 -3.2 -3.5 -1.7 -2.8 -2.3 -6.9 -1.6 -14.6 -1.8 -6.5 -2.3 -4.8 -3.2 -4.9 -12.8 -16.2 -2 -4.9 -.1 -4.8 1.3 -3.3 1.4 -1.6 10.4 -8.3 14.6 -13.8 8.1 -6.7 4.9 -3 6.5 -2.8 12.6 -2.7zM-19.4 -16.6l3.2 0 1.6 .7 2.5 2.9 1.4 6.5 -.4 8.1 -1.8 6.5 -2.9 4.9 -5.3 4.6 -4.8 2.1 -6.5 .5 -2.8 -.8 -2.1 -1.4 -2.1 -3.4 -.7 -3.3 0 -3.2 1.8 -6.5 4.3 -7.4 6.5 -6.7 6.6 -3.7zM-61.6 39.5l3.3 -.5 3.2 .6 3.3 2 1.6 2.1 1.1 3.3 -.2 4.8 -1.4 3.3 -2.8 2.6 -1.6 .6 -3.2 -.2 -3.3 -2 -2 -2.6 -1.3 -3.3 -.5 -3.2 .6 -3.8 1.7 -2.7z"/><path fill="#f2ff0d" d="M-3.2 -106.9l3.2 -.1 1.6 1.2 1.6 2.6 1.1 4.4 .2 6.4 -1 6.5 -1.4 3.3 -2.1 2.3 -3.2 .3 -2.7 -1 -2.1 -1.6 -2.3 -3.3 -1.3 -4.8 .2 -4.9 1.7 -5 3.2 -4.3 3.2 -2zM63.2 -76.4l6.5 -1.2 6.5 .1 11.3 1.4 8.1 2.6 4.9 3.1 3.5 4 2.3 4.8 .8 4.9 -.4 4.9 -2.3 6.4 -3.9 6.5 -3.8 4.9 -6.4 6.5 -7.7 6.4 -9.7 6.9 -6.5 3.5 -3.2 .6 -1.6 -.5 -1.6 -1.6 -6 -13.7 -8.4 -11.4 -3.8 -6.4 -1.8 -4.9 -.5 -3.2 .2 -3.3 1.1 -3.2 4.6 -6.8 8.1 -6.7 9 -4.4zM-27.5 5.3l1.6 .4 0 2.5 -1.6 1.4 -1.7 -.8 .3 -2.3z"/><path fill="#fff200" d="M66.4 -64.8l4.9 -.1 3.2 .6 6.7 2.7 5.4 4.9 1.9 3.2 .8 3.3 .1 3.2 -.7 3.3 -3.4 6.4 -5.9 5.7 -3.2 1.7 -3.3 1 -3.2 0 -3.3 -.9 -6.1 -4.2 -3.6 -3.8 -3.1 -4.3 -2.6 -6.5 0 -4.9 2.6 -4.8 3.1 -2.9 3.3 -1.8 6.2 -1.8z"/></g><path fill="none" stroke="#000" stroke-width="1.35" d="M113.4 13l-11.3 3.4 -4.9 2.6 -3.2 3.1 -1.4 2.2 -1.7 4.9 -.3 4.8 .9 4.9 8.1 19.4 1.6 6.5 .8 6.5 0 8.1 -.7 8.1 -4.5 25.9M-113.4 -105.9l4.8 -3.3 4.8 -4.2M113.4 -4.2l-6.5 2.9 -6.4 5.2 -8.7 9.1 -2.7 3.6 -2.4 4.5 -2.1 6.4 -.9 8.1 .6 5.9 2.9 15.2 -.2 6.5 -.8 4.9 -3.6 9.2 -10.6 19.9 -7.9 16.2M-106.4 113.4l-.1 -9.7 .8 -9.7 2 -11.4 4.5 -19.4 .8 -6.5 -.1 -4.9 -2.2 -21 -1.4 -6.7 -1.6 -3.7 -3.2 -4.2 -3.3 -2.6 -3.2 -1.9M-6.5 46.5l-1.6 1 -1.6 1.7 -1 2.6 .1 1.7 .9 2.1 1.6 1.4 1.6 .5 1.6 -.1 1.7 -1 1 -1.3 1.6 -3.3 .5 -3.2 -1.5 -2 -3.3 -.5zM-113.4 -57.6l21 1.4 4.2 -.5 2.3 -1.3 1.6 -2.2 4.1 -9.5 3.4 -6.5 18 -27.5 2.4 -4.9 1.7 -4.8M113.4 -15.2l-9.7 5.5 -6.1 4.8 -6.9 7.2 -6.4 8.6 -4.5 8.5 -3.3 11.4 -.9 8.1 .5 14.6 -1.7 6.5 -3.1 5.1 -4.9 4.9 -6.4 3.6 -6.5 1.8 -6.5 1 -4.9 -.2 -3.9 -1.7 -2.7 -3.2 -1.5 -4.4 -.6 -5.3 .2 -9.8 1.2 -19.4 -.3 -4.9 -.9 -4.8 -6.1 -15.1 -1.6 -3.1 -1.6 -2 -1.6 -.9 -1.6 -.2 -1.7 .3 -3.2 1.9 -3.2 3.2 -8.4 11 -4.6 5.4 -5.1 4.3 -14 9.8 -3 3.2 -2.1 3.2 -2.4 6.5 -.7 6.5 .7 8.1 3 14.6 -.3 6.5 -2 6.3 -3.3 6.3 -6.4 9.9 -4.2 5M-71.1 113.4l-3.4 -4.4 -3.3 -6 -2.6 -7.4 -1.5 -6.5 -.9 -9.7 1.4 -17.8 -.1 -6.5 -.9 -3.3 -5.7 -12.9 -1.9 -6.5 -.9 -8.1 .7 -9.7 2.1 -8.1 2.2 -3.8 1.6 -.7 19.5 -2.2 3.7 -1.4 2.8 -2.2 3.2 -5.2 5.1 -10.4 1 -4.9 -.7 -3.2 -1 -1.7 -1.9 -1.6 -5.7 -1.9 -8.1 -.2 -3.3 .6 -2.8 1.5 -2 2.1 -1.7 2.8 -4.8 12.9 -3.3 6.8 -3.2 4.4 -1.6 .8 -3.3 .1 -6.4 -.9 -14.6 -3.2M113.4 -27l-18.8 14 -5.5 5.2 -5.3 6.2 -6.1 8.1 -5.3 8.1 -5.3 9.7 -8.8 18.5 -1.6 1.8 -1.6 -.3 -1.6 -3.2 -11.4 -30.8 -2.2 -7.1 -4.3 -17.2 -3.4 -8.7 -3 -4.4 -3.3 -2.6 -4.8 -1.5 -4.9 .6 -2.2 1.4 -2.7 3.2 -5.6 9.8 -4.7 9.7 -5.4 14.6 -2.6 4.9 -2.4 3.2 -3.1 3.2 -3.7 2.9 -13.8 6.9 -4 2.7 -2 2.1 -1.9 4.9 -1.5 12.9 -1.3 6.5 -1.6 4.9 -2.8 4.9 -3.5 3.1 -4.9 1.7 -4.8 -.2 -3.3 -1.3 -3.2 -2.8 -1.6 -2.1 -3.2 -6.5 -8.1 -27.6 -.5 -4.9 .9 -1.6 1.1 -1 3.3 -1.3 6.5 -.3 11.3 1.5 1.6 -.4 1.5 -1.7 3.8 -13 4.1 -11.3 9.9 -19.5 3.7 -9.7 3.7 -12.9 .1 -1.7 -.7 -1.6 -1.8 -.2 -6.4 1.4 -6.5 .6 -6.5 -.2 -4.9 -1 -3.2 -1.4 -2.9 -2.4 -1.8 -3.3 -.6 -3.2 .7 -4.9 2.4 -4.8 2.6 -3.3 8.1 -8.1 4.5 -6.5 8.1 -18 4.1 -11.1M-110.2 -31.1l3.3 -.3 1.6 .9 1.1 1.3 .4 1.7 -.4 1.6 -1.1 1.4 -1.6 .7 -1.7 0 -1.6 -.7 -1.4 -1.4 -.6 -1.6 .2 -1.7 1.3 -1.6zM10.5 -113.4l2.1 6.5 .6 6.4 -.7 9.8 -1.9 9.7 -2.2 4.8 -1.9 2.3 -3.3 2 -4.8 1 -6.5 -.9 -5.6 -2.7 -4.1 -4.1 -2.5 -5.7 -.5 -6.4 1.1 -6.5 3.5 -9.5 4.1 -6.7M113.4 -46.8l-5 7.9 -7.3 8.1 -20.1 17.8 -16.2 16.4 -3.2 2 -3.3 .7 -3.2 -.9 -1.6 -1.2 -1.8 -2.4 -1.4 -4.8 -.9 -13 -1.4 -6.5 -3.4 -6.5 -10.9 -16.2 -2.2 -4.8 -.5 -3.3 .4 -3.2 2.5 -4.9 4 -4.8 5.8 -5.8 6.5 -5.4 6.5 -4.4 4.9 -2.6 4.8 -1.7 6.5 -1.3 9.7 -.5 8.1 0 6.5 1 4.9 1.5 4.8 2.7 3.3 2.7 3.2 4M-25.9 -6.7l3.2 -.7 3.3 .9 1.6 1.5 1 1.8 .8 3.2 -.2 4.9 -1.9 4.8 -2.5 3.3 -3.7 2.5 -4.9 1 -3.2 -.7 -1.6 -1.1 -1.4 -1.7 -1 -3.3 .5 -4.8 1.9 -4.2 3.2 -4.1 4.5 -3.1zM64.8 -68.1l4.9 -.5 4.8 .4 4.9 1.2 4.9 1.9 3.2 2 3.5 3.1 2.1 3.3 1.1 3.2 .3 3.3 -.8 4.8 -2.1 4.9 -2 3.2 -3.7 4.5 -4.3 3.6 -3.8 2.5 -4.9 1.8 -3.2 .3 -3.3 -.8 -4.8 -3.3 -4.9 -4.9 -4.3 -5.3 -2.9 -4.8 -1.7 -4.9 -.2 -3.2 .5 -3.3 2.7 -4.9 2.7 -2.7 3.2 -2.3 3.3 -1.6 4.6 -1.5z"/></g></g><use href="#hd"/></g><g transform="translate(664.0,2065.7)"><g transform="scale(1,1.0027)"><g clip-path="url(#disc)"><g filter="url(#sm)"><rect x="-112" y="-112" width="224" height="224" fill="#0dfff2"/><path fill="#26ffd9" d="M-111.8 -113.4l225.2 0 0 226.8 -182.4 0 4.5 -4.8 11.8 -6.5 2.5 -2 1.4 -2.9 .1 -1.6 -1.5 -3.2 -3.3 -1.9 -4.8 -.1 -6.9 2 -9.3 4.2 -4.9 .7 -6.5 -1.4 -3.2 -1.8 -4.2 -3.4 -3.9 -4.9 -3.2 -6.4 -2.1 -6.5 -4.5 -19.4 -2.6 -6.5 -3.8 -7.2 0 -153.2z"/><path fill="#40ffbf" d="M-111.8 -113.4l225.2 0 0 226.8 -161 0 5.4 -8.1 1.7 -4.8 .1 -4.9 -2.2 -4.9 -2.8 -2.4 -4.8 -2.2 -26 -4.3 -3.2 -1.1 -2 -1.3 -2.6 -3.2 -2.2 -4.9 -4 -19.5 -3.2 -8.1 -3 -4.8 -10.5 -12.1 -6.5 -9 0 -131.2zM66.2 -79.4l-3 2.5 -1.8 5.6 .3 9.7 2.2 8.1 2.5 3.9 3.3 2.3 4.8 .7 4.9 -1.4 5.3 -3.8 3.7 -4.9 1.3 -3.3 .5 -3.2 -.9 -4.9 -3.4 -4.8 -4.9 -3.1 -8.1 -3.5 -3.2 -.5 -3.3 .5z"/><path fill="#59ffa6" d="M-111.8 -113.4l225.2 0 0 226.8 -145.7 0 1.4 -16.2 -1 -4.8 -2.1 -4.1 -3.3 -3.2 -4.4 -2.5 -14 -3.2 -5.6 -3.2 -5.8 -4.9 -3.9 -6.5 -5.8 -17.8 -5.8 -11.3 -4.4 -4.9 -10.2 -8.1 -4.9 -4.9 -3.7 -4.8 -7.6 -12 0 -114.4zM68.1 -106.9l-4.9 2.3 -3.2 2.3 -3.3 3.3 -3.5 5 -2.2 4.9 -1.3 4.8 -.2 4.9 .7 4.9 7.2 24.3 2.1 4.8 2.1 2.9 3.2 2.7 4.9 1.5 4.8 -.1 6.5 -1.5 6.5 -2.9 6.4 -4.2 5.3 -4.8 3.9 -4.9 2.7 -4.9 2.1 -6.5 .7 -6.4 -.5 -6.5 -2 -6.5 -2.4 -4.9 -4.9 -6.2 -4.8 -4.2 -4.9 -2.9 -6.5 -2.2 -6.4 -.6 -6.5 1z"/><path fill="#73ff8c" d="M-111.8 -113.4l156.4 0 -2.7 8.1 -1.8 8.1 -.5 6.5 .6 8.1 2.1 9.7 6.6 19.4 3.3 13 2 4.9 2.5 3.8 4.1 2.6 5.6 .7 6.5 -1.1 9.7 -2.9 8.1 -3 8.1 -4 8.1 -5.1 6.5 -5.1 0 163.1 -123.5 0 -4.8 -6.5 -6 -17.8 -3.6 -6.5 -3 -2.9 -3.3 -1.9 -16.2 -5.7 -4.8 -3.1 -3 -4.2 -5.8 -13 -13.9 -21 -4.5 -4.9 -11.7 -7.6 -6.5 -5.8 -4.5 -6 -11.7 -18.7 0 -101.2zM-31 -40.5l-1.5 1.6 .4 1.6 1.3 1 1.6 0 1.2 -1 .3 -1.6 -1.1 -1.6 -2 -.2zM17.1 22.7l-3.3 1.6 -2.5 2.3 -1.1 2.6 .3 3.2 2.2 3.2 2.6 1.7 4.1 .7 3.3 -.6 3.2 -1.7 3.1 -3.3 1.2 -3.2 -.3 -3.3 -.9 -1.6 -3.1 -2.1 -3.2 -.5 -4.9 .8z"/><path fill="#8cff73" d="M-111.8 -113.4l127 0 -2.2 3.2 -1.7 .9 -12.9 2.9 -4.9 2.7 -3.5 3.2 -3.3 4.9 -2.4 6.5 -1 6.5 .9 6.4 1.2 1.9 3.3 .9 9.7 -1.9 3.2 -1.5 3.6 -2.6 7.8 -9.5 3.2 -2.8 3.2 -.2 3.3 1.9 3.2 3.3 3.3 4.7 9 20.4 3.4 11.4 2.5 17.8 1.5 6.5 3 6.7 3.2 3.9 1.7 1.2 3.2 1 3.3 -.3 3.2 -.9 17.8 -8.7 17.8 -6.7 14.6 -6.6 0 137.9 -16.4 -6 -12.7 -3.9 -8.1 -1.5 -13 -.9 -6.5 0 -4.9 .6 -17.8 6.1 -8.1 1.7 -8.1 .4 -8.1 -1.3 -6.5 -2.6 -5 -3.5 -4.5 -4.8 -6.7 -9.6 -3.7 -3.4 -4.4 -2.4 -14.1 -5.7 -5.3 -3.7 -3.2 -4 -7.8 -11.7 -17 -19.5 -6 -4.8 -13 -8 -6.5 -6 -6.9 -10.3 -8.2 -16.2 -4.3 -11.3 0 -82.7zM-23.9 -63.2l-5.3 2.8 -6.4 6.2 -4.7 7.2 -2.1 6.5 -.3 4.9 .6 3.8 5.4 15.6 3.1 16.2 1.6 3.2 2.8 3.2 3.3 2.2 9.6 4.4 3.3 3.2 1.7 4.3 5.3 20 3.1 8.1 2.9 4.9 3.2 2.5 4.9 1.6 4.9 .4 6.4 -1 4.9 -2 4.9 -3.4 3.2 -3.4 4.1 -6.1 2.4 -5.2 1.6 -6.1 .4 -6.5 -.8 -4.9 -1.2 -2.6 -1.6 -2 -4.9 -2.6 -6.5 -1.1 -25.9 -2.1 -3.2 -1 -3.3 -2.5 -1.6 -3.9 -1 -6.5 -.2 -8.1 .6 -12.9 -1.1 -8.1 -4.8 -16.8 -3.2 -9.4 -1.6 -2.4 -1.7 -.9 -1.6 0z"/><path fill="#a6ff59" d="M-97.2 -113.4l60.7 0 .6 21 -.8 11.4 -2.5 9.7 -9.6 25.9 -1 4.9 -.2 6.5 .8 6.5 3.1 14.5 1.8 17.9 1.8 6.4 2 3.8 3.2 3.7 9.8 7.1 2.2 3.3 1.7 4.8 1.7 8.1 .2 6.5 -1.4 3.2 -2.8 1.7 -1.6 -.2 -3.3 -2.3 -12 -15.4 -15.2 -12.9 -7.6 -4.9 -15.4 -7.2 -6.5 -4.6 -6.3 -7.6 -5.8 -11.4 -3.3 -9.7 -2.5 -11.3 -1.3 -9.7 -.3 -9.8 1.4 -14.6 7.4 -45.3zM13 -66.6l3.2 -.6 3.2 .1 4.9 2.3 4.9 5.6 3 7.4 .8 6.4 0 16.2 1.3 14.6 -.2 4.9 -.7 3.2 -1.7 3.3 -1.6 1.6 -2.6 1.4 -3.2 .3 -3.2 -.5 -8.4 -2.8 -4.6 -3.8 -1.6 -2.7 -1.1 -3.3 -.8 -4.8 -.7 -13 -5.7 -16.2 -.9 -6.5 1.1 -3.5 3.2 -3.8 4.9 -3.2 5.8 -2.4zM110.2 -23.1l3.2 -1 0 101.3 -19.4 -.7 -19.5 -1.6 -11.5 -2 -9.5 -3.2 -4.9 -2.7 -3.2 -3.8 -1.1 -4.9 .7 -6.5 4 -14.5 2.8 -13.2 2.5 -6.3 4.2 -6.5 11.8 -12.9 10.7 -8.8 10.7 -5.8 17.2 -6.5z"/><path fill="#bfff40" d="M-64.8 -89.1l3.2 -.4 3.3 1.3 3.2 3.6 1.7 5.2 -2.4 24.3 -1.7 8.1 -.4 6.5 .6 8.1 3.1 16.2 .2 8.1 -.8 4.9 -1.6 4.8 -2.3 3.3 -2.9 1.9 -4.8 1 -8.1 -1.1 -6.5 -2.7 -4.8 -4 -4.5 -6.5 -3 -6.5 -2.2 -8.1 -1 -8.1 .1 -6.4 .9 -6.5 2 -6.5 2.8 -5.8 4.8 -7.8 16.2 -23.1 2.2 -2.2 2.6 -1.6zM108.6 -8.5l4.8 -.9 0 60.9 -6.5 2 -11 6.5 -8.4 3.1 -6.5 .7 -4.8 -.5 -5.6 -1.7 -4.2 -2.5 -3.9 -4 -1.4 -3.3 -.3 -3.2 .8 -4.9 3.2 -9.2 4.4 -10.2 3.9 -6.5 6.3 -7.8 6.5 -6.5 6.5 -4.8 6.4 -3.7 8.4 -3.1z"/><path fill="#d9ff26" d="M-76.2 -40.7l3.3 .6 1.6 .9 3.2 3.6 3.9 8.1 2.5 9.7 -.2 6.5 -1.8 4.8 -2.8 3.3 -4.8 1.9 -4.9 -.4 -3.2 -1.5 -1.9 -1.7 -4.3 -6.4 -2.3 -8.1 .1 -8.1 1.9 -5.9 3.3 -4.3 3.2 -2.2 2 -.6z"/><path fill="#f2ff0d" d="M-74.5 -18.4l1.3 .6 -.5 1.6 -.9 0 -.3 -1.6z"/></g><path fill="none" stroke="#000" stroke-width="1.35" d="M-49.3 113.4l5.6 -7.4 1.9 -3.9 .8 -4.9 -1.4 -4.8 -2.8 -3.3 -5 -2.5 -9.8 -1.8 -17.8 -2.1 -3.2 -1.3 -2.5 -2 -2.3 -3.2 -1.9 -4.9 -3.6 -17.8 -2.9 -8.1 -3.9 -6.5 -9.6 -11.4 -5.7 -7.9M69.7 -77.9l-1.6 .3 -2.7 1.4 -2.2 3.6 -.9 6.2 .8 8.1 1.7 5 3.3 4.1 3.2 1.6 4.9 -.1 5.2 -2.5 4.7 -4.9 2.2 -4.9 .3 -4.8 -2 -4.9 -3.4 -3.2 -7 -3.6 -3.3 -1 -3.2 -.4M-30.9 113.4l.9 -16.2 -.9 -4.8 -2.6 -4.9 -3.5 -3.2 -3.5 -1.9 -4.9 -1.5 -8.1 -1.3 -1.6 -.7 -4.8 -2.7 -5.6 -4.9 -2.4 -3.2 -1.6 -3.3 -6.1 -17.8 -5.8 -11.4 -4.2 -4.8 -10 -7.7 -5.5 -5.3 -4.2 -5.4 -8.1 -12.6M69.7 -110.2l-4.9 2.1 -4.8 3.3 -3.3 3.2 -3.2 4.4 -2.5 4.8 -1.6 4.9 -.8 4.9 .2 4.8 2.3 9.7 5.6 17.9 2 4.8 2.1 3.3 3.9 3.2 3.4 1.2 4.8 .2 6.5 -1.2 6.5 -2.5 7.2 -4.2 5.9 -4.8 4.3 -4.9 4 -6.5 2.3 -6.5 1 -6.4 -.2 -6.5 -1.4 -6.5 -2.8 -6.5 -4.1 -6.1 -5.5 -5.2 -5.9 -3.5 -6.4 -2.2 -6.5 -.6 -6.5 .9zM39.1 -113.4l-2 9.7 -.8 6.5 0 6.5 .9 6.4 2.8 11.4 6.7 19.4 4.3 17.9 2 4.8 2.1 3 3.2 2 3.3 .7 4.8 -.2 4.9 -1.2 16.2 -5.4 8.1 -3.3 10 -5.3 7.8 -5.1M5.4 113.4l-8.6 -4.5 -3.3 -2.4 -2.8 -2.8 -3.7 -5.7 -6.5 -13.7 -2.3 -3.3 -2.5 -2.5 -4.9 -3 -15 -5.8 -4.5 -3.3 -2.3 -3.2 -4.4 -9.7 -16.3 -22.7 -6.1 -6.3 -11.3 -7.2 -6.8 -6 -4.9 -6.4 -12.6 -21.2M87.2 113.4l-11 -3 -9.8 -.7 -9.7 .9 -13.3 2.8M-29.2 -47.1l-3.2 1.5 -1.9 1.9 -1.7 3.2 -.3 3.2 .7 2.7 1.6 2.5 3.2 2.2 3.3 .2 3 -1.1 1.8 -1.7 1.3 -3.1 .1 -3.3 -.8 -3.2 -2.2 -3.5 -1.6 -1.1 -3.3 -.4M13 19.4l-4.9 1.8 -4 3.1 -1.3 3.2 .5 4.9 2.3 4.9 4.1 4.3 4.9 1.9 3.2 .2 3.3 -.5 4.8 -2.2 3.3 -2.8 1.6 -2 2.4 -5.4 .1 -4.9 -.9 -2.6 -1.6 -2.1 -3.3 -2 -6.4 -1 -6.5 .8zM-20.5 -113.4l-3.2 9.7 -4 22.7 -1.7 6.5 -2.1 4.8 -7.4 12 -4.6 9.1 -2 6.5 -.6 6.5 .7 6.4 3.9 14.6 2 13 2.1 6.5 1.8 3.2 2.9 3.2 8.9 6.5 3.5 3.3 2.2 3.2 2.1 4.9 4.1 14.5 1.6 9.8 0 3.2 -.6 3.3 -2.1 2.3 -3.2 1 -6.5 -.1 -6.5 -1.5 -4.8 -2.5 -4.9 -4.7 -10.2 -14 -15.7 -16.2 -6.6 -4.9 -14.1 -8.1 -5.7 -4.8 -6 -8.3 -7.3 -14.4 -5.8 -17.8 -3.1 -15M113.4 89.7l-31.5 -7.1 -15.5 -1.3 -14.6 -2.2 -4.8 .3 -4.9 1 -14.6 5.4 -4.8 .6 -4.9 -.3 -6.5 -1.6 -4.8 -2 -4 -3.1 -.9 -1.6 -.2 -1.6 .3 -1.7 1.3 -1.6 1.9 -.9 12.9 -2.9 8.1 -3.4 4.9 -4 3.2 -4.2 6.4 -12.1 3.5 -9.8 1.8 -11.3 .7 -16.2 .2 -1.6 .9 -1.6 7.6 -4.1 13.5 -10.5 12.4 -8 7.3 -3.4 25.1 -9.7M14.6 -76.4l4.8 -1.2 3.3 .7 1.6 1 3.2 3.5 3.3 4.9 4.8 9.9 2.4 9 2.1 22.7 4.9 21 .1 6.5 -.5 1.6 -.9 .7 -4.8 1.5 -8.1 1 -6.5 0 -8.1 -1 -6.5 -1.4 -4.8 -1.7 -3.4 -2.3 -2.1 -3.2 -1 -3.3 -.6 -4.8 .2 -16.2 -6.5 -21.1 -.8 -4.9 .4 -4.8 2.2 -4.9 3.4 -3.2 17.3 -9.8zM113.4 61.9l-22.7 5.6 -8.1 .6 -8.1 -.7 -8.1 -2.2 -6.6 -3.6 -3.1 -2.9 -1.3 -2 -1.3 -4.9 1.3 -8.1 4.7 -16.2 5.6 -9.7 8.8 -11.1 6.7 -6.7 9.5 -6.7 9.8 -4.7 12.9 -3.8M-66.4 -110.6l3.2 -.2 3.2 .9 3.3 2 2.4 2.6 2.5 3.8 2.5 5.9 1.9 6.5 .8 4.8 0 4.9 -.7 4.9 -4.6 21 -2.2 8.1 -.7 4.9 .4 9.7 3.2 17.8 .1 4.9 -.4 6.5 -2 8.1 -1.6 2.6 -3.2 2.1 -3.3 .4 -3.2 -.1 -9.7 -2.3 -6.5 -2.8 -6 -4.8 -4.7 -6.5 -3.8 -8.1 -2.5 -8.1 -1.5 -9.7 -.3 -8.1 .7 -8.1 1.9 -8 2.3 -6.6 10.1 -21 4 -11.4 3 -6.8 4.9 -6.3 4.9 -3.1zM14.6 -53.8l3.2 -.2 1.6 .5 1.7 1.2 1.3 2.1 .6 3.2 -.3 5 -2.3 11.2 -.1 8.1 -.9 2.6 -1.6 1.1 -1.6 -.3 -1.7 -1.8 -.4 -1.6 .8 -6.5 0 -3.2 -4.7 -14.6 .2 -3.2 .9 -1.7 2.3 -1.6zM-77.8 -44.2l3.3 -.4 1.6 .3 3.2 2.1 1.6 2 3.3 6.5 3.5 11 1.1 8.1 -1 6.5 -2.6 4.9 -1.8 1.6 -2.5 1.3 -3.2 .7 -3.2 -.1 -3.3 -.9 -3.2 -2.1 -3.3 -3.7 -1.6 -2.7 -2.7 -7.1 -.9 -4.9 -.1 -4.8 .5 -3.9 1.2 -4.2 1.6 -3.3 2 -2.7 3.3 -2.7 2 -1z"/></g></g><use href="#hd"/></g><g transform="translate(1081.0,2065.7)"><g transform="scale(1,1.0027)"><g clip-path="url(#disc)"><g filter="url(#sm)"><rect x="-112" y="-112" width="224" height="224" fill="#00f2ff"/><path fill="#0dfff2" d="M-111.8 -113.4l225.2 0 0 226.8 -226.8 0 0 -226.8zM96.7 24.3l-2.3 3.2 -.6 3.3 1 4.8 2.4 4.3 3.3 3.1 4.8 2.3 3.3 .5 3.2 -.7 1.2 -1.4 -.4 -3.2 -9.3 -14.6 -1.2 -1.5 -1.6 -1 -3.3 .5z"/><path fill="#26ffd9" d="M-111.8 -113.4l225.2 0 0 124.4 -4.8 -.6 -3.3 .4 -4.8 1.9 -3.3 2.2 -3.2 3.4 -2.5 4.4 -1.4 4.8 -.5 4.9 1.1 9 1.7 4.3 2.6 4.5 7.1 7.9 11.3 9.1 0 46.2 -226.8 0 0 -226.8z"/><path fill="#40ffbf" d="M-111.8 -113.4l225.2 0 0 112.7 -6.4 .7 -3.9 1.6 -5.9 3.8 -4.8 5 -2.5 4.2 -2.2 6.5 -1.7 9.7 -.4 6.5 1.1 9.7 1.6 4.8 2.4 4.6 4.9 6.7 17.8 21 0 29.3 -226.8 0 0 -226.8z"/><path fill="#59ffa6" d="M-95.6 -113.4l209 0 0 106.5 -8.1 1.9 -6.5 2.8 -6.4 4.2 -4.2 4.5 -2.3 4.8 -1.4 4.9 -2.8 19.4 -.5 6.5 .6 8.1 2.5 7.4 3.2 5.9 10.7 15.9 5.7 9.7 5.2 11.4 4.2 12.9 -226.7 0 0 -203.4 4.8 -.1 3.3 -1.9 1.6 -1.9 4.9 -9.3 3 -10.2zM-73.6 -16.2l-4.2 3.2 -1.9 3.3 -.7 3.2 .5 3.3 1.6 1.6 2.1 .4 2.1 -.4 2.8 -1.5 1.9 -1.8 2.2 -3.2 .9 -3.2 -.1 -1.8 -1.7 -2.6 -1.6 -.8 -3.2 0z"/><path fill="#73ff8c" d="M-68.1 -113.4l181.5 0 0 101.3 -9.7 3 -8.1 3.5 -6.6 4 -5 4.8 -1.7 3.3 -1.5 4.8 -1.4 15.3 -3 15.5 0 8.1 1.7 8.1 2.9 6.9 8.7 15.8 3.4 8.1 3.6 11.4 2.4 12.9 -212.5 0 0 -170.6 6.5 3.7 19.4 5.2 3.2 .4 3.3 -.3 3.4 -2 2 -3.3 1.1 -4.9 -.1 -6.4 -1.2 -13 .2 -4.8 6 -21.1 1.5 -9.7zM-73.4 -25.9l-6 3.4 -4.9 4.9 -2.9 6.3 -.8 6.4 .4 3.3 1.4 3.2 3.3 3.3 5.1 1.5 4.9 -.5 4.8 -2.5 4.6 -5 3 -6.5 .6 -4.9 -.5 -3.2 -1.2 -2.9 -3.2 -4.2 -3.3 -2.2 -3.2 -.8 -1.6 .2z"/><path fill="#8cff73" d="M-51.8 -113.4l165.2 0 0 96.4 -12.9 4.9 -8.9 4 -7.3 4.5 -4 3.6 -2.5 4.7 -1.5 5 -1.8 16.2 -3.2 14.6 -.5 8.1 1 9.7 2.3 8.1 6.4 14.6 2 6.5 2 13 .1 12.9 -198 0 0 -159.4 9.7 3.9 6.4 3.2 4.3 3.3 2.5 3.2 .9 4.9 -3.8 14.5 -.6 8.1 1.2 6.5 1.5 3.3 2.2 2.7 3.2 2.4 3.3 1.3 3.2 .7 4.9 .2 6.4 -1.6 3.3 -1.9 2.3 -2.2 3.3 -4.9 3.1 -6.5 1.6 -4.8 .4 -3.3 -1 -6.8 -7 -15.8 -1 -8.1 2.2 -32.5 1.6 -8.1 5.2 -19.4 .9 -9.7zM19.1 -16.2l-2.9 2 -1.9 2.9 -.9 3.2 .1 3.2 1.1 2.7 2.2 2.2 2.6 1 3.3 -.4 1.6 -.9 2 -2.9 .6 -3.3 -.2 -3.2 -.8 -2.5 -1.6 -2.7 -1.6 -1.3 -3.3 -.2zM-5.5 47l-7.5 1.6 -5.5 3.2 -2.2 3.3 -.2 4.9 1.1 3.2 2.6 4.9 10.7 15.8 4.9 4 3.2 .3 3.3 -1.9 3.2 -4.1 10.3 -19 1.3 -3.2 .4 -3.3 -.3 -1.6 -2 -2.6 -3.2 -2.2 -3.3 -1.4 -8.1 -1.9 -8.1 -.1z"/><path fill="#a6ff59" d="M-42.1 -113.4l155.5 0 0 91.3 -22.7 10.1 -9.5 5.5 -5.1 4.9 -2 3.2 -1.9 4.9 -6.6 29.1 -1.1 8.1 0 9.8 .8 11.3 4.2 19.5 .8 8.1 -.9 11.3 -2.8 9.7 -50 0 -.5 -6.5 .2 -8.1 2.5 -14.5 3.4 -8.1 9.3 -13 1.8 -4.9 .1 -4.8 -.9 -3.3 -1.7 -2.8 -4.9 -4.4 -8.1 -3.6 -4.8 -1.1 -4.9 -.3 -19.4 .9 -11.4 1.7 -4.1 1.5 -2.7 1.6 -2.9 3.1 -1.7 3.4 -.5 3.3 .1 3.2 1.6 4.9 2 3.2 10.6 13 5.5 11.3 2.9 11.4 .6 12.9 -102.1 0 0 -150.3 8.1 3.8 2.6 2.3 2 3.3 1 4.8 -.6 14.6 .7 8.1 2.4 8.1 3.2 4.3 3.3 2.3 4.8 1.9 11.4 1.4 4.8 -.1 4.9 -1.1 3.2 -1.6 2.7 -2.2 4.1 -6.5 5.7 -13 1.7 -6.5 -.1 -6.4 -4.3 -13 -1.6 -8.1 -.4 -6.5 .5 -13 1.5 -11.3 6.4 -25.1 2.3 -17zM17.9 -30.8l-2.3 1.6 -2.6 3.1 -4.9 8.3 -2.8 8.1 -.1 6.5 .7 3.2 2.2 4.3 4.9 5 4.8 1.9 3.3 .1 3.2 -.9 4.9 -3.3 3.2 -5.1 1.6 -6.9 -.2 -8.1 -1.9 -8.1 -3.4 -6.4 -4.2 -3.3 -3.2 -.8 -1.7 .2z"/><path fill="#bfff40" d="M-34 -113.4l147.4 0 0 85.5 -6.5 4.3 -25.9 12.5 -4.8 3.4 -4.5 4.5 -3.7 6.4 -13.6 30.8 -2.1 9.7 1.2 9.8 -1.7 2.8 -1.6 .4 -1.6 -2.1 -2.3 -9.2 -2 -3.3 -4.7 -4.8 -11 -8.1 -1.5 -1.7 -.3 -1.6 .6 -1.6 5 -5.3 3.2 -4.7 2 -4.6 1.2 -4.8 1 -8.1 .2 -8.1 -1.1 -7.9 -2 -6.7 -4.5 -9.1 -3.2 -4.6 -4.9 -5.2 -6.5 -4.5 -3.2 -.7 -3.3 .8 -2.3 2.2 -1.5 3.3 -3.5 16.2 -4.7 11.3 -1.2 6.5 .2 6.5 .8 4.8 7.7 19.5 -.3 3.2 -1 1.6 -3.9 2.7 -6.5 1.5 -9.7 .7 -16.1 0 -9.8 1.1 -1.9 .5 -2.4 1.6 -1.5 3.3 -.6 6.4 .2 8.1 .9 6.5 1.5 4.9 3.5 4.9 10 8 3.4 3.3 3 4.9 1.8 4.8 1.4 6.5 .3 6.5 -.9 6.5 -1.6 4.8 -90 0 0 -138.5 2.4 2.4 1.3 3.3 2.7 19.4 .9 11.3 1.6 4.9 2.5 3.2 3.2 2.1 6.4 1.6 13 .8 21.1 3.1 4.8 -.3 1.7 -.9 1.6 -3.1 4.2 -17.8 6.4 -14.6 2.3 -8.1 .2 -3.3 -.6 -3.2 -5.7 -11.3 -2.2 -6.5 -1 -6.5 -.1 -6.5 1.7 -11.3 7.1 -19.5 3.8 -27.5zM38.9 80.5l3.2 -1 1.6 .3 1.7 1.7 .9 2.8 .3 4.8 -.8 3.3 -2 3.2 -1.7 1.3 -3.2 .5 -1.6 -.7 -1.7 -1.9 -1.4 -4.1 0 -4.8 1.4 -2.8 2.4 -2.1z"/><path fill="#d9ff26" d="M-24.3 -113.4l137.7 0 0 77.4 -4.7 5.2 -4.1 3.3 -25.4 12.9 -7.8 4.9 -5.1 4.8 -8 11.5 -3.2 2.5 -3.3 .5 -1.6 -.6 -1.6 -1.6 -1.6 -3.8 -.8 -14.9 -1.4 -8.1 -3.8 -11.4 -10.6 -25.9 -1.6 -8.1 -.8 -13 -.6 -1.6 -1.5 -1.1 -1.6 0 -3.2 1.8 -8.9 9 -10.6 8.1 -3.2 3.3 -2 3.2 -1.1 3.3 -3.4 17.3 -1.6 3.5 -3.3 3 -3.2 0 -13 -6.6 -4.8 -3.6 -3.2 -3.9 -1.7 -3.6 -1.1 -4.5 .1 -8.1 2.6 -8 7.2 -11.5 1.4 -3.2 .9 -19.5 1 -6.4 1.9 -6.5zM-17.8 -18.2l1.6 -.2 1.6 .7 3.3 5 2.6 7.8 2.1 9.8 .6 6.4 -.5 4.1 -1.6 3.2 -3.2 2.4 -3.3 1 -4.8 .5 -4.9 -.4 -4.9 -1.2 -3.2 -1.4 -2.3 -1.7 -2.3 -3.2 -.9 -3.3 0 -3.2 .6 -3.2 3.3 -6.4 8.1 -11.2 3.2 -2.8 4.1 -2.3zM-85.9 34l4.9 -.4 4.8 1 5.5 2.7 4.2 3.2 4.9 6.6 7.1 17.7 4 6.5 3.5 2.9 9.7 5.2 3.8 3.2 2.4 3.3 2.4 6.5 .3 8.1 -1.9 6.4 -2.1 3.4 -2.8 3.1 -67.1 0 -1.5 -8.1 .9 -8.1 2.3 -6.5 6.1 -11.3 .6 -3.2 -1.7 -5.3 -7.3 -9.3 -3 -4.9 -1.1 -3.2 0 -3.3 2.1 -4.8 5 -4.9 7.5 -4.4 6.3 -2.1z"/><path fill="#f2ff0d" d="M-13 -113.4l126.4 0 0 63.7 -3.6 7.6 -5.7 8.1 -3.6 3.2 -4.7 3.3 -16.4 8.4 -16.2 7 -4.9 1 -1.6 -.5 -1.4 -1.4 -1.8 -2.7 -6.2 -13.5 -4.2 -11.3 -3.3 -11.3 -1.7 -8.2 -1.8 -24.3 -2.3 -5.9 -3.2 -3 -4.9 -.9 -3.2 .6 -3.3 1.4 -4.8 4.1 -10.1 11.8 -12.6 9 -3.2 4.7 -3.9 12.3 -2 3.2 -1.8 1.6 -3.7 1.3 -3.2 -.2 -3.3 -1.6 -2.4 -2.7 -1.6 -4.9 .3 -3.2 1.1 -3.3 2.6 -3.8 7.7 -7.5 1.8 -3.2 .7 -4.9 -.9 -13 .4 -6.4 1.7 -6.5 4.5 -8.1zM-22.7 -3.8l3.3 -.4 1.6 .6 2.1 2 1.5 3.2 .5 3.3 -.4 3.2 -1.8 3.2 -1.9 1.6 -3.3 .8 -3.2 -.3 -3.2 -1.9 -1.7 -2.3 -.5 -2.7 .7 -3.3 3.1 -4.4 2.3 -2zM-72.9 64.1l3.2 0 4.9 2.2 4.8 4 6.5 7 11.4 5.3 4.9 4.9 1.6 3.2 .7 3.3 0 3.2 -.7 3.3 -3.3 5.4 -4.8 3.8 -8.6 3.7 -32.1 0 -1.5 -1.7 -1.8 -3.1 -1.4 -4.9 -.1 -3.2 .7 -4.9 2.6 -6.5 5.2 -8.1 3.4 -11.3 1.1 -2.7 2 -2.2z"/><path fill="#fff200" d="M69.7 -112.3l2.3 -1.1 26.4 0 5.3 3.6 4.1 4.5 3.7 6.5 1.9 5.7 0 20.2 -2.2 8.1 -6.4 17.8 -3.1 6.5 -3.6 4.9 -4.1 3.7 -6.6 4.4 -6.4 3.2 -8.1 2.8 -6.5 1.1 -4.8 -.7 -4.7 -3.2 -3.4 -4.7 -4 -8.3 -2.4 -8.1 -2.8 -14.6 -1 -9.7 .4 -12.9 1.6 -8.1 2.4 -4.9 3 -3.2 18.1 -13zM-4.9 -101.2l3.3 -.8 1.6 .2 2.5 1.3 .9 1.7 .3 3.2 -.9 3.2 -1.8 3.3 -2.6 2.5 -3.3 .8 -1.6 -.6 -1.6 -1.3 -1.6 -3 0 -4.9 1.6 -3.1 1.9 -1.8zM-69.7 74.3l3.3 -.4 3.2 .9 8.8 6.2 7.4 3.3 3.8 3.2 2.4 4.9 -.1 4.8 -2.8 4.9 -3.3 2.5 -13 5.1 -6.4 1.2 -3.3 -.2 -3.2 -1 -3.3 -2 -2.2 -2.4 -1.6 -3.2 -.8 -3.3 .5 -6.4 1.7 -4.9 4.1 -8.3 1.6 -2.5 2.8 -2.2z"/><path fill="#ffd900" d="M77.8 -102.3l6.5 -.2 4.8 1.1 4.9 2.3 3.2 2.6 3.3 4.1 2.4 4.9 1.5 6.5 .3 6.5 -.7 6.4 -2.3 9.8 -2.9 9.7 -3.2 7 -3.3 4.3 -5.5 4.9 -5.8 3.3 -6.5 2.2 -6.4 .5 -4.9 -1.4 -4.1 -3 -3.6 -4.8 -2.2 -4.9 -1.7 -6.5 -2.4 -16.2 -.4 -9.7 .4 -4.9 1.1 -4.8 1.5 -3.5 3.3 -4.4 4 -3.5 5.7 -3.6 6.5 -3 5.4 -1.5zM-68.1 79.4l3.3 -.2 3.2 1.1 11.2 5.6 3.5 3.2 1.3 3.3 -.1 3.2 -1.8 3.2 -4.3 3.2 -8.2 2.6 -4.8 .3 -4.9 -1.5 -3.1 -2.9 -1.9 -4.9 .5 -6.5 2.7 -6.5 1.8 -2.2 1.6 -1z"/><path fill="#ffbf00" d="M72.9 -91.1l4.9 -.6 3.2 .3 4.9 1.6 3.2 2.1 3.2 3.4 1.8 3.3 1.6 4.8 .6 4.9 -.2 6.5 -1 6.5 -2.1 8.1 -1.9 4.8 -3 4.9 -3.1 3.2 -4 2.9 -4.8 2 -4.9 .6 -4.9 -.9 -3.2 -1.8 -3.2 -3.3 -1.8 -2.7 -1.9 -4.9 -2.1 -16.2 .4 -11.3 2.1 -7.3 3.1 -4.1 3.4 -2.7 8.2 -3.7zM-63.2 84.2l4.9 1 4.8 2 2.3 1.9 1.3 3.3 -.8 3.2 -1.4 1.6 -3 1.8 -4.9 1 -3.2 -.4 -2 -.8 -2.1 -1.6 -1.7 -3.2 -.2 -3.3 .8 -3.2 2 -2.5 1.9 -.7z"/><path fill="#ffa600" d="M72.9 -81.1l3.3 -.2 3.2 .7 4.3 2.8 3.1 4.9 1.1 3.2 .6 4.9 -.8 9.7 -1.2 4.9 -2 4.8 -4 4.9 -2.7 1.8 -3.3 1.1 -3.2 .3 -3.2 -.7 -3.3 -1.9 -1.6 -1.6 -3 -5.5 -1.2 -8.1 .3 -9.7 2.4 -8.1 2.2 -3.3 2.5 -2.3 3.3 -1.7 2.8 -.8zM-60 89.9l3.3 -.3 1.6 .9 .2 1.9 -1.6 1.6 -1.8 .3 -1.7 -.4 -1.3 -1.5 .2 -1.7z"/><path fill="#ff8c00" d="M69.7 -68.1l3.2 -1 3.3 .9 2 1.8 1.7 3.2 .8 4.9 -1 8.1 -1.4 3.2 -2.1 2.3 -3.3 1.4 -3.8 -.4 -2.7 -1.8 -2.6 -4.7 -.5 -4.9 1.3 -6.5 1.8 -3.4 3.2 -3.1z"/><path fill="#ff7300" d="M71.3 -53.5l0 1.8 -.1 -1.8z"/></g><path fill="none" stroke="#000" stroke-width="1.35" d="M113.4 2.4l-4.8 .3 -4.9 1.7 -5.7 3.7 -4 4 -3.3 5.3 -1.6 4.3 -1.5 7.5 -.5 6.4 .3 4.9 1 4.9 1.8 4.8 2.2 4 6.4 8.1 14.6 15M-113.4 -59.7l8.1 4.7 14.6 3.5 4.8 .6 3.3 -.2 2 -.7 1.8 -1.7 1.3 -3.2 .4 -4.9 -2 -19.4 1.4 -6.5 5 -16.2 1.6 -9.7M113.4 -11.3l-9.7 2.9 -8.1 3.5 -6.5 4.1 -4.1 4 -2.4 4.5 -1.4 5.3 -1.3 14.5 -2.6 13 -.2 8.1 1.4 8.1 2.6 6.5 9.1 16.2 4.5 9.7 3.8 11.4 2.7 12.9M-72.9 -24.5l-4.9 2.3 -4.8 4.3 -3 4.9 -1.3 4.9 0 4.9 1.9 4.8 1.5 1.6 2.5 1.6 4.8 .7 4.9 -1.2 4.9 -3.6 3.2 -4.5 2.2 -5.9 .1 -4.9 -1.1 -3.2 -1.2 -2.1 -3.2 -3.2 -1.7 -.9 -3.2 -.6zM-113.4 -36.1l4.8 2 3 1.7 1.9 1.7 2.2 3.2 1.1 4.8 -.4 14.6 .9 9.7 2 6.5 3.5 4.9 3.7 2.4 4.8 1.7 6.5 1.1 6.5 .4 4.8 -.3 3.3 -.8 3.2 -1.5 3.3 -2.7 2.5 -3.6 1.6 -3.2 5.7 -13 1.7 -6.5 .2 -4.8 -.6 -3.3 -3.9 -11.3 -1.6 -8.1 -.4 -6.5 .3 -11.3 1.3 -11.4 6.7 -25.9 2.5 -17.8M113.4 -22.5l-21.3 9.5 -9.5 5.1 -4 3 -2.4 2.6 -2.5 3.9 -1.4 3.3 -1.9 6.4 -5.1 22.7 -1.5 9.7 0 9.8 .7 11.3 3.8 19.5 .7 8.1 -.9 10.5 -1.5 5.7 -1.9 4.8M18.3 113.4l-.9 -6.5 0 -6.4 .7 -8.1 1.6 -8.1 1.6 -4.9 1.8 -3.2 7.5 -9.8 1.9 -3.2 1.7 -4.9 .1 -4.8 -.9 -3.3 -1.8 -3.2 -2.4 -2.6 -3.3 -2.4 -8.1 -3.5 -4.8 -1.1 -4.9 -.2 -22.7 1.3 -9.7 1.7 -3.2 1.2 -3.7 2.3 -2.6 3.3 -1.4 3.2 -.4 3.3 .1 3.2 1.6 4.9 3.3 4.8 9.6 11.4 2.8 4.8 2.7 6.5 1.9 6.5 .9 4.9 .3 12.9M19.4 -32.5l-3.2 1.5 -1.6 1.5 -4.9 7.2 -3.7 7.7 -1.1 4.1 -.5 4 .9 6.5 1.4 3.2 2.2 3.3 2.4 2.5 3.3 2.1 4.8 1.1 3.3 -.4 3.2 -1.3 3.3 -2.4 1.6 -1.9 1.7 -3 1.1 -3.2 1.1 -8.1 -.3 -4.9 -1 -4.8 -1.5 -4.9 -2.6 -4.8 -1.8 -2.2 -3.2 -2.2 -3.2 -.8 -1.7 .2M113.4 -39.4l-4 5.4 -5.2 4.8 -8.2 4.9 -19.6 9.7 -5.5 3.3 -5.9 4.8 -6.7 8.6 -1.6 1.6 -3.2 1.1 -1.7 -.5 -1.6 -1.6 -1 -2.7 -1 -13 -1.9 -8.1 -10.4 -27.5 -2.5 -8.1 -1.2 -8.1 -.8 -14.6 -.6 -1.9 -1.6 -2.3 -3.3 -1.6 -3.2 .5 -3.3 2 -9.7 10.5 -9.7 7.9 -3.2 3.3 -3.4 5.9 -3.8 13 -1.8 3.2 -1.5 1.6 -2.5 1.5 -3.2 .4 -4.9 -.9 -4.9 -2 -4.8 -3.8 -2.2 -3.3 -1.6 -4.8 -.2 -6.5 .7 -3.5 1.9 -4.6 8 -11.4 1.5 -3.2 .5 -3.2 -.2 -11.4 .4 -6.5 1.3 -6.4 2.2 -6.5M-96 113.4l-1.2 -3.2 -.8 -4.9 .1 -4.8 .7 -3.3 2.5 -6.5 7.3 -11.3 .9 -3.2 -.2 -3.3 -1 -3.2 -7.1 -13 -.9 -3.2 .1 -3.3 2 -4.8 3.2 -3.3 4.5 -2.4 4.9 -.8 3.2 .6 2.7 1 5.4 4 4.3 5.7 7.7 14.6 5.4 8.1 3.7 2.8 6.5 2.9 3.9 2.4 3.5 3.3 2.2 3.2 2 6.5 0 4.8 -.6 3.3 -1.2 3.2 -2.1 3.3 -5.2 4.8M-21.1 -11.4l3.3 -.4 1.6 .5 2.1 1.6 2.8 4.3 2.1 7 .7 6.5 -.6 4.9 -2.2 3.8 -3.3 2 -3.2 .9 -3.3 .1 -6.4 -1.2 -3.3 -1.6 -1.6 -1.4 -1.6 -2.2 -.9 -2.1 -.2 -4.8 1.9 -4.9 7.3 -9.9 4.7 -3zM76.2 -107.4l6.4 -1 6.5 .6 4.9 1.6 4.8 3 4.9 5.3 3 5.5 1.8 6.5 .5 6.5 -.7 8.1 -1.9 8.1 -5.2 16.2 -3.2 6.5 -3.9 4.9 -5 4.1 -6.5 3.9 -6.4 2.5 -6.5 1.3 -3.3 -.1 -3.2 -.7 -4.5 -2.9 -3.6 -4.4 -3.3 -6.4 -2 -7.1 -2.7 -16.2 -.8 -9.7 .2 -6.5 1.2 -6.5 1.9 -4.8 2.2 -3.3 4.9 -4.5 6.5 -4.5 6.5 -3.6 5 -1.9zM-69.7 77.7l3.3 -.9 3.2 .8 14.6 7.8 2.5 2.1 2.1 3.2 .5 1.7 0 3.2 -1.2 3.2 -3.3 3.3 -10.3 4.2 -4.9 1.1 -3.2 0 -3.3 -.7 -2.6 -1.4 -1.9 -1.6 -1.3 -1.6 -1.4 -3.3 -.5 -3.2 .2 -3.2 1.3 -4.9 2.2 -4.9 2.1 -3.2 1.8 -1.6zM71.3 -83.1l3.2 -.5 3.3 .1 3.2 .9 3.3 2 3.5 4.4 1.3 3.3 1 4.8 .1 4.9 -.4 4.9 -1.4 6.5 -1.6 4.8 -1.8 3.3 -2.6 3.2 -3 2.3 -3.2 1.5 -3.3 .6 -3.2 -.1 -4.9 -2.2 -2.2 -2.1 -2.1 -3.2 -1.9 -6.5 -.6 -6.5 0 -6.5 .6 -4.9 1.3 -4.8 1.6 -3.3 1.7 -2.2 3.2 -2.6 3.5 -1.6zM-61.6 88.6l3.3 -.4 3.4 .9 1.2 1.6 .2 1.7 -1.6 2.4 -3.2 1.1 -3.3 -.8 -1.3 -1.1 -.8 -1.6 .1 -1.7 1 -1.6z"/></g></g><use href="#hd"/></g><rect x="429.2" y="1407.3" width="45.6" height="13.9"/><rect x="429.2" y="1737.5" width="45.7" height="13.8"/><rect x="429.2" y="2072.5" width="45.7" height="13.8"/><rect x="221.3" y="1555.7" width="45.8" height="13.6"/><rect x="638.4" y="1555.5" width="45.6" height="13.9"/><rect x="1059.2" y="1555.3" width="45.2" height="13.4"/><g transform="translate(831,1372.5) scale(0.07270,0.07284) translate(-425,-220)"><path d="M425,258 L520,260 C590,262 620,300 620,390 L620,560 C622,650 660,700 760,703 L828,705 M760,706 C660,710 622,760 620,850 L620,1040 C620,1120 590,1150 520,1152 L425,1154" fill="none" stroke="#000" stroke-width="76"/><path d="M620,380 L620,565 M620,845 L620,1050" fill="none" stroke="#000" stroke-width="92"/></g><g transform="translate(831,1698.5) scale(0.07270,0.07274) translate(-425,-220)"><path d="M425,258 L520,260 C590,262 620,300 620,390 L620,560 C622,650 660,700 760,703 L828,705 M760,706 C660,710 622,760 620,850 L620,1040 C620,1120 590,1150 520,1152 L425,1154" fill="none" stroke="#000" stroke-width="76"/><path d="M620,380 L620,565 M620,845 L620,1050" fill="none" stroke="#000" stroke-width="92"/></g><g transform="translate(831,2038.6) scale(0.07270,0.07233) translate(-425,-220)"><path d="M425,258 L520,260 C590,262 620,300 620,390 L620,560 C622,650 660,700 760,703 L828,705 M760,706 C660,710 622,760 620,850 L620,1040 C620,1120 590,1150 520,1152 L425,1154" fill="none" stroke="#000" stroke-width="76"/><path d="M620,380 L620,565 M620,845 L620,1050" fill="none" stroke="#000" stroke-width="92"/></g><g transform="translate(195.3,1871.5) scale(0.10194,0.10195) translate(-150,-245)"><path d="M188,245 L188,280 C190,330 230,345 300,346 L520,349 C590,352 630,375 640,420 L640,450 M640,420 C650,375 690,352 760,349 L980,346 C1050,345 1090,330 1092,280 L1092,245" fill="none" stroke="#000" stroke-width="56" stroke-linejoin="miter"/><path d="M150,245 h75 v45 h-75z M1055,245 h75 v45 h-75z M602,405 h76 v45 h-76z"/></g><g transform="translate(609.1,1871.5) scale(0.10194,0.10195) translate(-150,-245)"><path d="M188,245 L188,280 C190,330 230,345 300,346 L520,349 C590,352 630,375 640,420 L640,450 M640,420 C650,375 690,352 760,349 L980,346 C1050,345 1090,330 1092,280 L1092,245" fill="none" stroke="#000" stroke-width="56" stroke-linejoin="miter"/><path d="M150,245 h75 v45 h-75z M1055,245 h75 v45 h-75z M602,405 h76 v45 h-76z"/></g><g transform="translate(1028.7,1871.5) scale(0.10194,0.10195) translate(-150,-245)"><path d="M188,245 L188,280 C190,330 230,345 300,346 L520,349 C590,352 630,375 640,420 L640,450 M640,420 C650,375 690,352 760,349 L980,346 C1050,345 1090,330 1092,280 L1092,245" fill="none" stroke="#000" stroke-width="56" stroke-linejoin="miter"/><path d="M150,245 h75 v45 h-75z M1055,245 h75 v45 h-75z M602,405 h76 v45 h-76z"/></g><text x="128.6" y="2205.9" font-family="DejaVu Sans, sans-serif" font-size="34.8" font-weight="normal" >contra</text><text x="276" y="2205.9" font-family="DejaVu Sans, sans-serif" font-size="34.8" font-weight="normal" >ipsi</text><g><rect x="1228.90" y="1929.60" width="16.30" height="4.44" fill="#870000"/><rect x="1228.90" y="1933.44" width="16.30" height="4.44" fill="#970000"/><rect x="1228.90" y="1937.28" width="16.30" height="4.44" fill="#a70000"/><rect x="1228.90" y="1941.12" width="16.30" height="4.44" fill="#b70000"/><rect x="1228.90" y="1944.96" width="16.30" height="4.44" fill="#c70000"/><rect x="1228.90" y="1948.80" width="16.30" height="4.44" fill="#d70000"/><rect x="1228.90" y="1952.63" width="16.30" height="4.44" fill="#e70000"/><rect x="1228.90" y="1956.47" width="16.30" height="4.44" fill="#f70000"/><rect x="1228.90" y="1960.31" width="16.30" height="4.44" fill="#ff0800"/><rect x="1228.90" y="1964.15" width="16.30" height="4.44" fill="#ff1800"/><rect x="1228.90" y="1967.99" width="16.30" height="4.44" fill="#ff2800"/><rect x="1228.90" y="1971.83" width="16.30" height="4.44" fill="#ff3800"/><rect x="1228.90" y="1975.67" width="16.30" height="4.44" fill="#ff4800"/><rect x="1228.90" y="1979.51" width="16.30" height="4.44" fill="#ff5800"/><rect x="1228.90" y="1983.35" width="16.30" height="4.44" fill="#ff6800"/><rect x="1228.90" y="1987.19" width="16.30" height="4.44" fill="#ff7800"/><rect x="1228.90" y="1991.03" width="16.30" height="4.44" fill="#ff8700"/><rect x="1228.90" y="1994.86" width="16.30" height="4.44" fill="#ff9700"/><rect x="1228.90" y="1998.70" width="16.30" height="4.44" fill="#ffa700"/><rect x="1228.90" y="2002.54" width="16.30" height="4.44" fill="#ffb700"/><rect x="1228.90" y="2006.38" width="16.30" height="4.44" fill="#ffc700"/><rect x="1228.90" y="2010.22" width="16.30" height="4.44" fill="#ffd700"/><rect x="1228.90" y="2014.06" width="16.30" height="4.44" fill="#ffe700"/><rect x="1228.90" y="2017.90" width="16.30" height="4.44" fill="#fff700"/><rect x="1228.90" y="2021.74" width="16.30" height="4.44" fill="#f7ff08"/><rect x="1228.90" y="2025.58" width="16.30" height="4.44" fill="#e7ff18"/><rect x="1228.90" y="2029.42" width="16.30" height="4.44" fill="#d7ff28"/><rect x="1228.90" y="2033.25" width="16.30" height="4.44" fill="#c7ff38"/><rect x="1228.90" y="2037.09" width="16.30" height="4.44" fill="#b7ff48"/><rect x="1228.90" y="2040.93" width="16.30" height="4.44" fill="#a7ff58"/><rect x="1228.90" y="2044.77" width="16.30" height="4.44" fill="#97ff68"/><rect x="1228.90" y="2048.61" width="16.30" height="4.44" fill="#87ff78"/><rect x="1228.90" y="2052.45" width="16.30" height="4.44" fill="#78ff87"/><rect x="1228.90" y="2056.29" width="16.30" height="4.44" fill="#68ff97"/><rect x="1228.90" y="2060.13" width="16.30" height="4.44" fill="#58ffa7"/><rect x="1228.90" y="2063.97" width="16.30" height="4.44" fill="#48ffb7"/><rect x="1228.90" y="2067.81" width="16.30" height="4.44" fill="#38ffc7"/><rect x="1228.90" y="2071.65" width="16.30" height="4.44" fill="#28ffd7"/><rect x="1228.90" y="2075.48" width="16.30" height="4.44" fill="#18ffe7"/><rect x="1228.90" y="2079.32" width="16.30" height="4.44" fill="#08fff7"/><rect x="1228.90" y="2083.16" width="16.30" height="4.44" fill="#00f7ff"/><rect x="1228.90" y="2087.00" width="16.30" height="4.44" fill="#00e7ff"/><rect x="1228.90" y="2090.84" width="16.30" height="4.44" fill="#00d7ff"/><rect x="1228.90" y="2094.68" width="16.30" height="4.44" fill="#00c7ff"/><rect x="1228.90" y="2098.52" width="16.30" height="4.44" fill="#00b7ff"/><rect x="1228.90" y="2102.36" width="16.30" height="4.44" fill="#00a7ff"/><rect x="1228.90" y="2106.20" width="16.30" height="4.44" fill="#0097ff"/><rect x="1228.90" y="2110.04" width="16.30" height="4.44" fill="#0087ff"/><rect x="1228.90" y="2113.88" width="16.30" height="4.44" fill="#0078ff"/><rect x="1228.90" y="2117.71" width="16.30" height="4.44" fill="#0068ff"/><rect x="1228.90" y="2121.55" width="16.30" height="4.44" fill="#0058ff"/><rect x="1228.90" y="2125.39" width="16.30" height="4.44" fill="#0048ff"/><rect x="1228.90" y="2129.23" width="16.30" height="4.44" fill="#0038ff"/><rect x="1228.90" y="2133.07" width="16.30" height="4.44" fill="#0028ff"/><rect x="1228.90" y="2136.91" width="16.30" height="4.44" fill="#0018ff"/><rect x="1228.90" y="2140.75" width="16.30" height="4.44" fill="#0008ff"/><rect x="1228.90" y="2144.59" width="16.30" height="4.44" fill="#0000f7"/><rect x="1228.90" y="2148.43" width="16.30" height="4.44" fill="#0000e7"/><rect x="1228.90" y="2152.27" width="16.30" height="4.44" fill="#0000d7"/><rect x="1228.90" y="2156.10" width="16.30" height="4.44" fill="#0000c7"/><rect x="1228.90" y="2159.94" width="16.30" height="4.44" fill="#0000b7"/><rect x="1228.90" y="2163.78" width="16.30" height="4.44" fill="#0000a7"/><rect x="1228.90" y="2167.62" width="16.30" height="4.44" fill="#000097"/><rect x="1228.90" y="2171.46" width="16.30" height="4.44" fill="#000087"/><rect x="1227.90" y="1928.60" width="18.30" height="247.70" fill="none" stroke="#333" stroke-width="2"/></g><text x="1279.9" y="1938.6" font-family="DejaVu Sans, sans-serif" font-size="35.5" font-weight="normal" >0.1</text><text x="1279.9" y="2060.9" font-family="DejaVu Sans, sans-serif" font-size="35.5" font-weight="normal" >0</text><text x="1268.8" y="2182.4" font-family="DejaVu Sans, sans-serif" font-size="35.5" font-weight="normal" >-0.1</text><text transform="translate(1365.9,2120.4) rotate(-90)" font-family="DejaVu Sans, sans-serif" font-size="33.9">log-power</text><g transform="translate(0,1366.5) scale(0.065550)" fill="none" stroke="#222" stroke-width="19" stroke-linejoin="round" stroke-linecap="round"><path d="M180,1380 L205,760 C190,740 168,715 165,680 L165,335 C165,315 180,305 200,305 C220,305 235,318 235,335 L235,500 M235,335 L235,250 C235,235 248,225 265,225 C283,225 295,238 295,255 L295,500 M295,255 L295,210 C295,195 308,185 322,185 C338,185 350,197 350,212 L350,500 M350,250 C350,235 365,225 380,225 C398,225 410,238 410,255 L410,612 C430,600 450,560 460,520 C470,490 490,472 515,470 C540,470 545,480 540,495 L520,575 C510,630 500,650 470,680 L410,740 L435,1380"/><path d="M180,1380 L205,760 C190,740 168,715 165,680 L165,335 C165,315 180,305 200,305 C220,305 235,318 235,335 L235,500 M235,335 L235,250 C235,235 248,225 265,225 C283,225 295,238 295,255 L295,500 M295,255 L295,210 C295,195 308,185 322,185 C338,185 350,197 350,212 L350,500 M350,250 C350,235 365,225 380,225 C398,225 410,238 410,255 L410,612 C430,600 450,560 460,520 C470,490 490,472 515,470 C540,470 545,480 540,495 L520,575 C510,630 500,650 470,680 L410,740 L435,1380" transform="translate(1240,0) scale(-1,1)"/></g><g transform="translate(0,1666.5) scale(0.065550)" fill="none" stroke="#111" stroke-width="20" stroke-linejoin="round" stroke-linecap="round"><path d="M985,930 L530,510 C525,470 505,440 480,415 L275,196 C262,178 240,165 222,170 C206,175 200,190 207,203 M324.7,338.7 L180,186 C168,165 148,152 130,156 C112,160 100,175 104,190 M284.7,387.7 L104,190 C92,172 72,165 58,170 C42,176 36,192 42,210 L52,232 M242.4,427.7 L57.8,249.8 C48,240 30,240 22,252 C14,264 16,280 24,290 L250,520 C230,525 180,505 150,505 C120,505 100,520 100,535 C100,545 110,552 125,560 L225,620 C240,630 260,635 290,636 L375,632 L815,1105" transform="translate(1240,0) scale(-1,1)"/><path d="M530,510 L985,930 L815,1105 L375,632 Z" fill="#fff" stroke="none"/><path d="M985,930 L530,510 C525,470 505,440 480,415 L275,196 C262,178 240,165 222,170 C206,175 200,190 207,203 M324.7,338.7 L180,186 C168,165 148,152 130,156 C112,160 100,175 104,190 M284.7,387.7 L104,190 C92,172 72,165 58,170 C42,176 36,192 42,210 L52,232 M242.4,427.7 L57.8,249.8 C48,240 30,240 22,252 C14,264 16,280 24,290 L250,520 C230,525 180,505 150,505 C120,505 100,520 100,535 C100,545 110,552 125,560 L225,620 C240,630 260,635 290,636 L375,632 L815,1105"/></g></svg></body></html>
